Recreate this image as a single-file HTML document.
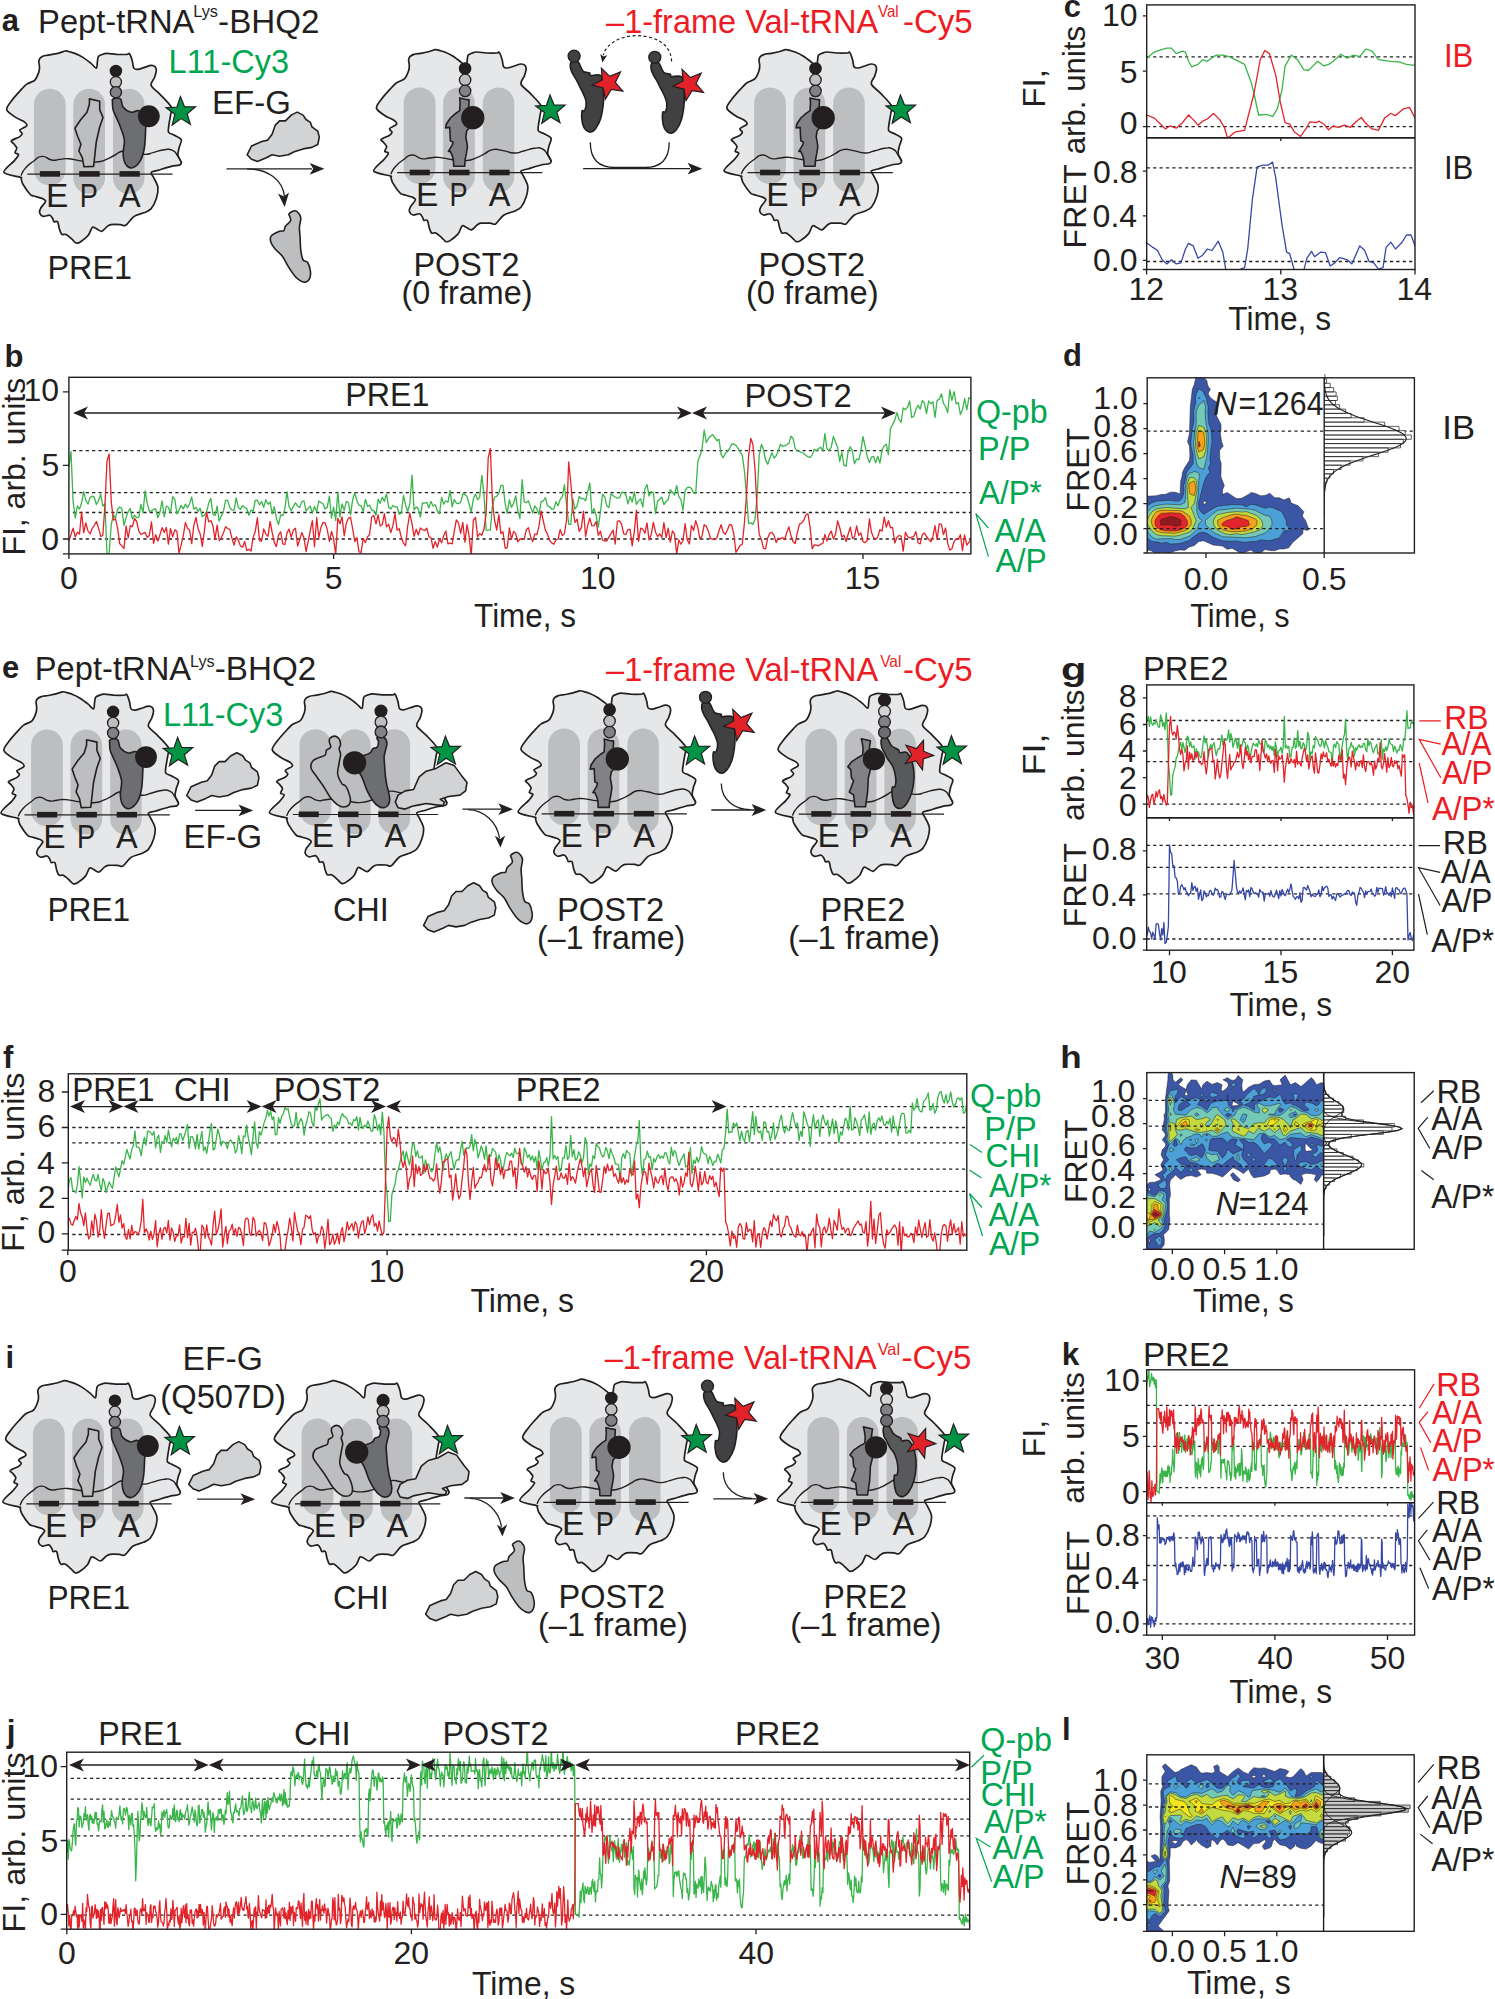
<!DOCTYPE html>
<html><head><meta charset="utf-8"><style>
html,body{margin:0;padding:0;background:#fff;}
svg{display:block;font-family:'Liberation Sans',sans-serif;font-size:32px;fill:#231f20;}
</style></head><body>
<svg width="1495" height="1999" viewBox="0 0 1495 1999">
<defs><clipPath id="cb"><rect x="68.9" y="377.3" width="902" height="176.6"/></clipPath>
<clipPath id="cc1"><rect x="1146.7" y="4.9" width="268.3" height="133"/></clipPath>
<clipPath id="cc2"><rect x="1146.7" y="137.9" width="268.3" height="131.6"/></clipPath>
<clipPath id="cd"><rect x="1147.2" y="377.8" width="177" height="175.2"/></clipPath>
<clipPath id="cdh"><rect x="1324.2" y="377.8" width="90.2" height="175.2"/></clipPath>
<clipPath id="ch"><rect x="1146.8" y="1072.6" width="176.8" height="176.7"/></clipPath>
<clipPath id="chh"><rect x="1323.6" y="1072.6" width="90.6" height="176.7"/></clipPath>
<clipPath id="cl"><rect x="1146.8" y="1754.8" width="176.8" height="176.5"/></clipPath>
<clipPath id="clh"><rect x="1323.6" y="1754.8" width="90.6" height="176.5"/></clipPath>
<clipPath id="cf"><rect x="68.3" y="1073.8" width="898.5" height="176.4"/></clipPath>
<clipPath id="cg1"><rect x="1146.7" y="684.9" width="267.2" height="133"/></clipPath>
<clipPath id="cg2"><rect x="1146.7" y="817.9" width="267.2" height="132.3"/></clipPath>
<clipPath id="cj"><rect x="66.7" y="1752.2" width="903" height="177"/></clipPath>
<clipPath id="ck1"><rect x="1146.7" y="1369.8" width="267.9" height="133"/></clipPath>
<clipPath id="ck2"><rect x="1146.7" y="1502.8" width="267.9" height="132.3"/></clipPath></defs>
<g transform="translate(0,0)"><path d="M6.7,109.6C6.1,107 10,103 12,100.2C14,97.4 17.9,93.2 20.1,90.8C22.3,88.4 24.6,85.7 26.8,84.1C29,82.5 33,81.9 34.8,80.1C36.6,78.3 38.1,74.1 38.8,72.1C39.5,70.1 39.5,68.4 39.5,66.8C39.5,65.2 38.7,62.7 38.8,61.4C38.9,60.1 39.3,58.9 40.1,58.1C40.9,57.3 42.5,56.3 44.1,55.8C45.7,55.3 48.6,55.1 50.8,54.7C53,54.3 56.7,53.7 58.9,53.1C61.1,52.5 64,51.2 65.6,51C67.2,50.8 68.2,51.4 69.6,51.8C71,52.2 72.9,52.6 74.9,53.4C76.9,54.2 80.5,55.9 82.9,57.4C85.3,58.9 89,61.8 91,63.4C93,65 95.3,68.4 96.3,68.1C97.3,67.8 97.1,63.1 97.4,61.4C97.7,59.7 97.7,57.7 98.3,56.7C98.9,55.7 100.4,55.2 101.7,54.7C103,54.2 104.8,53.4 107,53.4C109.2,53.4 113.4,54.2 116.4,54.4C119.4,54.5 125.2,54.5 127.1,54.4C129,54.2 128.6,53.2 129.1,53.4C129.6,53.5 129.9,54.2 130.4,55.4C130.9,56.6 131.9,59.5 132.4,61.4C132.9,63.3 133,66.9 133.8,68.1C134.6,69.3 136.2,69.5 137.8,69.4C139.4,69.3 142.5,68 144.5,67.4C146.5,66.8 149.6,65.5 151.2,65.4C152.8,65.3 154.4,66 155.2,66.8C156,67.6 156.4,69.2 156.3,70.8C156.2,72.4 155.3,75.3 154.5,77.5C153.7,79.7 150.3,82.9 151.2,85.5C152.1,88.1 157.5,91.6 160.5,94.8C163.5,98 169.7,103.9 171.2,106.9C172.7,109.9 171,112.1 170.6,114.9C170.2,117.7 169.1,123 168.8,125.6C168.5,128.2 167.8,130.9 168.6,132.3C169.4,133.7 172,133.9 173.9,135C175.8,136.1 180.5,137.9 181.3,139.7C182.1,141.5 179.8,144.7 179.3,147C178.8,149.3 177.6,152.7 177.9,155C178.2,157.3 181.1,160.9 181.3,162.4C181.5,163.9 180.8,164.5 179.3,165.1C177.8,165.7 174.4,165.6 171.2,166.4C168,167.2 160.9,169.5 157.9,170.4C154.9,171.3 151.8,171.3 151.2,172.4C150.6,173.5 152.8,175.6 153.8,177.8C154.8,180 157.5,184.2 157.9,187.2C158.3,190.2 157.5,194.7 156.5,197.9C155.5,201.1 153,206.4 151.2,208.6C149.4,210.8 147.1,211.4 144.5,212.6C141.9,213.8 136.6,214.7 133.8,216.6C131,218.5 127.8,224.1 125.8,225.3C123.8,226.5 122.6,224.7 120.4,224.6C118.2,224.5 113,224.3 111,224.6C109,224.9 108.4,225.6 107,226.6C105.6,227.6 103.3,231 101.7,231.3C100.1,231.6 97.7,229.2 96.3,228.6C94.9,228 93.5,226.3 92.3,227.3C91.1,228.3 90.1,233.1 88.3,235.3C86.5,237.5 82.1,240.8 80.3,242C78.5,243.2 77.2,243.4 76,243C74.8,242.6 73.5,240.5 72,239.2C70.5,237.9 67.5,235.1 66,234.4C64.5,233.7 62.8,235.2 61.8,234.4C60.8,233.6 60,230.9 59.4,229C58.8,227.1 58.4,222.9 57.6,221.8C56.8,220.7 54.7,222.2 54,221.8C53.3,221.4 53.4,219.8 52.8,218.8C52.2,217.8 51.2,215.6 49.8,215.2C48.4,214.8 44.7,216.8 43.2,216.4C41.7,216 40,214.1 39.6,212.8C39.2,211.5 39.9,209.7 40.8,208C41.7,206.3 45.4,202.8 45.6,201.4C45.8,200 43.8,199.2 42,198.4C40.2,197.6 35.4,196.6 33.6,196C31.8,195.4 31.6,196 30,194.2C28.4,192.4 24.2,186.4 22.8,184C21.4,181.6 21.4,179 21,178C20.6,177 23,178.3 20.4,177.4C17.8,176.5 4.8,174.8 3.9,172.3C3,169.8 12.2,163.3 14.4,160.6C16.6,157.9 18.5,155.8 18.6,154.6C18.7,153.4 15.3,153.8 15,152.8C14.7,151.8 17,149.3 16.8,148C16.6,146.7 14.6,144.9 13.8,143.8C13,142.7 10.5,141.9 11.4,140.8C12.3,139.7 18.2,137.7 19.8,136.6C21.4,135.5 22.2,134.6 22.2,133.6C22.2,132.6 19.1,131.2 19.8,130C20.5,128.8 26.2,126.9 26.8,125.6C27.4,124.3 25.7,122.8 24.1,121.6C22.5,120.4 18.6,119.4 16,117.6C13.4,115.8 7.3,112.2 6.7,109.6Z" fill="#e6e7e8"/>
<rect x="33.9" y="88.8" width="31.8" height="96.7" rx="15.9" fill="#bcbec0"/>
<rect x="73.3" y="88.8" width="31.7" height="105" rx="15.9" fill="#bcbec0"/>
<rect x="113" y="88.8" width="31.5" height="105" rx="15.8" fill="#bcbec0"/>
<path d="M6.7,109.6C6.1,107 10,103 12,100.2C14,97.4 17.9,93.2 20.1,90.8C22.3,88.4 24.6,85.7 26.8,84.1C29,82.5 33,81.9 34.8,80.1C36.6,78.3 38.1,74.1 38.8,72.1C39.5,70.1 39.5,68.4 39.5,66.8C39.5,65.2 38.7,62.7 38.8,61.4C38.9,60.1 39.3,58.9 40.1,58.1C40.9,57.3 42.5,56.3 44.1,55.8C45.7,55.3 48.6,55.1 50.8,54.7C53,54.3 56.7,53.7 58.9,53.1C61.1,52.5 64,51.2 65.6,51C67.2,50.8 68.2,51.4 69.6,51.8C71,52.2 72.9,52.6 74.9,53.4C76.9,54.2 80.5,55.9 82.9,57.4C85.3,58.9 89,61.8 91,63.4C93,65 95.3,68.4 96.3,68.1C97.3,67.8 97.1,63.1 97.4,61.4C97.7,59.7 97.7,57.7 98.3,56.7C98.9,55.7 100.4,55.2 101.7,54.7C103,54.2 104.8,53.4 107,53.4C109.2,53.4 113.4,54.2 116.4,54.4C119.4,54.5 125.2,54.5 127.1,54.4C129,54.2 128.6,53.2 129.1,53.4C129.6,53.5 129.9,54.2 130.4,55.4C130.9,56.6 131.9,59.5 132.4,61.4C132.9,63.3 133,66.9 133.8,68.1C134.6,69.3 136.2,69.5 137.8,69.4C139.4,69.3 142.5,68 144.5,67.4C146.5,66.8 149.6,65.5 151.2,65.4C152.8,65.3 154.4,66 155.2,66.8C156,67.6 156.4,69.2 156.3,70.8C156.2,72.4 155.3,75.3 154.5,77.5C153.7,79.7 150.3,82.9 151.2,85.5C152.1,88.1 157.5,91.6 160.5,94.8C163.5,98 169.7,103.9 171.2,106.9C172.7,109.9 171,112.1 170.6,114.9C170.2,117.7 169.1,123 168.8,125.6C168.5,128.2 167.8,130.9 168.6,132.3C169.4,133.7 172,133.9 173.9,135C175.8,136.1 180.5,137.9 181.3,139.7C182.1,141.5 179.8,144.7 179.3,147C178.8,149.3 177.6,152.7 177.9,155C178.2,157.3 181.1,160.9 181.3,162.4C181.5,163.9 180.8,164.5 179.3,165.1C177.8,165.7 174.4,165.6 171.2,166.4C168,167.2 160.9,169.5 157.9,170.4C154.9,171.3 151.8,171.3 151.2,172.4C150.6,173.5 152.8,175.6 153.8,177.8C154.8,180 157.5,184.2 157.9,187.2C158.3,190.2 157.5,194.7 156.5,197.9C155.5,201.1 153,206.4 151.2,208.6C149.4,210.8 147.1,211.4 144.5,212.6C141.9,213.8 136.6,214.7 133.8,216.6C131,218.5 127.8,224.1 125.8,225.3C123.8,226.5 122.6,224.7 120.4,224.6C118.2,224.5 113,224.3 111,224.6C109,224.9 108.4,225.6 107,226.6C105.6,227.6 103.3,231 101.7,231.3C100.1,231.6 97.7,229.2 96.3,228.6C94.9,228 93.5,226.3 92.3,227.3C91.1,228.3 90.1,233.1 88.3,235.3C86.5,237.5 82.1,240.8 80.3,242C78.5,243.2 77.2,243.4 76,243C74.8,242.6 73.5,240.5 72,239.2C70.5,237.9 67.5,235.1 66,234.4C64.5,233.7 62.8,235.2 61.8,234.4C60.8,233.6 60,230.9 59.4,229C58.8,227.1 58.4,222.9 57.6,221.8C56.8,220.7 54.7,222.2 54,221.8C53.3,221.4 53.4,219.8 52.8,218.8C52.2,217.8 51.2,215.6 49.8,215.2C48.4,214.8 44.7,216.8 43.2,216.4C41.7,216 40,214.1 39.6,212.8C39.2,211.5 39.9,209.7 40.8,208C41.7,206.3 45.4,202.8 45.6,201.4C45.8,200 43.8,199.2 42,198.4C40.2,197.6 35.4,196.6 33.6,196C31.8,195.4 31.6,196 30,194.2C28.4,192.4 24.2,186.4 22.8,184C21.4,181.6 21.4,179 21,178C20.6,177 23,178.3 20.4,177.4C17.8,176.5 4.8,174.8 3.9,172.3C3,169.8 12.2,163.3 14.4,160.6C16.6,157.9 18.5,155.8 18.6,154.6C18.7,153.4 15.3,153.8 15,152.8C14.7,151.8 17,149.3 16.8,148C16.6,146.7 14.6,144.9 13.8,143.8C13,142.7 10.5,141.9 11.4,140.8C12.3,139.7 18.2,137.7 19.8,136.6C21.4,135.5 22.2,134.6 22.2,133.6C22.2,132.6 19.1,131.2 19.8,130C20.5,128.8 26.2,126.9 26.8,125.6C27.4,124.3 25.7,122.8 24.1,121.6C22.5,120.4 18.6,119.4 16,117.6C13.4,115.8 7.3,112.2 6.7,109.6Z" fill="none" stroke="#231f20" stroke-width="1.7" stroke-linejoin="round"/>
<path d="M21,175.6C22.3,173.4 21.4,172.7 25.2,168.4C29,164.1 28.6,164.8 33.6,161.2C38.6,157.6 36.6,156.8 42,156.4C47.4,156 46.2,159.1 51.6,160C57,160.9 54.8,159.8 60,159.4C65.2,159 62.1,158.3 69,158.8C75.9,159.3 74.7,160.1 82.9,161.1C91.1,162.1 89.1,162.6 96.3,162C103.5,161.4 101.4,161.2 107,159.1C112.6,157 110.2,157.4 115,155C119.8,152.6 117.7,151.9 123.1,151C128.5,150.1 126.6,151 133,152C139.4,153 138.3,154.3 144.5,154.4C150.7,154.5 147.8,153.8 153.8,152.4C159.8,151 158.9,150.3 164.5,149.7C170.1,149.1 168.6,148.4 172.6,150.4C176.6,152.4 175.3,152.8 177.9,156.4C180.5,160 180.3,160.6 181.3,162.4" fill="none" stroke="#231f20" stroke-width="1.4"/>
<path d="M27.3,174.1H172.6" stroke="#231f20" stroke-width="1.2"/>
<rect x="39.9" y="171.1" width="20.1" height="5.6" fill="#231f20"/>
<rect x="79.2" y="171.1" width="20.5" height="5.6" fill="#231f20"/>
<rect x="119.5" y="171.1" width="20.3" height="5.6" fill="#231f20"/>
<text x="46.1" y="207.1" textLength="22.3" lengthAdjust="spacingAndGlyphs" font-size="32.5">E</text>
<text x="79.7" y="207.1" textLength="18.1" lengthAdjust="spacingAndGlyphs" font-size="32.5">P</text>
<text x="118.9" y="207.1" font-size="32.5">A</text><path d="M89.4,98.9 99.7,101.3 99.7,109.6 103,117.6 99.7,127 96.3,141.7 95,153.7 93.6,166.4 84,166.8 82.3,157.7 78.9,151 80.9,144.3 77.6,136.3 74.9,128.3 80.3,120.3 87,112.2 89.4,104.2Z" fill="#bcbec0" stroke="#231f20" stroke-width="1.6" stroke-linejoin="round"/>
<path d="M113,98.9C114.4,98.4 118.7,97.5 120.4,98.9C122.1,100.2 121.3,104.7 123.1,106.9C124.9,109.1 128.4,111.6 131.1,112.2C133.8,112.9 136.5,109.6 139.1,110.9C141.8,112.2 146,117.6 147.2,120.3C148.3,122.9 146.3,122.5 145.8,127C145.4,131.4 145.4,141.4 144.5,147C143.6,152.6 142.5,156.9 140.5,160.4C138.5,163.9 134.9,167.1 132.4,167.8C130,168.4 127.3,166.8 125.8,164.4C124.2,162.1 123.3,157.7 123.1,153.7C122.9,149.7 124.9,144.8 124.4,140.3C124,135.9 121.7,130.7 120.4,127C119.1,123.2 117.6,120.5 116.4,117.6C115.2,114.7 113.7,112.2 113,109.6C112.4,106.9 112.4,103.3 112.4,101.5C112.4,99.8 111.7,99.3 113,98.9Z" fill="#6d6e71" stroke="#231f20" stroke-width="1.6" stroke-linejoin="round"/>
<circle cx="115.9" cy="71" r="5.6" fill="#231f20" stroke="#231f20" stroke-width="1.3"/>
<circle cx="115.9" cy="82.1" r="5.6" fill="#bcbec0" stroke="#231f20" stroke-width="1.3"/>
<circle cx="115.9" cy="92.2" r="5.6" fill="#808285" stroke="#231f20" stroke-width="1.3"/>
<circle cx="148.8" cy="116.3" r="10.3" fill="#231f20" stroke="#231f20" stroke-width="1.3"/>
<path d="M180.4,96.6 184.5,106.7 195.5,106.8 187.2,113.9 190.4,124.3 181.1,118.6 172.2,125 174.8,114.3 166,107.8 176.9,107Z" fill="#009444" stroke="#231f20" stroke-width="1.2"/></g>
<g transform="translate(369.8,-1.4)"><path d="M6.7,109.6C6.1,107 10,103 12,100.2C14,97.4 17.9,93.2 20.1,90.8C22.3,88.4 24.6,85.7 26.8,84.1C29,82.5 33,81.9 34.8,80.1C36.6,78.3 38.1,74.1 38.8,72.1C39.5,70.1 39.5,68.4 39.5,66.8C39.5,65.2 38.7,62.7 38.8,61.4C38.9,60.1 39.3,58.9 40.1,58.1C40.9,57.3 42.5,56.3 44.1,55.8C45.7,55.3 48.6,55.1 50.8,54.7C53,54.3 56.7,53.7 58.9,53.1C61.1,52.5 64,51.2 65.6,51C67.2,50.8 68.2,51.4 69.6,51.8C71,52.2 72.9,52.6 74.9,53.4C76.9,54.2 80.5,55.9 82.9,57.4C85.3,58.9 89,61.8 91,63.4C93,65 95.3,68.4 96.3,68.1C97.3,67.8 97.1,63.1 97.4,61.4C97.7,59.7 97.7,57.7 98.3,56.7C98.9,55.7 100.4,55.2 101.7,54.7C103,54.2 104.8,53.4 107,53.4C109.2,53.4 113.4,54.2 116.4,54.4C119.4,54.5 125.2,54.5 127.1,54.4C129,54.2 128.6,53.2 129.1,53.4C129.6,53.5 129.9,54.2 130.4,55.4C130.9,56.6 131.9,59.5 132.4,61.4C132.9,63.3 133,66.9 133.8,68.1C134.6,69.3 136.2,69.5 137.8,69.4C139.4,69.3 142.5,68 144.5,67.4C146.5,66.8 149.6,65.5 151.2,65.4C152.8,65.3 154.4,66 155.2,66.8C156,67.6 156.4,69.2 156.3,70.8C156.2,72.4 155.3,75.3 154.5,77.5C153.7,79.7 150.3,82.9 151.2,85.5C152.1,88.1 157.5,91.6 160.5,94.8C163.5,98 169.7,103.9 171.2,106.9C172.7,109.9 171,112.1 170.6,114.9C170.2,117.7 169.1,123 168.8,125.6C168.5,128.2 167.8,130.9 168.6,132.3C169.4,133.7 172,133.9 173.9,135C175.8,136.1 180.5,137.9 181.3,139.7C182.1,141.5 179.8,144.7 179.3,147C178.8,149.3 177.6,152.7 177.9,155C178.2,157.3 181.1,160.9 181.3,162.4C181.5,163.9 180.8,164.5 179.3,165.1C177.8,165.7 174.4,165.6 171.2,166.4C168,167.2 160.9,169.5 157.9,170.4C154.9,171.3 151.8,171.3 151.2,172.4C150.6,173.5 152.8,175.6 153.8,177.8C154.8,180 157.5,184.2 157.9,187.2C158.3,190.2 157.5,194.7 156.5,197.9C155.5,201.1 153,206.4 151.2,208.6C149.4,210.8 147.1,211.4 144.5,212.6C141.9,213.8 136.6,214.7 133.8,216.6C131,218.5 127.8,224.1 125.8,225.3C123.8,226.5 122.6,224.7 120.4,224.6C118.2,224.5 113,224.3 111,224.6C109,224.9 108.4,225.6 107,226.6C105.6,227.6 103.3,231 101.7,231.3C100.1,231.6 97.7,229.2 96.3,228.6C94.9,228 93.5,226.3 92.3,227.3C91.1,228.3 90.1,233.1 88.3,235.3C86.5,237.5 82.1,240.8 80.3,242C78.5,243.2 77.2,243.4 76,243C74.8,242.6 73.5,240.5 72,239.2C70.5,237.9 67.5,235.1 66,234.4C64.5,233.7 62.8,235.2 61.8,234.4C60.8,233.6 60,230.9 59.4,229C58.8,227.1 58.4,222.9 57.6,221.8C56.8,220.7 54.7,222.2 54,221.8C53.3,221.4 53.4,219.8 52.8,218.8C52.2,217.8 51.2,215.6 49.8,215.2C48.4,214.8 44.7,216.8 43.2,216.4C41.7,216 40,214.1 39.6,212.8C39.2,211.5 39.9,209.7 40.8,208C41.7,206.3 45.4,202.8 45.6,201.4C45.8,200 43.8,199.2 42,198.4C40.2,197.6 35.4,196.6 33.6,196C31.8,195.4 31.6,196 30,194.2C28.4,192.4 24.2,186.4 22.8,184C21.4,181.6 21.4,179 21,178C20.6,177 23,178.3 20.4,177.4C17.8,176.5 4.8,174.8 3.9,172.3C3,169.8 12.2,163.3 14.4,160.6C16.6,157.9 18.5,155.8 18.6,154.6C18.7,153.4 15.3,153.8 15,152.8C14.7,151.8 17,149.3 16.8,148C16.6,146.7 14.6,144.9 13.8,143.8C13,142.7 10.5,141.9 11.4,140.8C12.3,139.7 18.2,137.7 19.8,136.6C21.4,135.5 22.2,134.6 22.2,133.6C22.2,132.6 19.1,131.2 19.8,130C20.5,128.8 26.2,126.9 26.8,125.6C27.4,124.3 25.7,122.8 24.1,121.6C22.5,120.4 18.6,119.4 16,117.6C13.4,115.8 7.3,112.2 6.7,109.6Z" fill="#e6e7e8"/>
<rect x="33.9" y="88.8" width="31.8" height="96.7" rx="15.9" fill="#bcbec0"/>
<rect x="73.3" y="88.8" width="31.7" height="105" rx="15.9" fill="#bcbec0"/>
<rect x="113" y="88.8" width="31.5" height="105" rx="15.8" fill="#bcbec0"/>
<path d="M6.7,109.6C6.1,107 10,103 12,100.2C14,97.4 17.9,93.2 20.1,90.8C22.3,88.4 24.6,85.7 26.8,84.1C29,82.5 33,81.9 34.8,80.1C36.6,78.3 38.1,74.1 38.8,72.1C39.5,70.1 39.5,68.4 39.5,66.8C39.5,65.2 38.7,62.7 38.8,61.4C38.9,60.1 39.3,58.9 40.1,58.1C40.9,57.3 42.5,56.3 44.1,55.8C45.7,55.3 48.6,55.1 50.8,54.7C53,54.3 56.7,53.7 58.9,53.1C61.1,52.5 64,51.2 65.6,51C67.2,50.8 68.2,51.4 69.6,51.8C71,52.2 72.9,52.6 74.9,53.4C76.9,54.2 80.5,55.9 82.9,57.4C85.3,58.9 89,61.8 91,63.4C93,65 95.3,68.4 96.3,68.1C97.3,67.8 97.1,63.1 97.4,61.4C97.7,59.7 97.7,57.7 98.3,56.7C98.9,55.7 100.4,55.2 101.7,54.7C103,54.2 104.8,53.4 107,53.4C109.2,53.4 113.4,54.2 116.4,54.4C119.4,54.5 125.2,54.5 127.1,54.4C129,54.2 128.6,53.2 129.1,53.4C129.6,53.5 129.9,54.2 130.4,55.4C130.9,56.6 131.9,59.5 132.4,61.4C132.9,63.3 133,66.9 133.8,68.1C134.6,69.3 136.2,69.5 137.8,69.4C139.4,69.3 142.5,68 144.5,67.4C146.5,66.8 149.6,65.5 151.2,65.4C152.8,65.3 154.4,66 155.2,66.8C156,67.6 156.4,69.2 156.3,70.8C156.2,72.4 155.3,75.3 154.5,77.5C153.7,79.7 150.3,82.9 151.2,85.5C152.1,88.1 157.5,91.6 160.5,94.8C163.5,98 169.7,103.9 171.2,106.9C172.7,109.9 171,112.1 170.6,114.9C170.2,117.7 169.1,123 168.8,125.6C168.5,128.2 167.8,130.9 168.6,132.3C169.4,133.7 172,133.9 173.9,135C175.8,136.1 180.5,137.9 181.3,139.7C182.1,141.5 179.8,144.7 179.3,147C178.8,149.3 177.6,152.7 177.9,155C178.2,157.3 181.1,160.9 181.3,162.4C181.5,163.9 180.8,164.5 179.3,165.1C177.8,165.7 174.4,165.6 171.2,166.4C168,167.2 160.9,169.5 157.9,170.4C154.9,171.3 151.8,171.3 151.2,172.4C150.6,173.5 152.8,175.6 153.8,177.8C154.8,180 157.5,184.2 157.9,187.2C158.3,190.2 157.5,194.7 156.5,197.9C155.5,201.1 153,206.4 151.2,208.6C149.4,210.8 147.1,211.4 144.5,212.6C141.9,213.8 136.6,214.7 133.8,216.6C131,218.5 127.8,224.1 125.8,225.3C123.8,226.5 122.6,224.7 120.4,224.6C118.2,224.5 113,224.3 111,224.6C109,224.9 108.4,225.6 107,226.6C105.6,227.6 103.3,231 101.7,231.3C100.1,231.6 97.7,229.2 96.3,228.6C94.9,228 93.5,226.3 92.3,227.3C91.1,228.3 90.1,233.1 88.3,235.3C86.5,237.5 82.1,240.8 80.3,242C78.5,243.2 77.2,243.4 76,243C74.8,242.6 73.5,240.5 72,239.2C70.5,237.9 67.5,235.1 66,234.4C64.5,233.7 62.8,235.2 61.8,234.4C60.8,233.6 60,230.9 59.4,229C58.8,227.1 58.4,222.9 57.6,221.8C56.8,220.7 54.7,222.2 54,221.8C53.3,221.4 53.4,219.8 52.8,218.8C52.2,217.8 51.2,215.6 49.8,215.2C48.4,214.8 44.7,216.8 43.2,216.4C41.7,216 40,214.1 39.6,212.8C39.2,211.5 39.9,209.7 40.8,208C41.7,206.3 45.4,202.8 45.6,201.4C45.8,200 43.8,199.2 42,198.4C40.2,197.6 35.4,196.6 33.6,196C31.8,195.4 31.6,196 30,194.2C28.4,192.4 24.2,186.4 22.8,184C21.4,181.6 21.4,179 21,178C20.6,177 23,178.3 20.4,177.4C17.8,176.5 4.8,174.8 3.9,172.3C3,169.8 12.2,163.3 14.4,160.6C16.6,157.9 18.5,155.8 18.6,154.6C18.7,153.4 15.3,153.8 15,152.8C14.7,151.8 17,149.3 16.8,148C16.6,146.7 14.6,144.9 13.8,143.8C13,142.7 10.5,141.9 11.4,140.8C12.3,139.7 18.2,137.7 19.8,136.6C21.4,135.5 22.2,134.6 22.2,133.6C22.2,132.6 19.1,131.2 19.8,130C20.5,128.8 26.2,126.9 26.8,125.6C27.4,124.3 25.7,122.8 24.1,121.6C22.5,120.4 18.6,119.4 16,117.6C13.4,115.8 7.3,112.2 6.7,109.6Z" fill="none" stroke="#231f20" stroke-width="1.7" stroke-linejoin="round"/>
<path d="M21,175.6C22.3,173.4 21.4,172.7 25.2,168.4C29,164.1 28.6,164.8 33.6,161.2C38.6,157.6 36.6,156.8 42,156.4C47.4,156 46.2,159.1 51.6,160C57,160.9 54.8,159.8 60,159.4C65.2,159 62.1,158.3 69,158.8C75.9,159.3 74.7,160.1 82.9,161.1C91.1,162.1 89.1,162.6 96.3,162C103.5,161.4 101.4,161.2 107,159.1C112.6,157 110.2,157.4 115,155C119.8,152.6 117.7,151.9 123.1,151C128.5,150.1 126.6,151 133,152C139.4,153 138.3,154.3 144.5,154.4C150.7,154.5 147.8,153.8 153.8,152.4C159.8,151 158.9,150.3 164.5,149.7C170.1,149.1 168.6,148.4 172.6,150.4C176.6,152.4 175.3,152.8 177.9,156.4C180.5,160 180.3,160.6 181.3,162.4" fill="none" stroke="#231f20" stroke-width="1.4"/>
<path d="M27.3,174.1H172.6" stroke="#231f20" stroke-width="1.2"/>
<rect x="39.9" y="171.1" width="20.1" height="5.6" fill="#231f20"/>
<rect x="79.2" y="171.1" width="20.5" height="5.6" fill="#231f20"/>
<rect x="119.5" y="171.1" width="20.3" height="5.6" fill="#231f20"/>
<text x="46.1" y="207.1" textLength="22.3" lengthAdjust="spacingAndGlyphs" font-size="32.5">E</text>
<text x="79.7" y="207.1" textLength="18.1" lengthAdjust="spacingAndGlyphs" font-size="32.5">P</text>
<text x="118.9" y="207.1" font-size="32.5">A</text><path d="M89.9,99.3 95.3,100.7 99.3,101.3 99,108 100.6,114.7 99.3,129.4 97,132.1 96,138.1 97.3,145.5 97.6,148.2 96.6,154.8 95.3,161.5 94.9,167.6 83.9,167.6 83.6,161.5 82.6,157.5 80.6,152.8 78.6,152.8 80.6,149.5 82.6,146.1 83.2,143.5 80.6,142.1 79.9,128.8 75.9,129.4 76.6,125.4 80.6,119.4 85.9,114.7 89.9,112 90.3,104Z" fill="#808285" stroke="#231f20" stroke-width="1.6" stroke-linejoin="round"/>
<circle cx="95.3" cy="69.9" r="5.7" fill="#231f20" stroke="#231f20" stroke-width="1.3"/>
<circle cx="95.3" cy="81.3" r="5.7" fill="#bcbec0" stroke="#231f20" stroke-width="1.3"/>
<circle cx="95.3" cy="92.3" r="5.7" fill="#808285" stroke="#231f20" stroke-width="1.3"/>
<circle cx="103" cy="119.1" r="11" fill="#231f20" stroke="#231f20" stroke-width="1.3"/>
<path d="M180.2,96.3 184.3,106.4 195.3,106.5 187,113.6 190.2,124 180.9,118.3 172,124.7 174.6,114 165.8,107.5 176.7,106.7Z" fill="#009444" stroke="#231f20" stroke-width="1.2"/></g>
<g transform="translate(720.2,-1.4)"><path d="M6.7,109.6C6.1,107 10,103 12,100.2C14,97.4 17.9,93.2 20.1,90.8C22.3,88.4 24.6,85.7 26.8,84.1C29,82.5 33,81.9 34.8,80.1C36.6,78.3 38.1,74.1 38.8,72.1C39.5,70.1 39.5,68.4 39.5,66.8C39.5,65.2 38.7,62.7 38.8,61.4C38.9,60.1 39.3,58.9 40.1,58.1C40.9,57.3 42.5,56.3 44.1,55.8C45.7,55.3 48.6,55.1 50.8,54.7C53,54.3 56.7,53.7 58.9,53.1C61.1,52.5 64,51.2 65.6,51C67.2,50.8 68.2,51.4 69.6,51.8C71,52.2 72.9,52.6 74.9,53.4C76.9,54.2 80.5,55.9 82.9,57.4C85.3,58.9 89,61.8 91,63.4C93,65 95.3,68.4 96.3,68.1C97.3,67.8 97.1,63.1 97.4,61.4C97.7,59.7 97.7,57.7 98.3,56.7C98.9,55.7 100.4,55.2 101.7,54.7C103,54.2 104.8,53.4 107,53.4C109.2,53.4 113.4,54.2 116.4,54.4C119.4,54.5 125.2,54.5 127.1,54.4C129,54.2 128.6,53.2 129.1,53.4C129.6,53.5 129.9,54.2 130.4,55.4C130.9,56.6 131.9,59.5 132.4,61.4C132.9,63.3 133,66.9 133.8,68.1C134.6,69.3 136.2,69.5 137.8,69.4C139.4,69.3 142.5,68 144.5,67.4C146.5,66.8 149.6,65.5 151.2,65.4C152.8,65.3 154.4,66 155.2,66.8C156,67.6 156.4,69.2 156.3,70.8C156.2,72.4 155.3,75.3 154.5,77.5C153.7,79.7 150.3,82.9 151.2,85.5C152.1,88.1 157.5,91.6 160.5,94.8C163.5,98 169.7,103.9 171.2,106.9C172.7,109.9 171,112.1 170.6,114.9C170.2,117.7 169.1,123 168.8,125.6C168.5,128.2 167.8,130.9 168.6,132.3C169.4,133.7 172,133.9 173.9,135C175.8,136.1 180.5,137.9 181.3,139.7C182.1,141.5 179.8,144.7 179.3,147C178.8,149.3 177.6,152.7 177.9,155C178.2,157.3 181.1,160.9 181.3,162.4C181.5,163.9 180.8,164.5 179.3,165.1C177.8,165.7 174.4,165.6 171.2,166.4C168,167.2 160.9,169.5 157.9,170.4C154.9,171.3 151.8,171.3 151.2,172.4C150.6,173.5 152.8,175.6 153.8,177.8C154.8,180 157.5,184.2 157.9,187.2C158.3,190.2 157.5,194.7 156.5,197.9C155.5,201.1 153,206.4 151.2,208.6C149.4,210.8 147.1,211.4 144.5,212.6C141.9,213.8 136.6,214.7 133.8,216.6C131,218.5 127.8,224.1 125.8,225.3C123.8,226.5 122.6,224.7 120.4,224.6C118.2,224.5 113,224.3 111,224.6C109,224.9 108.4,225.6 107,226.6C105.6,227.6 103.3,231 101.7,231.3C100.1,231.6 97.7,229.2 96.3,228.6C94.9,228 93.5,226.3 92.3,227.3C91.1,228.3 90.1,233.1 88.3,235.3C86.5,237.5 82.1,240.8 80.3,242C78.5,243.2 77.2,243.4 76,243C74.8,242.6 73.5,240.5 72,239.2C70.5,237.9 67.5,235.1 66,234.4C64.5,233.7 62.8,235.2 61.8,234.4C60.8,233.6 60,230.9 59.4,229C58.8,227.1 58.4,222.9 57.6,221.8C56.8,220.7 54.7,222.2 54,221.8C53.3,221.4 53.4,219.8 52.8,218.8C52.2,217.8 51.2,215.6 49.8,215.2C48.4,214.8 44.7,216.8 43.2,216.4C41.7,216 40,214.1 39.6,212.8C39.2,211.5 39.9,209.7 40.8,208C41.7,206.3 45.4,202.8 45.6,201.4C45.8,200 43.8,199.2 42,198.4C40.2,197.6 35.4,196.6 33.6,196C31.8,195.4 31.6,196 30,194.2C28.4,192.4 24.2,186.4 22.8,184C21.4,181.6 21.4,179 21,178C20.6,177 23,178.3 20.4,177.4C17.8,176.5 4.8,174.8 3.9,172.3C3,169.8 12.2,163.3 14.4,160.6C16.6,157.9 18.5,155.8 18.6,154.6C18.7,153.4 15.3,153.8 15,152.8C14.7,151.8 17,149.3 16.8,148C16.6,146.7 14.6,144.9 13.8,143.8C13,142.7 10.5,141.9 11.4,140.8C12.3,139.7 18.2,137.7 19.8,136.6C21.4,135.5 22.2,134.6 22.2,133.6C22.2,132.6 19.1,131.2 19.8,130C20.5,128.8 26.2,126.9 26.8,125.6C27.4,124.3 25.7,122.8 24.1,121.6C22.5,120.4 18.6,119.4 16,117.6C13.4,115.8 7.3,112.2 6.7,109.6Z" fill="#e6e7e8"/>
<rect x="33.9" y="88.8" width="31.8" height="96.7" rx="15.9" fill="#bcbec0"/>
<rect x="73.3" y="88.8" width="31.7" height="105" rx="15.9" fill="#bcbec0"/>
<rect x="113" y="88.8" width="31.5" height="105" rx="15.8" fill="#bcbec0"/>
<path d="M6.7,109.6C6.1,107 10,103 12,100.2C14,97.4 17.9,93.2 20.1,90.8C22.3,88.4 24.6,85.7 26.8,84.1C29,82.5 33,81.9 34.8,80.1C36.6,78.3 38.1,74.1 38.8,72.1C39.5,70.1 39.5,68.4 39.5,66.8C39.5,65.2 38.7,62.7 38.8,61.4C38.9,60.1 39.3,58.9 40.1,58.1C40.9,57.3 42.5,56.3 44.1,55.8C45.7,55.3 48.6,55.1 50.8,54.7C53,54.3 56.7,53.7 58.9,53.1C61.1,52.5 64,51.2 65.6,51C67.2,50.8 68.2,51.4 69.6,51.8C71,52.2 72.9,52.6 74.9,53.4C76.9,54.2 80.5,55.9 82.9,57.4C85.3,58.9 89,61.8 91,63.4C93,65 95.3,68.4 96.3,68.1C97.3,67.8 97.1,63.1 97.4,61.4C97.7,59.7 97.7,57.7 98.3,56.7C98.9,55.7 100.4,55.2 101.7,54.7C103,54.2 104.8,53.4 107,53.4C109.2,53.4 113.4,54.2 116.4,54.4C119.4,54.5 125.2,54.5 127.1,54.4C129,54.2 128.6,53.2 129.1,53.4C129.6,53.5 129.9,54.2 130.4,55.4C130.9,56.6 131.9,59.5 132.4,61.4C132.9,63.3 133,66.9 133.8,68.1C134.6,69.3 136.2,69.5 137.8,69.4C139.4,69.3 142.5,68 144.5,67.4C146.5,66.8 149.6,65.5 151.2,65.4C152.8,65.3 154.4,66 155.2,66.8C156,67.6 156.4,69.2 156.3,70.8C156.2,72.4 155.3,75.3 154.5,77.5C153.7,79.7 150.3,82.9 151.2,85.5C152.1,88.1 157.5,91.6 160.5,94.8C163.5,98 169.7,103.9 171.2,106.9C172.7,109.9 171,112.1 170.6,114.9C170.2,117.7 169.1,123 168.8,125.6C168.5,128.2 167.8,130.9 168.6,132.3C169.4,133.7 172,133.9 173.9,135C175.8,136.1 180.5,137.9 181.3,139.7C182.1,141.5 179.8,144.7 179.3,147C178.8,149.3 177.6,152.7 177.9,155C178.2,157.3 181.1,160.9 181.3,162.4C181.5,163.9 180.8,164.5 179.3,165.1C177.8,165.7 174.4,165.6 171.2,166.4C168,167.2 160.9,169.5 157.9,170.4C154.9,171.3 151.8,171.3 151.2,172.4C150.6,173.5 152.8,175.6 153.8,177.8C154.8,180 157.5,184.2 157.9,187.2C158.3,190.2 157.5,194.7 156.5,197.9C155.5,201.1 153,206.4 151.2,208.6C149.4,210.8 147.1,211.4 144.5,212.6C141.9,213.8 136.6,214.7 133.8,216.6C131,218.5 127.8,224.1 125.8,225.3C123.8,226.5 122.6,224.7 120.4,224.6C118.2,224.5 113,224.3 111,224.6C109,224.9 108.4,225.6 107,226.6C105.6,227.6 103.3,231 101.7,231.3C100.1,231.6 97.7,229.2 96.3,228.6C94.9,228 93.5,226.3 92.3,227.3C91.1,228.3 90.1,233.1 88.3,235.3C86.5,237.5 82.1,240.8 80.3,242C78.5,243.2 77.2,243.4 76,243C74.8,242.6 73.5,240.5 72,239.2C70.5,237.9 67.5,235.1 66,234.4C64.5,233.7 62.8,235.2 61.8,234.4C60.8,233.6 60,230.9 59.4,229C58.8,227.1 58.4,222.9 57.6,221.8C56.8,220.7 54.7,222.2 54,221.8C53.3,221.4 53.4,219.8 52.8,218.8C52.2,217.8 51.2,215.6 49.8,215.2C48.4,214.8 44.7,216.8 43.2,216.4C41.7,216 40,214.1 39.6,212.8C39.2,211.5 39.9,209.7 40.8,208C41.7,206.3 45.4,202.8 45.6,201.4C45.8,200 43.8,199.2 42,198.4C40.2,197.6 35.4,196.6 33.6,196C31.8,195.4 31.6,196 30,194.2C28.4,192.4 24.2,186.4 22.8,184C21.4,181.6 21.4,179 21,178C20.6,177 23,178.3 20.4,177.4C17.8,176.5 4.8,174.8 3.9,172.3C3,169.8 12.2,163.3 14.4,160.6C16.6,157.9 18.5,155.8 18.6,154.6C18.7,153.4 15.3,153.8 15,152.8C14.7,151.8 17,149.3 16.8,148C16.6,146.7 14.6,144.9 13.8,143.8C13,142.7 10.5,141.9 11.4,140.8C12.3,139.7 18.2,137.7 19.8,136.6C21.4,135.5 22.2,134.6 22.2,133.6C22.2,132.6 19.1,131.2 19.8,130C20.5,128.8 26.2,126.9 26.8,125.6C27.4,124.3 25.7,122.8 24.1,121.6C22.5,120.4 18.6,119.4 16,117.6C13.4,115.8 7.3,112.2 6.7,109.6Z" fill="none" stroke="#231f20" stroke-width="1.7" stroke-linejoin="round"/>
<path d="M21,175.6C22.3,173.4 21.4,172.7 25.2,168.4C29,164.1 28.6,164.8 33.6,161.2C38.6,157.6 36.6,156.8 42,156.4C47.4,156 46.2,159.1 51.6,160C57,160.9 54.8,159.8 60,159.4C65.2,159 62.1,158.3 69,158.8C75.9,159.3 74.7,160.1 82.9,161.1C91.1,162.1 89.1,162.6 96.3,162C103.5,161.4 101.4,161.2 107,159.1C112.6,157 110.2,157.4 115,155C119.8,152.6 117.7,151.9 123.1,151C128.5,150.1 126.6,151 133,152C139.4,153 138.3,154.3 144.5,154.4C150.7,154.5 147.8,153.8 153.8,152.4C159.8,151 158.9,150.3 164.5,149.7C170.1,149.1 168.6,148.4 172.6,150.4C176.6,152.4 175.3,152.8 177.9,156.4C180.5,160 180.3,160.6 181.3,162.4" fill="none" stroke="#231f20" stroke-width="1.4"/>
<path d="M27.3,174.1H172.6" stroke="#231f20" stroke-width="1.2"/>
<rect x="39.9" y="171.1" width="20.1" height="5.6" fill="#231f20"/>
<rect x="79.2" y="171.1" width="20.5" height="5.6" fill="#231f20"/>
<rect x="119.5" y="171.1" width="20.3" height="5.6" fill="#231f20"/>
<text x="46.1" y="207.1" textLength="22.3" lengthAdjust="spacingAndGlyphs" font-size="32.5">E</text>
<text x="79.7" y="207.1" textLength="18.1" lengthAdjust="spacingAndGlyphs" font-size="32.5">P</text>
<text x="118.9" y="207.1" font-size="32.5">A</text><path d="M89.9,99.3 95.3,100.7 99.3,101.3 99,108 100.6,114.7 99.3,129.4 97,132.1 96,138.1 97.3,145.5 97.6,148.2 96.6,154.8 95.3,161.5 94.9,167.6 83.9,167.6 83.6,161.5 82.6,157.5 80.6,152.8 78.6,152.8 80.6,149.5 82.6,146.1 83.2,143.5 80.6,142.1 79.9,128.8 75.9,129.4 76.6,125.4 80.6,119.4 85.9,114.7 89.9,112 90.3,104Z" fill="#808285" stroke="#231f20" stroke-width="1.6" stroke-linejoin="round"/>
<circle cx="95.3" cy="69.9" r="5.7" fill="#231f20" stroke="#231f20" stroke-width="1.3"/>
<circle cx="95.3" cy="81.3" r="5.7" fill="#bcbec0" stroke="#231f20" stroke-width="1.3"/>
<circle cx="95.3" cy="92.3" r="5.7" fill="#808285" stroke="#231f20" stroke-width="1.3"/>
<circle cx="103" cy="119.1" r="11" fill="#231f20" stroke="#231f20" stroke-width="1.3"/>
<path d="M180.2,96.3 184.3,106.4 195.3,106.5 187,113.6 190.2,124 180.9,118.3 172,124.7 174.6,114 165.8,107.5 176.7,106.7Z" fill="#009444" stroke="#231f20" stroke-width="1.2"/></g>
<path d="M247.1,154.8 251.5,146 261.8,141.5 267.7,140.1 272.1,134.2 275.1,125.4 279.5,120.9 285.4,120.9 291.3,115.1 297.2,112.1 303.1,115.1 306,119.5 310.4,122.4 311.9,126.8 317.8,131.2 319.3,137.1 317.8,144.5 311.9,147.4 303.1,148.9 294.2,151.8 288.3,154.8 279.5,156.3 272.1,154.8 266.3,157.7 257.4,161.4 251.5,159.2Z" fill="#d1d3d4" stroke="#231f20" stroke-width="1.6" stroke-linejoin="round"/>
<path d="M226.5,168.8L312,168.8" stroke="#231f20" stroke-width="1.3"/>
<path d="M324.4,168.8 309.7,174.7 313.2,168.8 309.7,162.9Z" fill="#231f20"/>
<path d="M247.1,168.8C268,169 283,180 284.5,197" fill="none" stroke="#231f20" stroke-width="1.3"/>
<path d="M284.7,207 278,193.5 283.8,196.5 289,192.6Z" fill="#231f20"/>
<path d="M289.1,213.7C290,212.7 293.3,210.6 295,210.7C296.7,210.8 298.4,213 299.4,214.3C300.4,215.7 300.8,216.6 300.8,218.8C300.8,221 299.5,224.5 299.4,227.6C299.3,230.7 299.9,233.4 300.1,237.2C300.3,241 300.3,246.6 300.8,250.4C301.3,254.2 302,258 303.1,260C304.2,262 306.3,260.4 307.5,262.2C308.7,264 310,268.3 310.4,271C310.8,273.7 310.4,276.5 309.7,278.4C309,280.2 307.4,281.6 306,282.1C304.6,282.6 303.3,282.2 301.6,281.4C299.9,280.5 297.9,279.5 295.7,277C293.5,274.5 290.5,270.1 288.3,266.6C286.1,263.2 284.6,259.2 282.4,256.3C280.2,253.4 277.1,251.4 275.1,249C273.2,246.6 271.3,243.8 270.7,241.6C270.1,239.4 269.9,237.4 271.4,235.7C272.9,234 277.4,232.2 279.5,231.3C281.6,230.5 282.9,231.4 283.9,230.6C284.9,229.8 284.3,227.8 285.4,226.2C286.5,224.6 289.8,222.6 290.5,221C291.2,219.4 290,217.8 289.8,216.6C289.6,215.4 288.2,214.7 289.1,213.7Z" fill="#bcbec0" stroke="#231f20" stroke-width="1.6" stroke-linejoin="round"/>
<path d="M571.1,62.1C572.3,61 576,60.5 577.7,61.5C579.4,62.5 580.3,66.5 581.3,68.2C582.3,69.9 582.3,71 583.7,71.8C585.1,72.6 588.6,72.4 589.7,73C590.8,73.6 588.5,75 590.3,75.4C592.1,75.8 598.5,74 600.6,75.4C602.7,76.8 602.5,80.2 603,83.8C603.5,87.4 603.6,93.2 603.6,97.1C603.6,100.9 603.5,103.1 603,106.7C602.5,110.3 601.8,115.1 600.6,118.7C599.4,122.3 597.4,126.1 595.8,128.4C594.1,130.6 592.5,131.7 590.9,132C589.3,132.3 587.5,131.6 586.1,130.2C584.7,128.8 583.2,126.6 582.5,123.5C581.8,120.4 581.5,113.7 581.9,111.5C582.3,109.3 584.2,111.9 584.9,110.3C585.6,108.7 586.3,104.5 586.1,101.9C585.9,99.3 584.7,97.1 583.7,94.6C582.7,92.2 581.3,89.8 580.1,87.4C578.9,85 577.7,82.4 576.5,80.2C575.3,78 573.9,76.2 572.9,74.2C571.9,72.2 570.8,70.2 570.5,68.2C570.2,66.2 569.9,63.2 571.1,62.1Z" fill="#414042" stroke="#231f20" stroke-width="1.6" stroke-linejoin="round"/>
<circle cx="574.1" cy="56.1" r="6" fill="#414042" stroke="#231f20" stroke-width="1.3"/>
<path d="M601.4,68.2 609.7,76.4 620.5,71.9 615.3,82.4 622.8,91.2 611.3,89.5 605.3,99.4 603.3,87.9 592,85.2 602.3,79.8Z" fill="#e12228" stroke="#231f20" stroke-width="1.2"/>
<path d="M651.8,63.3C653,62.2 656.7,61.7 658.4,62.7C660.1,63.7 661,67.7 662,69.4C663,71.1 663,72.2 664.4,73C665.8,73.8 669.3,73.6 670.4,74.2C671.5,74.8 669.2,76.2 671,76.6C672.8,77 679.2,75.2 681.3,76.6C683.4,78 683.2,81.4 683.7,85C684.2,88.6 684.3,94.4 684.3,98.3C684.3,102.1 684.2,104.3 683.7,107.9C683.2,111.5 682.5,116.3 681.3,119.9C680.1,123.5 678.1,127.3 676.5,129.6C674.8,131.8 673.2,132.9 671.6,133.2C670,133.5 668.2,132.8 666.8,131.4C665.4,130 663.9,127.8 663.2,124.7C662.5,121.6 662.2,114.9 662.6,112.7C663,110.5 664.9,113.1 665.6,111.5C666.3,109.9 667,105.7 666.8,103.1C666.6,100.5 665.4,98.3 664.4,95.8C663.4,93.4 662,91 660.8,88.6C659.6,86.2 658.4,83.6 657.2,81.4C656,79.2 654.6,77.4 653.6,75.4C652.6,73.4 651.5,71.4 651.2,69.4C650.9,67.4 650.6,64.4 651.8,63.3Z" fill="#414042" stroke="#231f20" stroke-width="1.6" stroke-linejoin="round"/>
<circle cx="654.8" cy="57.3" r="6" fill="#414042" stroke="#231f20" stroke-width="1.3"/>
<path d="M682.1,69.4 690.4,77.6 701.2,73.1 696,83.6 703.5,92.4 692,90.7 686,100.6 684,89.1 672.7,86.4 683,81Z" fill="#e12228" stroke="#231f20" stroke-width="1.2"/>
<path d="M671.6,61.5C671,42 652,35.5 636,35.7C620,36 606,44 603.3,55" fill="none" stroke="#231f20" stroke-width="1.2" stroke-dasharray="3 2.5"/>
<path d="M602.4,62.5 600.3,54 603.4,56.6 607.2,55.2Z" fill="#231f20"/>
<path d="M590.3,142.2C590.3,160 600,167.5 615,167.5L645,167.5C660,167.5 669.2,160 669.2,142.2" fill="none" stroke="#231f20" stroke-width="1.3"/>
<path d="M583.1,168.7L690,168.7" stroke="#231f20" stroke-width="1.3"/>
<path d="M702.3,168.7 687.6,174.6 691.1,168.7 687.6,162.8Z" fill="#231f20"/>
<text x="1.7" y="30.9" font-weight="bold" font-size="31">a</text>
<text x="38.1" y="32.7" textLength="156.3" lengthAdjust="spacingAndGlyphs" font-size="32.5">Pept-tRNA</text>
<text x="193.3" y="16.6" textLength="24.7" lengthAdjust="spacingAndGlyphs" font-size="16.5">Lys</text>
<text x="218.1" y="32.7" textLength="101.4" lengthAdjust="spacingAndGlyphs" font-size="32.5">-BHQ2</text>
<text x="168.6" y="73.1" fill="#00a651" font-size="32.5">L11-Cy3</text>
<text x="212.1" y="113.6" textLength="78.7" lengthAdjust="spacingAndGlyphs" font-size="32.5">EF-G</text>
<text x="47.5" y="279.3" textLength="84.4" lengthAdjust="spacingAndGlyphs" font-size="32.5">PRE1</text>
<text x="413.5" y="275.8" textLength="106" lengthAdjust="spacingAndGlyphs" font-size="32.5">POST2</text>
<text x="401.4" y="304.2" textLength="131.1" lengthAdjust="spacingAndGlyphs" font-size="32.5">(0 frame)</text>
<text x="758.5" y="275.8" font-size="32.5">POST2</text>
<text x="745.9" y="304.2" textLength="132.8" lengthAdjust="spacingAndGlyphs" font-size="32.5">(0 frame)</text>
<text x="606.1" y="32.6" fill="#ed1c24" font-size="32.5">–1-frame Val-tRNA</text>
<text x="877.9" y="16.6" textLength="20.8" lengthAdjust="spacingAndGlyphs" fill="#ed1c24" font-size="16.5">Val</text>
<text x="902.9" y="32.6" textLength="69.8" lengthAdjust="spacingAndGlyphs" fill="#ed1c24" font-size="32.5">-Cy5</text>
<path d="M72.9,450.7H970.9" stroke="#231f20" stroke-width="1.3" stroke-dasharray="3.2 3.2"/>
<path d="M72.9,492.6H970.9" stroke="#231f20" stroke-width="1.3" stroke-dasharray="3.2 3.2"/>
<path d="M72.9,512.5H970.9" stroke="#231f20" stroke-width="1.3" stroke-dasharray="3.2 3.2"/>
<path d="M72.9,539H970.9" stroke="#231f20" stroke-width="1.3" stroke-dasharray="3.2 3.2"/>
<path d="M68.9,466.9 71,451.5 73.1,501.5 75.3,517.9 77.4,506 79.5,509.1 81.6,502.8 83.7,491.7 85.8,500.3 88,504 90.1,497.5 92.2,496.1 94.3,497.1 96.4,504.5 98.5,500.7 100.7,494.3 102.8,506 104.9,503.8 107,553.7 109.1,553.7 111.3,524.3 113.4,514.6 115.5,518.4 117.6,509.2 119.7,506.9 121.8,508.5 124,525.3 126.1,517.6 128.2,511.6 130.3,508.5 132.4,518.8 134.5,515.3 136.7,517.6 138.8,517.3 140.9,504.4 143,512.9 145.1,490.8 147.3,503.6 149.4,511.4 151.5,510.9 153.6,509.3 155.7,509 157.8,517.7 160,511.8 162.1,500.8 164.2,517 166.3,506 168.4,507.2 170.5,512.9 172.7,496.6 174.8,499.4 176.9,513.9 179,510.1 181.1,505.3 183.3,508.9 185.4,504.1 187.5,507.6 189.6,503.7 191.7,497 193.8,509.2 196,507.3 198.1,511.2 200.2,508.5 202.3,516.6 204.4,515.2 206.5,512 208.7,503.3 210.8,498.6 212.9,513.9 215,515.6 217.1,506.2 219.2,521.1 221.4,515.7 223.5,511.2 225.6,500.3 227.7,500.4 229.8,507.4 232,510.1 234.1,510.2 236.2,497.9 238.3,507.1 240.4,509.4 242.5,505.6 244.7,507.6 246.8,508.7 248.9,515.4 251,510.1 253.1,511.2 255.2,500.5 257.4,500.2 259.5,504.8 261.6,501.5 263.7,507.3 265.8,499.7 268,504.3 270.1,501.8 272.2,513.9 274.3,506.7 276.4,518.2 278.5,524.6 280.7,514.9 282.8,515.6 284.9,508.4 287,491.6 289.1,506.8 291.2,510.7 293.4,506.3 295.5,502.8 297.6,506.1 299.7,507.4 301.8,501.6 304,500.8 306.1,511.2 308.2,508.2 310.3,506.3 312.4,513.2 314.5,506.5 316.7,511.8 318.8,501 320.9,502.6 323,503.8 325.1,508.9 327.2,507.4 329.4,496.1 331.5,518.1 333.6,507.2 335.7,520.5 337.8,491.8 340,516.9 342.1,503.9 344.2,510.4 346.3,501.4 348.4,502.7 350.5,514.6 352.7,499.5 354.8,492.9 356.9,500.9 359,505.2 361.1,505.8 363.2,511.6 365.4,499.3 367.5,506.3 369.6,505.3 371.7,510.1 373.8,510.5 376,515.2 378.1,499.3 380.2,503.4 382.3,497.1 384.4,501.4 386.5,493.9 388.7,507.4 390.8,508.9 392.9,505.5 395,506.9 397.1,506.8 399.2,514.2 401.4,512.8 403.5,495.3 405.6,505.2 407.7,511.2 409.8,503.7 412,475.1 414.1,509.9 416.2,506.9 418.3,508.8 420.4,517.2 422.5,502.9 424.7,503.1 426.8,502.4 428.9,507.9 431,501.4 433.1,506 435.2,504.8 437.4,511 439.5,513.9 441.6,497.3 443.7,504.1 445.8,501 448,502.1 450.1,490.4 452.2,506.8 454.3,499.5 456.4,503.3 458.5,503.6 460.7,502.4 462.8,494 464.9,494.5 467,496.6 469.1,503.9 471.2,512 473.4,498.8 475.5,494 477.6,499.9 479.7,497.3 481.8,475.3 483.9,493.3 486.1,530.2 488.2,530.2 490.3,530.2 492.4,506.2 494.5,497 496.7,496.3 498.8,493.4 500.9,485.4 503,485.3 505.1,503.4 507.2,513.4 509.4,499.6 511.5,507.4 513.6,503.2 515.7,495.8 517.8,510.3 519.9,518.5 522.1,479.7 524.2,501.8 526.3,502.6 528.4,500.9 530.5,506.5 532.7,512.9 534.8,505.8 536.9,508.8 539,514.5 541.1,501.6 543.2,501 545.4,497.5 547.5,505.9 549.6,506.5 551.7,509 553.8,509.1 555.9,501.7 558.1,505.8 560.2,499.3 562.3,497.1 564.4,484.7 566.5,503.9 568.7,524.3 570.8,524.3 572.9,499.1 575,509.2 577.1,505.9 579.2,496.4 581.4,498.7 583.5,498.4 585.6,500.8 587.7,491.6 589.8,483 591.9,513.2 594.1,508.6 596.2,515.8 598.3,527.1 600.4,512.2 602.5,494.2 604.7,496.7 606.8,505.9 608.9,507.5 611,493.8 613.1,495.6 615.2,497 617.4,498.2 619.5,497.9 621.6,492.5 623.7,492.3 625.8,494.5 627.9,503.9 630.1,496.5 632.2,502.1 634.3,491.8 636.4,504.4 638.5,501 640.7,498.9 642.8,507.2 644.9,489 647,484.5 649.1,496.1 651.2,491.6 653.4,492.7 655.5,513.7 657.6,501.3 659.7,499 661.8,497.2 663.9,504.5 666.1,501.5 668.2,499.8 670.3,489.7 672.4,492.1 674.5,495.2 676.7,485.7 678.8,496.7 680.9,499.3 683,510.1 685.1,490.5 687.2,487.7 689.4,487.1 691.5,488.5 693.6,492.9 695.7,493.6 697.8,461.5 699.9,456.1 702.1,448.3 704.2,430 706.3,442.5 708.4,438.6 710.5,436.3 712.7,434.6 714.8,437.6 716.9,440.6 719,439.4 721.1,454.3 723.2,457.8 725.4,453.2 727.5,451.4 729.6,448.5 731.7,444.2 733.8,444 735.9,445.4 738.1,448.3 740.2,451.8 742.3,455.3 744.4,470.6 746.5,495 748.6,523.4 750.8,522.9 752.9,524.4 755,519.4 757.1,496.9 759.2,455.7 761.4,444.3 763.5,449.5 765.6,460.1 767.7,464.2 769.8,458.3 771.9,452.8 774.1,458.1 776.2,455.8 778.3,450.7 780.4,444.2 782.5,446.3 784.6,445.9 786.8,444.8 788.9,443.4 791,436.2 793.1,438.7 795.2,448.4 797.4,450.9 799.5,451.7 801.6,452.5 803.7,453.2 805.8,455.3 807.9,456.7 810.1,457.5 812.2,454.9 814.3,449.2 816.4,450.7 818.5,448.5 820.6,447.2 822.8,451 824.9,433.6 827,449 829.1,450.5 831.2,447.1 833.4,436.5 835.5,441.8 837.6,447.4 839.7,461.5 841.8,452.3 843.9,465.2 846.1,466.2 848.2,451 850.3,446.8 852.4,451.4 854.5,463.8 856.6,459.1 858.8,459.6 860.9,450.9 863,436.7 865.1,446 867.2,456.2 869.4,462.6 871.5,457.2 873.6,456.3 875.7,462.8 877.8,456.4 879.9,463.1 882.1,449.9 884.2,445.7 886.3,444.2 888.4,454.6 890.5,428.6 892.6,424.5 894.8,420.1 896.9,412.6 899,419.3 901.1,422.5 903.2,408 905.4,409.6 907.5,407.2 909.6,400.9 911.7,417.4 913.8,416.5 915.9,409.4 918.1,405.3 920.2,409.1 922.3,400.5 924.4,403.1 926.5,413.6 928.6,400.9 930.8,403.7 932.9,401.9 935,417.5 937.1,400.4 939.2,399.4 941.4,393.8 943.5,403.7 945.6,406.4 947.7,412.9 949.8,389.8 951.9,400.3 954.1,391.7 956.2,403.9 958.3,402.5 960.4,414.5 962.5,409.7 964.6,398.5 966.8,409.9 968.9,397.7 971,398.4" fill="none" stroke="#39b54a" stroke-width="1.3" stroke-linejoin="round" clip-path="url(#cb)"/>
<path d="M68.9,541 71,534.6 73.1,528.1 75.3,537 77.4,532.2 79.5,534.1 81.6,512.1 83.7,532.8 85.8,522.8 88,531 90.1,534 92.2,528.3 94.3,525.3 96.4,521.5 98.5,527.6 100.7,536.4 102.8,535.5 104.9,506.6 107,461.1 109.1,453.9 111.3,502.1 113.4,520.2 115.5,518.9 117.6,528.1 119.7,543.6 121.8,545.9 124,548.6 126.1,526 128.2,538 130.3,525.6 132.4,526.8 134.5,518.5 136.7,521.5 138.8,530.9 140.9,534.5 143,533.4 145.1,532.4 147.3,537.5 149.4,535.2 151.5,521.8 153.6,543.4 155.7,534.7 157.8,541.1 160,534.6 162.1,527.6 164.2,532.4 166.3,527.4 168.4,544.2 170.5,528.4 172.7,536.9 174.8,529.9 176.9,531.3 179,553 181.1,545.4 183.3,535.6 185.4,522.4 187.5,528.2 189.6,530.2 191.7,543.7 193.8,525.7 196,517.5 198.1,528.7 200.2,534 202.3,546.4 204.4,530.8 206.5,512.1 208.7,521.8 210.8,520.5 212.9,525.6 215,539 217.1,525.1 219.2,540.7 221.4,537.5 223.5,532.8 225.6,526.7 227.7,528.5 229.8,529.3 232,538.4 234.1,545.2 236.2,536.8 238.3,540.2 240.4,545.9 242.5,547.2 244.7,541.6 246.8,550.5 248.9,549.2 251,551.1 253.1,537.6 255.2,531.8 257.4,517.7 259.5,540.6 261.6,541.1 263.7,529 265.8,534.1 268,536.4 270.1,521.4 272.2,532.7 274.3,542.4 276.4,546.6 278.5,535.1 280.7,531.9 282.8,543.8 284.9,544.5 287,532.9 289.1,529.1 291.2,537.4 293.4,530.1 295.5,528.3 297.6,546 299.7,539.9 301.8,532.5 304,537.9 306.1,551.6 308.2,541.4 310.3,530.3 312.4,520.6 314.5,546.8 316.7,517.5 318.8,537.7 320.9,527.6 323,522.4 325.1,522.8 327.2,529.4 329.4,541.5 331.5,531.3 333.6,538.6 335.7,554.8 337.8,518.3 340,523.7 342.1,516.8 344.2,535.8 346.3,523.1 348.4,518.3 350.5,517.2 352.7,529 354.8,541.7 356.9,537.6 359,551.9 361.1,552.3 363.2,538.5 365.4,542.5 367.5,537 369.6,534.4 371.7,517 373.8,515.4 376,523.8 378.1,515 380.2,526 382.3,524.5 384.4,513.7 386.5,526.9 388.7,524.1 390.8,532.6 392.9,525.7 395,513.7 397.1,530.1 399.2,528.7 401.4,537.9 403.5,543.2 405.6,545.8 407.7,526 409.8,513.2 412,523.9 414.1,536.4 416.2,529.2 418.3,535 420.4,528 422.5,529.8 424.7,530.5 426.8,528.2 428.9,536.6 431,537.8 433.1,548.3 435.2,541.6 437.4,547.2 439.5,539 441.6,542.8 443.7,535.7 445.8,530.9 448,543.9 450.1,543.2 452.2,543.9 454.3,531.1 456.4,519.8 458.5,523.1 460.7,533.3 462.8,522.4 464.9,542.1 467,524.7 469.1,536.2 471.2,556 473.4,520 475.5,517.5 477.6,536.9 479.7,533.5 481.8,535.2 483.9,529.3 486.1,514.1 488.2,458.1 490.3,448.4 492.4,500.8 494.5,519.8 496.7,530.1 498.8,514.6 500.9,533.6 503,531.8 505.1,548 507.2,547.8 509.4,527.8 511.5,539.3 513.6,531.4 515.7,533.6 517.8,541.8 519.9,538.9 522.1,539.3 524.2,539.3 526.3,529.7 528.4,527.6 530.5,536.4 532.7,541.6 534.8,534 536.9,534.7 539,526.2 541.1,511 543.2,520.5 545.4,530.1 547.5,534.1 549.6,540.5 551.7,542.9 553.8,544.3 555.9,540 558.1,539 560.2,529.7 562.3,535.6 564.4,533.5 566.5,520.5 568.7,462 570.8,482.2 572.9,509.2 575,522.5 577.1,519.1 579.2,531.3 581.4,527.6 583.5,511.1 585.6,536.5 587.7,525.5 589.8,518.2 591.9,525.9 594.1,525.6 596.2,521.5 598.3,535.3 600.4,531.1 602.5,539.9 604.7,541 606.8,540.9 608.9,537.1 611,533.7 613.1,530.2 615.2,544 617.4,521.2 619.5,520.9 621.6,524.2 623.7,533.8 625.8,534.5 627.9,529.7 630.1,529.4 632.2,545.8 634.3,531.6 636.4,510.1 638.5,541.3 640.7,528.2 642.8,529.2 644.9,533.3 647,522.8 649.1,539.9 651.2,534.4 653.4,522.4 655.5,532 657.6,536.6 659.7,533.8 661.8,537.4 663.9,522.6 666.1,537.7 668.2,528.1 670.3,542.1 672.4,531 674.5,533.8 676.7,554.3 678.8,540 680.9,544.2 683,540.5 685.1,523.6 687.2,539.7 689.4,544 691.5,525.5 693.6,530.4 695.7,520.6 697.8,527.3 699.9,538.9 702.1,535.9 704.2,524.7 706.3,526.3 708.4,531.4 710.5,538.5 712.7,539.4 714.8,539.6 716.9,538 719,530.8 721.1,524.7 723.2,532.2 725.4,534.3 727.5,529.8 729.6,524.4 731.7,525.2 733.8,534 735.9,552.3 738.1,548.9 740.2,545.4 742.3,544.2 744.4,523.1 746.5,494.9 748.6,456.2 750.8,438.3 752.9,444.5 755,469.2 757.1,509.5 759.2,534.2 761.4,539.7 763.5,548.4 765.6,548.8 767.7,537.9 769.8,533.1 771.9,532.3 774.1,535.6 776.2,542.5 778.3,538.3 780.4,538.9 782.5,537.5 784.6,539.5 786.8,532.5 788.9,526.9 791,535.8 793.1,541.8 795.2,543.6 797.4,532.3 799.5,524.1 801.6,523.1 803.7,520.4 805.8,515 807.9,513.7 810.1,527.4 812.2,548.8 814.3,544.9 816.4,545.2 818.5,545.8 820.6,544.2 822.8,543.6 824.9,534.4 827,541.1 829.1,535 831.2,531 833.4,538.8 835.5,534.3 837.6,521 839.7,527.5 841.8,537 843.9,535.3 846.1,541.5 848.2,534 850.3,527.1 852.4,538.3 854.5,536.8 856.6,526 858.8,535.4 860.9,532.8 863,541.6 865.1,542.6 867.2,540.5 869.4,519 871.5,532.6 873.6,537.6 875.7,539.3 877.8,536.8 879.9,529.7 882.1,531.1 884.2,517.1 886.3,527.2 888.4,520.7 890.5,527.8 892.6,527.3 894.8,543 896.9,537.6 899,535.5 901.1,536.2 903.2,551.2 905.4,532.2 907.5,536.4 909.6,538 911.7,537.1 913.8,536.6 915.9,531.5 918.1,543 920.2,543.8 922.3,534.6 924.4,532.9 926.5,536.5 928.6,539.1 930.8,541.9 932.9,536.7 935,525.6 937.1,539.5 939.2,523.8 941.4,524.3 943.5,534.5 945.6,528 947.7,543.4 949.8,550.1 951.9,548.7 954.1,541.5 956.2,538.6 958.3,539.3 960.4,534.7 962.5,550.6 964.6,535 966.8,545.2 968.9,542.3 971,539.6" fill="none" stroke="#e2232a" stroke-width="1.3" stroke-linejoin="round" clip-path="url(#cb)"/>
<rect x="68.9" y="377.3" width="902" height="176.6" fill="none" stroke="#231f20" stroke-width="1.4"/>
<path d="M68.9,391.8h-6 M68.9,465.4h-6 M68.9,539h-6 M68.9,553.9h-6" stroke="#231f20" stroke-width="1.3"/>
<path d="M68.9,553.9v5 M333.6,553.9v5 M598.3,553.9v5 M863,553.9v5" stroke="#231f20" stroke-width="1.3"/>
<path d="M81,413L684,413" stroke="#231f20" stroke-width="1.3"/>
<path d="M73,413 88,406.5 84,413 88,419.5Z" fill="#231f20"/>
<path d="M692,413 677,419.5 681,413 677,406.5Z" fill="#231f20"/>
<path d="M700,413L888,413" stroke="#231f20" stroke-width="1.3"/>
<path d="M692,413 707,406.5 703,413 707,419.5Z" fill="#231f20"/>
<path d="M896,413 881,419.5 885,413 881,406.5Z" fill="#231f20"/>
<text x="345.2" y="406.1" textLength="84.2" lengthAdjust="spacingAndGlyphs" font-size="32.5">PRE1</text>
<text x="744.5" y="406.7" textLength="107.3" lengthAdjust="spacingAndGlyphs" font-size="32.5">POST2</text>
<text x="4.5" y="367.3" font-weight="bold" font-size="31">b</text>
<text x="23.5" y="400.8">10</text>
<text x="41.4" y="476.2">5</text>
<text x="41.3" y="549.7">0</text>
<text x="60" y="589.4">0</text>
<text x="324.7" y="589.4">5</text>
<text x="579.9" y="589.4">10</text>
<text x="844.7" y="589.4">15</text>
<text x="474.1" y="627" textLength="101.9" lengthAdjust="spacingAndGlyphs" font-size="32.5">Time, s</text>
<text transform="translate(24.7,553) rotate(-90)" x="-2.6">FI, arb. units</text>
<text x="975.9" y="423.4" textLength="71.7" lengthAdjust="spacingAndGlyphs" fill="#00a651" font-size="32.5">Q-pb</text>
<text x="978" y="460.3" fill="#00a651" font-size="32.5">P/P</text>
<text x="979" y="503.7" textLength="62.8" lengthAdjust="spacingAndGlyphs" fill="#00a651" font-size="32.5">A/P*</text>
<text x="994.4" y="542.3" textLength="51.3" lengthAdjust="spacingAndGlyphs" fill="#00a651" font-size="32.5">A/A</text>
<text x="995.5" y="572" textLength="51.2" lengthAdjust="spacingAndGlyphs" fill="#00a651" font-size="32.5">A/P</text>
<path d="M988.4,528L975.8,513.6L988.4,556.6" stroke="#00a651" stroke-width="1.2" fill="none"/>
<path d="M1146.7,56.8H1415" stroke="#231f20" stroke-width="1.3" stroke-dasharray="3.2 3.2"/>
<path d="M1146.7,126.7H1415" stroke="#231f20" stroke-width="1.3" stroke-dasharray="3.2 3.2"/>
<path d="M1146.7,167.8H1415" stroke="#231f20" stroke-width="1.3" stroke-dasharray="3.2 3.2"/>
<path d="M1146.7,261.5H1415" stroke="#231f20" stroke-width="1.3" stroke-dasharray="3.2 3.2"/>
<path d="M1146.6,58.2 1154.4,52.1 1160.6,49.9 1166.9,48.1 1171.5,48.1 1176.2,53.6 1182.4,51.1 1185.5,52.1 1188.6,61.3 1191.7,66.8 1198,64.4 1202.6,59.7 1207.3,61.3 1213.5,56.7 1216.6,55.1 1222.8,55.1 1229.1,56.7 1235.3,59.7 1244.6,64.4 1250.8,81.2 1254,93.5 1258.6,115 1266.4,114.4 1272.6,116.6 1277.3,108.9 1281.9,90.5 1285.1,65.9 1291.3,55.1 1297.5,59.7 1303.7,69.6 1308.4,70.5 1313,65.9 1317.7,61.3 1323.9,65.9 1328.6,64.4 1333.3,61.3 1341,54.2 1347.3,58.2 1353.5,55.1 1359.7,56.7 1365.9,49 1372.1,51.1 1378.4,59.7 1390.8,61.3 1400.1,62.2 1406.4,64.4 1415.1,65.3" fill="none" stroke="#39b54a" stroke-width="1.3" stroke-linejoin="round" clip-path="url(#cc1)"/>
<path d="M1146.6,115 1154.4,118.1 1160.6,124.2 1165.3,128.9 1170,125.8 1176.2,128.2 1182.4,122.7 1188.6,115 1193.3,119.6 1198,125.2 1202.6,121.2 1207.3,119 1213.5,113.5 1219.7,119.6 1224.4,127.3 1227.5,138.1 1235.3,131.9 1244.6,130.4 1247.7,118.1 1254,93.5 1260.2,59.7 1264.8,50.5 1269.5,53.6 1275.7,75.1 1280.4,102.7 1285.1,122.7 1289.7,124.2 1294.4,131.9 1300.6,136.5 1306.8,127.3 1309.9,121.8 1316.2,122.7 1319.3,121.2 1323.9,124.2 1328.6,129.8 1333.3,125.8 1337.9,127.3 1344.2,125.2 1350.4,127.3 1356.6,121.2 1361.3,117.5 1365.9,123.6 1372.1,128.9 1378.4,130.4 1384.6,118.1 1390.8,113.5 1395.5,115.6 1403.3,108.9 1409.5,107.4 1415.1,118.1" fill="none" stroke="#e2232a" stroke-width="1.3" stroke-linejoin="round" clip-path="url(#cc1)"/>
<path d="M1146.6,242.8 1152.9,247.4 1157.5,250.5 1162.2,259.8 1166.9,263.9 1171.5,259.8 1176.2,263.9 1180.9,262.9 1185.5,249 1188.6,243.4 1193.3,245.9 1198,258.3 1202.6,255.2 1207.3,249 1212,250.5 1218.2,241.2 1222.8,252.1 1226,270.7 1236.8,270.7 1244.6,267.6 1247.7,249 1252.4,199.3 1257.1,166.8 1263.3,165.2 1267.9,165.2 1272.6,162.1 1275.7,177.6 1281.9,224.1 1286.6,252.1 1289.7,253.6 1294.4,270.7 1303.7,270.7 1306.8,258.3 1311.5,251.4 1314.6,256.7 1320.8,252.1 1325.5,252.7 1330.2,266 1334.8,262.9 1339.5,257.7 1342.6,258.3 1347.3,259.8 1351.9,263.9 1359.7,245.9 1364.4,249.9 1369,261.4 1373.7,262.9 1378.4,269.1 1383,267.6 1386.1,247.4 1390.8,242.1 1395.5,249 1401.7,242.8 1406.4,235 1411,235 1415.1,245.9" fill="none" stroke="#3747a6" stroke-width="1.3" stroke-linejoin="round" clip-path="url(#cc2)"/>
<rect x="1146.7" y="4.9" width="268.3" height="264.6" fill="none" stroke="#231f20" stroke-width="1.4"/>
<path d="M1146.7,137.9H1415" stroke="#231f20" stroke-width="1.6"/>
<path d="M1146.7,15.8h-3.8 M1146.7,71.2h-3.8 M1146.7,126.7h-3.8 M1146.7,171.1h-3.8 M1146.7,215.8h-3.8 M1146.7,260.4h-3.8 M1146.7,269.5h-3.8" stroke="#231f20" stroke-width="1.3"/>
<path d="M1146.6,269.5v5 M1280.8,269.5v5 M1415,269.5v5" stroke="#231f20" stroke-width="1.3"/>
<path d="M1280.8,137.9v3" stroke="#231f20" stroke-width="1.3"/>
<text x="1101.9" y="26.3">10</text>
<text x="1119.8" y="83">5</text>
<text x="1119.7" y="134.1">0</text>
<text x="1093.1" y="183.1">0.8</text>
<text x="1092.6" y="226.8">0.4</text>
<text x="1093" y="270.6">0.0</text>
<text x="1128.4" y="300">12</text>
<text x="1262.5" y="300">13</text>
<text x="1396.5" y="300">14</text>
<text x="1228.3" y="329.5" textLength="102.8" lengthAdjust="spacingAndGlyphs" font-size="32.5">Time, s</text>
<text transform="translate(1044.8,105) rotate(-90)" x="-2.7" textLength="38.7" lengthAdjust="spacingAndGlyphs">FI,</text>
<text transform="translate(1084.5,153) rotate(-90)" x="-1.3" textLength="128.4" lengthAdjust="spacingAndGlyphs">arb. units</text>
<text transform="translate(1086,246) rotate(-90)" x="-2.7" textLength="84.4" lengthAdjust="spacingAndGlyphs">FRET</text>
<text x="1063.8" y="16.5" font-weight="bold" font-size="31">c</text>
<text x="1443.9" y="66.9" textLength="29.4" lengthAdjust="spacingAndGlyphs" fill="#ed1c24" font-size="32.5">IB</text>
<text x="1443.9" y="178.8" textLength="29.4" lengthAdjust="spacingAndGlyphs" font-size="32.5">IB</text>
<g transform="translate(-2.8,640.8)"><path d="M6.7,109.6C6.1,107 10,103 12,100.2C14,97.4 17.9,93.2 20.1,90.8C22.3,88.4 24.6,85.7 26.8,84.1C29,82.5 33,81.9 34.8,80.1C36.6,78.3 38.1,74.1 38.8,72.1C39.5,70.1 39.5,68.4 39.5,66.8C39.5,65.2 38.7,62.7 38.8,61.4C38.9,60.1 39.3,58.9 40.1,58.1C40.9,57.3 42.5,56.3 44.1,55.8C45.7,55.3 48.6,55.1 50.8,54.7C53,54.3 56.7,53.7 58.9,53.1C61.1,52.5 64,51.2 65.6,51C67.2,50.8 68.2,51.4 69.6,51.8C71,52.2 72.9,52.6 74.9,53.4C76.9,54.2 80.5,55.9 82.9,57.4C85.3,58.9 89,61.8 91,63.4C93,65 95.3,68.4 96.3,68.1C97.3,67.8 97.1,63.1 97.4,61.4C97.7,59.7 97.7,57.7 98.3,56.7C98.9,55.7 100.4,55.2 101.7,54.7C103,54.2 104.8,53.4 107,53.4C109.2,53.4 113.4,54.2 116.4,54.4C119.4,54.5 125.2,54.5 127.1,54.4C129,54.2 128.6,53.2 129.1,53.4C129.6,53.5 129.9,54.2 130.4,55.4C130.9,56.6 131.9,59.5 132.4,61.4C132.9,63.3 133,66.9 133.8,68.1C134.6,69.3 136.2,69.5 137.8,69.4C139.4,69.3 142.5,68 144.5,67.4C146.5,66.8 149.6,65.5 151.2,65.4C152.8,65.3 154.4,66 155.2,66.8C156,67.6 156.4,69.2 156.3,70.8C156.2,72.4 155.3,75.3 154.5,77.5C153.7,79.7 150.3,82.9 151.2,85.5C152.1,88.1 157.5,91.6 160.5,94.8C163.5,98 169.7,103.9 171.2,106.9C172.7,109.9 171,112.1 170.6,114.9C170.2,117.7 169.1,123 168.8,125.6C168.5,128.2 167.8,130.9 168.6,132.3C169.4,133.7 172,133.9 173.9,135C175.8,136.1 180.5,137.9 181.3,139.7C182.1,141.5 179.8,144.7 179.3,147C178.8,149.3 177.6,152.7 177.9,155C178.2,157.3 181.1,160.9 181.3,162.4C181.5,163.9 180.8,164.5 179.3,165.1C177.8,165.7 174.4,165.6 171.2,166.4C168,167.2 160.9,169.5 157.9,170.4C154.9,171.3 151.8,171.3 151.2,172.4C150.6,173.5 152.8,175.6 153.8,177.8C154.8,180 157.5,184.2 157.9,187.2C158.3,190.2 157.5,194.7 156.5,197.9C155.5,201.1 153,206.4 151.2,208.6C149.4,210.8 147.1,211.4 144.5,212.6C141.9,213.8 136.6,214.7 133.8,216.6C131,218.5 127.8,224.1 125.8,225.3C123.8,226.5 122.6,224.7 120.4,224.6C118.2,224.5 113,224.3 111,224.6C109,224.9 108.4,225.6 107,226.6C105.6,227.6 103.3,231 101.7,231.3C100.1,231.6 97.7,229.2 96.3,228.6C94.9,228 93.5,226.3 92.3,227.3C91.1,228.3 90.1,233.1 88.3,235.3C86.5,237.5 82.1,240.8 80.3,242C78.5,243.2 77.2,243.4 76,243C74.8,242.6 73.5,240.5 72,239.2C70.5,237.9 67.5,235.1 66,234.4C64.5,233.7 62.8,235.2 61.8,234.4C60.8,233.6 60,230.9 59.4,229C58.8,227.1 58.4,222.9 57.6,221.8C56.8,220.7 54.7,222.2 54,221.8C53.3,221.4 53.4,219.8 52.8,218.8C52.2,217.8 51.2,215.6 49.8,215.2C48.4,214.8 44.7,216.8 43.2,216.4C41.7,216 40,214.1 39.6,212.8C39.2,211.5 39.9,209.7 40.8,208C41.7,206.3 45.4,202.8 45.6,201.4C45.8,200 43.8,199.2 42,198.4C40.2,197.6 35.4,196.6 33.6,196C31.8,195.4 31.6,196 30,194.2C28.4,192.4 24.2,186.4 22.8,184C21.4,181.6 21.4,179 21,178C20.6,177 23,178.3 20.4,177.4C17.8,176.5 4.8,174.8 3.9,172.3C3,169.8 12.2,163.3 14.4,160.6C16.6,157.9 18.5,155.8 18.6,154.6C18.7,153.4 15.3,153.8 15,152.8C14.7,151.8 17,149.3 16.8,148C16.6,146.7 14.6,144.9 13.8,143.8C13,142.7 10.5,141.9 11.4,140.8C12.3,139.7 18.2,137.7 19.8,136.6C21.4,135.5 22.2,134.6 22.2,133.6C22.2,132.6 19.1,131.2 19.8,130C20.5,128.8 26.2,126.9 26.8,125.6C27.4,124.3 25.7,122.8 24.1,121.6C22.5,120.4 18.6,119.4 16,117.6C13.4,115.8 7.3,112.2 6.7,109.6Z" fill="#e6e7e8"/>
<rect x="33.9" y="88.8" width="31.8" height="96.7" rx="15.9" fill="#bcbec0"/>
<rect x="73.3" y="88.8" width="31.7" height="105" rx="15.9" fill="#bcbec0"/>
<rect x="113" y="88.8" width="31.5" height="105" rx="15.8" fill="#bcbec0"/>
<path d="M6.7,109.6C6.1,107 10,103 12,100.2C14,97.4 17.9,93.2 20.1,90.8C22.3,88.4 24.6,85.7 26.8,84.1C29,82.5 33,81.9 34.8,80.1C36.6,78.3 38.1,74.1 38.8,72.1C39.5,70.1 39.5,68.4 39.5,66.8C39.5,65.2 38.7,62.7 38.8,61.4C38.9,60.1 39.3,58.9 40.1,58.1C40.9,57.3 42.5,56.3 44.1,55.8C45.7,55.3 48.6,55.1 50.8,54.7C53,54.3 56.7,53.7 58.9,53.1C61.1,52.5 64,51.2 65.6,51C67.2,50.8 68.2,51.4 69.6,51.8C71,52.2 72.9,52.6 74.9,53.4C76.9,54.2 80.5,55.9 82.9,57.4C85.3,58.9 89,61.8 91,63.4C93,65 95.3,68.4 96.3,68.1C97.3,67.8 97.1,63.1 97.4,61.4C97.7,59.7 97.7,57.7 98.3,56.7C98.9,55.7 100.4,55.2 101.7,54.7C103,54.2 104.8,53.4 107,53.4C109.2,53.4 113.4,54.2 116.4,54.4C119.4,54.5 125.2,54.5 127.1,54.4C129,54.2 128.6,53.2 129.1,53.4C129.6,53.5 129.9,54.2 130.4,55.4C130.9,56.6 131.9,59.5 132.4,61.4C132.9,63.3 133,66.9 133.8,68.1C134.6,69.3 136.2,69.5 137.8,69.4C139.4,69.3 142.5,68 144.5,67.4C146.5,66.8 149.6,65.5 151.2,65.4C152.8,65.3 154.4,66 155.2,66.8C156,67.6 156.4,69.2 156.3,70.8C156.2,72.4 155.3,75.3 154.5,77.5C153.7,79.7 150.3,82.9 151.2,85.5C152.1,88.1 157.5,91.6 160.5,94.8C163.5,98 169.7,103.9 171.2,106.9C172.7,109.9 171,112.1 170.6,114.9C170.2,117.7 169.1,123 168.8,125.6C168.5,128.2 167.8,130.9 168.6,132.3C169.4,133.7 172,133.9 173.9,135C175.8,136.1 180.5,137.9 181.3,139.7C182.1,141.5 179.8,144.7 179.3,147C178.8,149.3 177.6,152.7 177.9,155C178.2,157.3 181.1,160.9 181.3,162.4C181.5,163.9 180.8,164.5 179.3,165.1C177.8,165.7 174.4,165.6 171.2,166.4C168,167.2 160.9,169.5 157.9,170.4C154.9,171.3 151.8,171.3 151.2,172.4C150.6,173.5 152.8,175.6 153.8,177.8C154.8,180 157.5,184.2 157.9,187.2C158.3,190.2 157.5,194.7 156.5,197.9C155.5,201.1 153,206.4 151.2,208.6C149.4,210.8 147.1,211.4 144.5,212.6C141.9,213.8 136.6,214.7 133.8,216.6C131,218.5 127.8,224.1 125.8,225.3C123.8,226.5 122.6,224.7 120.4,224.6C118.2,224.5 113,224.3 111,224.6C109,224.9 108.4,225.6 107,226.6C105.6,227.6 103.3,231 101.7,231.3C100.1,231.6 97.7,229.2 96.3,228.6C94.9,228 93.5,226.3 92.3,227.3C91.1,228.3 90.1,233.1 88.3,235.3C86.5,237.5 82.1,240.8 80.3,242C78.5,243.2 77.2,243.4 76,243C74.8,242.6 73.5,240.5 72,239.2C70.5,237.9 67.5,235.1 66,234.4C64.5,233.7 62.8,235.2 61.8,234.4C60.8,233.6 60,230.9 59.4,229C58.8,227.1 58.4,222.9 57.6,221.8C56.8,220.7 54.7,222.2 54,221.8C53.3,221.4 53.4,219.8 52.8,218.8C52.2,217.8 51.2,215.6 49.8,215.2C48.4,214.8 44.7,216.8 43.2,216.4C41.7,216 40,214.1 39.6,212.8C39.2,211.5 39.9,209.7 40.8,208C41.7,206.3 45.4,202.8 45.6,201.4C45.8,200 43.8,199.2 42,198.4C40.2,197.6 35.4,196.6 33.6,196C31.8,195.4 31.6,196 30,194.2C28.4,192.4 24.2,186.4 22.8,184C21.4,181.6 21.4,179 21,178C20.6,177 23,178.3 20.4,177.4C17.8,176.5 4.8,174.8 3.9,172.3C3,169.8 12.2,163.3 14.4,160.6C16.6,157.9 18.5,155.8 18.6,154.6C18.7,153.4 15.3,153.8 15,152.8C14.7,151.8 17,149.3 16.8,148C16.6,146.7 14.6,144.9 13.8,143.8C13,142.7 10.5,141.9 11.4,140.8C12.3,139.7 18.2,137.7 19.8,136.6C21.4,135.5 22.2,134.6 22.2,133.6C22.2,132.6 19.1,131.2 19.8,130C20.5,128.8 26.2,126.9 26.8,125.6C27.4,124.3 25.7,122.8 24.1,121.6C22.5,120.4 18.6,119.4 16,117.6C13.4,115.8 7.3,112.2 6.7,109.6Z" fill="none" stroke="#231f20" stroke-width="1.7" stroke-linejoin="round"/>
<path d="M21,175.6C22.3,173.4 21.4,172.7 25.2,168.4C29,164.1 28.6,164.8 33.6,161.2C38.6,157.6 36.6,156.8 42,156.4C47.4,156 46.2,159.1 51.6,160C57,160.9 54.8,159.8 60,159.4C65.2,159 62.1,158.3 69,158.8C75.9,159.3 74.7,160.1 82.9,161.1C91.1,162.1 89.1,162.6 96.3,162C103.5,161.4 101.4,161.2 107,159.1C112.6,157 110.2,157.4 115,155C119.8,152.6 117.7,151.9 123.1,151C128.5,150.1 126.6,151 133,152C139.4,153 138.3,154.3 144.5,154.4C150.7,154.5 147.8,153.8 153.8,152.4C159.8,151 158.9,150.3 164.5,149.7C170.1,149.1 168.6,148.4 172.6,150.4C176.6,152.4 175.3,152.8 177.9,156.4C180.5,160 180.3,160.6 181.3,162.4" fill="none" stroke="#231f20" stroke-width="1.4"/>
<path d="M27.3,174.1H172.6" stroke="#231f20" stroke-width="1.2"/>
<rect x="39.9" y="171.1" width="20.1" height="5.6" fill="#231f20"/>
<rect x="79.2" y="171.1" width="20.5" height="5.6" fill="#231f20"/>
<rect x="119.5" y="171.1" width="20.3" height="5.6" fill="#231f20"/>
<text x="46.1" y="207.1" textLength="22.3" lengthAdjust="spacingAndGlyphs" font-size="32.5">E</text>
<text x="79.7" y="207.1" textLength="18.1" lengthAdjust="spacingAndGlyphs" font-size="32.5">P</text>
<text x="118.9" y="207.1" font-size="32.5">A</text><path d="M89.4,98.9 99.7,101.3 99.7,109.6 103,117.6 99.7,127 96.3,141.7 95,153.7 93.6,166.4 84,166.8 82.3,157.7 78.9,151 80.9,144.3 77.6,136.3 74.9,128.3 80.3,120.3 87,112.2 89.4,104.2Z" fill="#bcbec0" stroke="#231f20" stroke-width="1.6" stroke-linejoin="round"/>
<path d="M113,98.9C114.4,98.4 118.7,97.5 120.4,98.9C122.1,100.2 121.3,104.7 123.1,106.9C124.9,109.1 128.4,111.6 131.1,112.2C133.8,112.9 136.5,109.6 139.1,110.9C141.8,112.2 146,117.6 147.2,120.3C148.3,122.9 146.3,122.5 145.8,127C145.4,131.4 145.4,141.4 144.5,147C143.6,152.6 142.5,156.9 140.5,160.4C138.5,163.9 134.9,167.1 132.4,167.8C130,168.4 127.3,166.8 125.8,164.4C124.2,162.1 123.3,157.7 123.1,153.7C122.9,149.7 124.9,144.8 124.4,140.3C124,135.9 121.7,130.7 120.4,127C119.1,123.2 117.6,120.5 116.4,117.6C115.2,114.7 113.7,112.2 113,109.6C112.4,106.9 112.4,103.3 112.4,101.5C112.4,99.8 111.7,99.3 113,98.9Z" fill="#6d6e71" stroke="#231f20" stroke-width="1.6" stroke-linejoin="round"/>
<circle cx="115.9" cy="71" r="5.6" fill="#231f20" stroke="#231f20" stroke-width="1.3"/>
<circle cx="115.9" cy="82.1" r="5.6" fill="#bcbec0" stroke="#231f20" stroke-width="1.3"/>
<circle cx="115.9" cy="92.2" r="5.6" fill="#808285" stroke="#231f20" stroke-width="1.3"/>
<circle cx="148.8" cy="116.3" r="10.3" fill="#231f20" stroke="#231f20" stroke-width="1.3"/>
<path d="M180.4,96.6 184.5,106.7 195.5,106.8 187.2,113.9 190.4,124.3 181.1,118.6 172.2,125 174.8,114.3 166,107.8 176.9,107Z" fill="#009444" stroke="#231f20" stroke-width="1.2"/></g>
<g transform="translate(265.6,640.4)"><path d="M6.7,109.6C6.1,107 10,103 12,100.2C14,97.4 17.9,93.2 20.1,90.8C22.3,88.4 24.6,85.7 26.8,84.1C29,82.5 33,81.9 34.8,80.1C36.6,78.3 38.1,74.1 38.8,72.1C39.5,70.1 39.5,68.4 39.5,66.8C39.5,65.2 38.7,62.7 38.8,61.4C38.9,60.1 39.3,58.9 40.1,58.1C40.9,57.3 42.5,56.3 44.1,55.8C45.7,55.3 48.6,55.1 50.8,54.7C53,54.3 56.7,53.7 58.9,53.1C61.1,52.5 64,51.2 65.6,51C67.2,50.8 68.2,51.4 69.6,51.8C71,52.2 72.9,52.6 74.9,53.4C76.9,54.2 80.5,55.9 82.9,57.4C85.3,58.9 89,61.8 91,63.4C93,65 95.3,68.4 96.3,68.1C97.3,67.8 97.1,63.1 97.4,61.4C97.7,59.7 97.7,57.7 98.3,56.7C98.9,55.7 100.4,55.2 101.7,54.7C103,54.2 104.8,53.4 107,53.4C109.2,53.4 113.4,54.2 116.4,54.4C119.4,54.5 125.2,54.5 127.1,54.4C129,54.2 128.6,53.2 129.1,53.4C129.6,53.5 129.9,54.2 130.4,55.4C130.9,56.6 131.9,59.5 132.4,61.4C132.9,63.3 133,66.9 133.8,68.1C134.6,69.3 136.2,69.5 137.8,69.4C139.4,69.3 142.5,68 144.5,67.4C146.5,66.8 149.6,65.5 151.2,65.4C152.8,65.3 154.4,66 155.2,66.8C156,67.6 156.4,69.2 156.3,70.8C156.2,72.4 155.3,75.3 154.5,77.5C153.7,79.7 150.3,82.9 151.2,85.5C152.1,88.1 157.5,91.6 160.5,94.8C163.5,98 169.7,103.9 171.2,106.9C172.7,109.9 171,112.1 170.6,114.9C170.2,117.7 169.1,123 168.8,125.6C168.5,128.2 167.8,130.9 168.6,132.3C169.4,133.7 172,133.9 173.9,135C175.8,136.1 180.5,137.9 181.3,139.7C182.1,141.5 179.8,144.7 179.3,147C178.8,149.3 177.6,152.7 177.9,155C178.2,157.3 181.1,160.9 181.3,162.4C181.5,163.9 180.8,164.5 179.3,165.1C177.8,165.7 174.4,165.6 171.2,166.4C168,167.2 160.9,169.5 157.9,170.4C154.9,171.3 151.8,171.3 151.2,172.4C150.6,173.5 152.8,175.6 153.8,177.8C154.8,180 157.5,184.2 157.9,187.2C158.3,190.2 157.5,194.7 156.5,197.9C155.5,201.1 153,206.4 151.2,208.6C149.4,210.8 147.1,211.4 144.5,212.6C141.9,213.8 136.6,214.7 133.8,216.6C131,218.5 127.8,224.1 125.8,225.3C123.8,226.5 122.6,224.7 120.4,224.6C118.2,224.5 113,224.3 111,224.6C109,224.9 108.4,225.6 107,226.6C105.6,227.6 103.3,231 101.7,231.3C100.1,231.6 97.7,229.2 96.3,228.6C94.9,228 93.5,226.3 92.3,227.3C91.1,228.3 90.1,233.1 88.3,235.3C86.5,237.5 82.1,240.8 80.3,242C78.5,243.2 77.2,243.4 76,243C74.8,242.6 73.5,240.5 72,239.2C70.5,237.9 67.5,235.1 66,234.4C64.5,233.7 62.8,235.2 61.8,234.4C60.8,233.6 60,230.9 59.4,229C58.8,227.1 58.4,222.9 57.6,221.8C56.8,220.7 54.7,222.2 54,221.8C53.3,221.4 53.4,219.8 52.8,218.8C52.2,217.8 51.2,215.6 49.8,215.2C48.4,214.8 44.7,216.8 43.2,216.4C41.7,216 40,214.1 39.6,212.8C39.2,211.5 39.9,209.7 40.8,208C41.7,206.3 45.4,202.8 45.6,201.4C45.8,200 43.8,199.2 42,198.4C40.2,197.6 35.4,196.6 33.6,196C31.8,195.4 31.6,196 30,194.2C28.4,192.4 24.2,186.4 22.8,184C21.4,181.6 21.4,179 21,178C20.6,177 23,178.3 20.4,177.4C17.8,176.5 4.8,174.8 3.9,172.3C3,169.8 12.2,163.3 14.4,160.6C16.6,157.9 18.5,155.8 18.6,154.6C18.7,153.4 15.3,153.8 15,152.8C14.7,151.8 17,149.3 16.8,148C16.6,146.7 14.6,144.9 13.8,143.8C13,142.7 10.5,141.9 11.4,140.8C12.3,139.7 18.2,137.7 19.8,136.6C21.4,135.5 22.2,134.6 22.2,133.6C22.2,132.6 19.1,131.2 19.8,130C20.5,128.8 26.2,126.9 26.8,125.6C27.4,124.3 25.7,122.8 24.1,121.6C22.5,120.4 18.6,119.4 16,117.6C13.4,115.8 7.3,112.2 6.7,109.6Z" fill="#e6e7e8"/>
<rect x="33.9" y="88.8" width="31.8" height="96.7" rx="15.9" fill="#bcbec0"/>
<rect x="73.3" y="88.8" width="31.7" height="105" rx="15.9" fill="#bcbec0"/>
<rect x="113" y="88.8" width="31.5" height="105" rx="15.8" fill="#bcbec0"/>
<path d="M6.7,109.6C6.1,107 10,103 12,100.2C14,97.4 17.9,93.2 20.1,90.8C22.3,88.4 24.6,85.7 26.8,84.1C29,82.5 33,81.9 34.8,80.1C36.6,78.3 38.1,74.1 38.8,72.1C39.5,70.1 39.5,68.4 39.5,66.8C39.5,65.2 38.7,62.7 38.8,61.4C38.9,60.1 39.3,58.9 40.1,58.1C40.9,57.3 42.5,56.3 44.1,55.8C45.7,55.3 48.6,55.1 50.8,54.7C53,54.3 56.7,53.7 58.9,53.1C61.1,52.5 64,51.2 65.6,51C67.2,50.8 68.2,51.4 69.6,51.8C71,52.2 72.9,52.6 74.9,53.4C76.9,54.2 80.5,55.9 82.9,57.4C85.3,58.9 89,61.8 91,63.4C93,65 95.3,68.4 96.3,68.1C97.3,67.8 97.1,63.1 97.4,61.4C97.7,59.7 97.7,57.7 98.3,56.7C98.9,55.7 100.4,55.2 101.7,54.7C103,54.2 104.8,53.4 107,53.4C109.2,53.4 113.4,54.2 116.4,54.4C119.4,54.5 125.2,54.5 127.1,54.4C129,54.2 128.6,53.2 129.1,53.4C129.6,53.5 129.9,54.2 130.4,55.4C130.9,56.6 131.9,59.5 132.4,61.4C132.9,63.3 133,66.9 133.8,68.1C134.6,69.3 136.2,69.5 137.8,69.4C139.4,69.3 142.5,68 144.5,67.4C146.5,66.8 149.6,65.5 151.2,65.4C152.8,65.3 154.4,66 155.2,66.8C156,67.6 156.4,69.2 156.3,70.8C156.2,72.4 155.3,75.3 154.5,77.5C153.7,79.7 150.3,82.9 151.2,85.5C152.1,88.1 157.5,91.6 160.5,94.8C163.5,98 169.7,103.9 171.2,106.9C172.7,109.9 171,112.1 170.6,114.9C170.2,117.7 169.1,123 168.8,125.6C168.5,128.2 167.8,130.9 168.6,132.3C169.4,133.7 172,133.9 173.9,135C175.8,136.1 180.5,137.9 181.3,139.7C182.1,141.5 179.8,144.7 179.3,147C178.8,149.3 177.6,152.7 177.9,155C178.2,157.3 181.1,160.9 181.3,162.4C181.5,163.9 180.8,164.5 179.3,165.1C177.8,165.7 174.4,165.6 171.2,166.4C168,167.2 160.9,169.5 157.9,170.4C154.9,171.3 151.8,171.3 151.2,172.4C150.6,173.5 152.8,175.6 153.8,177.8C154.8,180 157.5,184.2 157.9,187.2C158.3,190.2 157.5,194.7 156.5,197.9C155.5,201.1 153,206.4 151.2,208.6C149.4,210.8 147.1,211.4 144.5,212.6C141.9,213.8 136.6,214.7 133.8,216.6C131,218.5 127.8,224.1 125.8,225.3C123.8,226.5 122.6,224.7 120.4,224.6C118.2,224.5 113,224.3 111,224.6C109,224.9 108.4,225.6 107,226.6C105.6,227.6 103.3,231 101.7,231.3C100.1,231.6 97.7,229.2 96.3,228.6C94.9,228 93.5,226.3 92.3,227.3C91.1,228.3 90.1,233.1 88.3,235.3C86.5,237.5 82.1,240.8 80.3,242C78.5,243.2 77.2,243.4 76,243C74.8,242.6 73.5,240.5 72,239.2C70.5,237.9 67.5,235.1 66,234.4C64.5,233.7 62.8,235.2 61.8,234.4C60.8,233.6 60,230.9 59.4,229C58.8,227.1 58.4,222.9 57.6,221.8C56.8,220.7 54.7,222.2 54,221.8C53.3,221.4 53.4,219.8 52.8,218.8C52.2,217.8 51.2,215.6 49.8,215.2C48.4,214.8 44.7,216.8 43.2,216.4C41.7,216 40,214.1 39.6,212.8C39.2,211.5 39.9,209.7 40.8,208C41.7,206.3 45.4,202.8 45.6,201.4C45.8,200 43.8,199.2 42,198.4C40.2,197.6 35.4,196.6 33.6,196C31.8,195.4 31.6,196 30,194.2C28.4,192.4 24.2,186.4 22.8,184C21.4,181.6 21.4,179 21,178C20.6,177 23,178.3 20.4,177.4C17.8,176.5 4.8,174.8 3.9,172.3C3,169.8 12.2,163.3 14.4,160.6C16.6,157.9 18.5,155.8 18.6,154.6C18.7,153.4 15.3,153.8 15,152.8C14.7,151.8 17,149.3 16.8,148C16.6,146.7 14.6,144.9 13.8,143.8C13,142.7 10.5,141.9 11.4,140.8C12.3,139.7 18.2,137.7 19.8,136.6C21.4,135.5 22.2,134.6 22.2,133.6C22.2,132.6 19.1,131.2 19.8,130C20.5,128.8 26.2,126.9 26.8,125.6C27.4,124.3 25.7,122.8 24.1,121.6C22.5,120.4 18.6,119.4 16,117.6C13.4,115.8 7.3,112.2 6.7,109.6Z" fill="none" stroke="#231f20" stroke-width="1.7" stroke-linejoin="round"/>
<path d="M21,175.6C22.3,173.4 21.4,172.7 25.2,168.4C29,164.1 28.6,164.8 33.6,161.2C38.6,157.6 36.6,156.8 42,156.4C47.4,156 46.2,159.1 51.6,160C57,160.9 54.8,159.8 60,159.4C65.2,159 62.1,158.3 69,158.8C75.9,159.3 74.7,160.1 82.9,161.1C91.1,162.1 89.1,162.6 96.3,162C103.5,161.4 101.4,161.2 107,159.1C112.6,157 110.2,157.4 115,155C119.8,152.6 117.7,151.9 123.1,151C128.5,150.1 126.6,151 133,152C139.4,153 138.3,154.3 144.5,154.4C150.7,154.5 147.8,153.8 153.8,152.4C159.8,151 158.9,150.3 164.5,149.7C170.1,149.1 168.6,148.4 172.6,150.4C176.6,152.4 175.3,152.8 177.9,156.4C180.5,160 180.3,160.6 181.3,162.4" fill="none" stroke="#231f20" stroke-width="1.4"/>
<path d="M27.3,174.1H172.6" stroke="#231f20" stroke-width="1.2"/>
<rect x="33.1" y="171.1" width="20.1" height="5.6" fill="#231f20"/>
<rect x="72.4" y="171.1" width="20.5" height="5.6" fill="#231f20"/>
<rect x="112.7" y="171.1" width="20.3" height="5.6" fill="#231f20"/>
<text x="46.1" y="207.1" textLength="22.3" lengthAdjust="spacingAndGlyphs" font-size="32.5">E</text>
<text x="79.7" y="207.1" textLength="18.1" lengthAdjust="spacingAndGlyphs" font-size="32.5">P</text>
<text x="118.9" y="207.1" font-size="32.5">A</text><path d="M64.4,97.8C65.4,96.9 67.8,95.6 69.3,95.7C70.9,95.8 72.6,97.1 73.5,98.5C74.5,99.9 75,102.5 75,104.1C75,105.8 73.5,106.7 73.5,108.3C73.5,110 75,111.6 75,114C75,116.3 74,119.1 73.5,122.4C73.1,125.7 71.7,130.1 72.1,133.6C72.6,137.1 75.2,141.6 76.4,143.5C77.5,145.3 78.2,143.9 79.2,144.9C80.1,145.8 81,146.7 82,149.1C82.9,151.4 84.6,156.3 84.8,158.9C85,161.5 84.6,163.2 83.4,164.5C82.2,165.8 79.6,166.6 77.8,166.6C75.9,166.6 74.3,166 72.1,164.5C70,163 67.5,160.5 65.1,157.5C62.8,154.5 60.4,149.8 58.1,146.3C55.8,142.7 53.2,139.5 51.1,136.4C49,133.4 46.2,130.6 45.5,128C44.8,125.4 45.7,122.7 46.9,121C48,119.2 50.4,118.5 52.5,117.5C54.6,116.4 58.1,115.9 59.5,114.7C60.9,113.4 60,111 60.9,109.7C61.8,108.5 64.7,108.3 65.1,106.9C65.6,105.5 63.8,102.8 63.7,101.3C63.6,99.8 63.5,98.7 64.4,97.8Z" fill="#bcbec0" stroke="#231f20" stroke-width="1.6" stroke-linejoin="round"/>
<path d="M111.5,97.1C112.4,96.4 116.9,96.2 118.5,97.1C120.1,98 121.1,100.6 121.3,102.7C121.5,104.8 120.4,107.4 119.9,109.7C119.4,112.1 118.6,113.7 118.5,116.8C118.4,119.8 119,124.7 119.2,128C119.4,131.3 119.6,133.6 119.9,136.4C120.3,139.2 120.8,142.5 121.3,144.9C121.8,147.2 122.2,148.1 122.7,150.5C123.2,152.8 124.1,156.6 124.1,158.9C124.1,161.2 123.6,163.1 122.7,164.5C121.8,165.9 120.1,167.1 118.5,167.3C116.9,167.6 114.8,167.1 112.9,165.9C111,164.8 109.1,162.9 107.3,160.3C105.4,157.7 103.3,154 101.6,150.5C100,147 98.6,142 97.4,139.2C96.3,136.4 95.8,135.5 94.6,133.6C93.4,131.7 90.9,130.8 90.4,128C89.9,125.2 90.6,118.9 91.8,116.8C93,114.7 95.3,116.1 97.4,115.4C99.5,114.7 102.8,113.7 104.5,112.5C106.1,111.4 106.1,109.3 107.3,108.3C108.4,107.4 110.5,108.1 111.5,106.9C112.4,105.8 112.9,102.9 112.9,101.3C112.9,99.7 110.5,97.8 111.5,97.1Z" fill="#6d6e71" stroke="#231f20" stroke-width="1.6" stroke-linejoin="round"/>
<circle cx="115.4" cy="70.7" r="5.9" fill="#231f20" stroke="#231f20" stroke-width="1.3"/>
<circle cx="115.4" cy="81.6" r="5.9" fill="#bcbec0" stroke="#231f20" stroke-width="1.3"/>
<circle cx="115.4" cy="91.5" r="5.9" fill="#808285" stroke="#231f20" stroke-width="1.3"/>
<circle cx="89" cy="122.4" r="11" fill="#231f20" stroke="#231f20" stroke-width="1.3"/>
<path d="M129.7,161.7 132.5,154.7 139.6,150.5 148,149.1 153.6,136.4 160.6,130.8 170.5,128 180.3,122.4 188.7,125.2 195.8,135 201.4,142 200,150.5 194.4,154.7 183.1,156.1 174.7,158.9 178.9,161.7 177.5,165.2 170.5,164.5 160.6,163.1 153.6,164.5 146.6,165.9 139.6,168.7 132.5,167.3Z" fill="#d1d3d4" stroke="#231f20" stroke-width="1.6" stroke-linejoin="round"/>
<path d="M179.8,95.8 183.9,105.9 194.9,106 186.6,113.1 189.8,123.5 180.5,117.8 171.6,124.2 174.2,113.5 165.4,107 176.3,106.2Z" fill="#009444" stroke="#231f20" stroke-width="1.2"/></g>
<g transform="translate(514.3,639.8)"><path d="M6.7,109.6C6.1,107 10,103 12,100.2C14,97.4 17.9,93.2 20.1,90.8C22.3,88.4 24.6,85.7 26.8,84.1C29,82.5 33,81.9 34.8,80.1C36.6,78.3 38.1,74.1 38.8,72.1C39.5,70.1 39.5,68.4 39.5,66.8C39.5,65.2 38.7,62.7 38.8,61.4C38.9,60.1 39.3,58.9 40.1,58.1C40.9,57.3 42.5,56.3 44.1,55.8C45.7,55.3 48.6,55.1 50.8,54.7C53,54.3 56.7,53.7 58.9,53.1C61.1,52.5 64,51.2 65.6,51C67.2,50.8 68.2,51.4 69.6,51.8C71,52.2 72.9,52.6 74.9,53.4C76.9,54.2 80.5,55.9 82.9,57.4C85.3,58.9 89,61.8 91,63.4C93,65 95.3,68.4 96.3,68.1C97.3,67.8 97.1,63.1 97.4,61.4C97.7,59.7 97.7,57.7 98.3,56.7C98.9,55.7 100.4,55.2 101.7,54.7C103,54.2 104.8,53.4 107,53.4C109.2,53.4 113.4,54.2 116.4,54.4C119.4,54.5 125.2,54.5 127.1,54.4C129,54.2 128.6,53.2 129.1,53.4C129.6,53.5 129.9,54.2 130.4,55.4C130.9,56.6 131.9,59.5 132.4,61.4C132.9,63.3 133,66.9 133.8,68.1C134.6,69.3 136.2,69.5 137.8,69.4C139.4,69.3 142.5,68 144.5,67.4C146.5,66.8 149.6,65.5 151.2,65.4C152.8,65.3 154.4,66 155.2,66.8C156,67.6 156.4,69.2 156.3,70.8C156.2,72.4 155.3,75.3 154.5,77.5C153.7,79.7 150.3,82.9 151.2,85.5C152.1,88.1 157.5,91.6 160.5,94.8C163.5,98 169.7,103.9 171.2,106.9C172.7,109.9 171,112.1 170.6,114.9C170.2,117.7 169.1,123 168.8,125.6C168.5,128.2 167.8,130.9 168.6,132.3C169.4,133.7 172,133.9 173.9,135C175.8,136.1 180.5,137.9 181.3,139.7C182.1,141.5 179.8,144.7 179.3,147C178.8,149.3 177.6,152.7 177.9,155C178.2,157.3 181.1,160.9 181.3,162.4C181.5,163.9 180.8,164.5 179.3,165.1C177.8,165.7 174.4,165.6 171.2,166.4C168,167.2 160.9,169.5 157.9,170.4C154.9,171.3 151.8,171.3 151.2,172.4C150.6,173.5 152.8,175.6 153.8,177.8C154.8,180 157.5,184.2 157.9,187.2C158.3,190.2 157.5,194.7 156.5,197.9C155.5,201.1 153,206.4 151.2,208.6C149.4,210.8 147.1,211.4 144.5,212.6C141.9,213.8 136.6,214.7 133.8,216.6C131,218.5 127.8,224.1 125.8,225.3C123.8,226.5 122.6,224.7 120.4,224.6C118.2,224.5 113,224.3 111,224.6C109,224.9 108.4,225.6 107,226.6C105.6,227.6 103.3,231 101.7,231.3C100.1,231.6 97.7,229.2 96.3,228.6C94.9,228 93.5,226.3 92.3,227.3C91.1,228.3 90.1,233.1 88.3,235.3C86.5,237.5 82.1,240.8 80.3,242C78.5,243.2 77.2,243.4 76,243C74.8,242.6 73.5,240.5 72,239.2C70.5,237.9 67.5,235.1 66,234.4C64.5,233.7 62.8,235.2 61.8,234.4C60.8,233.6 60,230.9 59.4,229C58.8,227.1 58.4,222.9 57.6,221.8C56.8,220.7 54.7,222.2 54,221.8C53.3,221.4 53.4,219.8 52.8,218.8C52.2,217.8 51.2,215.6 49.8,215.2C48.4,214.8 44.7,216.8 43.2,216.4C41.7,216 40,214.1 39.6,212.8C39.2,211.5 39.9,209.7 40.8,208C41.7,206.3 45.4,202.8 45.6,201.4C45.8,200 43.8,199.2 42,198.4C40.2,197.6 35.4,196.6 33.6,196C31.8,195.4 31.6,196 30,194.2C28.4,192.4 24.2,186.4 22.8,184C21.4,181.6 21.4,179 21,178C20.6,177 23,178.3 20.4,177.4C17.8,176.5 4.8,174.8 3.9,172.3C3,169.8 12.2,163.3 14.4,160.6C16.6,157.9 18.5,155.8 18.6,154.6C18.7,153.4 15.3,153.8 15,152.8C14.7,151.8 17,149.3 16.8,148C16.6,146.7 14.6,144.9 13.8,143.8C13,142.7 10.5,141.9 11.4,140.8C12.3,139.7 18.2,137.7 19.8,136.6C21.4,135.5 22.2,134.6 22.2,133.6C22.2,132.6 19.1,131.2 19.8,130C20.5,128.8 26.2,126.9 26.8,125.6C27.4,124.3 25.7,122.8 24.1,121.6C22.5,120.4 18.6,119.4 16,117.6C13.4,115.8 7.3,112.2 6.7,109.6Z" fill="#e6e7e8"/>
<rect x="33.9" y="88.8" width="31.8" height="96.7" rx="15.9" fill="#bcbec0"/>
<rect x="73.3" y="88.8" width="31.7" height="105" rx="15.9" fill="#bcbec0"/>
<rect x="113" y="88.8" width="31.5" height="105" rx="15.8" fill="#bcbec0"/>
<path d="M6.7,109.6C6.1,107 10,103 12,100.2C14,97.4 17.9,93.2 20.1,90.8C22.3,88.4 24.6,85.7 26.8,84.1C29,82.5 33,81.9 34.8,80.1C36.6,78.3 38.1,74.1 38.8,72.1C39.5,70.1 39.5,68.4 39.5,66.8C39.5,65.2 38.7,62.7 38.8,61.4C38.9,60.1 39.3,58.9 40.1,58.1C40.9,57.3 42.5,56.3 44.1,55.8C45.7,55.3 48.6,55.1 50.8,54.7C53,54.3 56.7,53.7 58.9,53.1C61.1,52.5 64,51.2 65.6,51C67.2,50.8 68.2,51.4 69.6,51.8C71,52.2 72.9,52.6 74.9,53.4C76.9,54.2 80.5,55.9 82.9,57.4C85.3,58.9 89,61.8 91,63.4C93,65 95.3,68.4 96.3,68.1C97.3,67.8 97.1,63.1 97.4,61.4C97.7,59.7 97.7,57.7 98.3,56.7C98.9,55.7 100.4,55.2 101.7,54.7C103,54.2 104.8,53.4 107,53.4C109.2,53.4 113.4,54.2 116.4,54.4C119.4,54.5 125.2,54.5 127.1,54.4C129,54.2 128.6,53.2 129.1,53.4C129.6,53.5 129.9,54.2 130.4,55.4C130.9,56.6 131.9,59.5 132.4,61.4C132.9,63.3 133,66.9 133.8,68.1C134.6,69.3 136.2,69.5 137.8,69.4C139.4,69.3 142.5,68 144.5,67.4C146.5,66.8 149.6,65.5 151.2,65.4C152.8,65.3 154.4,66 155.2,66.8C156,67.6 156.4,69.2 156.3,70.8C156.2,72.4 155.3,75.3 154.5,77.5C153.7,79.7 150.3,82.9 151.2,85.5C152.1,88.1 157.5,91.6 160.5,94.8C163.5,98 169.7,103.9 171.2,106.9C172.7,109.9 171,112.1 170.6,114.9C170.2,117.7 169.1,123 168.8,125.6C168.5,128.2 167.8,130.9 168.6,132.3C169.4,133.7 172,133.9 173.9,135C175.8,136.1 180.5,137.9 181.3,139.7C182.1,141.5 179.8,144.7 179.3,147C178.8,149.3 177.6,152.7 177.9,155C178.2,157.3 181.1,160.9 181.3,162.4C181.5,163.9 180.8,164.5 179.3,165.1C177.8,165.7 174.4,165.6 171.2,166.4C168,167.2 160.9,169.5 157.9,170.4C154.9,171.3 151.8,171.3 151.2,172.4C150.6,173.5 152.8,175.6 153.8,177.8C154.8,180 157.5,184.2 157.9,187.2C158.3,190.2 157.5,194.7 156.5,197.9C155.5,201.1 153,206.4 151.2,208.6C149.4,210.8 147.1,211.4 144.5,212.6C141.9,213.8 136.6,214.7 133.8,216.6C131,218.5 127.8,224.1 125.8,225.3C123.8,226.5 122.6,224.7 120.4,224.6C118.2,224.5 113,224.3 111,224.6C109,224.9 108.4,225.6 107,226.6C105.6,227.6 103.3,231 101.7,231.3C100.1,231.6 97.7,229.2 96.3,228.6C94.9,228 93.5,226.3 92.3,227.3C91.1,228.3 90.1,233.1 88.3,235.3C86.5,237.5 82.1,240.8 80.3,242C78.5,243.2 77.2,243.4 76,243C74.8,242.6 73.5,240.5 72,239.2C70.5,237.9 67.5,235.1 66,234.4C64.5,233.7 62.8,235.2 61.8,234.4C60.8,233.6 60,230.9 59.4,229C58.8,227.1 58.4,222.9 57.6,221.8C56.8,220.7 54.7,222.2 54,221.8C53.3,221.4 53.4,219.8 52.8,218.8C52.2,217.8 51.2,215.6 49.8,215.2C48.4,214.8 44.7,216.8 43.2,216.4C41.7,216 40,214.1 39.6,212.8C39.2,211.5 39.9,209.7 40.8,208C41.7,206.3 45.4,202.8 45.6,201.4C45.8,200 43.8,199.2 42,198.4C40.2,197.6 35.4,196.6 33.6,196C31.8,195.4 31.6,196 30,194.2C28.4,192.4 24.2,186.4 22.8,184C21.4,181.6 21.4,179 21,178C20.6,177 23,178.3 20.4,177.4C17.8,176.5 4.8,174.8 3.9,172.3C3,169.8 12.2,163.3 14.4,160.6C16.6,157.9 18.5,155.8 18.6,154.6C18.7,153.4 15.3,153.8 15,152.8C14.7,151.8 17,149.3 16.8,148C16.6,146.7 14.6,144.9 13.8,143.8C13,142.7 10.5,141.9 11.4,140.8C12.3,139.7 18.2,137.7 19.8,136.6C21.4,135.5 22.2,134.6 22.2,133.6C22.2,132.6 19.1,131.2 19.8,130C20.5,128.8 26.2,126.9 26.8,125.6C27.4,124.3 25.7,122.8 24.1,121.6C22.5,120.4 18.6,119.4 16,117.6C13.4,115.8 7.3,112.2 6.7,109.6Z" fill="none" stroke="#231f20" stroke-width="1.7" stroke-linejoin="round"/>
<path d="M21,175.6C22.3,173.4 21.4,172.7 25.2,168.4C29,164.1 28.6,164.8 33.6,161.2C38.6,157.6 36.6,156.8 42,156.4C47.4,156 46.2,159.1 51.6,160C57,160.9 54.8,159.8 60,159.4C65.2,159 62.1,158.3 69,158.8C75.9,159.3 74.7,160.1 82.9,161.1C91.1,162.1 89.1,162.6 96.3,162C103.5,161.4 101.4,161.2 107,159.1C112.6,157 110.2,157.4 115,155C119.8,152.6 117.7,151.9 123.1,151C128.5,150.1 126.6,151 133,152C139.4,153 138.3,154.3 144.5,154.4C150.7,154.5 147.8,153.8 153.8,152.4C159.8,151 158.9,150.3 164.5,149.7C170.1,149.1 168.6,148.4 172.6,150.4C176.6,152.4 175.3,152.8 177.9,156.4C180.5,160 180.3,160.6 181.3,162.4" fill="none" stroke="#231f20" stroke-width="1.4"/>
<path d="M27.3,174.1H172.6" stroke="#231f20" stroke-width="1.2"/>
<rect x="39.9" y="171.1" width="20.1" height="5.6" fill="#231f20"/>
<rect x="79.2" y="171.1" width="20.5" height="5.6" fill="#231f20"/>
<rect x="119.5" y="171.1" width="20.3" height="5.6" fill="#231f20"/>
<text x="46.1" y="207.1" textLength="22.3" lengthAdjust="spacingAndGlyphs" font-size="32.5">E</text>
<text x="79.7" y="207.1" textLength="18.1" lengthAdjust="spacingAndGlyphs" font-size="32.5">P</text>
<text x="118.9" y="207.1" font-size="32.5">A</text><path d="M89.9,99.3 95.3,100.7 99.3,101.3 99,108 100.6,114.7 99.3,129.4 97,132.1 96,138.1 97.3,145.5 97.6,148.2 96.6,154.8 95.3,161.5 94.9,167.6 83.9,167.6 83.6,161.5 82.6,157.5 80.6,152.8 78.6,152.8 80.6,149.5 82.6,146.1 83.2,143.5 80.6,142.1 79.9,128.8 75.9,129.4 76.6,125.4 80.6,119.4 85.9,114.7 89.9,112 90.3,104Z" fill="#808285" stroke="#231f20" stroke-width="1.6" stroke-linejoin="round"/>
<circle cx="95.3" cy="69.9" r="5.7" fill="#231f20" stroke="#231f20" stroke-width="1.3"/>
<circle cx="95.3" cy="81.3" r="5.7" fill="#bcbec0" stroke="#231f20" stroke-width="1.3"/>
<circle cx="95.3" cy="92.3" r="5.7" fill="#808285" stroke="#231f20" stroke-width="1.3"/>
<circle cx="103" cy="119.1" r="11" fill="#231f20" stroke="#231f20" stroke-width="1.3"/>
<path d="M180.2,96.3 184.3,106.4 195.3,106.5 187,113.6 190.2,124 180.9,118.3 172,124.7 174.6,114 165.8,107.5 176.7,106.7Z" fill="#009444" stroke="#231f20" stroke-width="1.2"/></g>
<g transform="translate(771.4,640)"><path d="M6.7,109.6C6.1,107 10,103 12,100.2C14,97.4 17.9,93.2 20.1,90.8C22.3,88.4 24.6,85.7 26.8,84.1C29,82.5 33,81.9 34.8,80.1C36.6,78.3 38.1,74.1 38.8,72.1C39.5,70.1 39.5,68.4 39.5,66.8C39.5,65.2 38.7,62.7 38.8,61.4C38.9,60.1 39.3,58.9 40.1,58.1C40.9,57.3 42.5,56.3 44.1,55.8C45.7,55.3 48.6,55.1 50.8,54.7C53,54.3 56.7,53.7 58.9,53.1C61.1,52.5 64,51.2 65.6,51C67.2,50.8 68.2,51.4 69.6,51.8C71,52.2 72.9,52.6 74.9,53.4C76.9,54.2 80.5,55.9 82.9,57.4C85.3,58.9 89,61.8 91,63.4C93,65 95.3,68.4 96.3,68.1C97.3,67.8 97.1,63.1 97.4,61.4C97.7,59.7 97.7,57.7 98.3,56.7C98.9,55.7 100.4,55.2 101.7,54.7C103,54.2 104.8,53.4 107,53.4C109.2,53.4 113.4,54.2 116.4,54.4C119.4,54.5 125.2,54.5 127.1,54.4C129,54.2 128.6,53.2 129.1,53.4C129.6,53.5 129.9,54.2 130.4,55.4C130.9,56.6 131.9,59.5 132.4,61.4C132.9,63.3 133,66.9 133.8,68.1C134.6,69.3 136.2,69.5 137.8,69.4C139.4,69.3 142.5,68 144.5,67.4C146.5,66.8 149.6,65.5 151.2,65.4C152.8,65.3 154.4,66 155.2,66.8C156,67.6 156.4,69.2 156.3,70.8C156.2,72.4 155.3,75.3 154.5,77.5C153.7,79.7 150.3,82.9 151.2,85.5C152.1,88.1 157.5,91.6 160.5,94.8C163.5,98 169.7,103.9 171.2,106.9C172.7,109.9 171,112.1 170.6,114.9C170.2,117.7 169.1,123 168.8,125.6C168.5,128.2 167.8,130.9 168.6,132.3C169.4,133.7 172,133.9 173.9,135C175.8,136.1 180.5,137.9 181.3,139.7C182.1,141.5 179.8,144.7 179.3,147C178.8,149.3 177.6,152.7 177.9,155C178.2,157.3 181.1,160.9 181.3,162.4C181.5,163.9 180.8,164.5 179.3,165.1C177.8,165.7 174.4,165.6 171.2,166.4C168,167.2 160.9,169.5 157.9,170.4C154.9,171.3 151.8,171.3 151.2,172.4C150.6,173.5 152.8,175.6 153.8,177.8C154.8,180 157.5,184.2 157.9,187.2C158.3,190.2 157.5,194.7 156.5,197.9C155.5,201.1 153,206.4 151.2,208.6C149.4,210.8 147.1,211.4 144.5,212.6C141.9,213.8 136.6,214.7 133.8,216.6C131,218.5 127.8,224.1 125.8,225.3C123.8,226.5 122.6,224.7 120.4,224.6C118.2,224.5 113,224.3 111,224.6C109,224.9 108.4,225.6 107,226.6C105.6,227.6 103.3,231 101.7,231.3C100.1,231.6 97.7,229.2 96.3,228.6C94.9,228 93.5,226.3 92.3,227.3C91.1,228.3 90.1,233.1 88.3,235.3C86.5,237.5 82.1,240.8 80.3,242C78.5,243.2 77.2,243.4 76,243C74.8,242.6 73.5,240.5 72,239.2C70.5,237.9 67.5,235.1 66,234.4C64.5,233.7 62.8,235.2 61.8,234.4C60.8,233.6 60,230.9 59.4,229C58.8,227.1 58.4,222.9 57.6,221.8C56.8,220.7 54.7,222.2 54,221.8C53.3,221.4 53.4,219.8 52.8,218.8C52.2,217.8 51.2,215.6 49.8,215.2C48.4,214.8 44.7,216.8 43.2,216.4C41.7,216 40,214.1 39.6,212.8C39.2,211.5 39.9,209.7 40.8,208C41.7,206.3 45.4,202.8 45.6,201.4C45.8,200 43.8,199.2 42,198.4C40.2,197.6 35.4,196.6 33.6,196C31.8,195.4 31.6,196 30,194.2C28.4,192.4 24.2,186.4 22.8,184C21.4,181.6 21.4,179 21,178C20.6,177 23,178.3 20.4,177.4C17.8,176.5 4.8,174.8 3.9,172.3C3,169.8 12.2,163.3 14.4,160.6C16.6,157.9 18.5,155.8 18.6,154.6C18.7,153.4 15.3,153.8 15,152.8C14.7,151.8 17,149.3 16.8,148C16.6,146.7 14.6,144.9 13.8,143.8C13,142.7 10.5,141.9 11.4,140.8C12.3,139.7 18.2,137.7 19.8,136.6C21.4,135.5 22.2,134.6 22.2,133.6C22.2,132.6 19.1,131.2 19.8,130C20.5,128.8 26.2,126.9 26.8,125.6C27.4,124.3 25.7,122.8 24.1,121.6C22.5,120.4 18.6,119.4 16,117.6C13.4,115.8 7.3,112.2 6.7,109.6Z" fill="#e6e7e8"/>
<rect x="33.9" y="88.8" width="31.8" height="96.7" rx="15.9" fill="#bcbec0"/>
<rect x="73.3" y="88.8" width="31.7" height="105" rx="15.9" fill="#bcbec0"/>
<rect x="113" y="88.8" width="31.5" height="105" rx="15.8" fill="#bcbec0"/>
<path d="M6.7,109.6C6.1,107 10,103 12,100.2C14,97.4 17.9,93.2 20.1,90.8C22.3,88.4 24.6,85.7 26.8,84.1C29,82.5 33,81.9 34.8,80.1C36.6,78.3 38.1,74.1 38.8,72.1C39.5,70.1 39.5,68.4 39.5,66.8C39.5,65.2 38.7,62.7 38.8,61.4C38.9,60.1 39.3,58.9 40.1,58.1C40.9,57.3 42.5,56.3 44.1,55.8C45.7,55.3 48.6,55.1 50.8,54.7C53,54.3 56.7,53.7 58.9,53.1C61.1,52.5 64,51.2 65.6,51C67.2,50.8 68.2,51.4 69.6,51.8C71,52.2 72.9,52.6 74.9,53.4C76.9,54.2 80.5,55.9 82.9,57.4C85.3,58.9 89,61.8 91,63.4C93,65 95.3,68.4 96.3,68.1C97.3,67.8 97.1,63.1 97.4,61.4C97.7,59.7 97.7,57.7 98.3,56.7C98.9,55.7 100.4,55.2 101.7,54.7C103,54.2 104.8,53.4 107,53.4C109.2,53.4 113.4,54.2 116.4,54.4C119.4,54.5 125.2,54.5 127.1,54.4C129,54.2 128.6,53.2 129.1,53.4C129.6,53.5 129.9,54.2 130.4,55.4C130.9,56.6 131.9,59.5 132.4,61.4C132.9,63.3 133,66.9 133.8,68.1C134.6,69.3 136.2,69.5 137.8,69.4C139.4,69.3 142.5,68 144.5,67.4C146.5,66.8 149.6,65.5 151.2,65.4C152.8,65.3 154.4,66 155.2,66.8C156,67.6 156.4,69.2 156.3,70.8C156.2,72.4 155.3,75.3 154.5,77.5C153.7,79.7 150.3,82.9 151.2,85.5C152.1,88.1 157.5,91.6 160.5,94.8C163.5,98 169.7,103.9 171.2,106.9C172.7,109.9 171,112.1 170.6,114.9C170.2,117.7 169.1,123 168.8,125.6C168.5,128.2 167.8,130.9 168.6,132.3C169.4,133.7 172,133.9 173.9,135C175.8,136.1 180.5,137.9 181.3,139.7C182.1,141.5 179.8,144.7 179.3,147C178.8,149.3 177.6,152.7 177.9,155C178.2,157.3 181.1,160.9 181.3,162.4C181.5,163.9 180.8,164.5 179.3,165.1C177.8,165.7 174.4,165.6 171.2,166.4C168,167.2 160.9,169.5 157.9,170.4C154.9,171.3 151.8,171.3 151.2,172.4C150.6,173.5 152.8,175.6 153.8,177.8C154.8,180 157.5,184.2 157.9,187.2C158.3,190.2 157.5,194.7 156.5,197.9C155.5,201.1 153,206.4 151.2,208.6C149.4,210.8 147.1,211.4 144.5,212.6C141.9,213.8 136.6,214.7 133.8,216.6C131,218.5 127.8,224.1 125.8,225.3C123.8,226.5 122.6,224.7 120.4,224.6C118.2,224.5 113,224.3 111,224.6C109,224.9 108.4,225.6 107,226.6C105.6,227.6 103.3,231 101.7,231.3C100.1,231.6 97.7,229.2 96.3,228.6C94.9,228 93.5,226.3 92.3,227.3C91.1,228.3 90.1,233.1 88.3,235.3C86.5,237.5 82.1,240.8 80.3,242C78.5,243.2 77.2,243.4 76,243C74.8,242.6 73.5,240.5 72,239.2C70.5,237.9 67.5,235.1 66,234.4C64.5,233.7 62.8,235.2 61.8,234.4C60.8,233.6 60,230.9 59.4,229C58.8,227.1 58.4,222.9 57.6,221.8C56.8,220.7 54.7,222.2 54,221.8C53.3,221.4 53.4,219.8 52.8,218.8C52.2,217.8 51.2,215.6 49.8,215.2C48.4,214.8 44.7,216.8 43.2,216.4C41.7,216 40,214.1 39.6,212.8C39.2,211.5 39.9,209.7 40.8,208C41.7,206.3 45.4,202.8 45.6,201.4C45.8,200 43.8,199.2 42,198.4C40.2,197.6 35.4,196.6 33.6,196C31.8,195.4 31.6,196 30,194.2C28.4,192.4 24.2,186.4 22.8,184C21.4,181.6 21.4,179 21,178C20.6,177 23,178.3 20.4,177.4C17.8,176.5 4.8,174.8 3.9,172.3C3,169.8 12.2,163.3 14.4,160.6C16.6,157.9 18.5,155.8 18.6,154.6C18.7,153.4 15.3,153.8 15,152.8C14.7,151.8 17,149.3 16.8,148C16.6,146.7 14.6,144.9 13.8,143.8C13,142.7 10.5,141.9 11.4,140.8C12.3,139.7 18.2,137.7 19.8,136.6C21.4,135.5 22.2,134.6 22.2,133.6C22.2,132.6 19.1,131.2 19.8,130C20.5,128.8 26.2,126.9 26.8,125.6C27.4,124.3 25.7,122.8 24.1,121.6C22.5,120.4 18.6,119.4 16,117.6C13.4,115.8 7.3,112.2 6.7,109.6Z" fill="none" stroke="#231f20" stroke-width="1.7" stroke-linejoin="round"/>
<path d="M21,175.6C22.3,173.4 21.4,172.7 25.2,168.4C29,164.1 28.6,164.8 33.6,161.2C38.6,157.6 36.6,156.8 42,156.4C47.4,156 46.2,159.1 51.6,160C57,160.9 54.8,159.8 60,159.4C65.2,159 62.1,158.3 69,158.8C75.9,159.3 74.7,160.1 82.9,161.1C91.1,162.1 89.1,162.6 96.3,162C103.5,161.4 101.4,161.2 107,159.1C112.6,157 110.2,157.4 115,155C119.8,152.6 117.7,151.9 123.1,151C128.5,150.1 126.6,151 133,152C139.4,153 138.3,154.3 144.5,154.4C150.7,154.5 147.8,153.8 153.8,152.4C159.8,151 158.9,150.3 164.5,149.7C170.1,149.1 168.6,148.4 172.6,150.4C176.6,152.4 175.3,152.8 177.9,156.4C180.5,160 180.3,160.6 181.3,162.4" fill="none" stroke="#231f20" stroke-width="1.4"/>
<path d="M27.3,174.1H172.6" stroke="#231f20" stroke-width="1.2"/>
<rect x="39.9" y="171.1" width="20.1" height="5.6" fill="#231f20"/>
<rect x="79.2" y="171.1" width="20.5" height="5.6" fill="#231f20"/>
<rect x="119.5" y="171.1" width="20.3" height="5.6" fill="#231f20"/>
<text x="46.1" y="207.1" textLength="22.3" lengthAdjust="spacingAndGlyphs" font-size="32.5">E</text>
<text x="79.7" y="207.1" textLength="18.1" lengthAdjust="spacingAndGlyphs" font-size="32.5">P</text>
<text x="118.9" y="207.1" font-size="32.5">A</text><path d="M89.9,98.7 99,100.8 97.9,108.5 101.8,111.3 99,129.6 96.9,138 96.2,152.1 94.1,166.8 83.6,166.8 82.2,154.9 77.9,152.1 80.1,146.5 82.2,140.8 80.1,138 79.4,129.6 76.5,126.8 80.1,121.9 86.4,117.7 91.3,114.9 91.7,108.5 90.9,102.9Z" fill="#808285" stroke="#231f20" stroke-width="1.6" stroke-linejoin="round"/>
<path d="M110.3,98.7C111.2,97.3 114.2,97.5 115.9,98.7C117.5,99.9 118.2,103.8 120.1,105.7C122,107.6 125.7,108.8 127.1,109.9C128.5,111.1 127.1,112.3 128.5,112.7C129.9,113.2 133.4,110.9 135.5,112.7C137.6,114.6 140,119.8 141.2,124C142.3,128.2 142.7,133.3 142.6,138C142.4,142.7 141.6,147.9 140.5,152.1C139.3,156.3 137.3,160.6 135.5,163.3C133.8,166 131.8,167.6 129.9,168.2C128,168.8 125.7,168.1 124.3,166.8C122.9,165.5 122.1,163.7 121.5,160.5C120.9,157.3 120.4,150.2 120.8,147.9C121.1,145.5 123,148.1 123.6,146.5C124.2,144.8 124.7,141.3 124.3,138C124,134.8 122.9,130.1 121.5,126.8C120.1,123.5 117.3,120.7 115.9,118.4C114.5,116 114,114.6 113.1,112.7C112.1,110.9 110.7,109.5 110.3,107.1C109.8,104.8 109.3,100.1 110.3,98.7Z" fill="#58595b" stroke="#231f20" stroke-width="1.6" stroke-linejoin="round"/>
<circle cx="113.1" cy="60.1" r="5.9" fill="#231f20" stroke="#231f20" stroke-width="1.3"/>
<circle cx="113.1" cy="71.3" r="5.9" fill="#d1d3d4" stroke="#231f20" stroke-width="1.3"/>
<circle cx="113.1" cy="81.8" r="5.9" fill="#808285" stroke="#231f20" stroke-width="1.3"/>
<circle cx="113.1" cy="92.4" r="5.9" fill="#6d6e71" stroke="#231f20" stroke-width="1.3"/>
<circle cx="102.5" cy="119.1" r="10.5" fill="#231f20" stroke="#231f20" stroke-width="1.3"/>
<path d="M152.1,100.3 152.2,111.2 162.3,115.4 151.9,118.9 151.1,129.8 144.6,121 133.9,123.5 140.3,114.6 134.6,105.3 145,108.6Z" fill="#e12228" stroke="#231f20" stroke-width="1.2"/>
<path d="M180,95.8 184.1,105.9 195.1,106 186.7,113.1 190,123.6 180.7,117.8 171.8,124.2 174.4,113.6 165.6,107.1 176.5,106.2Z" fill="#009444" stroke="#231f20" stroke-width="1.2"/></g>
<g transform="translate(0,0)"><path d="M186.7,795.5 191.1,786.7 201.4,782.2 207.3,780.8 211.7,774.9 214.7,766.1 219.1,761.6 225,761.6 230.9,755.8 236.8,752.8 242.7,755.8 245.6,760.2 250,763.1 251.5,767.5 257.4,771.9 258.9,777.8 257.4,785.2 251.5,788.1 242.7,789.6 233.8,792.5 227.9,795.5 219.1,797 211.7,795.5 205.9,798.4 197,802.1 191.1,799.9Z" fill="#d1d3d4" stroke="#231f20" stroke-width="1.6" stroke-linejoin="round"/>
<path d="M195.1,810.4L242,810.4" stroke="#231f20" stroke-width="1.3"/>
<path d="M253.2,810.4 238.5,816.3 242,810.4 238.5,804.5Z" fill="#231f20"/>
<path d="M462.4,809.2L502,809.2" stroke="#231f20" stroke-width="1.3"/>
<path d="M513,809.2 498.3,815.1 501.8,809.2 498.3,803.3Z" fill="#231f20"/>
<path d="M468,809.6C484,810 497,822 499.5,838" fill="none" stroke="#231f20" stroke-width="1.3"/>
<path d="M500.4,847.6 494.8,835.8 500.1,839.1 505.2,835.4Z" fill="#231f20"/>
<path d="M423.6,925.4 428,916.6 438.3,912.1 444.2,910.7 448.6,904.8 451.6,896 456,891.5 461.9,891.5 467.8,885.7 473.7,882.7 479.6,885.7 482.5,890.1 486.9,893 488.4,897.4 494.3,901.8 495.8,907.7 494.3,915.1 488.4,918 479.6,919.5 470.7,922.4 464.8,925.4 456,926.9 448.6,925.4 442.8,928.3 433.9,932 428,929.8Z" fill="#d1d3d4" stroke="#231f20" stroke-width="1.6" stroke-linejoin="round"/>
<path d="M510.8,855.2C511.7,854.2 515,852.1 516.7,852.2C518.4,852.3 520.1,854.5 521.1,855.8C522.1,857.2 522.5,858.1 522.5,860.3C522.5,862.5 521.2,866 521.1,869.1C521,872.2 521.6,874.9 521.8,878.7C522,882.5 522,888.1 522.5,891.9C523,895.7 523.7,899.5 524.8,901.5C525.9,903.5 528,901.9 529.2,903.7C530.4,905.5 531.7,909.8 532.1,912.5C532.5,915.2 532.1,918.1 531.4,919.9C530.7,921.8 529.1,923.1 527.7,923.6C526.4,924.1 525,923.8 523.3,922.9C521.6,922.1 519.6,921 517.4,918.5C515.2,916 512.2,911.6 510,908.1C507.8,904.7 506.3,900.7 504.1,897.8C501.9,894.9 498.8,893 496.8,890.5C494.9,888 493,885.3 492.4,883.1C491.8,880.9 491.6,878.9 493.1,877.2C494.6,875.5 499.1,873.7 501.2,872.8C503.3,872 504.6,873 505.6,872.1C506.6,871.2 506,869.3 507.1,867.7C508.2,866.1 511.5,864.1 512.2,862.5C512.9,860.9 511.7,859.3 511.5,858.1C511.3,856.9 509.9,856.2 510.8,855.2Z" fill="#bcbec0" stroke="#231f20" stroke-width="1.6" stroke-linejoin="round"/>
<path d="M702.5,703.3C703.7,702.2 707.4,701.7 709.1,702.7C710.8,703.7 711.7,707.7 712.7,709.4C713.7,711.1 713.7,712.2 715.1,713C716.5,713.8 720,713.6 721.1,714.2C722.2,714.8 719.9,716.2 721.7,716.6C723.5,717 729.9,715.2 732,716.6C734.1,718 733.9,721.4 734.4,725C734.9,728.6 735,734.4 735,738.3C735,742.1 734.9,744.3 734.4,747.9C733.9,751.5 733.2,756.3 732,759.9C730.8,763.5 728.8,767.3 727.2,769.6C725.5,771.8 723.9,772.9 722.3,773.2C720.7,773.5 718.9,772.8 717.5,771.4C716.1,770 714.6,767.8 713.9,764.7C713.2,761.6 712.9,754.9 713.3,752.7C713.7,750.5 715.6,753.1 716.3,751.5C717,749.9 717.7,745.7 717.5,743.1C717.3,740.5 716.1,738.3 715.1,735.8C714.1,733.4 712.7,731 711.5,728.6C710.3,726.2 709.1,723.6 707.9,721.4C706.7,719.2 705.3,717.4 704.3,715.4C703.3,713.4 702.2,711.4 701.9,709.4C701.6,707.4 701.3,704.4 702.5,703.3Z" fill="#414042" stroke="#231f20" stroke-width="1.6" stroke-linejoin="round"/>
<circle cx="705.5" cy="697.3" r="6" fill="#414042" stroke="#231f20" stroke-width="1.3"/>
<path d="M732.8,709.4 741.1,717.6 751.9,713.1 746.7,723.6 754.2,732.4 742.7,730.7 736.7,740.6 734.7,729.1 723.4,726.4 733.7,721Z" fill="#e12228" stroke="#231f20" stroke-width="1.2"/>
<path d="M721.3,783.5C721.3,800 735,809.6 750,809.6" fill="none" stroke="#231f20" stroke-width="1.3"/>
<path d="M711.3,810L755,810" stroke="#231f20" stroke-width="1.3"/>
<path d="M766.3,810 751.6,815.9 755.1,810 751.6,804.1Z" fill="#231f20"/></g>
<text x="2.1" y="678.1" font-weight="bold" font-size="31">e</text>
<text x="34.8" y="679.9" textLength="156.3" lengthAdjust="spacingAndGlyphs" font-size="32.5">Pept-tRNA</text>
<text x="190" y="666.8" textLength="24.7" lengthAdjust="spacingAndGlyphs" font-size="16.5">Lys</text>
<text x="214.8" y="679.9" textLength="101.4" lengthAdjust="spacingAndGlyphs" font-size="32.5">-BHQ2</text>
<text x="162.9" y="726.2" fill="#00a651" font-size="32.5">L11-Cy3</text>
<text x="183.5" y="847.8" textLength="78.7" lengthAdjust="spacingAndGlyphs" font-size="32.5">EF-G</text>
<text x="47.4" y="921" textLength="82.8" lengthAdjust="spacingAndGlyphs" font-size="32.5">PRE1</text>
<text x="332.9" y="921" font-size="32.5">CHI</text>
<text x="557" y="920.6" textLength="107.3" lengthAdjust="spacingAndGlyphs" font-size="32.5">POST2</text>
<text x="537.1" y="949.2" textLength="148.2" lengthAdjust="spacingAndGlyphs" font-size="32.5">(–1 frame)</text>
<text x="820.4" y="920.6" font-size="32.5">PRE2</text>
<text x="788.2" y="949.2" textLength="151.8" lengthAdjust="spacingAndGlyphs" font-size="32.5">(–1 frame)</text>
<text x="606.1" y="680.7" fill="#ed1c24" font-size="32.5">–1-frame Val-tRNA</text>
<text x="880.2" y="667" textLength="21.2" lengthAdjust="spacingAndGlyphs" fill="#ed1c24" font-size="16.5">Val</text>
<text x="902.9" y="680.7" textLength="69.8" lengthAdjust="spacingAndGlyphs" fill="#ed1c24" font-size="32.5">-Cy5</text>
<g transform="translate(-1,1329.7)"><path d="M6.7,109.6C6.1,107 10,103 12,100.2C14,97.4 17.9,93.2 20.1,90.8C22.3,88.4 24.6,85.7 26.8,84.1C29,82.5 33,81.9 34.8,80.1C36.6,78.3 38.1,74.1 38.8,72.1C39.5,70.1 39.5,68.4 39.5,66.8C39.5,65.2 38.7,62.7 38.8,61.4C38.9,60.1 39.3,58.9 40.1,58.1C40.9,57.3 42.5,56.3 44.1,55.8C45.7,55.3 48.6,55.1 50.8,54.7C53,54.3 56.7,53.7 58.9,53.1C61.1,52.5 64,51.2 65.6,51C67.2,50.8 68.2,51.4 69.6,51.8C71,52.2 72.9,52.6 74.9,53.4C76.9,54.2 80.5,55.9 82.9,57.4C85.3,58.9 89,61.8 91,63.4C93,65 95.3,68.4 96.3,68.1C97.3,67.8 97.1,63.1 97.4,61.4C97.7,59.7 97.7,57.7 98.3,56.7C98.9,55.7 100.4,55.2 101.7,54.7C103,54.2 104.8,53.4 107,53.4C109.2,53.4 113.4,54.2 116.4,54.4C119.4,54.5 125.2,54.5 127.1,54.4C129,54.2 128.6,53.2 129.1,53.4C129.6,53.5 129.9,54.2 130.4,55.4C130.9,56.6 131.9,59.5 132.4,61.4C132.9,63.3 133,66.9 133.8,68.1C134.6,69.3 136.2,69.5 137.8,69.4C139.4,69.3 142.5,68 144.5,67.4C146.5,66.8 149.6,65.5 151.2,65.4C152.8,65.3 154.4,66 155.2,66.8C156,67.6 156.4,69.2 156.3,70.8C156.2,72.4 155.3,75.3 154.5,77.5C153.7,79.7 150.3,82.9 151.2,85.5C152.1,88.1 157.5,91.6 160.5,94.8C163.5,98 169.7,103.9 171.2,106.9C172.7,109.9 171,112.1 170.6,114.9C170.2,117.7 169.1,123 168.8,125.6C168.5,128.2 167.8,130.9 168.6,132.3C169.4,133.7 172,133.9 173.9,135C175.8,136.1 180.5,137.9 181.3,139.7C182.1,141.5 179.8,144.7 179.3,147C178.8,149.3 177.6,152.7 177.9,155C178.2,157.3 181.1,160.9 181.3,162.4C181.5,163.9 180.8,164.5 179.3,165.1C177.8,165.7 174.4,165.6 171.2,166.4C168,167.2 160.9,169.5 157.9,170.4C154.9,171.3 151.8,171.3 151.2,172.4C150.6,173.5 152.8,175.6 153.8,177.8C154.8,180 157.5,184.2 157.9,187.2C158.3,190.2 157.5,194.7 156.5,197.9C155.5,201.1 153,206.4 151.2,208.6C149.4,210.8 147.1,211.4 144.5,212.6C141.9,213.8 136.6,214.7 133.8,216.6C131,218.5 127.8,224.1 125.8,225.3C123.8,226.5 122.6,224.7 120.4,224.6C118.2,224.5 113,224.3 111,224.6C109,224.9 108.4,225.6 107,226.6C105.6,227.6 103.3,231 101.7,231.3C100.1,231.6 97.7,229.2 96.3,228.6C94.9,228 93.5,226.3 92.3,227.3C91.1,228.3 90.1,233.1 88.3,235.3C86.5,237.5 82.1,240.8 80.3,242C78.5,243.2 77.2,243.4 76,243C74.8,242.6 73.5,240.5 72,239.2C70.5,237.9 67.5,235.1 66,234.4C64.5,233.7 62.8,235.2 61.8,234.4C60.8,233.6 60,230.9 59.4,229C58.8,227.1 58.4,222.9 57.6,221.8C56.8,220.7 54.7,222.2 54,221.8C53.3,221.4 53.4,219.8 52.8,218.8C52.2,217.8 51.2,215.6 49.8,215.2C48.4,214.8 44.7,216.8 43.2,216.4C41.7,216 40,214.1 39.6,212.8C39.2,211.5 39.9,209.7 40.8,208C41.7,206.3 45.4,202.8 45.6,201.4C45.8,200 43.8,199.2 42,198.4C40.2,197.6 35.4,196.6 33.6,196C31.8,195.4 31.6,196 30,194.2C28.4,192.4 24.2,186.4 22.8,184C21.4,181.6 21.4,179 21,178C20.6,177 23,178.3 20.4,177.4C17.8,176.5 4.8,174.8 3.9,172.3C3,169.8 12.2,163.3 14.4,160.6C16.6,157.9 18.5,155.8 18.6,154.6C18.7,153.4 15.3,153.8 15,152.8C14.7,151.8 17,149.3 16.8,148C16.6,146.7 14.6,144.9 13.8,143.8C13,142.7 10.5,141.9 11.4,140.8C12.3,139.7 18.2,137.7 19.8,136.6C21.4,135.5 22.2,134.6 22.2,133.6C22.2,132.6 19.1,131.2 19.8,130C20.5,128.8 26.2,126.9 26.8,125.6C27.4,124.3 25.7,122.8 24.1,121.6C22.5,120.4 18.6,119.4 16,117.6C13.4,115.8 7.3,112.2 6.7,109.6Z" fill="#e6e7e8"/>
<rect x="33.9" y="88.8" width="31.8" height="96.7" rx="15.9" fill="#bcbec0"/>
<rect x="73.3" y="88.8" width="31.7" height="105" rx="15.9" fill="#bcbec0"/>
<rect x="113" y="88.8" width="31.5" height="105" rx="15.8" fill="#bcbec0"/>
<path d="M6.7,109.6C6.1,107 10,103 12,100.2C14,97.4 17.9,93.2 20.1,90.8C22.3,88.4 24.6,85.7 26.8,84.1C29,82.5 33,81.9 34.8,80.1C36.6,78.3 38.1,74.1 38.8,72.1C39.5,70.1 39.5,68.4 39.5,66.8C39.5,65.2 38.7,62.7 38.8,61.4C38.9,60.1 39.3,58.9 40.1,58.1C40.9,57.3 42.5,56.3 44.1,55.8C45.7,55.3 48.6,55.1 50.8,54.7C53,54.3 56.7,53.7 58.9,53.1C61.1,52.5 64,51.2 65.6,51C67.2,50.8 68.2,51.4 69.6,51.8C71,52.2 72.9,52.6 74.9,53.4C76.9,54.2 80.5,55.9 82.9,57.4C85.3,58.9 89,61.8 91,63.4C93,65 95.3,68.4 96.3,68.1C97.3,67.8 97.1,63.1 97.4,61.4C97.7,59.7 97.7,57.7 98.3,56.7C98.9,55.7 100.4,55.2 101.7,54.7C103,54.2 104.8,53.4 107,53.4C109.2,53.4 113.4,54.2 116.4,54.4C119.4,54.5 125.2,54.5 127.1,54.4C129,54.2 128.6,53.2 129.1,53.4C129.6,53.5 129.9,54.2 130.4,55.4C130.9,56.6 131.9,59.5 132.4,61.4C132.9,63.3 133,66.9 133.8,68.1C134.6,69.3 136.2,69.5 137.8,69.4C139.4,69.3 142.5,68 144.5,67.4C146.5,66.8 149.6,65.5 151.2,65.4C152.8,65.3 154.4,66 155.2,66.8C156,67.6 156.4,69.2 156.3,70.8C156.2,72.4 155.3,75.3 154.5,77.5C153.7,79.7 150.3,82.9 151.2,85.5C152.1,88.1 157.5,91.6 160.5,94.8C163.5,98 169.7,103.9 171.2,106.9C172.7,109.9 171,112.1 170.6,114.9C170.2,117.7 169.1,123 168.8,125.6C168.5,128.2 167.8,130.9 168.6,132.3C169.4,133.7 172,133.9 173.9,135C175.8,136.1 180.5,137.9 181.3,139.7C182.1,141.5 179.8,144.7 179.3,147C178.8,149.3 177.6,152.7 177.9,155C178.2,157.3 181.1,160.9 181.3,162.4C181.5,163.9 180.8,164.5 179.3,165.1C177.8,165.7 174.4,165.6 171.2,166.4C168,167.2 160.9,169.5 157.9,170.4C154.9,171.3 151.8,171.3 151.2,172.4C150.6,173.5 152.8,175.6 153.8,177.8C154.8,180 157.5,184.2 157.9,187.2C158.3,190.2 157.5,194.7 156.5,197.9C155.5,201.1 153,206.4 151.2,208.6C149.4,210.8 147.1,211.4 144.5,212.6C141.9,213.8 136.6,214.7 133.8,216.6C131,218.5 127.8,224.1 125.8,225.3C123.8,226.5 122.6,224.7 120.4,224.6C118.2,224.5 113,224.3 111,224.6C109,224.9 108.4,225.6 107,226.6C105.6,227.6 103.3,231 101.7,231.3C100.1,231.6 97.7,229.2 96.3,228.6C94.9,228 93.5,226.3 92.3,227.3C91.1,228.3 90.1,233.1 88.3,235.3C86.5,237.5 82.1,240.8 80.3,242C78.5,243.2 77.2,243.4 76,243C74.8,242.6 73.5,240.5 72,239.2C70.5,237.9 67.5,235.1 66,234.4C64.5,233.7 62.8,235.2 61.8,234.4C60.8,233.6 60,230.9 59.4,229C58.8,227.1 58.4,222.9 57.6,221.8C56.8,220.7 54.7,222.2 54,221.8C53.3,221.4 53.4,219.8 52.8,218.8C52.2,217.8 51.2,215.6 49.8,215.2C48.4,214.8 44.7,216.8 43.2,216.4C41.7,216 40,214.1 39.6,212.8C39.2,211.5 39.9,209.7 40.8,208C41.7,206.3 45.4,202.8 45.6,201.4C45.8,200 43.8,199.2 42,198.4C40.2,197.6 35.4,196.6 33.6,196C31.8,195.4 31.6,196 30,194.2C28.4,192.4 24.2,186.4 22.8,184C21.4,181.6 21.4,179 21,178C20.6,177 23,178.3 20.4,177.4C17.8,176.5 4.8,174.8 3.9,172.3C3,169.8 12.2,163.3 14.4,160.6C16.6,157.9 18.5,155.8 18.6,154.6C18.7,153.4 15.3,153.8 15,152.8C14.7,151.8 17,149.3 16.8,148C16.6,146.7 14.6,144.9 13.8,143.8C13,142.7 10.5,141.9 11.4,140.8C12.3,139.7 18.2,137.7 19.8,136.6C21.4,135.5 22.2,134.6 22.2,133.6C22.2,132.6 19.1,131.2 19.8,130C20.5,128.8 26.2,126.9 26.8,125.6C27.4,124.3 25.7,122.8 24.1,121.6C22.5,120.4 18.6,119.4 16,117.6C13.4,115.8 7.3,112.2 6.7,109.6Z" fill="none" stroke="#231f20" stroke-width="1.7" stroke-linejoin="round"/>
<path d="M21,175.6C22.3,173.4 21.4,172.7 25.2,168.4C29,164.1 28.6,164.8 33.6,161.2C38.6,157.6 36.6,156.8 42,156.4C47.4,156 46.2,159.1 51.6,160C57,160.9 54.8,159.8 60,159.4C65.2,159 62.1,158.3 69,158.8C75.9,159.3 74.7,160.1 82.9,161.1C91.1,162.1 89.1,162.6 96.3,162C103.5,161.4 101.4,161.2 107,159.1C112.6,157 110.2,157.4 115,155C119.8,152.6 117.7,151.9 123.1,151C128.5,150.1 126.6,151 133,152C139.4,153 138.3,154.3 144.5,154.4C150.7,154.5 147.8,153.8 153.8,152.4C159.8,151 158.9,150.3 164.5,149.7C170.1,149.1 168.6,148.4 172.6,150.4C176.6,152.4 175.3,152.8 177.9,156.4C180.5,160 180.3,160.6 181.3,162.4" fill="none" stroke="#231f20" stroke-width="1.4"/>
<path d="M27.3,174.1H172.6" stroke="#231f20" stroke-width="1.2"/>
<rect x="39.9" y="171.1" width="20.1" height="5.6" fill="#231f20"/>
<rect x="79.2" y="171.1" width="20.5" height="5.6" fill="#231f20"/>
<rect x="119.5" y="171.1" width="20.3" height="5.6" fill="#231f20"/>
<text x="46.1" y="207.1" textLength="22.3" lengthAdjust="spacingAndGlyphs" font-size="32.5">E</text>
<text x="79.7" y="207.1" textLength="18.1" lengthAdjust="spacingAndGlyphs" font-size="32.5">P</text>
<text x="118.9" y="207.1" font-size="32.5">A</text><path d="M89.4,98.9 99.7,101.3 99.7,109.6 103,117.6 99.7,127 96.3,141.7 95,153.7 93.6,166.4 84,166.8 82.3,157.7 78.9,151 80.9,144.3 77.6,136.3 74.9,128.3 80.3,120.3 87,112.2 89.4,104.2Z" fill="#bcbec0" stroke="#231f20" stroke-width="1.6" stroke-linejoin="round"/>
<path d="M113,98.9C114.4,98.4 118.7,97.5 120.4,98.9C122.1,100.2 121.3,104.7 123.1,106.9C124.9,109.1 128.4,111.6 131.1,112.2C133.8,112.9 136.5,109.6 139.1,110.9C141.8,112.2 146,117.6 147.2,120.3C148.3,122.9 146.3,122.5 145.8,127C145.4,131.4 145.4,141.4 144.5,147C143.6,152.6 142.5,156.9 140.5,160.4C138.5,163.9 134.9,167.1 132.4,167.8C130,168.4 127.3,166.8 125.8,164.4C124.2,162.1 123.3,157.7 123.1,153.7C122.9,149.7 124.9,144.8 124.4,140.3C124,135.9 121.7,130.7 120.4,127C119.1,123.2 117.6,120.5 116.4,117.6C115.2,114.7 113.7,112.2 113,109.6C112.4,106.9 112.4,103.3 112.4,101.5C112.4,99.8 111.7,99.3 113,98.9Z" fill="#6d6e71" stroke="#231f20" stroke-width="1.6" stroke-linejoin="round"/>
<circle cx="115.9" cy="71" r="5.6" fill="#231f20" stroke="#231f20" stroke-width="1.3"/>
<circle cx="115.9" cy="82.1" r="5.6" fill="#bcbec0" stroke="#231f20" stroke-width="1.3"/>
<circle cx="115.9" cy="92.2" r="5.6" fill="#808285" stroke="#231f20" stroke-width="1.3"/>
<circle cx="148.8" cy="116.3" r="10.3" fill="#231f20" stroke="#231f20" stroke-width="1.3"/>
<path d="M180.4,96.6 184.5,106.7 195.5,106.8 187.2,113.9 190.4,124.3 181.1,118.6 172.2,125 174.8,114.3 166,107.8 176.9,107Z" fill="#009444" stroke="#231f20" stroke-width="1.2"/></g>
<g transform="translate(267.7,1329.7)"><path d="M6.7,109.6C6.1,107 10,103 12,100.2C14,97.4 17.9,93.2 20.1,90.8C22.3,88.4 24.6,85.7 26.8,84.1C29,82.5 33,81.9 34.8,80.1C36.6,78.3 38.1,74.1 38.8,72.1C39.5,70.1 39.5,68.4 39.5,66.8C39.5,65.2 38.7,62.7 38.8,61.4C38.9,60.1 39.3,58.9 40.1,58.1C40.9,57.3 42.5,56.3 44.1,55.8C45.7,55.3 48.6,55.1 50.8,54.7C53,54.3 56.7,53.7 58.9,53.1C61.1,52.5 64,51.2 65.6,51C67.2,50.8 68.2,51.4 69.6,51.8C71,52.2 72.9,52.6 74.9,53.4C76.9,54.2 80.5,55.9 82.9,57.4C85.3,58.9 89,61.8 91,63.4C93,65 95.3,68.4 96.3,68.1C97.3,67.8 97.1,63.1 97.4,61.4C97.7,59.7 97.7,57.7 98.3,56.7C98.9,55.7 100.4,55.2 101.7,54.7C103,54.2 104.8,53.4 107,53.4C109.2,53.4 113.4,54.2 116.4,54.4C119.4,54.5 125.2,54.5 127.1,54.4C129,54.2 128.6,53.2 129.1,53.4C129.6,53.5 129.9,54.2 130.4,55.4C130.9,56.6 131.9,59.5 132.4,61.4C132.9,63.3 133,66.9 133.8,68.1C134.6,69.3 136.2,69.5 137.8,69.4C139.4,69.3 142.5,68 144.5,67.4C146.5,66.8 149.6,65.5 151.2,65.4C152.8,65.3 154.4,66 155.2,66.8C156,67.6 156.4,69.2 156.3,70.8C156.2,72.4 155.3,75.3 154.5,77.5C153.7,79.7 150.3,82.9 151.2,85.5C152.1,88.1 157.5,91.6 160.5,94.8C163.5,98 169.7,103.9 171.2,106.9C172.7,109.9 171,112.1 170.6,114.9C170.2,117.7 169.1,123 168.8,125.6C168.5,128.2 167.8,130.9 168.6,132.3C169.4,133.7 172,133.9 173.9,135C175.8,136.1 180.5,137.9 181.3,139.7C182.1,141.5 179.8,144.7 179.3,147C178.8,149.3 177.6,152.7 177.9,155C178.2,157.3 181.1,160.9 181.3,162.4C181.5,163.9 180.8,164.5 179.3,165.1C177.8,165.7 174.4,165.6 171.2,166.4C168,167.2 160.9,169.5 157.9,170.4C154.9,171.3 151.8,171.3 151.2,172.4C150.6,173.5 152.8,175.6 153.8,177.8C154.8,180 157.5,184.2 157.9,187.2C158.3,190.2 157.5,194.7 156.5,197.9C155.5,201.1 153,206.4 151.2,208.6C149.4,210.8 147.1,211.4 144.5,212.6C141.9,213.8 136.6,214.7 133.8,216.6C131,218.5 127.8,224.1 125.8,225.3C123.8,226.5 122.6,224.7 120.4,224.6C118.2,224.5 113,224.3 111,224.6C109,224.9 108.4,225.6 107,226.6C105.6,227.6 103.3,231 101.7,231.3C100.1,231.6 97.7,229.2 96.3,228.6C94.9,228 93.5,226.3 92.3,227.3C91.1,228.3 90.1,233.1 88.3,235.3C86.5,237.5 82.1,240.8 80.3,242C78.5,243.2 77.2,243.4 76,243C74.8,242.6 73.5,240.5 72,239.2C70.5,237.9 67.5,235.1 66,234.4C64.5,233.7 62.8,235.2 61.8,234.4C60.8,233.6 60,230.9 59.4,229C58.8,227.1 58.4,222.9 57.6,221.8C56.8,220.7 54.7,222.2 54,221.8C53.3,221.4 53.4,219.8 52.8,218.8C52.2,217.8 51.2,215.6 49.8,215.2C48.4,214.8 44.7,216.8 43.2,216.4C41.7,216 40,214.1 39.6,212.8C39.2,211.5 39.9,209.7 40.8,208C41.7,206.3 45.4,202.8 45.6,201.4C45.8,200 43.8,199.2 42,198.4C40.2,197.6 35.4,196.6 33.6,196C31.8,195.4 31.6,196 30,194.2C28.4,192.4 24.2,186.4 22.8,184C21.4,181.6 21.4,179 21,178C20.6,177 23,178.3 20.4,177.4C17.8,176.5 4.8,174.8 3.9,172.3C3,169.8 12.2,163.3 14.4,160.6C16.6,157.9 18.5,155.8 18.6,154.6C18.7,153.4 15.3,153.8 15,152.8C14.7,151.8 17,149.3 16.8,148C16.6,146.7 14.6,144.9 13.8,143.8C13,142.7 10.5,141.9 11.4,140.8C12.3,139.7 18.2,137.7 19.8,136.6C21.4,135.5 22.2,134.6 22.2,133.6C22.2,132.6 19.1,131.2 19.8,130C20.5,128.8 26.2,126.9 26.8,125.6C27.4,124.3 25.7,122.8 24.1,121.6C22.5,120.4 18.6,119.4 16,117.6C13.4,115.8 7.3,112.2 6.7,109.6Z" fill="#e6e7e8"/>
<rect x="33.9" y="88.8" width="31.8" height="96.7" rx="15.9" fill="#bcbec0"/>
<rect x="73.3" y="88.8" width="31.7" height="105" rx="15.9" fill="#bcbec0"/>
<rect x="113" y="88.8" width="31.5" height="105" rx="15.8" fill="#bcbec0"/>
<path d="M6.7,109.6C6.1,107 10,103 12,100.2C14,97.4 17.9,93.2 20.1,90.8C22.3,88.4 24.6,85.7 26.8,84.1C29,82.5 33,81.9 34.8,80.1C36.6,78.3 38.1,74.1 38.8,72.1C39.5,70.1 39.5,68.4 39.5,66.8C39.5,65.2 38.7,62.7 38.8,61.4C38.9,60.1 39.3,58.9 40.1,58.1C40.9,57.3 42.5,56.3 44.1,55.8C45.7,55.3 48.6,55.1 50.8,54.7C53,54.3 56.7,53.7 58.9,53.1C61.1,52.5 64,51.2 65.6,51C67.2,50.8 68.2,51.4 69.6,51.8C71,52.2 72.9,52.6 74.9,53.4C76.9,54.2 80.5,55.9 82.9,57.4C85.3,58.9 89,61.8 91,63.4C93,65 95.3,68.4 96.3,68.1C97.3,67.8 97.1,63.1 97.4,61.4C97.7,59.7 97.7,57.7 98.3,56.7C98.9,55.7 100.4,55.2 101.7,54.7C103,54.2 104.8,53.4 107,53.4C109.2,53.4 113.4,54.2 116.4,54.4C119.4,54.5 125.2,54.5 127.1,54.4C129,54.2 128.6,53.2 129.1,53.4C129.6,53.5 129.9,54.2 130.4,55.4C130.9,56.6 131.9,59.5 132.4,61.4C132.9,63.3 133,66.9 133.8,68.1C134.6,69.3 136.2,69.5 137.8,69.4C139.4,69.3 142.5,68 144.5,67.4C146.5,66.8 149.6,65.5 151.2,65.4C152.8,65.3 154.4,66 155.2,66.8C156,67.6 156.4,69.2 156.3,70.8C156.2,72.4 155.3,75.3 154.5,77.5C153.7,79.7 150.3,82.9 151.2,85.5C152.1,88.1 157.5,91.6 160.5,94.8C163.5,98 169.7,103.9 171.2,106.9C172.7,109.9 171,112.1 170.6,114.9C170.2,117.7 169.1,123 168.8,125.6C168.5,128.2 167.8,130.9 168.6,132.3C169.4,133.7 172,133.9 173.9,135C175.8,136.1 180.5,137.9 181.3,139.7C182.1,141.5 179.8,144.7 179.3,147C178.8,149.3 177.6,152.7 177.9,155C178.2,157.3 181.1,160.9 181.3,162.4C181.5,163.9 180.8,164.5 179.3,165.1C177.8,165.7 174.4,165.6 171.2,166.4C168,167.2 160.9,169.5 157.9,170.4C154.9,171.3 151.8,171.3 151.2,172.4C150.6,173.5 152.8,175.6 153.8,177.8C154.8,180 157.5,184.2 157.9,187.2C158.3,190.2 157.5,194.7 156.5,197.9C155.5,201.1 153,206.4 151.2,208.6C149.4,210.8 147.1,211.4 144.5,212.6C141.9,213.8 136.6,214.7 133.8,216.6C131,218.5 127.8,224.1 125.8,225.3C123.8,226.5 122.6,224.7 120.4,224.6C118.2,224.5 113,224.3 111,224.6C109,224.9 108.4,225.6 107,226.6C105.6,227.6 103.3,231 101.7,231.3C100.1,231.6 97.7,229.2 96.3,228.6C94.9,228 93.5,226.3 92.3,227.3C91.1,228.3 90.1,233.1 88.3,235.3C86.5,237.5 82.1,240.8 80.3,242C78.5,243.2 77.2,243.4 76,243C74.8,242.6 73.5,240.5 72,239.2C70.5,237.9 67.5,235.1 66,234.4C64.5,233.7 62.8,235.2 61.8,234.4C60.8,233.6 60,230.9 59.4,229C58.8,227.1 58.4,222.9 57.6,221.8C56.8,220.7 54.7,222.2 54,221.8C53.3,221.4 53.4,219.8 52.8,218.8C52.2,217.8 51.2,215.6 49.8,215.2C48.4,214.8 44.7,216.8 43.2,216.4C41.7,216 40,214.1 39.6,212.8C39.2,211.5 39.9,209.7 40.8,208C41.7,206.3 45.4,202.8 45.6,201.4C45.8,200 43.8,199.2 42,198.4C40.2,197.6 35.4,196.6 33.6,196C31.8,195.4 31.6,196 30,194.2C28.4,192.4 24.2,186.4 22.8,184C21.4,181.6 21.4,179 21,178C20.6,177 23,178.3 20.4,177.4C17.8,176.5 4.8,174.8 3.9,172.3C3,169.8 12.2,163.3 14.4,160.6C16.6,157.9 18.5,155.8 18.6,154.6C18.7,153.4 15.3,153.8 15,152.8C14.7,151.8 17,149.3 16.8,148C16.6,146.7 14.6,144.9 13.8,143.8C13,142.7 10.5,141.9 11.4,140.8C12.3,139.7 18.2,137.7 19.8,136.6C21.4,135.5 22.2,134.6 22.2,133.6C22.2,132.6 19.1,131.2 19.8,130C20.5,128.8 26.2,126.9 26.8,125.6C27.4,124.3 25.7,122.8 24.1,121.6C22.5,120.4 18.6,119.4 16,117.6C13.4,115.8 7.3,112.2 6.7,109.6Z" fill="none" stroke="#231f20" stroke-width="1.7" stroke-linejoin="round"/>
<path d="M21,175.6C22.3,173.4 21.4,172.7 25.2,168.4C29,164.1 28.6,164.8 33.6,161.2C38.6,157.6 36.6,156.8 42,156.4C47.4,156 46.2,159.1 51.6,160C57,160.9 54.8,159.8 60,159.4C65.2,159 62.1,158.3 69,158.8C75.9,159.3 74.7,160.1 82.9,161.1C91.1,162.1 89.1,162.6 96.3,162C103.5,161.4 101.4,161.2 107,159.1C112.6,157 110.2,157.4 115,155C119.8,152.6 117.7,151.9 123.1,151C128.5,150.1 126.6,151 133,152C139.4,153 138.3,154.3 144.5,154.4C150.7,154.5 147.8,153.8 153.8,152.4C159.8,151 158.9,150.3 164.5,149.7C170.1,149.1 168.6,148.4 172.6,150.4C176.6,152.4 175.3,152.8 177.9,156.4C180.5,160 180.3,160.6 181.3,162.4" fill="none" stroke="#231f20" stroke-width="1.4"/>
<path d="M27.3,174.1H172.6" stroke="#231f20" stroke-width="1.2"/>
<rect x="32.8" y="171.1" width="20.1" height="5.6" fill="#231f20"/>
<rect x="72.1" y="171.1" width="20.5" height="5.6" fill="#231f20"/>
<rect x="112.4" y="171.1" width="20.3" height="5.6" fill="#231f20"/>
<text x="46.1" y="207.1" textLength="22.3" lengthAdjust="spacingAndGlyphs" font-size="32.5">E</text>
<text x="79.7" y="207.1" textLength="18.1" lengthAdjust="spacingAndGlyphs" font-size="32.5">P</text>
<text x="118.9" y="207.1" font-size="32.5">A</text><path d="M64.4,97.8C65.4,96.9 67.8,95.6 69.3,95.7C70.9,95.8 72.6,97.1 73.5,98.5C74.5,99.9 75,102.5 75,104.1C75,105.8 73.5,106.7 73.5,108.3C73.5,110 75,111.6 75,114C75,116.3 74,119.1 73.5,122.4C73.1,125.7 71.7,130.1 72.1,133.6C72.6,137.1 75.2,141.6 76.4,143.5C77.5,145.3 78.2,143.9 79.2,144.9C80.1,145.8 81,146.7 82,149.1C82.9,151.4 84.6,156.3 84.8,158.9C85,161.5 84.6,163.2 83.4,164.5C82.2,165.8 79.6,166.6 77.8,166.6C75.9,166.6 74.3,166 72.1,164.5C70,163 67.5,160.5 65.1,157.5C62.8,154.5 60.4,149.8 58.1,146.3C55.8,142.7 53.2,139.5 51.1,136.4C49,133.4 46.2,130.6 45.5,128C44.8,125.4 45.7,122.7 46.9,121C48,119.2 50.4,118.5 52.5,117.5C54.6,116.4 58.1,115.9 59.5,114.7C60.9,113.4 60,111 60.9,109.7C61.8,108.5 64.7,108.3 65.1,106.9C65.6,105.5 63.8,102.8 63.7,101.3C63.6,99.8 63.5,98.7 64.4,97.8Z" fill="#bcbec0" stroke="#231f20" stroke-width="1.6" stroke-linejoin="round"/>
<path d="M111.5,97.1C112.4,96.4 116.9,96.2 118.5,97.1C120.1,98 121.1,100.6 121.3,102.7C121.5,104.8 120.4,107.4 119.9,109.7C119.4,112.1 118.6,113.7 118.5,116.8C118.4,119.8 119,124.7 119.2,128C119.4,131.3 119.6,133.6 119.9,136.4C120.3,139.2 120.8,142.5 121.3,144.9C121.8,147.2 122.2,148.1 122.7,150.5C123.2,152.8 124.1,156.6 124.1,158.9C124.1,161.2 123.6,163.1 122.7,164.5C121.8,165.9 120.1,167.1 118.5,167.3C116.9,167.6 114.8,167.1 112.9,165.9C111,164.8 109.1,162.9 107.3,160.3C105.4,157.7 103.3,154 101.6,150.5C100,147 98.6,142 97.4,139.2C96.3,136.4 95.8,135.5 94.6,133.6C93.4,131.7 90.9,130.8 90.4,128C89.9,125.2 90.6,118.9 91.8,116.8C93,114.7 95.3,116.1 97.4,115.4C99.5,114.7 102.8,113.7 104.5,112.5C106.1,111.4 106.1,109.3 107.3,108.3C108.4,107.4 110.5,108.1 111.5,106.9C112.4,105.8 112.9,102.9 112.9,101.3C112.9,99.7 110.5,97.8 111.5,97.1Z" fill="#6d6e71" stroke="#231f20" stroke-width="1.6" stroke-linejoin="round"/>
<circle cx="115.4" cy="70.7" r="5.9" fill="#231f20" stroke="#231f20" stroke-width="1.3"/>
<circle cx="115.4" cy="81.6" r="5.9" fill="#bcbec0" stroke="#231f20" stroke-width="1.3"/>
<circle cx="115.4" cy="91.5" r="5.9" fill="#808285" stroke="#231f20" stroke-width="1.3"/>
<circle cx="89" cy="122.4" r="11" fill="#231f20" stroke="#231f20" stroke-width="1.3"/>
<path d="M129.7,161.7 132.5,154.7 139.6,150.5 148,149.1 153.6,136.4 160.6,130.8 170.5,128 180.3,122.4 188.7,125.2 195.8,135 201.4,142 200,150.5 194.4,154.7 183.1,156.1 174.7,158.9 178.9,161.7 177.5,165.2 170.5,164.5 160.6,163.1 153.6,164.5 146.6,165.9 139.6,168.7 132.5,167.3Z" fill="#d1d3d4" stroke="#231f20" stroke-width="1.6" stroke-linejoin="round"/>
<path d="M179.8,95.8 183.9,105.9 194.9,106 186.6,113.1 189.8,123.5 180.5,117.8 171.6,124.2 174.2,113.5 165.4,107 176.3,106.2Z" fill="#009444" stroke="#231f20" stroke-width="1.2"/></g>
<g transform="translate(516,1328.2)"><path d="M6.7,109.6C6.1,107 10,103 12,100.2C14,97.4 17.9,93.2 20.1,90.8C22.3,88.4 24.6,85.7 26.8,84.1C29,82.5 33,81.9 34.8,80.1C36.6,78.3 38.1,74.1 38.8,72.1C39.5,70.1 39.5,68.4 39.5,66.8C39.5,65.2 38.7,62.7 38.8,61.4C38.9,60.1 39.3,58.9 40.1,58.1C40.9,57.3 42.5,56.3 44.1,55.8C45.7,55.3 48.6,55.1 50.8,54.7C53,54.3 56.7,53.7 58.9,53.1C61.1,52.5 64,51.2 65.6,51C67.2,50.8 68.2,51.4 69.6,51.8C71,52.2 72.9,52.6 74.9,53.4C76.9,54.2 80.5,55.9 82.9,57.4C85.3,58.9 89,61.8 91,63.4C93,65 95.3,68.4 96.3,68.1C97.3,67.8 97.1,63.1 97.4,61.4C97.7,59.7 97.7,57.7 98.3,56.7C98.9,55.7 100.4,55.2 101.7,54.7C103,54.2 104.8,53.4 107,53.4C109.2,53.4 113.4,54.2 116.4,54.4C119.4,54.5 125.2,54.5 127.1,54.4C129,54.2 128.6,53.2 129.1,53.4C129.6,53.5 129.9,54.2 130.4,55.4C130.9,56.6 131.9,59.5 132.4,61.4C132.9,63.3 133,66.9 133.8,68.1C134.6,69.3 136.2,69.5 137.8,69.4C139.4,69.3 142.5,68 144.5,67.4C146.5,66.8 149.6,65.5 151.2,65.4C152.8,65.3 154.4,66 155.2,66.8C156,67.6 156.4,69.2 156.3,70.8C156.2,72.4 155.3,75.3 154.5,77.5C153.7,79.7 150.3,82.9 151.2,85.5C152.1,88.1 157.5,91.6 160.5,94.8C163.5,98 169.7,103.9 171.2,106.9C172.7,109.9 171,112.1 170.6,114.9C170.2,117.7 169.1,123 168.8,125.6C168.5,128.2 167.8,130.9 168.6,132.3C169.4,133.7 172,133.9 173.9,135C175.8,136.1 180.5,137.9 181.3,139.7C182.1,141.5 179.8,144.7 179.3,147C178.8,149.3 177.6,152.7 177.9,155C178.2,157.3 181.1,160.9 181.3,162.4C181.5,163.9 180.8,164.5 179.3,165.1C177.8,165.7 174.4,165.6 171.2,166.4C168,167.2 160.9,169.5 157.9,170.4C154.9,171.3 151.8,171.3 151.2,172.4C150.6,173.5 152.8,175.6 153.8,177.8C154.8,180 157.5,184.2 157.9,187.2C158.3,190.2 157.5,194.7 156.5,197.9C155.5,201.1 153,206.4 151.2,208.6C149.4,210.8 147.1,211.4 144.5,212.6C141.9,213.8 136.6,214.7 133.8,216.6C131,218.5 127.8,224.1 125.8,225.3C123.8,226.5 122.6,224.7 120.4,224.6C118.2,224.5 113,224.3 111,224.6C109,224.9 108.4,225.6 107,226.6C105.6,227.6 103.3,231 101.7,231.3C100.1,231.6 97.7,229.2 96.3,228.6C94.9,228 93.5,226.3 92.3,227.3C91.1,228.3 90.1,233.1 88.3,235.3C86.5,237.5 82.1,240.8 80.3,242C78.5,243.2 77.2,243.4 76,243C74.8,242.6 73.5,240.5 72,239.2C70.5,237.9 67.5,235.1 66,234.4C64.5,233.7 62.8,235.2 61.8,234.4C60.8,233.6 60,230.9 59.4,229C58.8,227.1 58.4,222.9 57.6,221.8C56.8,220.7 54.7,222.2 54,221.8C53.3,221.4 53.4,219.8 52.8,218.8C52.2,217.8 51.2,215.6 49.8,215.2C48.4,214.8 44.7,216.8 43.2,216.4C41.7,216 40,214.1 39.6,212.8C39.2,211.5 39.9,209.7 40.8,208C41.7,206.3 45.4,202.8 45.6,201.4C45.8,200 43.8,199.2 42,198.4C40.2,197.6 35.4,196.6 33.6,196C31.8,195.4 31.6,196 30,194.2C28.4,192.4 24.2,186.4 22.8,184C21.4,181.6 21.4,179 21,178C20.6,177 23,178.3 20.4,177.4C17.8,176.5 4.8,174.8 3.9,172.3C3,169.8 12.2,163.3 14.4,160.6C16.6,157.9 18.5,155.8 18.6,154.6C18.7,153.4 15.3,153.8 15,152.8C14.7,151.8 17,149.3 16.8,148C16.6,146.7 14.6,144.9 13.8,143.8C13,142.7 10.5,141.9 11.4,140.8C12.3,139.7 18.2,137.7 19.8,136.6C21.4,135.5 22.2,134.6 22.2,133.6C22.2,132.6 19.1,131.2 19.8,130C20.5,128.8 26.2,126.9 26.8,125.6C27.4,124.3 25.7,122.8 24.1,121.6C22.5,120.4 18.6,119.4 16,117.6C13.4,115.8 7.3,112.2 6.7,109.6Z" fill="#e6e7e8"/>
<rect x="33.9" y="88.8" width="31.8" height="96.7" rx="15.9" fill="#bcbec0"/>
<rect x="73.3" y="88.8" width="31.7" height="105" rx="15.9" fill="#bcbec0"/>
<rect x="113" y="88.8" width="31.5" height="105" rx="15.8" fill="#bcbec0"/>
<path d="M6.7,109.6C6.1,107 10,103 12,100.2C14,97.4 17.9,93.2 20.1,90.8C22.3,88.4 24.6,85.7 26.8,84.1C29,82.5 33,81.9 34.8,80.1C36.6,78.3 38.1,74.1 38.8,72.1C39.5,70.1 39.5,68.4 39.5,66.8C39.5,65.2 38.7,62.7 38.8,61.4C38.9,60.1 39.3,58.9 40.1,58.1C40.9,57.3 42.5,56.3 44.1,55.8C45.7,55.3 48.6,55.1 50.8,54.7C53,54.3 56.7,53.7 58.9,53.1C61.1,52.5 64,51.2 65.6,51C67.2,50.8 68.2,51.4 69.6,51.8C71,52.2 72.9,52.6 74.9,53.4C76.9,54.2 80.5,55.9 82.9,57.4C85.3,58.9 89,61.8 91,63.4C93,65 95.3,68.4 96.3,68.1C97.3,67.8 97.1,63.1 97.4,61.4C97.7,59.7 97.7,57.7 98.3,56.7C98.9,55.7 100.4,55.2 101.7,54.7C103,54.2 104.8,53.4 107,53.4C109.2,53.4 113.4,54.2 116.4,54.4C119.4,54.5 125.2,54.5 127.1,54.4C129,54.2 128.6,53.2 129.1,53.4C129.6,53.5 129.9,54.2 130.4,55.4C130.9,56.6 131.9,59.5 132.4,61.4C132.9,63.3 133,66.9 133.8,68.1C134.6,69.3 136.2,69.5 137.8,69.4C139.4,69.3 142.5,68 144.5,67.4C146.5,66.8 149.6,65.5 151.2,65.4C152.8,65.3 154.4,66 155.2,66.8C156,67.6 156.4,69.2 156.3,70.8C156.2,72.4 155.3,75.3 154.5,77.5C153.7,79.7 150.3,82.9 151.2,85.5C152.1,88.1 157.5,91.6 160.5,94.8C163.5,98 169.7,103.9 171.2,106.9C172.7,109.9 171,112.1 170.6,114.9C170.2,117.7 169.1,123 168.8,125.6C168.5,128.2 167.8,130.9 168.6,132.3C169.4,133.7 172,133.9 173.9,135C175.8,136.1 180.5,137.9 181.3,139.7C182.1,141.5 179.8,144.7 179.3,147C178.8,149.3 177.6,152.7 177.9,155C178.2,157.3 181.1,160.9 181.3,162.4C181.5,163.9 180.8,164.5 179.3,165.1C177.8,165.7 174.4,165.6 171.2,166.4C168,167.2 160.9,169.5 157.9,170.4C154.9,171.3 151.8,171.3 151.2,172.4C150.6,173.5 152.8,175.6 153.8,177.8C154.8,180 157.5,184.2 157.9,187.2C158.3,190.2 157.5,194.7 156.5,197.9C155.5,201.1 153,206.4 151.2,208.6C149.4,210.8 147.1,211.4 144.5,212.6C141.9,213.8 136.6,214.7 133.8,216.6C131,218.5 127.8,224.1 125.8,225.3C123.8,226.5 122.6,224.7 120.4,224.6C118.2,224.5 113,224.3 111,224.6C109,224.9 108.4,225.6 107,226.6C105.6,227.6 103.3,231 101.7,231.3C100.1,231.6 97.7,229.2 96.3,228.6C94.9,228 93.5,226.3 92.3,227.3C91.1,228.3 90.1,233.1 88.3,235.3C86.5,237.5 82.1,240.8 80.3,242C78.5,243.2 77.2,243.4 76,243C74.8,242.6 73.5,240.5 72,239.2C70.5,237.9 67.5,235.1 66,234.4C64.5,233.7 62.8,235.2 61.8,234.4C60.8,233.6 60,230.9 59.4,229C58.8,227.1 58.4,222.9 57.6,221.8C56.8,220.7 54.7,222.2 54,221.8C53.3,221.4 53.4,219.8 52.8,218.8C52.2,217.8 51.2,215.6 49.8,215.2C48.4,214.8 44.7,216.8 43.2,216.4C41.7,216 40,214.1 39.6,212.8C39.2,211.5 39.9,209.7 40.8,208C41.7,206.3 45.4,202.8 45.6,201.4C45.8,200 43.8,199.2 42,198.4C40.2,197.6 35.4,196.6 33.6,196C31.8,195.4 31.6,196 30,194.2C28.4,192.4 24.2,186.4 22.8,184C21.4,181.6 21.4,179 21,178C20.6,177 23,178.3 20.4,177.4C17.8,176.5 4.8,174.8 3.9,172.3C3,169.8 12.2,163.3 14.4,160.6C16.6,157.9 18.5,155.8 18.6,154.6C18.7,153.4 15.3,153.8 15,152.8C14.7,151.8 17,149.3 16.8,148C16.6,146.7 14.6,144.9 13.8,143.8C13,142.7 10.5,141.9 11.4,140.8C12.3,139.7 18.2,137.7 19.8,136.6C21.4,135.5 22.2,134.6 22.2,133.6C22.2,132.6 19.1,131.2 19.8,130C20.5,128.8 26.2,126.9 26.8,125.6C27.4,124.3 25.7,122.8 24.1,121.6C22.5,120.4 18.6,119.4 16,117.6C13.4,115.8 7.3,112.2 6.7,109.6Z" fill="none" stroke="#231f20" stroke-width="1.7" stroke-linejoin="round"/>
<path d="M21,175.6C22.3,173.4 21.4,172.7 25.2,168.4C29,164.1 28.6,164.8 33.6,161.2C38.6,157.6 36.6,156.8 42,156.4C47.4,156 46.2,159.1 51.6,160C57,160.9 54.8,159.8 60,159.4C65.2,159 62.1,158.3 69,158.8C75.9,159.3 74.7,160.1 82.9,161.1C91.1,162.1 89.1,162.6 96.3,162C103.5,161.4 101.4,161.2 107,159.1C112.6,157 110.2,157.4 115,155C119.8,152.6 117.7,151.9 123.1,151C128.5,150.1 126.6,151 133,152C139.4,153 138.3,154.3 144.5,154.4C150.7,154.5 147.8,153.8 153.8,152.4C159.8,151 158.9,150.3 164.5,149.7C170.1,149.1 168.6,148.4 172.6,150.4C176.6,152.4 175.3,152.8 177.9,156.4C180.5,160 180.3,160.6 181.3,162.4" fill="none" stroke="#231f20" stroke-width="1.4"/>
<path d="M27.3,174.1H172.6" stroke="#231f20" stroke-width="1.2"/>
<rect x="39.9" y="171.1" width="20.1" height="5.6" fill="#231f20"/>
<rect x="79.2" y="171.1" width="20.5" height="5.6" fill="#231f20"/>
<rect x="119.5" y="171.1" width="20.3" height="5.6" fill="#231f20"/>
<text x="46.1" y="207.1" textLength="22.3" lengthAdjust="spacingAndGlyphs" font-size="32.5">E</text>
<text x="79.7" y="207.1" textLength="18.1" lengthAdjust="spacingAndGlyphs" font-size="32.5">P</text>
<text x="118.9" y="207.1" font-size="32.5">A</text><path d="M89.9,99.3 95.3,100.7 99.3,101.3 99,108 100.6,114.7 99.3,129.4 97,132.1 96,138.1 97.3,145.5 97.6,148.2 96.6,154.8 95.3,161.5 94.9,167.6 83.9,167.6 83.6,161.5 82.6,157.5 80.6,152.8 78.6,152.8 80.6,149.5 82.6,146.1 83.2,143.5 80.6,142.1 79.9,128.8 75.9,129.4 76.6,125.4 80.6,119.4 85.9,114.7 89.9,112 90.3,104Z" fill="#808285" stroke="#231f20" stroke-width="1.6" stroke-linejoin="round"/>
<circle cx="95.3" cy="69.9" r="5.7" fill="#231f20" stroke="#231f20" stroke-width="1.3"/>
<circle cx="95.3" cy="81.3" r="5.7" fill="#bcbec0" stroke="#231f20" stroke-width="1.3"/>
<circle cx="95.3" cy="92.3" r="5.7" fill="#808285" stroke="#231f20" stroke-width="1.3"/>
<circle cx="103" cy="119.1" r="11" fill="#231f20" stroke="#231f20" stroke-width="1.3"/>
<path d="M180.2,96.3 184.3,106.4 195.3,106.5 187,113.6 190.2,124 180.9,118.3 172,124.7 174.6,114 165.8,107.5 176.7,106.7Z" fill="#009444" stroke="#231f20" stroke-width="1.2"/></g>
<g transform="translate(773.5,1328.2)"><path d="M6.7,109.6C6.1,107 10,103 12,100.2C14,97.4 17.9,93.2 20.1,90.8C22.3,88.4 24.6,85.7 26.8,84.1C29,82.5 33,81.9 34.8,80.1C36.6,78.3 38.1,74.1 38.8,72.1C39.5,70.1 39.5,68.4 39.5,66.8C39.5,65.2 38.7,62.7 38.8,61.4C38.9,60.1 39.3,58.9 40.1,58.1C40.9,57.3 42.5,56.3 44.1,55.8C45.7,55.3 48.6,55.1 50.8,54.7C53,54.3 56.7,53.7 58.9,53.1C61.1,52.5 64,51.2 65.6,51C67.2,50.8 68.2,51.4 69.6,51.8C71,52.2 72.9,52.6 74.9,53.4C76.9,54.2 80.5,55.9 82.9,57.4C85.3,58.9 89,61.8 91,63.4C93,65 95.3,68.4 96.3,68.1C97.3,67.8 97.1,63.1 97.4,61.4C97.7,59.7 97.7,57.7 98.3,56.7C98.9,55.7 100.4,55.2 101.7,54.7C103,54.2 104.8,53.4 107,53.4C109.2,53.4 113.4,54.2 116.4,54.4C119.4,54.5 125.2,54.5 127.1,54.4C129,54.2 128.6,53.2 129.1,53.4C129.6,53.5 129.9,54.2 130.4,55.4C130.9,56.6 131.9,59.5 132.4,61.4C132.9,63.3 133,66.9 133.8,68.1C134.6,69.3 136.2,69.5 137.8,69.4C139.4,69.3 142.5,68 144.5,67.4C146.5,66.8 149.6,65.5 151.2,65.4C152.8,65.3 154.4,66 155.2,66.8C156,67.6 156.4,69.2 156.3,70.8C156.2,72.4 155.3,75.3 154.5,77.5C153.7,79.7 150.3,82.9 151.2,85.5C152.1,88.1 157.5,91.6 160.5,94.8C163.5,98 169.7,103.9 171.2,106.9C172.7,109.9 171,112.1 170.6,114.9C170.2,117.7 169.1,123 168.8,125.6C168.5,128.2 167.8,130.9 168.6,132.3C169.4,133.7 172,133.9 173.9,135C175.8,136.1 180.5,137.9 181.3,139.7C182.1,141.5 179.8,144.7 179.3,147C178.8,149.3 177.6,152.7 177.9,155C178.2,157.3 181.1,160.9 181.3,162.4C181.5,163.9 180.8,164.5 179.3,165.1C177.8,165.7 174.4,165.6 171.2,166.4C168,167.2 160.9,169.5 157.9,170.4C154.9,171.3 151.8,171.3 151.2,172.4C150.6,173.5 152.8,175.6 153.8,177.8C154.8,180 157.5,184.2 157.9,187.2C158.3,190.2 157.5,194.7 156.5,197.9C155.5,201.1 153,206.4 151.2,208.6C149.4,210.8 147.1,211.4 144.5,212.6C141.9,213.8 136.6,214.7 133.8,216.6C131,218.5 127.8,224.1 125.8,225.3C123.8,226.5 122.6,224.7 120.4,224.6C118.2,224.5 113,224.3 111,224.6C109,224.9 108.4,225.6 107,226.6C105.6,227.6 103.3,231 101.7,231.3C100.1,231.6 97.7,229.2 96.3,228.6C94.9,228 93.5,226.3 92.3,227.3C91.1,228.3 90.1,233.1 88.3,235.3C86.5,237.5 82.1,240.8 80.3,242C78.5,243.2 77.2,243.4 76,243C74.8,242.6 73.5,240.5 72,239.2C70.5,237.9 67.5,235.1 66,234.4C64.5,233.7 62.8,235.2 61.8,234.4C60.8,233.6 60,230.9 59.4,229C58.8,227.1 58.4,222.9 57.6,221.8C56.8,220.7 54.7,222.2 54,221.8C53.3,221.4 53.4,219.8 52.8,218.8C52.2,217.8 51.2,215.6 49.8,215.2C48.4,214.8 44.7,216.8 43.2,216.4C41.7,216 40,214.1 39.6,212.8C39.2,211.5 39.9,209.7 40.8,208C41.7,206.3 45.4,202.8 45.6,201.4C45.8,200 43.8,199.2 42,198.4C40.2,197.6 35.4,196.6 33.6,196C31.8,195.4 31.6,196 30,194.2C28.4,192.4 24.2,186.4 22.8,184C21.4,181.6 21.4,179 21,178C20.6,177 23,178.3 20.4,177.4C17.8,176.5 4.8,174.8 3.9,172.3C3,169.8 12.2,163.3 14.4,160.6C16.6,157.9 18.5,155.8 18.6,154.6C18.7,153.4 15.3,153.8 15,152.8C14.7,151.8 17,149.3 16.8,148C16.6,146.7 14.6,144.9 13.8,143.8C13,142.7 10.5,141.9 11.4,140.8C12.3,139.7 18.2,137.7 19.8,136.6C21.4,135.5 22.2,134.6 22.2,133.6C22.2,132.6 19.1,131.2 19.8,130C20.5,128.8 26.2,126.9 26.8,125.6C27.4,124.3 25.7,122.8 24.1,121.6C22.5,120.4 18.6,119.4 16,117.6C13.4,115.8 7.3,112.2 6.7,109.6Z" fill="#e6e7e8"/>
<rect x="33.9" y="88.8" width="31.8" height="96.7" rx="15.9" fill="#bcbec0"/>
<rect x="73.3" y="88.8" width="31.7" height="105" rx="15.9" fill="#bcbec0"/>
<rect x="113" y="88.8" width="31.5" height="105" rx="15.8" fill="#bcbec0"/>
<path d="M6.7,109.6C6.1,107 10,103 12,100.2C14,97.4 17.9,93.2 20.1,90.8C22.3,88.4 24.6,85.7 26.8,84.1C29,82.5 33,81.9 34.8,80.1C36.6,78.3 38.1,74.1 38.8,72.1C39.5,70.1 39.5,68.4 39.5,66.8C39.5,65.2 38.7,62.7 38.8,61.4C38.9,60.1 39.3,58.9 40.1,58.1C40.9,57.3 42.5,56.3 44.1,55.8C45.7,55.3 48.6,55.1 50.8,54.7C53,54.3 56.7,53.7 58.9,53.1C61.1,52.5 64,51.2 65.6,51C67.2,50.8 68.2,51.4 69.6,51.8C71,52.2 72.9,52.6 74.9,53.4C76.9,54.2 80.5,55.9 82.9,57.4C85.3,58.9 89,61.8 91,63.4C93,65 95.3,68.4 96.3,68.1C97.3,67.8 97.1,63.1 97.4,61.4C97.7,59.7 97.7,57.7 98.3,56.7C98.9,55.7 100.4,55.2 101.7,54.7C103,54.2 104.8,53.4 107,53.4C109.2,53.4 113.4,54.2 116.4,54.4C119.4,54.5 125.2,54.5 127.1,54.4C129,54.2 128.6,53.2 129.1,53.4C129.6,53.5 129.9,54.2 130.4,55.4C130.9,56.6 131.9,59.5 132.4,61.4C132.9,63.3 133,66.9 133.8,68.1C134.6,69.3 136.2,69.5 137.8,69.4C139.4,69.3 142.5,68 144.5,67.4C146.5,66.8 149.6,65.5 151.2,65.4C152.8,65.3 154.4,66 155.2,66.8C156,67.6 156.4,69.2 156.3,70.8C156.2,72.4 155.3,75.3 154.5,77.5C153.7,79.7 150.3,82.9 151.2,85.5C152.1,88.1 157.5,91.6 160.5,94.8C163.5,98 169.7,103.9 171.2,106.9C172.7,109.9 171,112.1 170.6,114.9C170.2,117.7 169.1,123 168.8,125.6C168.5,128.2 167.8,130.9 168.6,132.3C169.4,133.7 172,133.9 173.9,135C175.8,136.1 180.5,137.9 181.3,139.7C182.1,141.5 179.8,144.7 179.3,147C178.8,149.3 177.6,152.7 177.9,155C178.2,157.3 181.1,160.9 181.3,162.4C181.5,163.9 180.8,164.5 179.3,165.1C177.8,165.7 174.4,165.6 171.2,166.4C168,167.2 160.9,169.5 157.9,170.4C154.9,171.3 151.8,171.3 151.2,172.4C150.6,173.5 152.8,175.6 153.8,177.8C154.8,180 157.5,184.2 157.9,187.2C158.3,190.2 157.5,194.7 156.5,197.9C155.5,201.1 153,206.4 151.2,208.6C149.4,210.8 147.1,211.4 144.5,212.6C141.9,213.8 136.6,214.7 133.8,216.6C131,218.5 127.8,224.1 125.8,225.3C123.8,226.5 122.6,224.7 120.4,224.6C118.2,224.5 113,224.3 111,224.6C109,224.9 108.4,225.6 107,226.6C105.6,227.6 103.3,231 101.7,231.3C100.1,231.6 97.7,229.2 96.3,228.6C94.9,228 93.5,226.3 92.3,227.3C91.1,228.3 90.1,233.1 88.3,235.3C86.5,237.5 82.1,240.8 80.3,242C78.5,243.2 77.2,243.4 76,243C74.8,242.6 73.5,240.5 72,239.2C70.5,237.9 67.5,235.1 66,234.4C64.5,233.7 62.8,235.2 61.8,234.4C60.8,233.6 60,230.9 59.4,229C58.8,227.1 58.4,222.9 57.6,221.8C56.8,220.7 54.7,222.2 54,221.8C53.3,221.4 53.4,219.8 52.8,218.8C52.2,217.8 51.2,215.6 49.8,215.2C48.4,214.8 44.7,216.8 43.2,216.4C41.7,216 40,214.1 39.6,212.8C39.2,211.5 39.9,209.7 40.8,208C41.7,206.3 45.4,202.8 45.6,201.4C45.8,200 43.8,199.2 42,198.4C40.2,197.6 35.4,196.6 33.6,196C31.8,195.4 31.6,196 30,194.2C28.4,192.4 24.2,186.4 22.8,184C21.4,181.6 21.4,179 21,178C20.6,177 23,178.3 20.4,177.4C17.8,176.5 4.8,174.8 3.9,172.3C3,169.8 12.2,163.3 14.4,160.6C16.6,157.9 18.5,155.8 18.6,154.6C18.7,153.4 15.3,153.8 15,152.8C14.7,151.8 17,149.3 16.8,148C16.6,146.7 14.6,144.9 13.8,143.8C13,142.7 10.5,141.9 11.4,140.8C12.3,139.7 18.2,137.7 19.8,136.6C21.4,135.5 22.2,134.6 22.2,133.6C22.2,132.6 19.1,131.2 19.8,130C20.5,128.8 26.2,126.9 26.8,125.6C27.4,124.3 25.7,122.8 24.1,121.6C22.5,120.4 18.6,119.4 16,117.6C13.4,115.8 7.3,112.2 6.7,109.6Z" fill="none" stroke="#231f20" stroke-width="1.7" stroke-linejoin="round"/>
<path d="M21,175.6C22.3,173.4 21.4,172.7 25.2,168.4C29,164.1 28.6,164.8 33.6,161.2C38.6,157.6 36.6,156.8 42,156.4C47.4,156 46.2,159.1 51.6,160C57,160.9 54.8,159.8 60,159.4C65.2,159 62.1,158.3 69,158.8C75.9,159.3 74.7,160.1 82.9,161.1C91.1,162.1 89.1,162.6 96.3,162C103.5,161.4 101.4,161.2 107,159.1C112.6,157 110.2,157.4 115,155C119.8,152.6 117.7,151.9 123.1,151C128.5,150.1 126.6,151 133,152C139.4,153 138.3,154.3 144.5,154.4C150.7,154.5 147.8,153.8 153.8,152.4C159.8,151 158.9,150.3 164.5,149.7C170.1,149.1 168.6,148.4 172.6,150.4C176.6,152.4 175.3,152.8 177.9,156.4C180.5,160 180.3,160.6 181.3,162.4" fill="none" stroke="#231f20" stroke-width="1.4"/>
<path d="M27.3,174.1H172.6" stroke="#231f20" stroke-width="1.2"/>
<rect x="39.9" y="171.1" width="20.1" height="5.6" fill="#231f20"/>
<rect x="79.2" y="171.1" width="20.5" height="5.6" fill="#231f20"/>
<rect x="119.5" y="171.1" width="20.3" height="5.6" fill="#231f20"/>
<text x="46.1" y="207.1" textLength="22.3" lengthAdjust="spacingAndGlyphs" font-size="32.5">E</text>
<text x="79.7" y="207.1" textLength="18.1" lengthAdjust="spacingAndGlyphs" font-size="32.5">P</text>
<text x="118.9" y="207.1" font-size="32.5">A</text><path d="M89.9,98.7 99,100.8 97.9,108.5 101.8,111.3 99,129.6 96.9,138 96.2,152.1 94.1,166.8 83.6,166.8 82.2,154.9 77.9,152.1 80.1,146.5 82.2,140.8 80.1,138 79.4,129.6 76.5,126.8 80.1,121.9 86.4,117.7 91.3,114.9 91.7,108.5 90.9,102.9Z" fill="#808285" stroke="#231f20" stroke-width="1.6" stroke-linejoin="round"/>
<path d="M110.3,98.7C111.2,97.3 114.2,97.5 115.9,98.7C117.5,99.9 118.2,103.8 120.1,105.7C122,107.6 125.7,108.8 127.1,109.9C128.5,111.1 127.1,112.3 128.5,112.7C129.9,113.2 133.4,110.9 135.5,112.7C137.6,114.6 140,119.8 141.2,124C142.3,128.2 142.7,133.3 142.6,138C142.4,142.7 141.6,147.9 140.5,152.1C139.3,156.3 137.3,160.6 135.5,163.3C133.8,166 131.8,167.6 129.9,168.2C128,168.8 125.7,168.1 124.3,166.8C122.9,165.5 122.1,163.7 121.5,160.5C120.9,157.3 120.4,150.2 120.8,147.9C121.1,145.5 123,148.1 123.6,146.5C124.2,144.8 124.7,141.3 124.3,138C124,134.8 122.9,130.1 121.5,126.8C120.1,123.5 117.3,120.7 115.9,118.4C114.5,116 114,114.6 113.1,112.7C112.1,110.9 110.7,109.5 110.3,107.1C109.8,104.8 109.3,100.1 110.3,98.7Z" fill="#58595b" stroke="#231f20" stroke-width="1.6" stroke-linejoin="round"/>
<circle cx="113.1" cy="60.1" r="5.9" fill="#231f20" stroke="#231f20" stroke-width="1.3"/>
<circle cx="113.1" cy="71.3" r="5.9" fill="#d1d3d4" stroke="#231f20" stroke-width="1.3"/>
<circle cx="113.1" cy="81.8" r="5.9" fill="#808285" stroke="#231f20" stroke-width="1.3"/>
<circle cx="113.1" cy="92.4" r="5.9" fill="#6d6e71" stroke="#231f20" stroke-width="1.3"/>
<circle cx="102.5" cy="119.1" r="10.5" fill="#231f20" stroke="#231f20" stroke-width="1.3"/>
<path d="M152.1,100.3 152.2,111.2 162.3,115.4 151.9,118.9 151.1,129.8 144.6,121 133.9,123.5 140.3,114.6 134.6,105.3 145,108.6Z" fill="#e12228" stroke="#231f20" stroke-width="1.2"/>
<path d="M180,95.8 184.1,105.9 195.1,106 186.7,113.1 190,123.6 180.7,117.8 171.8,124.2 174.4,113.6 165.6,107.1 176.5,106.2Z" fill="#009444" stroke="#231f20" stroke-width="1.2"/></g>
<g transform="translate(2,0)"><path d="M186.7,1484.3 191.1,1475.5 201.4,1471 207.3,1469.6 211.7,1463.7 214.7,1454.9 219.1,1450.4 225,1450.4 230.9,1444.6 236.8,1441.6 242.7,1444.6 245.6,1449 250,1451.9 251.5,1456.3 257.4,1460.7 258.9,1466.6 257.4,1474 251.5,1476.9 242.7,1478.4 233.8,1481.3 227.9,1484.3 219.1,1485.8 211.7,1484.3 205.9,1487.2 197,1490.9 191.1,1488.7Z" fill="#d1d3d4" stroke="#231f20" stroke-width="1.6" stroke-linejoin="round"/>
<path d="M195.1,1499.2L242,1499.2" stroke="#231f20" stroke-width="1.3"/>
<path d="M253.2,1499.2 238.5,1505.1 242,1499.2 238.5,1493.3Z" fill="#231f20"/>
<path d="M462.4,1498L502,1498" stroke="#231f20" stroke-width="1.3"/>
<path d="M513,1498 498.3,1503.9 501.8,1498 498.3,1492.1Z" fill="#231f20"/>
<path d="M468,1498.4C484,1498.8 497,1510.8 499.5,1526.8" fill="none" stroke="#231f20" stroke-width="1.3"/>
<path d="M500.4,1536.4 494.8,1524.6 500.1,1527.9 505.2,1524.2Z" fill="#231f20"/>
<path d="M423.6,1614.2 428,1605.4 438.3,1600.9 444.2,1599.5 448.6,1593.6 451.6,1584.8 456,1580.3 461.9,1580.3 467.8,1574.5 473.7,1571.5 479.6,1574.5 482.5,1578.9 486.9,1581.8 488.4,1586.2 494.3,1590.6 495.8,1596.5 494.3,1603.9 488.4,1606.8 479.6,1608.3 470.7,1611.2 464.8,1614.2 456,1615.7 448.6,1614.2 442.8,1617.1 433.9,1620.8 428,1618.6Z" fill="#d1d3d4" stroke="#231f20" stroke-width="1.6" stroke-linejoin="round"/>
<path d="M510.8,1544C511.7,1543 515,1540.9 516.7,1541C518.4,1541.1 520.1,1543.2 521.1,1544.6C522.1,1545.9 522.5,1546.9 522.5,1549.1C522.5,1551.3 521.2,1554.8 521.1,1557.9C521,1561 521.6,1563.7 521.8,1567.5C522,1571.3 522,1576.9 522.5,1580.7C523,1584.5 523.7,1588.3 524.8,1590.3C525.9,1592.3 528,1590.7 529.2,1592.5C530.4,1594.3 531.7,1598.6 532.1,1601.3C532.5,1604 532.1,1606.8 531.4,1608.7C530.7,1610.6 529.1,1611.9 527.7,1612.4C526.4,1612.9 525,1612.6 523.3,1611.7C521.6,1610.8 519.6,1609.8 517.4,1607.3C515.2,1604.8 512.2,1600.4 510,1596.9C507.8,1593.5 506.3,1589.5 504.1,1586.6C501.9,1583.7 498.8,1581.8 496.8,1579.3C494.9,1576.8 493,1574.1 492.4,1571.9C491.8,1569.7 491.6,1567.7 493.1,1566C494.6,1564.3 499.1,1562.4 501.2,1561.6C503.3,1560.8 504.6,1561.8 505.6,1560.9C506.6,1560.1 506,1558.1 507.1,1556.5C508.2,1554.9 511.5,1552.9 512.2,1551.3C512.9,1549.7 511.7,1548.1 511.5,1546.9C511.3,1545.7 509.9,1545 510.8,1544Z" fill="#bcbec0" stroke="#231f20" stroke-width="1.6" stroke-linejoin="round"/>
<path d="M702.5,1392.1C703.7,1391 707.4,1390.5 709.1,1391.5C710.8,1392.5 711.7,1396.5 712.7,1398.2C713.7,1399.9 713.7,1401 715.1,1401.8C716.5,1402.6 720,1402.4 721.1,1403C722.2,1403.6 719.9,1405 721.7,1405.4C723.5,1405.8 729.9,1404 732,1405.4C734.1,1406.8 733.9,1410.2 734.4,1413.8C734.9,1417.4 735,1423.2 735,1427.1C735,1430.9 734.9,1433.1 734.4,1436.7C733.9,1440.3 733.2,1445.1 732,1448.7C730.8,1452.3 728.8,1456.1 727.2,1458.4C725.5,1460.6 723.9,1461.7 722.3,1462C720.7,1462.3 718.9,1461.6 717.5,1460.2C716.1,1458.8 714.6,1456.6 713.9,1453.5C713.2,1450.4 712.9,1443.7 713.3,1441.5C713.7,1439.3 715.6,1441.9 716.3,1440.3C717,1438.7 717.7,1434.5 717.5,1431.9C717.3,1429.3 716.1,1427.1 715.1,1424.6C714.1,1422.2 712.7,1419.8 711.5,1417.4C710.3,1415 709.1,1412.4 707.9,1410.2C706.7,1408 705.3,1406.2 704.3,1404.2C703.3,1402.2 702.2,1400.2 701.9,1398.2C701.6,1396.2 701.3,1393.2 702.5,1392.1Z" fill="#414042" stroke="#231f20" stroke-width="1.6" stroke-linejoin="round"/>
<circle cx="705.5" cy="1386.1" r="6" fill="#414042" stroke="#231f20" stroke-width="1.3"/>
<path d="M732.8,1398.2 741.1,1406.4 751.9,1401.9 746.7,1412.4 754.2,1421.2 742.7,1419.5 736.7,1429.4 734.7,1417.9 723.4,1415.2 733.7,1409.8Z" fill="#e12228" stroke="#231f20" stroke-width="1.2"/>
<path d="M721.3,1472.3C721.3,1488.8 735,1498.4 750,1498.4" fill="none" stroke="#231f20" stroke-width="1.3"/>
<path d="M711.3,1498.8L755,1498.8" stroke="#231f20" stroke-width="1.3"/>
<path d="M766.3,1498.8 751.6,1504.7 755.1,1498.8 751.6,1492.9Z" fill="#231f20"/></g>
<text x="5.5" y="1367.5" font-weight="bold" font-size="31">i</text>
<text x="182.6" y="1370.4" textLength="80.4" lengthAdjust="spacingAndGlyphs" font-size="32.5">EF-G</text>
<text x="160.3" y="1407.7" textLength="125.5" lengthAdjust="spacingAndGlyphs" font-size="32.5">(Q507D)</text>
<text x="47.4" y="1609.1" textLength="82.8" lengthAdjust="spacingAndGlyphs" font-size="32.5">PRE1</text>
<text x="332.9" y="1609.1" font-size="32.5">CHI</text>
<text x="558.5" y="1608.3" font-size="32.5">POST2</text>
<text x="538" y="1636.2" font-size="32.5">(–1 frame)</text>
<text x="823.5" y="1608.3" textLength="83.6" lengthAdjust="spacingAndGlyphs" font-size="32.5">PRE2</text>
<text x="790.2" y="1636.2" textLength="151.3" lengthAdjust="spacingAndGlyphs" font-size="32.5">(–1 frame)</text>
<text x="604.7" y="1368.8" fill="#ed1c24" font-size="32.5">–1-frame Val-tRNA</text>
<text x="877.7" y="1355.4" textLength="22.4" lengthAdjust="spacingAndGlyphs" fill="#ed1c24" font-size="16.5">Val</text>
<text x="901.5" y="1368.8" textLength="69.9" lengthAdjust="spacingAndGlyphs" fill="#ed1c24" font-size="32.5">-Cy5</text>
<path d="M72.3,1127.5H966.8" stroke="#231f20" stroke-width="1.3" stroke-dasharray="3.2 3.2"/>
<path d="M72.3,1142.9H966.8" stroke="#231f20" stroke-width="1.3" stroke-dasharray="3.2 3.2"/>
<path d="M72.3,1169.1H966.8" stroke="#231f20" stroke-width="1.3" stroke-dasharray="3.2 3.2"/>
<path d="M72.3,1191.3H966.8" stroke="#231f20" stroke-width="1.3" stroke-dasharray="3.2 3.2"/>
<path d="M72.3,1234.5H966.8" stroke="#231f20" stroke-width="1.3" stroke-dasharray="3.2 3.2"/>
<path d="M730.6,1106.6H966.8" stroke="#231f20" stroke-width="1.3" stroke-dasharray="3.2 3.2"/>
<path d="M67.8,1191 69.4,1180.2 71,1177.6 72.6,1189.5 74.2,1191.1 75.8,1192.8 77.4,1184.6 79,1166.6 80.6,1180.5 82.2,1198 83.8,1176.8 85.4,1182.7 87,1178.1 88.6,1182.5 90.2,1185.2 91.7,1179.2 93.3,1174.2 94.9,1180.1 96.5,1181 98.1,1174.5 99.7,1183.9 101.3,1191.2 102.9,1178.4 104.5,1182.3 106.1,1192.5 107.7,1186.7 109.3,1181.9 110.9,1185.5 112.5,1188.5 114.1,1177.3 115.7,1166.9 117.3,1172 118.9,1176.9 120.5,1169.4 122.1,1160.6 123.7,1164.3 125.3,1157.2 126.9,1149.4 128.5,1154.7 130.1,1159 131.7,1149.6 133.3,1145.7 134.9,1130.9 136.4,1147 138,1147.1 139.6,1148.5 141.2,1155.8 142.8,1143.9 144.4,1137.3 146,1145 147.6,1131.1 149.2,1131.3 150.8,1132.9 152.4,1135.1 154,1131.6 155.6,1147.9 157.2,1138.1 158.8,1135.3 160.4,1152.5 162,1141.6 163.6,1142.9 165.2,1135.5 166.8,1142.5 168.4,1130 170,1138.5 171.6,1146.9 173.2,1138.2 174.8,1141 176.4,1137.3 178,1144 179.6,1133.7 181.2,1134.4 182.7,1140.6 184.3,1136.3 185.9,1130.3 187.5,1124.4 189.1,1148.3 190.7,1136.8 192.3,1136.6 193.9,1140.8 195.5,1149 197.1,1134.3 198.7,1149.1 200.3,1139.7 201.9,1131.3 203.5,1150.8 205.1,1146.9 206.7,1153.4 208.3,1143.6 209.9,1131 211.5,1123.4 213.1,1150 214.7,1148.9 216.3,1138.9 217.9,1129.2 219.5,1135.2 221.1,1145.9 222.7,1141.2 224.3,1142.2 225.9,1144 227.4,1148.6 229,1141.4 230.6,1139.9 232.2,1142.6 233.8,1144.4 235.4,1153 237,1149.6 238.6,1135.7 240.2,1142.2 241.8,1153.7 243.4,1136 245,1136.9 246.6,1125.2 248.2,1137.3 249.8,1144.9 251.4,1154.7 253,1136.6 254.6,1121.8 256.2,1143.1 257.8,1148.2 259.4,1131.5 261,1135.2 262.6,1128.8 264.2,1122.4 265.8,1118.3 267.4,1110.3 269,1116.1 270.6,1111 272.2,1119.7 273.7,1116.7 275.3,1134.5 276.9,1134.7 278.5,1117.7 280.1,1123.2 281.7,1115.9 283.3,1114.1 284.9,1107.6 286.5,1109.6 288.1,1108.7 289.7,1117 291.3,1124 292.9,1126.4 294.5,1125.3 296.1,1112.4 297.7,1126.9 299.3,1122.5 300.9,1118.6 302.5,1122 304.1,1135.1 305.7,1125 307.3,1119.7 308.9,1111.6 310.5,1113.1 312.1,1122.8 313.7,1126.4 315.3,1106.7 316.9,1110.4 318.5,1103.3 320,1099 321.6,1120.1 323.2,1117.4 324.8,1116 326.4,1114.9 328,1114.7 329.6,1117.3 331.2,1118.3 332.8,1131.4 334.4,1125.2 336,1127.7 337.6,1121.9 339.2,1124.7 340.8,1117.3 342.4,1113.6 344,1116.4 345.6,1117.2 347.2,1119.2 348.8,1123.9 350.4,1123.2 352,1125.6 353.6,1119.6 355.2,1120.7 356.8,1116.7 358.4,1130.1 360,1117.3 361.6,1126 363.2,1128.5 364.7,1125.1 366.3,1127 367.9,1121 369.5,1125.9 371.1,1131.1 372.7,1131 374.3,1114.6 375.9,1119.4 377.5,1130.1 379.1,1124.4 380.7,1134.6 382.3,1112.2 383.9,1130.8 385.5,1179.6 387.1,1193.9 388.7,1221.7 390.3,1221.2 391.9,1194.5 393.5,1189 395.1,1184 396.7,1172.3 398.3,1169.8 399.9,1162.8 401.5,1155.7 403.1,1151 404.7,1161.6 406.3,1151.6 407.9,1158.5 409.5,1165 411,1155.9 412.6,1143.1 414.2,1144.8 415.8,1156.6 417.4,1150.9 419,1157.9 420.6,1157.6 422.2,1155.8 423.8,1173.6 425.4,1159.9 427,1165.1 428.6,1164.1 430.2,1169.8 431.8,1171.8 433.4,1168 435,1153.5 436.6,1142.7 438.2,1152.4 439.8,1146.8 441.4,1155.4 443,1170.6 444.6,1159.5 446.2,1153.9 447.8,1158.9 449.4,1154.8 451,1151.6 452.6,1161.5 454.2,1169.2 455.7,1161.9 457.3,1159.7 458.9,1160.1 460.5,1150.1 462.1,1141.4 463.7,1155.2 465.3,1150.8 466.9,1147.7 468.5,1148.5 470.1,1146.2 471.7,1134.6 473.3,1150.9 474.9,1139.5 476.5,1145.4 478.1,1158 479.7,1152.5 481.3,1145.8 482.9,1150.7 484.5,1159.2 486.1,1145.8 487.7,1163 489.3,1154.8 490.9,1156.3 492.5,1148.3 494.1,1150.3 495.7,1152.2 497.3,1164.4 498.9,1154.6 500.5,1159.5 502,1172.2 503.6,1166.8 505.2,1157.9 506.8,1152.4 508.4,1154.4 510,1155.9 511.6,1153.1 513.2,1157.5 514.8,1148.2 516.4,1153.3 518,1153.7 519.6,1152 521.2,1163.6 522.8,1164.5 524.4,1147.8 526,1151.8 527.6,1157.7 529.2,1154.8 530.8,1160.2 532.4,1156 534,1162 535.6,1156.6 537.2,1169.1 538.8,1150.7 540.4,1159.3 542,1170 543.6,1162.9 545.2,1161.9 546.8,1157.6 548.3,1166.2 549.9,1157.1 551.5,1116.7 553.1,1158.9 554.7,1155.4 556.3,1159.2 557.9,1156.6 559.5,1171.1 561.1,1170.4 562.7,1157.9 564.3,1158 565.9,1145.3 567.5,1159.3 569.1,1156.8 570.7,1135.3 572.3,1156.8 573.9,1149.6 575.5,1160 577.1,1158.8 578.7,1151.7 580.3,1155 581.9,1162.7 583.5,1157.7 585.1,1137.7 586.7,1142.1 588.3,1174.3 589.9,1163.9 591.5,1166.4 593,1155.7 594.6,1158.6 596.2,1143.5 597.8,1146.5 599.4,1147.8 601,1153.5 602.6,1157 604.2,1155.2 605.8,1147.3 607.4,1150.8 609,1158.6 610.6,1148.6 612.2,1153.8 613.8,1157.4 615.4,1164 617,1164.2 618.6,1164.9 620.2,1181.5 621.8,1157.5 623.4,1153.7 625,1158.5 626.6,1150.4 628.2,1152.6 629.8,1153.8 631.4,1175.8 633,1165.4 634.6,1156.4 636.2,1145.6 637.8,1140.6 639.3,1120.3 640.9,1162.4 642.5,1176.4 644.1,1159.5 645.7,1158.6 647.3,1151.2 648.9,1157.3 650.5,1156.5 652.1,1169.4 653.7,1158.4 655.3,1161.9 656.9,1157 658.5,1154.6 660.1,1158.4 661.7,1156.2 663.3,1158 664.9,1152.7 666.5,1153.1 668.1,1161.2 669.7,1164 671.3,1147.1 672.9,1156.1 674.5,1150.5 676.1,1153.3 677.7,1161.5 679.3,1165.4 680.9,1159.9 682.5,1157.3 684,1153.8 685.6,1167 687.2,1165.9 688.8,1161.8 690.4,1147.7 692,1173.6 693.6,1160.1 695.2,1163.5 696.8,1157.1 698.4,1162.2 700,1157.3 701.6,1146.7 703.2,1152.7 704.8,1153.9 706.4,1154.8 708,1163.6 709.6,1156.4 711.2,1160 712.8,1165.6 714.4,1161.5 716,1161.7 717.6,1154.3 719.2,1158.1 720.8,1163 722.4,1149.4 724,1148.8 725.6,1132.4 727.2,1109.1 728.8,1132.9 730.3,1131.9 731.9,1132.1 733.5,1122.8 735.1,1126.4 736.7,1122.9 738.3,1132.5 739.9,1140.8 741.5,1131.2 743.1,1138.7 744.7,1141.4 746.3,1131.7 747.9,1130.2 749.5,1141.8 751.1,1126.9 752.7,1111.6 754.3,1134.7 755.9,1116.5 757.5,1130.1 759.1,1132.7 760.7,1131 762.3,1140.1 763.9,1121.9 765.5,1122.6 767.1,1132.2 768.7,1131.5 770.3,1140.6 771.9,1134.5 773.5,1122.8 775,1139.4 776.6,1134.7 778.2,1128.8 779.8,1120.1 781.4,1115.2 783,1127.4 784.6,1133.2 786.2,1125.9 787.8,1129.8 789.4,1130.6 791,1120.2 792.6,1112.4 794.2,1120.9 795.8,1126.9 797.4,1122.8 799,1140.3 800.6,1131.3 802.2,1136.5 803.8,1111.7 805.4,1117 807,1122.9 808.6,1127.2 810.2,1146.1 811.8,1127.2 813.4,1114.6 815,1128.7 816.6,1122.1 818.2,1119.8 819.8,1136.4 821.3,1122.4 822.9,1115 824.5,1121.3 826.1,1125.4 827.7,1120.1 829.3,1136.2 830.9,1128.6 832.5,1118.9 834.1,1133.5 835.7,1120.8 837.3,1127.7 838.9,1142.4 840.5,1131.8 842.1,1135.1 843.7,1126.3 845.3,1118.2 846.9,1120.6 848.5,1129.9 850.1,1106.4 851.7,1129.8 853.3,1129.4 854.9,1117.7 856.5,1121.6 858.1,1127.4 859.7,1135.6 861.3,1119.7 862.9,1118.1 864.5,1114.7 866,1123.6 867.6,1132.6 869.2,1111.9 870.8,1134.4 872.4,1125.2 874,1122.9 875.6,1130 877.2,1120.9 878.8,1117.8 880.4,1121.4 882,1115.9 883.6,1124.3 885.2,1125.5 886.8,1121.3 888.4,1123.9 890,1118.4 891.6,1132.2 893.2,1116 894.8,1127.9 896.4,1126.7 898,1135.6 899.6,1123.1 901.2,1114.3 902.8,1113.1 904.4,1114.5 906,1133.1 907.6,1132.8 909.2,1130.2 910.8,1133 912.3,1103 913.9,1110.1 915.5,1107.2 917.1,1098.7 918.7,1108.7 920.3,1111.4 921.9,1112 923.5,1101.7 925.1,1099.8 926.7,1097.4 928.3,1092.9 929.9,1110.1 931.5,1109.2 933.1,1103.5 934.7,1113.2 936.3,1109.9 937.9,1097.1 939.5,1092.6 941.1,1091.5 942.7,1099 944.3,1103.2 945.9,1094.6 947.5,1103.1 949.1,1100.2 950.7,1091.9 952.3,1102.2 953.9,1107.2 955.5,1104.1 957.1,1098.5 958.6,1097.8 960.2,1100 961.8,1097.6 963.4,1113.3 965,1112.4 966.6,1104.4 968.2,1110.2" fill="none" stroke="#39b54a" stroke-width="1.3" stroke-linejoin="round" clip-path="url(#cf)"/>
<path d="M67.8,1218.7 69.4,1218.5 71,1223.9 72.6,1225.2 74.2,1220.7 75.8,1216.4 77.4,1219.7 79,1203.4 80.6,1213.1 82.2,1216.7 83.8,1225.6 85.4,1212.8 87,1228.3 88.6,1238.8 90.2,1236.2 91.7,1220.8 93.3,1232.9 94.9,1214.1 96.5,1220.9 98.1,1237.1 99.7,1230.2 101.3,1209.7 102.9,1228.4 104.5,1238.4 106.1,1224.7 107.7,1213.5 109.3,1213.1 110.9,1225.7 112.5,1224.9 114.1,1223.7 115.7,1215.7 117.3,1204.4 118.9,1222.3 120.5,1214.8 122.1,1228.1 123.7,1223.7 125.3,1236.7 126.9,1239.3 128.5,1229.4 130.1,1238.9 131.7,1225.4 133.3,1234.6 134.9,1231.5 136.4,1232.1 138,1234.6 139.6,1231 141.2,1221.1 142.8,1199.3 144.4,1232.7 146,1228.9 147.6,1232.1 149.2,1240 150.8,1231.2 152.4,1239.4 154,1234.4 155.6,1220.6 157.2,1246.8 158.8,1233.6 160.4,1227.8 162,1239.1 163.6,1228.7 165.2,1227.2 166.8,1233.2 168.4,1220.5 170,1240.2 171.6,1227.9 173.2,1232.4 174.8,1241.4 176.4,1235.9 178,1235.9 179.6,1225 181.2,1243.2 182.7,1236.6 184.3,1237.1 185.9,1218.3 187.5,1237.7 189.1,1223.3 190.7,1245.2 192.3,1232.2 193.9,1232.8 195.5,1228.2 197.1,1236.9 198.7,1251.1 200.3,1251.6 201.9,1225.2 203.5,1227.5 205.1,1238.2 206.7,1225 208.3,1236.4 209.9,1239.7 211.5,1245.1 213.1,1224.6 214.7,1211.1 216.3,1234.3 217.9,1229.6 219.5,1221.8 221.1,1208.9 222.7,1247 224.3,1234.8 225.9,1226.4 227.4,1243.7 229,1231.3 230.6,1229.6 232.2,1224.2 233.8,1234.7 235.4,1228.6 237,1236.3 238.6,1227.3 240.2,1228.8 241.8,1234.2 243.4,1245.5 245,1220.4 246.6,1217.9 248.2,1219.2 249.8,1234 251.4,1235.5 253,1217.2 254.6,1220.3 256.2,1236.1 257.8,1232.5 259.4,1230.5 261,1233.1 262.6,1240.7 264.2,1222.6 265.8,1223.3 267.4,1230.9 269,1245.9 270.6,1241.2 272.2,1234.4 273.7,1224.3 275.3,1232.7 276.9,1221.5 278.5,1227.1 280.1,1237 281.7,1259 283.3,1250.6 284.9,1251 286.5,1238.6 288.1,1230.4 289.7,1218.1 291.3,1227.5 292.9,1240.9 294.5,1212.3 296.1,1222.7 297.7,1231.1 299.3,1233.7 300.9,1244.5 302.5,1229.3 304.1,1227.2 305.7,1215.2 307.3,1216.2 308.9,1218.6 310.5,1215.7 312.1,1229.2 313.7,1234.7 315.3,1232.7 316.9,1243.2 318.5,1236.1 320,1235.7 321.6,1226.3 323.2,1229.8 324.8,1248.4 326.4,1236 328,1219.4 329.6,1244.6 331.2,1242.2 332.8,1234.2 334.4,1244.3 336,1240.1 337.6,1233.2 339.2,1243.9 340.8,1232.1 342.4,1227.5 344,1241.7 345.6,1233.9 347.2,1221.8 348.8,1229.8 350.4,1226.5 352,1223.6 353.6,1230.9 355.2,1221.7 356.8,1224.5 358.4,1238.2 360,1228.2 361.6,1222 363.2,1220.7 364.7,1233.7 366.3,1227.4 367.9,1217 369.5,1224.5 371.1,1217.8 372.7,1214.7 374.3,1226.2 375.9,1223.2 377.5,1231.1 379.1,1220.9 380.7,1228.6 382.3,1235.1 383.9,1232.2 385.5,1182.2 387.1,1129.7 388.7,1116.9 390.3,1136.8 391.9,1141.7 393.5,1137.5 395.1,1138.9 396.7,1146.7 398.3,1129.1 399.9,1141.6 401.5,1160.2 403.1,1167.4 404.7,1160.7 406.3,1167.7 407.9,1189.4 409.5,1178.8 411,1176.1 412.6,1155.9 414.2,1186.7 415.8,1164.5 417.4,1173.7 419,1166.3 420.6,1175.5 422.2,1173.9 423.8,1164.5 425.4,1171.5 427,1164.5 428.6,1173 430.2,1178.6 431.8,1178.5 433.4,1181.1 435,1178.4 436.6,1163.8 438.2,1182.9 439.8,1193.2 441.4,1181.1 443,1161.6 444.6,1161.7 446.2,1159.1 447.8,1159.1 449.4,1177.4 451,1175.1 452.6,1200.2 454.2,1188.7 455.7,1173.9 457.3,1189.6 458.9,1199 460.5,1194.8 462.1,1179.4 463.7,1165.9 465.3,1148.7 466.9,1154.3 468.5,1183.3 470.1,1199.5 471.7,1181.4 473.3,1167.5 474.9,1188.3 476.5,1184.3 478.1,1182.4 479.7,1177.3 481.3,1177.8 482.9,1171.4 484.5,1164.5 486.1,1171.6 487.7,1167.4 489.3,1154.6 490.9,1178.8 492.5,1186.2 494.1,1174 495.7,1157.9 497.3,1168.7 498.9,1163.3 500.5,1174.7 502,1166.8 503.6,1178.7 505.2,1170.2 506.8,1170.2 508.4,1170.2 510,1161.1 511.6,1161.2 513.2,1176.7 514.8,1167.6 516.4,1188.9 518,1170.3 519.6,1148.3 521.2,1162.3 522.8,1166.7 524.4,1172.2 526,1166.6 527.6,1176.9 529.2,1169.5 530.8,1176.1 532.4,1179.4 534,1175.4 535.6,1175.8 537.2,1191.5 538.8,1160.8 540.4,1169.6 542,1189.3 543.6,1169.4 545.2,1173.8 546.8,1172.9 548.3,1168 549.9,1181.4 551.5,1204.5 553.1,1185 554.7,1176 556.3,1166.2 557.9,1179.7 559.5,1179.1 561.1,1172.8 562.7,1177.6 564.3,1178.4 565.9,1174 567.5,1184.3 569.1,1163.4 570.7,1180.5 572.3,1176.7 573.9,1179 575.5,1183.2 577.1,1172.9 578.7,1165.4 580.3,1159 581.9,1165.3 583.5,1176.7 585.1,1168 586.7,1186.8 588.3,1178.6 589.9,1171.8 591.5,1169.4 593,1184.6 594.6,1192.4 596.2,1165.4 597.8,1177.6 599.4,1191.8 601,1192.3 602.6,1180.8 604.2,1166.6 605.8,1173.3 607.4,1164.2 609,1170.5 610.6,1170.2 612.2,1165.3 613.8,1176.5 615.4,1173.7 617,1179.2 618.6,1183.2 620.2,1172.4 621.8,1182.9 623.4,1177.7 625,1184.3 626.6,1179.8 628.2,1182.5 629.8,1168.3 631.4,1173.5 633,1175.1 634.6,1161 636.2,1199.1 637.8,1194 639.3,1207.6 640.9,1186.3 642.5,1175.9 644.1,1170.8 645.7,1172.9 647.3,1184.1 648.9,1163.1 650.5,1170.3 652.1,1177.7 653.7,1188 655.3,1176.8 656.9,1181.9 658.5,1183.1 660.1,1177.4 661.7,1175.6 663.3,1184.7 664.9,1168.2 666.5,1184.2 668.1,1190.1 669.7,1178.7 671.3,1177 672.9,1177 674.5,1181.5 676.1,1178.7 677.7,1183.4 679.3,1195 680.9,1176.3 682.5,1187 684,1182.9 685.6,1172.8 687.2,1176.3 688.8,1152.1 690.4,1183.4 692,1186.8 693.6,1180 695.2,1166.2 696.8,1177 698.4,1191.3 700,1171.6 701.6,1184.9 703.2,1182.2 704.8,1171.4 706.4,1182.6 708,1183.9 709.6,1175.6 711.2,1179.6 712.8,1176.2 714.4,1186.7 716,1182.2 717.6,1189.9 719.2,1196.5 720.8,1167.7 722.4,1171.2 724,1168 725.6,1221.8 727.2,1226 728.8,1234.5 730.3,1245.9 731.9,1231.1 733.5,1238.4 735.1,1235.8 736.7,1247.2 738.3,1227.3 739.9,1223.5 741.5,1225.8 743.1,1238.6 744.7,1239 746.3,1222.7 747.9,1231.8 749.5,1229.4 751.1,1229.9 752.7,1241.8 754.3,1220.7 755.9,1247 757.5,1234.4 759.1,1233.5 760.7,1247.5 762.3,1233.5 763.9,1227.6 765.5,1230.2 767.1,1239.1 768.7,1229.9 770.3,1221 771.9,1226.6 773.5,1214.3 775,1218.7 776.6,1220.8 778.2,1215.7 779.8,1233.2 781.4,1237.2 783,1228.7 784.6,1226.2 786.2,1216.2 787.8,1216.6 789.4,1225.7 791,1228 792.6,1233.3 794.2,1235.7 795.8,1237.2 797.4,1225.1 799,1234.2 800.6,1235.9 802.2,1231.6 803.8,1236.5 805.4,1235.3 807,1253.1 808.6,1234.7 810.2,1235.5 811.8,1231 813.4,1228.1 815,1247.8 816.6,1214.1 818.2,1224.8 819.8,1227.7 821.3,1246.8 822.9,1230 824.5,1226.9 826.1,1233 827.7,1229.1 829.3,1218.2 830.9,1229.9 832.5,1238.7 834.1,1220.4 835.7,1224.8 837.3,1230.2 838.9,1208.8 840.5,1222.2 842.1,1229.3 843.7,1227.4 845.3,1233 846.9,1229 848.5,1228.4 850.1,1235.7 851.7,1234.2 853.3,1228.5 854.9,1226.1 856.5,1223.5 858.1,1220.9 859.7,1225.1 861.3,1223.9 862.9,1231.9 864.5,1233.2 866,1221.5 867.6,1246.1 869.2,1231.6 870.8,1201.4 872.4,1239 874,1219.1 875.6,1243.5 877.2,1231.1 878.8,1215.8 880.4,1212.5 882,1233.8 883.6,1243.9 885.2,1248.2 886.8,1229.6 888.4,1234.3 890,1232.1 891.6,1229.1 893.2,1226.8 894.8,1225 896.4,1228.3 898,1245.3 899.6,1222 901.2,1254.1 902.8,1226.7 904.4,1235.6 906,1234.5 907.6,1237.2 909.2,1236.6 910.8,1233.2 912.3,1234.6 913.9,1242.6 915.5,1226.9 917.1,1235.5 918.7,1220.2 920.3,1229.6 921.9,1237.5 923.5,1229.3 925.1,1222.6 926.7,1237.4 928.3,1235.9 929.9,1219.6 931.5,1237.2 933.1,1241.1 934.7,1232.9 936.3,1243.2 937.9,1258 939.5,1255 941.1,1235.1 942.7,1226.5 944.3,1224.5 945.9,1225.8 947.5,1241.3 949.1,1228.2 950.7,1219.8 952.3,1234.5 953.9,1223.7 955.5,1232.6 957.1,1230.1 958.6,1227.7 960.2,1244.2 961.8,1221.7 963.4,1236.5 965,1234 966.6,1236.8 968.2,1228.8" fill="none" stroke="#e2232a" stroke-width="1.3" stroke-linejoin="round" clip-path="url(#cf)"/>
<rect x="68.3" y="1073.8" width="898.5" height="176.4" fill="none" stroke="#231f20" stroke-width="1.4"/>
<path d="M68.3,1092h-6.5 M68.3,1127.5h-6.5 M68.3,1162.9h-6.5 M68.3,1198.4h-6.5 M68.3,1233.8h-6.5 M68.3,1250.2h-6.5" stroke="#231f20" stroke-width="1.3"/>
<path d="M67.8,1250.2v5 M387.1,1250.2v5 M706.4,1250.2v5" stroke="#231f20" stroke-width="1.3"/>
<path d="M78,1106.6L115.5,1106.6" stroke="#231f20" stroke-width="1.3"/>
<path d="M70,1106.6 85,1100.1 81,1106.6 85,1113.1Z" fill="#231f20"/>
<path d="M123.5,1106.6 108.5,1113.1 112.5,1106.6 108.5,1100.1Z" fill="#231f20"/>
<path d="M131.5,1106.6L253.6,1106.6" stroke="#231f20" stroke-width="1.3"/>
<path d="M123.5,1106.6 138.5,1100.1 134.5,1106.6 138.5,1113.1Z" fill="#231f20"/>
<path d="M261.6,1106.6 246.6,1113.1 250.6,1106.6 246.6,1100.1Z" fill="#231f20"/>
<path d="M269.6,1106.6L378,1106.6" stroke="#231f20" stroke-width="1.3"/>
<path d="M261.6,1106.6 276.6,1100.1 272.6,1106.6 276.6,1113.1Z" fill="#231f20"/>
<path d="M386,1106.6 371,1113.1 375,1106.6 371,1100.1Z" fill="#231f20"/>
<path d="M394,1106.6L718.6,1106.6" stroke="#231f20" stroke-width="1.3"/>
<path d="M386,1106.6 401,1100.1 397,1106.6 401,1113.1Z" fill="#231f20"/>
<path d="M726.6,1106.6 711.6,1113.1 715.6,1106.6 711.6,1100.1Z" fill="#231f20"/>
<text x="72.2" y="1100.5" textLength="82.3" lengthAdjust="spacingAndGlyphs" font-size="32.5">PRE1</text>
<text x="174" y="1100.5" textLength="56.8" lengthAdjust="spacingAndGlyphs" font-size="32.5">CHI</text>
<text x="273.8" y="1100.5" font-size="32.5">POST2</text>
<text x="515.8" y="1100.5" font-size="32.5">PRE2</text>
<text x="3" y="1067.5" font-weight="bold" font-size="31">f</text>
<text x="37.6" y="1102">8</text>
<text x="37.6" y="1137.2">6</text>
<text x="37.1" y="1173.9">4</text>
<text x="37.8" y="1207.7">2</text>
<text x="37.5" y="1242.6">0</text>
<text x="58.9" y="1281.6">0</text>
<text x="368.7" y="1281.6">10</text>
<text x="688.4" y="1281.6">20</text>
<text x="470.4" y="1312.3" textLength="103.7" lengthAdjust="spacingAndGlyphs" font-size="32.5">Time, s</text>
<text transform="translate(24,1249.4) rotate(-90)" x="-2.6" textLength="179.4" lengthAdjust="spacingAndGlyphs">FI, arb. units</text>
<text x="970" y="1107" textLength="71.4" lengthAdjust="spacingAndGlyphs" fill="#00a651" font-size="32.5">Q-pb</text>
<text x="984.3" y="1140" fill="#00a651" font-size="32.5">P/P</text>
<text x="985.4" y="1166.5" textLength="55.1" lengthAdjust="spacingAndGlyphs" fill="#00a651" font-size="32.5">CHI</text>
<text x="988.9" y="1196.5" textLength="62.6" lengthAdjust="spacingAndGlyphs" fill="#00a651" font-size="32.5">A/P*</text>
<text x="988.4" y="1225.5" textLength="50.6" lengthAdjust="spacingAndGlyphs" fill="#00a651" font-size="32.5">A/A</text>
<text x="988.9" y="1254.5" textLength="51.2" lengthAdjust="spacingAndGlyphs" fill="#00a651" font-size="32.5">A/P</text>
<path d="M970,1144.5L982,1152.5M969.5,1170L981.5,1178M982,1207.5L969.5,1193.5L982.5,1236" stroke="#00a651" stroke-width="1.2" fill="none"/>
<path d="M1146.7,720.5H1413.9" stroke="#231f20" stroke-width="1.3" stroke-dasharray="3.2 3.2"/>
<path d="M1146.7,739.1H1413.9" stroke="#231f20" stroke-width="1.3" stroke-dasharray="3.2 3.2"/>
<path d="M1146.7,761.7H1413.9" stroke="#231f20" stroke-width="1.3" stroke-dasharray="3.2 3.2"/>
<path d="M1146.7,804.2H1413.9" stroke="#231f20" stroke-width="1.3" stroke-dasharray="3.2 3.2"/>
<path d="M1146.7,845.3H1413.9" stroke="#231f20" stroke-width="1.3" stroke-dasharray="3.2 3.2"/>
<path d="M1146.7,867.3H1413.9" stroke="#231f20" stroke-width="1.3" stroke-dasharray="3.2 3.2"/>
<path d="M1146.7,893.8H1413.9" stroke="#231f20" stroke-width="1.3" stroke-dasharray="3.2 3.2"/>
<path d="M1146.7,939H1413.9" stroke="#231f20" stroke-width="1.3" stroke-dasharray="3.2 3.2"/>
<path d="M946.6,772.1 947.7,764 948.8,762 949.9,771 951.1,772.2 952.2,773.5 953.3,767.3 954.4,753.8 955.5,764.2 956.6,777.3 957.7,761.4 958.9,765.8 960,762.4 961.1,765.7 962.2,767.7 963.3,763.2 964.4,759.5 965.5,763.9 966.7,764.6 967.8,759.7 968.9,766.8 970,772.3 971.1,762.7 972.2,765.5 973.3,773.2 974.5,768.9 975.6,765.3 976.7,768 977.8,770.2 978.9,761.8 980,754 981.1,757.8 982.3,761.6 983.4,755.9 984.5,749.3 985.6,752.1 986.7,746.7 987.8,740.9 989,744.9 990.1,748.1 991.2,741.1 992.3,738.1 993.4,727 994.5,739.1 995.6,739.2 996.8,740.3 997.9,745.7 999,736.8 1000.1,731.8 1001.2,737.6 1002.3,727.2 1003.4,727.3 1004.6,728.5 1005.7,730.2 1006.8,727.5 1007.9,739.8 1009,732.4 1010.1,730.3 1011.2,743.2 1012.4,735 1013.5,736 1014.6,730.4 1015.7,735.8 1016.8,726.3 1017.9,732.7 1019,739 1020.2,732.5 1021.3,734.6 1022.4,731.8 1023.5,736.8 1024.6,729.2 1025.7,729.6 1026.8,734.3 1028,731.1 1029.1,726.5 1030.2,722.2 1031.3,740.1 1032.4,731.5 1033.5,731.3 1034.6,734.4 1035.8,740.6 1036.9,729.6 1038,740.7 1039.1,733.6 1040.2,727.3 1041.3,742 1042.4,739 1043.6,743.9 1044.7,736.5 1045.8,727.1 1046.9,721.4 1048,741.4 1049.1,740.5 1050.2,733 1051.4,725.8 1052.5,730.2 1053.6,738.3 1054.7,734.7 1055.8,735.5 1056.9,736.8 1058,740.3 1059.2,734.9 1060.3,733.8 1061.4,735.8 1062.5,737.1 1063.6,743.6 1064.7,741 1065.9,730.6 1067,735.5 1068.1,744.1 1069.2,730.9 1070.3,731.5 1071.4,722.7 1072.5,731.8 1073.7,737.5 1074.8,744.9 1075.9,731.3 1077,720.2 1078.1,736.2 1079.2,740 1080.3,727.5 1081.5,730.3 1082.6,725.4 1083.7,720.6 1084.8,717.6 1085.9,711.6 1087,715.9 1088.1,712.1 1089.3,718.6 1090.4,716.3 1091.5,729.8 1092.6,729.9 1093.7,717.1 1094.8,721.2 1095.9,715.8 1097.1,714.4 1098.2,709.6 1099.3,711.1 1100.4,710.4 1101.5,716.6 1102.6,721.9 1103.7,723.7 1104.9,722.8 1106,713.2 1107.1,724 1108.2,720.7 1109.3,717.8 1110.4,720.4 1111.5,730.2 1112.7,722.6 1113.8,718.6 1114.9,712.6 1116,713.7 1117.1,721 1118.2,723.7 1119.3,708.9 1120.5,711.6 1121.6,706.4 1122.7,703.1 1123.8,719 1124.9,716.9 1126,715.9 1127.1,715 1128.3,714.9 1129.4,716.8 1130.5,717.6 1131.6,727.4 1132.7,722.7 1133.8,724.7 1135,720.3 1136.1,722.4 1137.2,716.8 1138.3,714.1 1139.4,716.2 1140.5,716.8 1141.6,718.3 1142.8,721.8 1143.9,721.3 1145,723 1146.1,718.6 1147.2,719.4 1148.3,716.4 1149.4,726.4 1150.6,716.8 1151.7,723.4 1152.8,725.2 1153.9,722.7 1155,724.1 1156.1,719.6 1157.2,723.3 1158.4,727.2 1159.5,727.1 1160.6,714.8 1161.7,718.4 1162.8,726.4 1163.9,722.1 1165,729.8 1166.2,713 1167.3,726.9 1168.4,763.5 1169.5,774.3 1170.6,795.1 1171.7,794.7 1172.8,774.7 1174,770.6 1175.1,766.9 1176.2,758.1 1177.3,756.2 1178.4,750.9 1179.5,745.6 1180.6,742.1 1181.8,750 1182.9,742.5 1184,747.7 1185.1,752.6 1186.2,745.8 1187.3,736.1 1188.4,737.4 1189.6,746.3 1190.7,742 1191.8,747.3 1192.9,747 1194,745.7 1195.1,759.1 1196.2,748.8 1197.4,752.7 1198.5,751.9 1199.6,756.2 1200.7,757.7 1201.8,754.9 1202.9,744 1204,735.9 1205.2,743.1 1206.3,738.9 1207.4,745.4 1208.5,756.8 1209.6,748.4 1210.7,744.3 1211.9,748 1213,745 1214.1,742.5 1215.2,750 1216.3,755.7 1217.4,750.3 1218.5,748.6 1219.7,748.9 1220.8,741.4 1221.9,734.9 1223,745.2 1224.1,742 1225.2,739.6 1226.3,740.2 1227.5,738.5 1228.6,729.8 1229.7,742.1 1230.8,733.5 1231.9,737.9 1233,747.4 1234.1,743.2 1235.3,738.2 1236.4,741.8 1237.5,748.3 1238.6,738.2 1239.7,751.1 1240.8,745 1241.9,746.1 1243.1,740.1 1244.2,741.5 1245.3,743 1246.4,752.1 1247.5,744.8 1248.6,748.5 1249.7,758 1250.9,753.9 1252,747.3 1253.1,743.2 1254.2,744.6 1255.3,745.8 1256.4,743.7 1257.5,747 1258.7,740 1259.8,743.8 1260.9,744.2 1262,742.8 1263.1,751.6 1264.2,752.2 1265.3,739.7 1266.5,742.7 1267.6,747.2 1268.7,744.9 1269.8,749 1270.9,745.9 1272,750.3 1273.1,746.3 1274.3,755.7 1275.4,741.9 1276.5,748.3 1277.6,756.3 1278.7,751 1279.8,750.3 1281,747.1 1282.1,753.5 1283.2,746.6 1284.3,716.4 1285.4,748 1286.5,745.4 1287.6,748.3 1288.8,746.3 1289.9,757.1 1291,756.6 1292.1,747.3 1293.2,747.4 1294.3,737.8 1295.4,748.3 1296.6,746.5 1297.7,730.3 1298.8,746.5 1299.9,741.1 1301,748.8 1302.1,747.9 1303.2,742.6 1304.4,745.1 1305.5,750.9 1306.6,747.1 1307.7,732.1 1308.8,735.5 1309.9,759.6 1311,751.8 1312.2,753.6 1313.3,745.6 1314.4,747.8 1315.5,736.4 1316.6,738.8 1317.7,739.7 1318.8,744 1320,746.6 1321.1,745.2 1322.2,739.4 1323.3,742 1324.4,747.8 1325.5,740.3 1326.6,744.2 1327.8,746.9 1328.9,751.8 1330,752 1331.1,752.5 1332.2,764.9 1333.3,747 1334.4,744.1 1335.6,747.8 1336.7,741.7 1337.8,743.3 1338.9,744.2 1340,760.7 1341.1,752.9 1342.2,746.2 1343.4,738 1344.5,734.3 1345.6,719.1 1346.7,750.7 1347.8,761.1 1348.9,748.5 1350,747.8 1351.2,742.3 1352.3,746.8 1353.4,746.2 1354.5,755.9 1355.6,747.7 1356.7,750.3 1357.9,746.6 1359,744.8 1360.1,747.6 1361.2,746 1362.3,747.4 1363.4,743.4 1364.5,743.7 1365.7,749.8 1366.8,751.8 1367.9,739.2 1369,745.9 1370.1,741.7 1371.2,743.8 1372.3,750 1373.5,752.9 1374.6,748.8 1375.7,746.8 1376.8,744.2 1377.9,754.1 1379,753.3 1380.1,750.2 1381.3,739.6 1382.4,759 1383.5,748.9 1384.6,751.4 1385.7,746.7 1386.8,750.5 1387.9,746.8 1389.1,738.8 1390.2,743.4 1391.3,744.3 1392.4,744.9 1393.5,751.5 1394.6,746.1 1395.7,748.8 1396.9,753.1 1398,749.9 1399.1,750.1 1400.2,744.6 1401.3,747.4 1402.4,751.1 1403.5,740.9 1404.7,740.5 1405.8,728.1 1406.9,710.7 1408,728.5 1409.1,727.8 1410.2,728 1411.3,721 1412.5,723.6 1413.6,721 1414.7,728.2 1415.8,734.4 1416.9,727.3 1418,732.9 1419.1,734.9 1420.3,727.6 1421.4,726.5 1422.5,735.2 1423.6,724 1424.7,712.6 1425.8,729.9 1426.9,716.2 1428.1,726.4 1429.2,728.4 1430.3,727.1 1431.4,733.9 1432.5,720.3 1433.6,720.8 1434.8,728 1435.9,727.4 1437,734.3 1438.1,729.7 1439.2,721 1440.3,733.4 1441.4,729.9 1442.6,725.4 1443.7,718.9 1444.8,715.2 1445.9,724.4 1447,728.8 1448.1,723.3 1449.2,726.2 1450.4,726.8 1451.5,719 1452.6,713.2 1453.7,719.5 1454.8,724 1455.9,721 1457,734.1 1458.2,727.3 1459.3,731.2 1460.4,712.7 1461.5,716.6 1462.6,721 1463.7,724.3 1464.8,738.5 1466,724.3 1467.1,714.8 1468.2,725.3 1469.3,720.4 1470.4,718.7 1471.5,731.1 1472.6,720.7 1473.8,715.1 1474.9,719.8 1476,722.9 1477.1,718.9 1478.2,731 1479.3,725.3 1480.4,718.1 1481.6,729 1482.7,719.5 1483.8,724.6 1484.9,735.7 1486,727.7 1487.1,730.2 1488.2,723.6 1489.4,717.5 1490.5,719.3 1491.6,726.2 1492.7,708.7 1493.8,726.2 1494.9,725.9 1496,717.1 1497.2,720 1498.3,724.4 1499.4,730.5 1500.5,718.6 1501.6,717.4 1502.7,714.9 1503.8,721.5 1505,728.3 1506.1,712.8 1507.2,729.7 1508.3,722.8 1509.4,721 1510.5,726.4 1511.7,719.5 1512.8,717.2 1513.9,719.9 1515,715.8 1516.1,722.1 1517.2,723 1518.3,719.9 1519.5,721.8 1520.6,717.6 1521.7,728 1522.8,715.8 1523.9,724.8 1525,723.9 1526.1,730.5 1527.3,721.2 1528.4,714.5 1529.5,713.7 1530.6,714.7 1531.7,728.7 1532.8,728.4 1533.9,726.5 1535.1,728.6 1536.2,706.1 1537.3,711.5 1538.4,709.3 1539.5,702.9 1540.6,710.4 1541.7,712.4 1542.9,712.8 1544,705.1 1545.1,703.7 1546.2,701.9 1547.3,698.5 1548.4,711.4 1549.5,710.7 1550.7,706.5 1551.8,713.7 1552.9,711.3 1554,701.7 1555.1,698.3 1556.2,697.4 1557.3,703.1 1558.5,706.2 1559.6,699.8 1560.7,706.2 1561.8,704 1562.9,697.7 1564,705.5 1565.1,709.2 1566.3,706.9 1567.4,702.8 1568.5,702.2 1569.6,703.9 1570.7,702.1 1571.8,713.8 1572.9,713.2 1574.1,707.1 1575.2,711.5" fill="none" stroke="#39b54a" stroke-width="1.3" stroke-linejoin="round" clip-path="url(#cg1)"/>
<path d="M946.6,792.9 947.7,792.7 948.8,796.8 949.9,797.8 951.1,794.4 952.2,791.2 953.3,793.6 954.4,781.4 955.5,788.7 956.6,791.3 957.7,798 958.9,788.5 960,800.1 961.1,807.9 962.2,806 963.3,794.5 964.4,803.5 965.5,789.4 966.7,794.5 967.8,806.7 968.9,801.5 970,786.1 971.1,800.1 972.2,807.7 973.3,797.4 974.5,789 975.6,788.7 976.7,798.1 977.8,797.6 978.9,796.6 980,790.6 981.1,782.2 982.3,795.6 983.4,790 984.5,799.9 985.6,796.6 986.7,806.4 987.8,808.3 989,800.9 990.1,808 991.2,797.9 992.3,804.8 993.4,802.5 994.5,802.9 995.6,804.8 996.8,802.1 997.9,794.7 999,778.3 1000.1,803.4 1001.2,800.5 1002.3,803 1003.4,808.8 1004.6,802.2 1005.7,808.4 1006.8,804.6 1007.9,794.3 1009,814 1010.1,804 1011.2,799.7 1012.4,808.2 1013.5,800.4 1014.6,799.2 1015.7,803.8 1016.8,794.3 1017.9,809 1019,799.8 1020.2,803.1 1021.3,809.9 1022.4,805.8 1023.5,805.7 1024.6,797.6 1025.7,811.3 1026.8,806.3 1028,806.7 1029.1,792.6 1030.2,807.2 1031.3,796.3 1032.4,812.7 1033.5,803 1034.6,803.4 1035.8,800 1036.9,806.5 1038,817.2 1039.1,817.5 1040.2,797.7 1041.3,799.5 1042.4,807.5 1043.6,797.6 1044.7,806.1 1045.8,808.6 1046.9,812.7 1048,797.3 1049.1,787.2 1050.2,804.5 1051.4,801 1052.5,795.2 1053.6,785.5 1054.7,814.1 1055.8,804.9 1056.9,798.7 1058,811.6 1059.2,802.4 1060.3,801.1 1061.4,797 1062.5,804.9 1063.6,800.3 1064.7,806 1065.9,799.3 1067,800.4 1068.1,804.5 1069.2,813 1070.3,794.1 1071.4,792.3 1072.5,793.3 1073.7,804.4 1074.8,805.5 1075.9,791.7 1077,794.1 1078.1,805.9 1079.2,803.2 1080.3,801.7 1081.5,803.6 1082.6,809.4 1083.7,795.8 1084.8,796.4 1085.9,802 1087,813.3 1088.1,809.8 1089.3,804.7 1090.4,797 1091.5,803.4 1092.6,795 1093.7,799.2 1094.8,806.6 1095.9,823.1 1097.1,816.8 1098.2,817.1 1099.3,807.8 1100.4,801.7 1101.5,792.4 1102.6,799.5 1103.7,809.5 1104.9,788.1 1106,795.9 1107.1,802.2 1108.2,804.1 1109.3,812.3 1110.4,800.8 1111.5,799.2 1112.7,790.3 1113.8,791 1114.9,792.8 1116,790.6 1117.1,800.7 1118.2,804.9 1119.3,803.4 1120.5,811.2 1121.6,805.9 1122.7,805.6 1123.8,798.5 1124.9,801.2 1126,815.2 1127.1,805.8 1128.3,793.4 1129.4,812.3 1130.5,810.5 1131.6,804.5 1132.7,812.1 1133.8,808.9 1135,803.7 1136.1,811.8 1137.2,802.9 1138.3,799.5 1139.4,810.1 1140.5,804.3 1141.6,795.2 1142.8,801.2 1143.9,798.7 1145,796.5 1146.1,802 1147.2,795.1 1148.3,797.2 1149.4,807.5 1150.6,800 1151.7,795.3 1152.8,794.3 1153.9,804.1 1155,799.4 1156.1,791.6 1157.2,797.2 1158.4,792.2 1159.5,789.9 1160.6,798.5 1161.7,796.3 1162.8,802.2 1163.9,794.5 1165,800.3 1166.2,805.2 1167.3,803 1168.4,765.5 1169.5,726.1 1170.6,716.5 1171.7,731.4 1172.8,735.1 1174,732 1175.1,733 1176.2,738.9 1177.3,725.7 1178.4,735.1 1179.5,749 1180.6,754.4 1181.8,749.3 1182.9,754.6 1184,770.9 1185.1,763 1186.2,760.9 1187.3,745.8 1188.4,768.9 1189.6,752.2 1190.7,759.1 1191.8,753.6 1192.9,760.5 1194,759.3 1195.1,752.2 1196.2,757.4 1197.4,752.2 1198.5,758.6 1199.6,762.8 1200.7,762.7 1201.8,764.7 1202.9,762.6 1204,751.7 1205.2,766 1206.3,773.8 1207.4,764.6 1208.5,750 1209.6,750.1 1210.7,748.2 1211.9,748.1 1213,761.9 1214.1,760.2 1215.2,779 1216.3,770.4 1217.4,759.3 1218.5,771.1 1219.7,778.1 1220.8,774.9 1221.9,763.4 1223,753.3 1224.1,740.4 1225.2,744.6 1226.3,766.4 1227.5,778.5 1228.6,764.9 1229.7,754.5 1230.8,770 1231.9,767.1 1233,765.7 1234.1,761.8 1235.3,762.2 1236.4,757.4 1237.5,752.2 1238.6,757.5 1239.7,754.4 1240.8,744.8 1241.9,762.9 1243.1,768.5 1244.2,759.4 1245.3,747.2 1246.4,755.4 1247.5,751.3 1248.6,759.9 1249.7,753.9 1250.9,762.9 1252,756.5 1253.1,756.5 1254.2,756.5 1255.3,749.7 1256.4,749.8 1257.5,761.4 1258.7,754.5 1259.8,770.5 1260.9,756.5 1262,740.1 1263.1,750.6 1264.2,753.9 1265.3,758 1266.5,753.8 1267.6,761.5 1268.7,756 1269.8,760.9 1270.9,763.4 1272,760.4 1273.1,760.7 1274.3,772.5 1275.4,749.5 1276.5,756.1 1277.6,770.8 1278.7,755.9 1279.8,759.2 1281,758.5 1282.1,754.8 1283.2,764.9 1284.3,782.2 1285.4,767.6 1286.5,760.8 1287.6,753.5 1288.8,763.6 1289.9,763.2 1291,758.5 1292.1,762 1293.2,762.7 1294.3,759.3 1295.4,767.1 1296.6,751.4 1297.7,764.2 1298.8,761.4 1299.9,763.1 1301,766.2 1302.1,758.5 1303.2,752.9 1304.4,748.1 1305.5,752.8 1306.6,761.4 1307.7,754.8 1308.8,769 1309.9,762.8 1311,757.7 1312.2,755.9 1313.3,767.3 1314.4,773.2 1315.5,752.9 1316.6,762 1317.7,772.7 1318.8,773.1 1320,764.5 1321.1,753.8 1322.2,758.8 1323.3,752 1324.4,756.7 1325.5,756.5 1326.6,752.8 1327.8,761.3 1328.9,759.1 1330,763.3 1331.1,766.3 1332.2,758.2 1333.3,766.1 1334.4,762.2 1335.6,767.1 1336.7,763.7 1337.8,765.7 1338.9,755.1 1340,759 1341.1,760.2 1342.2,749.6 1343.4,778.1 1344.5,774.3 1345.6,784.6 1346.7,768.6 1347.8,760.7 1348.9,757 1350,758.5 1351.2,766.9 1352.3,751.2 1353.4,756.6 1354.5,762.1 1355.6,769.8 1356.7,761.4 1357.9,765.3 1359,766.2 1360.1,761.9 1361.2,760.5 1362.3,767.4 1363.4,755 1364.5,767 1365.7,771.5 1366.8,762.9 1367.9,761.6 1369,761.6 1370.1,765 1371.2,762.8 1372.3,766.4 1373.5,775.1 1374.6,761.1 1375.7,769.1 1376.8,766 1377.9,758.4 1379,761.1 1380.1,743 1381.3,766.4 1382.4,768.9 1383.5,763.9 1384.6,753.5 1385.7,761.6 1386.8,772.3 1387.9,757.6 1389.1,767.6 1390.2,765.5 1391.3,757.4 1392.4,765.8 1393.5,766.8 1394.6,760.6 1395.7,763.5 1396.9,761 1398,768.9 1399.1,765.5 1400.2,771.2 1401.3,776.2 1402.4,754.7 1403.5,757.3 1404.7,754.8 1405.8,795.2 1406.9,798.3 1408,804.7 1409.1,813.3 1410.2,802.2 1411.3,807.7 1412.5,805.7 1413.6,814.3 1414.7,799.3 1415.8,796.5 1416.9,798.2 1418,807.8 1419.1,808.1 1420.3,795.9 1421.4,802.7 1422.5,800.9 1423.6,801.3 1424.7,810.2 1425.8,794.4 1426.9,814.1 1428.1,804.7 1429.2,804 1430.3,814.5 1431.4,804 1432.5,799.6 1433.6,801.5 1434.8,808.2 1435.9,801.3 1437,794.6 1438.1,798.8 1439.2,789.6 1440.3,792.9 1441.4,794.5 1442.6,790.6 1443.7,803.8 1444.8,806.7 1445.9,800.4 1447,798.5 1448.1,791 1449.2,791.3 1450.4,798.1 1451.5,799.9 1452.6,803.8 1453.7,805.6 1454.8,806.8 1455.9,797.7 1457,804.5 1458.2,805.7 1459.3,802.5 1460.4,806.2 1461.5,805.4 1462.6,818.7 1463.7,804.9 1464.8,805.4 1466,802.1 1467.1,799.9 1468.2,814.7 1469.3,789.4 1470.4,797.4 1471.5,799.6 1472.6,813.9 1473.8,801.4 1474.9,799 1476,803.6 1477.1,800.7 1478.2,792.5 1479.3,801.3 1480.4,807.8 1481.6,794.2 1482.7,797.5 1483.8,801.5 1484.9,785.4 1486,795.5 1487.1,800.9 1488.2,799.4 1489.4,803.6 1490.5,800.6 1491.6,800.1 1492.7,805.6 1493.8,804.5 1494.9,800.2 1496,798.4 1497.2,796.5 1498.3,794.5 1499.4,797.7 1500.5,796.8 1501.6,802.8 1502.7,803.7 1503.8,795 1505,813.4 1506.1,802.6 1507.2,779.9 1508.3,808.1 1509.4,793.2 1510.5,811.5 1511.7,802.2 1512.8,790.7 1513.9,788.2 1515,804.2 1516.1,811.8 1517.2,815 1518.3,801 1519.5,804.6 1520.6,802.9 1521.7,800.6 1522.8,798.9 1523.9,797.6 1525,800 1526.1,812.9 1527.3,795.4 1528.4,819.4 1529.5,798.9 1530.6,805.6 1531.7,804.7 1532.8,806.8 1533.9,806.3 1535.1,803.8 1536.2,804.8 1537.3,810.8 1538.4,799.1 1539.5,805.5 1540.6,794 1541.7,801 1542.9,807 1544,800.8 1545.1,795.8 1546.2,806.9 1547.3,805.8 1548.4,793.5 1549.5,806.8 1550.7,809.7 1551.8,803.5 1552.9,811.3 1554,822.3 1555.1,820.1 1556.2,805.2 1557.3,798.7 1558.5,797.2 1559.6,798.2 1560.7,809.8 1561.8,800 1562.9,793.7 1564,804.7 1565.1,796.6 1566.3,803.3 1567.4,801.4 1568.5,799.6 1569.6,812 1570.7,795.1 1571.8,806.2 1572.9,804.3 1574.1,806.5 1575.2,800.5" fill="none" stroke="#e2232a" stroke-width="1.3" stroke-linejoin="round" clip-path="url(#cg1)"/>
<path d="M946.6,929 947.7,932.7 948.8,933.1 949.9,933.6 951.1,934.3 952.2,935.5 953.3,939.5 954.4,941.3 955.5,934.7 956.6,928.2 957.7,921.3 958.9,942.8 960,939.7 961.1,934.5 962.2,942.3 963.3,961.1 964.4,942.9 965.5,949.3 966.7,948.3 967.8,939.4 968.9,946.4 970,937.6 971.1,937.1 972.2,932.7 973.3,925 974.5,932.8 975.6,934.3 976.7,935.1 977.8,937.2 978.9,937.2 980,935.1 981.1,941.9 982.3,936.4 983.4,928.7 984.5,937.2 985.6,923 986.7,937.3 987.8,938.6 989,937.8 990.1,944.2 991.2,941.7 992.3,939.8 993.4,945.7 994.5,943.3 995.6,937 996.8,924.7 997.9,939.5 999,938.8 1000.1,934.9 1001.2,933.5 1002.3,913.8 1003.4,921.1 1004.6,922.3 1005.7,931.7 1006.8,948.1 1007.9,938.8 1009,935.6 1010.1,932.7 1011.2,924.7 1012.4,922.9 1013.5,913.1 1014.6,915.1 1015.7,919.5 1016.8,928.7 1017.9,923.5 1019,926.3 1020.2,939.4 1021.3,923.6 1022.4,931.6 1023.5,943.5 1024.6,928.5 1025.7,916.4 1026.8,929.9 1028,939.7 1029.1,912.4 1030.2,928 1031.3,948.2 1032.4,949.1 1033.5,923.6 1034.6,926.3 1035.8,928.8 1036.9,927 1038,923.6 1039.1,935.2 1040.2,949.5 1041.3,935.6 1042.4,947.1 1043.6,941.5 1044.7,925.8 1045.8,928.1 1046.9,930.8 1048,927.2 1049.1,928.8 1050.2,930.1 1051.4,946.9 1052.5,938.6 1053.6,925.8 1054.7,923.7 1055.8,936 1056.9,941.3 1058,953.9 1059.2,950.8 1060.3,930.8 1061.4,934.5 1062.5,939.6 1063.6,933.9 1064.7,934.6 1065.9,941.9 1067,933.3 1068.1,938.8 1069.2,936.5 1070.3,921.4 1071.4,932.2 1072.5,939.5 1073.7,931 1074.8,945.6 1075.9,943 1077,937.1 1078.1,936.7 1079.2,935.9 1080.3,934.6 1081.5,938.4 1082.6,943.1 1083.7,951.7 1084.8,960.4 1085.9,945.4 1087,950.7 1088.1,937.7 1089.3,933.9 1090.4,928.3 1091.5,929.9 1092.6,935.3 1093.7,931.6 1094.8,936.1 1095.9,942.7 1097.1,924.1 1098.2,934.5 1099.3,923 1100.4,923.1 1101.5,935.9 1102.6,933.1 1103.7,922.3 1104.9,935.8 1106,936.3 1107.1,943.7 1108.2,943.8 1109.3,928.4 1110.4,928.4 1111.5,941.4 1112.7,936 1113.8,928.1 1114.9,930.9 1116,932.1 1117.1,943.3 1118.2,928.3 1119.3,933.4 1120.5,933 1121.6,923 1122.7,924.4 1123.8,939 1124.9,941.7 1126,924.9 1127.1,926.8 1128.3,928.9 1129.4,936.2 1130.5,940.3 1131.6,937.7 1132.7,927.1 1133.8,933.7 1135,932.7 1136.1,932.9 1137.2,941.2 1138.3,932.5 1139.4,921.8 1140.5,924.4 1141.6,928 1142.8,934.1 1143.9,930.3 1145,932.5 1146.1,936.6 1147.2,934.8 1148.3,927.2 1149.4,931.5 1150.6,932.7 1151.7,939 1152.8,932.2 1153.9,934.9 1155,939.3 1156.1,924 1157.2,923.6 1158.4,924.5 1159.5,933.4 1160.6,939.9 1161.7,928.6 1162.8,935 1163.9,922.5 1165,943.5 1166.2,942.5 1167.3,935.6 1168.4,925.9 1169.5,845 1170.6,852.6 1171.7,853.6 1172.8,866.1 1174,865.7 1175.1,877.2 1176.2,877.9 1177.3,881 1178.4,894.2 1179.5,893.8 1180.6,886.5 1181.8,884.5 1182.9,887.1 1184,889.8 1185.1,887.6 1186.2,891.7 1187.3,892.7 1188.4,895.9 1189.6,893.6 1190.7,893.3 1191.8,882.7 1192.9,890.4 1194,887.3 1195.1,886.2 1196.2,891.4 1197.4,888 1198.5,899.3 1199.6,894.3 1200.7,890 1201.8,900.7 1202.9,899.4 1204,890.8 1205.2,893.1 1206.3,896.9 1207.4,895.3 1208.5,895.5 1209.6,890.9 1210.7,890.5 1211.9,893.1 1213,895.3 1214.1,893.7 1215.2,888.1 1216.3,890 1217.4,889.5 1218.5,892.3 1219.7,897.3 1220.8,896.7 1221.9,891.5 1223,892 1224.1,895.8 1225.2,899.6 1226.3,894.4 1227.5,894.4 1228.6,894.5 1229.7,894.5 1230.8,892.2 1231.9,890.2 1233,876.2 1234.1,860.5 1235.3,873.8 1236.4,886.6 1237.5,892.5 1238.6,892.8 1239.7,890.9 1240.8,893.3 1241.9,890.9 1243.1,887.9 1244.2,894.2 1245.3,899.7 1246.4,890.4 1247.5,891.9 1248.6,889.9 1249.7,896.7 1250.9,887.5 1252,888.4 1253.1,891.9 1254.2,893.7 1255.3,892.6 1256.4,893.3 1257.5,893.9 1258.7,897.2 1259.8,889.4 1260.9,891.8 1262,892.2 1263.1,892.2 1264.2,901.2 1265.3,893.3 1266.5,894.1 1267.6,894.2 1268.7,892.9 1269.8,896.3 1270.9,890.7 1272,894.7 1273.1,896.6 1274.3,897 1275.4,893.4 1276.5,890.2 1277.6,894.1 1278.7,898.7 1279.8,890.6 1281,896 1282.1,889.3 1283.2,891.9 1284.3,895 1285.4,895.7 1286.5,891.9 1287.6,889.2 1288.8,892.4 1289.9,889.1 1291,883.9 1292.1,890.8 1293.2,896.4 1294.3,897.7 1295.4,899.3 1296.6,897 1297.7,896.7 1298.8,898.8 1299.9,892.6 1301,902.3 1302.1,900.4 1303.2,887.6 1304.4,887.3 1305.5,889.2 1306.6,890 1307.7,885.4 1308.8,888.5 1309.9,891.2 1311,896.8 1312.2,894.2 1313.3,895.8 1314.4,896.2 1315.5,896.4 1316.6,894 1317.7,894.3 1318.8,890 1320,896.8 1321.1,894.5 1322.2,886.4 1323.3,890.7 1324.4,887.7 1325.5,887 1326.6,886.1 1327.8,888 1328.9,896.4 1330,894.8 1331.1,894.7 1332.2,899 1333.3,896.3 1334.4,898.4 1335.6,900.5 1336.7,894.3 1337.8,893.3 1338.9,895.4 1340,897 1341.1,896 1342.2,895.1 1343.4,894.9 1344.5,893.6 1345.6,894.6 1346.7,891.8 1347.8,890.5 1348.9,890.7 1350,894.5 1351.2,895.5 1352.3,891.9 1353.4,893.2 1354.5,893 1355.6,902 1356.7,905.4 1357.9,895.3 1359,892.3 1360.1,887.4 1361.2,888.5 1362.3,890.6 1363.4,892 1364.5,897.7 1365.7,891 1366.8,894.4 1367.9,891.4 1369,891.6 1370.1,891.4 1371.2,889 1372.3,893.4 1373.5,894.3 1374.6,896.3 1375.7,895.2 1376.8,887.3 1377.9,892.4 1379,888.2 1380.1,888.3 1381.3,888.7 1382.4,888.5 1383.5,895.2 1384.6,892.1 1385.7,886.7 1386.8,893.4 1387.9,893.1 1389.1,895.4 1390.2,892.3 1391.3,896.6 1392.4,887.9 1393.5,892.7 1394.6,898.4 1395.7,887.8 1396.9,887.7 1398,889.3 1399.1,889.7 1400.2,893.1 1401.3,893.6 1402.4,890.3 1403.5,888.6 1404.7,888 1405.8,890.5 1406.9,893.8 1408,940 1409.1,935.2 1410.2,932.6 1411.3,938.3 1412.5,940.6 1413.6,934.9 1414.7,935.1 1415.8,935.3 1416.9,942.7 1418,941.5 1419.1,941.6 1420.3,939 1421.4,945.2 1422.5,936.2 1423.6,937 1424.7,936.8 1425.8,942.7 1426.9,940.2 1428.1,934.4 1429.2,943.4 1430.3,939.2 1431.4,936.5 1432.5,940.8 1433.6,936.5 1434.8,939.5 1435.9,934.6 1437,935.7 1438.1,937.2 1439.2,931.1 1440.3,933.6 1441.4,932.6 1442.6,941.4 1443.7,942.1 1444.8,936.9 1445.9,935 1447,938 1448.1,935.8 1449.2,941.9 1450.4,939.1 1451.5,943.3 1452.6,939 1453.7,940.8 1454.8,941.9 1455.9,939.7 1457,932.5 1458.2,940.8 1459.3,941.7 1460.4,935.9 1461.5,939.6 1462.6,932.7 1463.7,936.3 1464.8,937.9 1466,937.3 1467.1,932.1 1468.2,934.5 1469.3,935.8 1470.4,937.1 1471.5,944.2 1472.6,943.8 1473.8,935 1474.9,934.8 1476,935.9 1477.1,935.7 1478.2,940 1479.3,938.1 1480.4,942 1481.6,938.5 1482.7,941.5 1483.8,940.5 1484.9,937.8 1486,939.8 1487.1,936.9 1488.2,936.7 1489.4,937 1490.5,933.5 1491.6,942.8 1492.7,946 1493.8,938.8 1494.9,935.5 1496,930.5 1497.2,933.7 1498.3,934.3 1499.4,940.9 1500.5,936.8 1501.6,935.9 1502.7,941.9 1503.8,943.2 1505,940.7 1506.1,938.4 1507.2,949.7 1508.3,941.9 1509.4,939 1510.5,939.7 1511.7,938.2 1512.8,937.1 1513.9,942.1 1515,938.4 1516.1,939.7 1517.2,942.7 1518.3,939.3 1519.5,933.6 1520.6,942.8 1521.7,946.2 1522.8,947.2 1523.9,934.2 1525,938.5 1526.1,939.1 1527.3,941.9 1528.4,943.3 1529.5,947.8 1530.6,941 1531.7,938.6 1532.8,946.2 1533.9,945 1535.1,943.5 1536.2,940.5 1537.3,938.5 1538.4,934.7 1539.5,932.7 1540.6,933.2 1541.7,932.3 1542.9,941.3 1544,941.7 1545.1,935.6 1546.2,936.9 1547.3,938.3 1548.4,946.1 1549.5,948 1550.7,939 1551.8,937.7 1552.9,939.7 1554,940.7 1555.1,945.9 1556.2,939.7 1557.3,935.4 1558.5,931.9 1559.6,936.7 1560.7,939.1 1561.8,943.1 1562.9,935.7 1564,931.7 1565.1,939.1 1566.3,938 1567.4,938.4 1568.5,940.9 1569.6,948.8 1570.7,943.3 1571.8,938 1572.9,944 1574.1,943.6 1575.2,952.5" fill="none" stroke="#3747a6" stroke-width="1.3" stroke-linejoin="round" clip-path="url(#cg2)"/>
<rect x="1146.7" y="684.9" width="267.2" height="265.3" fill="none" stroke="#231f20" stroke-width="1.4"/>
<path d="M1146.7,817.9H1413.9" stroke="#231f20" stroke-width="1.6"/>
<path d="M1146.7,697.9h-3.8 M1146.7,724.5h-3.8 M1146.7,751h-3.8 M1146.7,777.6h-3.8 M1146.7,804.2h-3.8 M1146.7,850.8h-3.8 M1146.7,894.9h-3.8 M1146.7,939h-3.8 M1146.7,950.2h-3.8" stroke="#231f20" stroke-width="1.3"/>
<path d="M1169.5,950.2v5 M1281,950.2v5 M1392.4,950.2v5" stroke="#231f20" stroke-width="1.3"/>
<path d="M1169.5,817.9v3 M1281,817.9v3 M1392.4,817.9v3" stroke="#231f20" stroke-width="1.3"/>
<text x="1118.8" y="707">8</text>
<text x="1118.8" y="735">6</text>
<text x="1118.3" y="761.9">4</text>
<text x="1119" y="788.5">2</text>
<text x="1118.7" y="816.2">0</text>
<text x="1092.1" y="859.6">0.8</text>
<text x="1091.6" y="906.1">0.4</text>
<text x="1092" y="949.2">0.0</text>
<text x="1151.1" y="982.5">10</text>
<text x="1262.6" y="982.5">15</text>
<text x="1374.4" y="982.5">20</text>
<text x="1229.4" y="1015.8" textLength="102.8" lengthAdjust="spacingAndGlyphs" font-size="32.5">Time, s</text>
<text x="1143" y="679.7" textLength="85.4" lengthAdjust="spacingAndGlyphs" font-size="32.5">PRE2</text>
<text x="1061" y="679.5" font-weight="bold" textLength="25.4" lengthAdjust="spacingAndGlyphs" font-size="31">g</text>
<text transform="translate(1045,772.5) rotate(-90)" x="-2.9" textLength="41.9" lengthAdjust="spacingAndGlyphs">FI,</text>
<text transform="translate(1084.4,819.8) rotate(-90)" x="-1.3">arb. units</text>
<text transform="translate(1086,924.8) rotate(-90)" x="-2.7" textLength="84.6" lengthAdjust="spacingAndGlyphs">FRET</text>
<text x="1444.3" y="728.5" textLength="44.2" lengthAdjust="spacingAndGlyphs" fill="#ed1c24" font-size="32.5">RB</text>
<text x="1441.4" y="754.9" textLength="50.1" lengthAdjust="spacingAndGlyphs" fill="#ed1c24" font-size="32.5">A/A</text>
<text x="1442.1" y="783.9" textLength="50.3" lengthAdjust="spacingAndGlyphs" fill="#ed1c24" font-size="32.5">A/P</text>
<text x="1431.9" y="820.4" textLength="62.8" lengthAdjust="spacingAndGlyphs" fill="#ed1c24" font-size="32.5">A/P*</text>
<text x="1442.8" y="854.2" font-size="32.5">RB</text>
<text x="1440.7" y="883.2" textLength="50.1" lengthAdjust="spacingAndGlyphs" font-size="32.5">A/A</text>
<text x="1441.4" y="912.3" textLength="51" lengthAdjust="spacingAndGlyphs" font-size="32.5">A/P</text>
<text x="1431.3" y="951.5" textLength="62.7" lengthAdjust="spacingAndGlyphs" font-size="32.5">A/P*</text>
<path d="M1419.2,720.8H1440.8M1440.8,744.1L1419.2,739.3L1440.8,777.8M1419.2,763L1428,802.8" stroke="#ed1c24" stroke-width="1.2" fill="none"/>
<path d="M1418.5,845.7H1440.1M1440.1,872.4L1418.5,867.7L1440.1,905.5M1418.5,894L1427.3,934.6" stroke="#231f20" stroke-width="1.2" fill="none"/>
<path d="M70.7,1778.4H969.7" stroke="#231f20" stroke-width="1.3" stroke-dasharray="3.2 3.2"/>
<path d="M70.7,1799.1H969.7" stroke="#231f20" stroke-width="1.3" stroke-dasharray="3.2 3.2"/>
<path d="M70.7,1819.1H969.7" stroke="#231f20" stroke-width="1.3" stroke-dasharray="3.2 3.2"/>
<path d="M70.7,1835.8H969.7" stroke="#231f20" stroke-width="1.3" stroke-dasharray="3.2 3.2"/>
<path d="M70.7,1915.1H969.7" stroke="#231f20" stroke-width="1.3" stroke-dasharray="3.2 3.2"/>
<path d="M66.8,1852.6 67.5,1840.7 68.2,1859.2 68.9,1839.4 69.6,1843.1 70.2,1848.8 70.9,1849.8 71.6,1851 72.3,1843.7 73,1831.6 73.7,1825.8 74.4,1823.8 75.1,1840 75.8,1845.2 76.4,1823.5 77.1,1818.8 77.8,1807.5 78.5,1809.8 79.2,1826.9 79.9,1816.2 80.6,1816.4 81.3,1819.1 82,1827.5 82.7,1824.3 83.3,1823.7 84,1813.9 84.7,1816.5 85.4,1806.6 86.1,1820.2 86.8,1816.4 87.5,1814.6 88.2,1824 88.9,1830.1 89.5,1816.2 90.2,1814.3 90.9,1818.6 91.6,1816.2 92.3,1823.1 93,1819.1 93.7,1823.7 94.4,1819.7 95.1,1812.1 95.7,1818.9 96.4,1812.7 97.1,1824.3 97.8,1823.3 98.5,1831 99.2,1824.6 99.9,1820.7 100.6,1821.1 101.3,1821.8 101.9,1810.1 102.6,1804.8 103.3,1822.3 104,1811.5 104.7,1828.7 105.4,1828.2 106.1,1823.8 106.8,1819.9 107.5,1827 108.2,1827.4 108.8,1821.5 109.5,1824.9 110.2,1825.9 110.9,1816.5 111.6,1810.7 112.3,1815.8 113,1817.2 113.7,1818.1 114.4,1821.6 115,1823.4 115.7,1828.1 116.4,1817.3 117.1,1818.5 117.8,1819.3 118.5,1817.1 119.2,1813.8 119.9,1805.8 120.6,1815.2 121.2,1819.9 121.9,1817.2 122.6,1824 123.3,1810.9 124,1808.2 124.7,1808.8 125.4,1815.1 126.1,1811.2 126.8,1807.3 127.4,1809.8 128.1,1816.6 128.8,1829.8 129.5,1815.4 130.2,1819.4 130.9,1824.6 131.6,1813.7 132.3,1813.5 133,1826.7 133.7,1824.7 134.3,1835.5 135,1849 135.7,1880.8 136.4,1862.5 137.1,1835.7 137.8,1811.2 138.5,1822 139.2,1840.9 139.9,1836.9 140.5,1823.1 141.2,1813.4 141.9,1802.7 142.6,1808.3 143.3,1819.5 144,1811.4 144.7,1814.8 145.4,1817.5 146.1,1817 146.7,1807.4 147.4,1819.7 148.1,1825.6 148.8,1820.7 149.5,1818.8 150.2,1823.6 150.9,1825.9 151.6,1817.5 152.3,1807 152.9,1807.4 153.6,1807.7 154.3,1803.7 155,1826.1 155.7,1831.5 156.4,1827.7 157.1,1829.8 157.8,1829 158.5,1820.8 159.2,1827.6 159.8,1824.1 160.5,1834.5 161.2,1830.7 161.9,1811.9 162.6,1818.4 163.3,1814.6 164,1810.1 164.7,1817.3 165.4,1812.1 166,1812.8 166.7,1809.4 167.4,1818 168.1,1827.4 168.8,1828 169.5,1824.8 170.2,1815.3 170.9,1817 171.6,1819.2 172.2,1818.4 172.9,1808.5 173.6,1817 174.3,1804.8 175,1820.3 175.7,1821.8 176.4,1811.6 177.1,1810 177.8,1819.6 178.5,1817.8 179.1,1821.6 179.8,1811.4 180.5,1809.7 181.2,1818.3 181.9,1813.4 182.6,1817.2 183.3,1816.4 184,1815.1 184.7,1819.2 185.3,1813.5 186,1810.9 186.7,1810.1 187.4,1804.7 188.1,1812.8 188.8,1825.1 189.5,1822.5 190.2,1816.3 190.9,1815.2 191.5,1810.6 192.2,1807 192.9,1812.4 193.6,1814.5 194.3,1821.9 195,1809.8 195.7,1814.5 196.4,1822.5 197.1,1826 197.7,1822.1 198.4,1805.9 199.1,1805.2 199.8,1823.2 200.5,1818.8 201.2,1814.1 201.9,1809.5 202.6,1809.7 203.3,1817.1 204,1812.2 204.6,1817.4 205.3,1832.1 206,1826.5 206.7,1824.1 207.4,1810.9 208.1,1801.8 208.8,1815 209.5,1811.1 210.2,1810.2 210.8,1821.1 211.5,1830 212.2,1818.9 212.9,1812.7 213.6,1815.7 214.3,1832.5 215,1819.3 215.7,1818 216.4,1819.8 217,1816.2 217.7,1820.7 218.4,1809.9 219.1,1809.6 219.8,1813.7 220.5,1809 221.2,1809.4 221.9,1820.6 222.6,1814.8 223.2,1814.8 223.9,1824.3 224.6,1819.9 225.3,1810.1 226,1813.9 226.7,1800.3 227.4,1792.6 228.1,1804.4 228.8,1802.7 229.5,1791.2 230.1,1803.9 230.8,1813.2 231.5,1813.3 232.2,1820.3 232.9,1822.9 233.6,1812.3 234.3,1812.7 235,1807.8 235.7,1804 236.3,1811.8 237,1810.6 237.7,1810.7 238.4,1813.6 239.1,1816 239.8,1808.3 240.5,1808.6 241.2,1805.1 241.9,1798.7 242.5,1796 243.2,1810.7 243.9,1814.6 244.6,1811.7 245.3,1807.6 246,1799.9 246.7,1810.9 247.4,1811.3 248.1,1806.3 248.7,1797 249.4,1792.1 250.1,1807.8 250.8,1808.2 251.5,1812.7 252.2,1802.1 252.9,1800.8 253.6,1806.3 254.3,1810.3 255,1805.1 255.6,1797.8 256.3,1807.9 257,1808.6 257.7,1805.6 258.4,1805 259.1,1802.4 259.8,1811.2 260.5,1811.7 261.2,1823 261.8,1811.5 262.5,1799.2 263.2,1817.6 263.9,1814.3 264.6,1801.5 265.3,1804.1 266,1818.1 266.7,1800.9 267.4,1813.2 268,1797.3 268.7,1805.5 269.4,1809.6 270.1,1805.7 270.8,1804.5 271.5,1799.3 272.2,1797.9 272.9,1802.1 273.6,1792.8 274.2,1793.6 274.9,1797.1 275.6,1799.5 276.3,1802.2 277,1803 277.7,1797.8 278.4,1797.1 279.1,1800 279.8,1793.8 280.5,1800.8 281.1,1798.4 281.8,1794.2 282.5,1805.7 283.2,1804.4 283.9,1789.5 284.6,1803 285.3,1792.6 286,1804.9 286.7,1798.8 287.3,1807.2 288,1807.2 288.7,1805.3 289.4,1805.8 290.1,1794.3 290.8,1773.2 291.5,1771.6 292.2,1775.9 292.9,1766.9 293.5,1767.8 294.2,1773.4 294.9,1785.8 295.6,1777.8 296.3,1774.9 297,1777.8 297.7,1774.4 298.4,1772.5 299.1,1779.7 299.7,1776.1 300.4,1776.3 301.1,1776.6 301.8,1781.6 302.5,1784.4 303.2,1781.2 303.9,1770.1 304.6,1759 305.3,1774.6 306,1785.9 306.6,1785.1 307.3,1788.4 308,1786.6 308.7,1779.8 309.4,1786.8 310.1,1778.3 310.8,1773.4 311.5,1766.1 312.2,1760.9 312.8,1764.9 313.5,1757 314.2,1774.4 314.9,1775.6 315.6,1776.8 316.3,1775.3 317,1770.3 317.7,1778.3 318.4,1766.3 319,1764.7 319.7,1771 320.4,1772.5 321.1,1783.8 321.8,1799.6 322.5,1788 323.2,1780.4 323.9,1777.9 324.6,1786.8 325.2,1785.5 325.9,1768.5 326.6,1769.4 327.3,1770.5 328,1777.8 328.7,1772.9 329.4,1766.9 330.1,1768.3 330.8,1777.5 331.5,1776.1 332.1,1784.1 332.8,1783 333.5,1775.9 334.2,1781.4 334.9,1781.3 335.6,1768.9 336.3,1775.7 337,1771.5 337.7,1777.7 338.3,1786.4 339,1781.4 339.7,1782 340.4,1794.5 341.1,1793.5 341.8,1787.2 342.5,1770.7 343.2,1779.2 343.9,1778.6 344.5,1773.4 345.2,1773.8 345.9,1778.6 346.6,1765.4 347.3,1762.8 348,1789.6 348.7,1775.2 349.4,1772.5 350.1,1768.2 350.8,1773 351.4,1769.5 352.1,1759.9 352.8,1757.6 353.5,1756.1 354.2,1760.9 354.9,1763.8 355.6,1764.7 356.3,1780.3 357,1761.5 357.6,1769 358.3,1771.3 359,1773.7 359.7,1823.7 360.4,1842 361.1,1831.8 361.8,1838.7 362.5,1839.2 363.2,1845.7 363.8,1847.1 364.5,1830.5 365.2,1831.7 365.9,1829.2 366.6,1828.5 367.3,1835.5 368,1834.7 368.7,1794.2 369.4,1788.9 370,1801 370.7,1792.4 371.4,1779.4 372.1,1772.1 372.8,1769.7 373.5,1773.6 374.2,1786.4 374.9,1777.4 375.6,1776.8 376.3,1778.5 376.9,1790.2 377.6,1783.1 378.3,1772.8 379,1773.7 379.7,1781.3 380.4,1778.7 381.1,1781.8 381.8,1781.8 382.5,1776.9 383.1,1778.8 383.8,1823 384.5,1821.6 385.2,1829.9 385.9,1834.4 386.6,1825.1 387.3,1829.3 388,1822.4 388.7,1837.3 389.3,1820.6 390,1823.5 390.7,1811.5 391.4,1837.2 392.1,1841.5 392.8,1820.3 393.5,1821 394.2,1820 394.9,1820.9 395.5,1820.9 396.2,1818 396.9,1828.2 397.6,1825.9 398.3,1814 399,1817.5 399.7,1824.7 400.4,1822.2 401.1,1814 401.8,1819.9 402.4,1822 403.1,1783.8 403.8,1779.3 404.5,1772.8 405.2,1781.9 405.9,1782 406.6,1776.7 407.3,1796.3 408,1788.9 408.6,1783.4 409.3,1785.2 410,1791.4 410.7,1783.2 411.4,1774.9 412.1,1781.3 412.8,1786.7 413.5,1786.8 414.2,1820.9 414.8,1818 415.5,1825.7 416.2,1837.2 416.9,1843.1 417.6,1838.5 418.3,1836.5 419,1831.5 419.7,1839.8 420.4,1778 421,1771.4 421.7,1785.2 422.4,1761.2 423.1,1764.3 423.8,1765.9 424.5,1780.1 425.2,1783.7 425.9,1770 426.6,1765.4 427.3,1788.2 427.9,1770.7 428.6,1766.8 429.3,1766 430,1778.6 430.7,1773.4 431.4,1777.7 432.1,1770.8 432.8,1758.5 433.5,1762.4 434.1,1761.2 434.8,1770.6 435.5,1779.6 436.2,1775.4 436.9,1766.2 437.6,1759.2 438.3,1767.8 439,1768.9 439.7,1774.1 440.3,1786 441,1777.3 441.7,1771.9 442.4,1775.4 443.1,1775 443.8,1786.9 444.5,1777.8 445.2,1764.3 445.9,1769.3 446.5,1766.7 447.2,1766.8 447.9,1775.8 448.6,1772.1 449.3,1778.3 450,1753 450.7,1763 451.4,1776.6 452.1,1785.4 452.8,1766.3 453.4,1765.2 454.1,1766.4 454.8,1779.9 455.5,1779.4 456.2,1784 456.9,1768.6 457.6,1774.5 458.3,1758.7 459,1762.8 459.6,1770.6 460.3,1761.4 461,1783.3 461.7,1782.6 462.4,1779.1 463.1,1766.8 463.8,1761.7 464.5,1765.1 465.2,1782.3 465.8,1779.8 466.5,1783.1 467.2,1766.9 467.9,1773 468.6,1767.8 469.3,1756.2 470,1765.9 470.7,1764.1 471.4,1771.4 472,1771.1 472.7,1770.9 473.4,1771.1 474.1,1770.7 474.8,1774 475.5,1758.5 476.2,1771 476.9,1769.3 477.6,1772.7 478.3,1788.6 478.9,1770.9 479.6,1769.4 480.3,1780.7 481,1780.4 481.7,1786.8 482.4,1775.3 483.1,1761.1 483.8,1758 484.5,1775.5 485.1,1785.6 485.8,1772.9 486.5,1759.2 487.2,1765.9 487.9,1761.1 488.6,1777.4 489.3,1774.4 490,1769 490.7,1773.2 491.3,1773.5 492,1766.8 492.7,1773.9 493.4,1779.5 494.1,1768.7 494.8,1768.2 495.5,1777.2 496.2,1770.1 496.9,1774.7 497.6,1767.5 498.2,1769.5 498.9,1772.4 499.6,1777.1 500.3,1771.7 501,1771.4 501.7,1756.8 502.4,1765.4 503.1,1778.5 503.8,1758.3 504.4,1780.8 505.1,1762.3 505.8,1773.6 506.5,1761.4 507.2,1768.2 507.9,1765.5 508.6,1768.2 509.3,1770.3 510,1766.4 510.6,1773.6 511.3,1768 512,1777.4 512.7,1778.6 513.4,1777.4 514.1,1773.8 514.8,1762.6 515.5,1773.4 516.2,1777.9 516.8,1781.6 517.5,1777.7 518.2,1769 518.9,1775.2 519.6,1774.3 520.3,1776.1 521,1771.8 521.7,1785.8 522.4,1771.9 523.1,1763.8 523.7,1773.7 524.4,1772 525.1,1777.5 525.8,1765.5 526.5,1763.4 527.2,1745.6 527.9,1761.7 528.6,1773 529.3,1774.6 529.9,1781 530.6,1772.6 531.3,1768.5 532,1762.2 532.7,1763.6 533.4,1770.2 534.1,1760.1 534.8,1761.4 535.5,1760 536.1,1774.3 536.8,1777.5 537.5,1777.3 538.2,1775.4 538.9,1787.9 539.6,1767.7 540.3,1770.1 541,1763.1 541.7,1760.9 542.3,1754.6 543,1758.9 543.7,1762 544.4,1771.6 545.1,1768.9 545.8,1755.7 546.5,1776.6 547.2,1777 547.9,1769.9 548.6,1757 549.2,1772 549.9,1773.1 550.6,1769.1 551.3,1745.4 552,1765.5 552.7,1768.2 553.4,1762.6 554.1,1771.1 554.8,1766.3 555.4,1764.2 556.1,1769.1 556.8,1765.7 557.5,1754.1 558.2,1761.3 558.9,1768.3 559.6,1773.4 560.3,1768.2 561,1760.1 561.6,1763.4 562.3,1763.5 563,1746.1 563.7,1764.5 564.4,1774.2 565.1,1768 565.8,1769.2 566.5,1763.7 567.2,1756.6 567.8,1760.3 568.5,1765.9 569.2,1762.8 569.9,1761.8 570.6,1765.6 571.3,1770.8 572,1763.5 572.7,1767.1 573.4,1775.6 574.1,1765.3 574.7,1770.2 575.4,1914.4 576.1,1914.4 576.8,1914.4 577.5,1914.4 578.2,1914.4 578.9,1917.1 579.6,1905.4 580.3,1890.9 580.9,1902.8 581.6,1892 582.3,1888 583,1882.8 583.7,1899.4 584.4,1902.6 585.1,1886.3 585.8,1892.1 586.5,1893.6 587.1,1888.5 587.8,1886.8 588.5,1894.3 589.2,1894.4 589.9,1887.7 590.6,1887.4 591.3,1894.2 592,1881.7 592.7,1879.4 593.3,1886.8 594,1891.1 594.7,1881.4 595.4,1901.9 596.1,1891 596.8,1891.4 597.5,1891.8 598.2,1880 598.9,1879.1 599.6,1857.9 600.2,1873.3 600.9,1874.8 601.6,1888 602.3,1875 603,1852.1 603.7,1848.8 604.4,1839.5 605.1,1836.6 605.8,1840.6 606.4,1836.3 607.1,1847.4 607.8,1855.5 608.5,1863.1 609.2,1850.7 609.9,1835.3 610.6,1846.1 611.3,1848 612,1851.1 612.6,1846.4 613.3,1861.7 614,1847.9 614.7,1840.8 615.4,1851 616.1,1857.5 616.8,1859.2 617.5,1849.2 618.2,1838.6 618.8,1852.4 619.5,1862.1 620.2,1853.7 620.9,1849.2 621.6,1844.1 622.3,1852.4 623,1845.2 623.7,1839.6 624.4,1857.7 625.1,1855 625.7,1847.2 626.4,1842.9 627.1,1851 627.8,1864.6 628.5,1861.4 629.2,1865 629.9,1859.7 630.6,1846.1 631.3,1853 631.9,1850.5 632.6,1859.1 633.3,1846.6 634,1888.7 634.7,1894.4 635.4,1875.1 636.1,1878.8 636.8,1877.6 637.5,1897.1 638.1,1879.5 638.8,1870.2 639.5,1880.4 640.2,1885.6 640.9,1889.8 641.6,1879.2 642.3,1894.6 643,1886.7 643.7,1871.1 644.3,1878.7 645,1868.1 645.7,1878.3 646.4,1884.9 647.1,1878.4 647.8,1847.7 648.5,1848.4 649.2,1852.4 649.9,1859.9 650.6,1856.3 651.2,1847.3 651.9,1840.9 652.6,1846.9 653.3,1846.5 654,1855.5 654.7,1889 655.4,1888 656.1,1887.5 656.8,1885.8 657.4,1883 658.1,1875.4 658.8,1875.7 659.5,1842.2 660.2,1855.9 660.9,1858.3 661.6,1853 662.3,1850.4 663,1844.7 663.6,1860.9 664.3,1853 665,1850.2 665.7,1852.5 666.4,1856.8 667.1,1851 667.8,1851.5 668.5,1847.1 669.2,1863.7 669.9,1862.1 670.5,1843.5 671.2,1845.6 671.9,1853.9 672.6,1853.8 673.3,1896.5 674,1879.2 674.7,1872.3 675.4,1873.5 676.1,1871.6 676.7,1876.3 677.4,1871.9 678.1,1875.2 678.8,1870.7 679.5,1879.6 680.2,1883.6 680.9,1888.7 681.6,1890 682.3,1898.7 682.9,1880.7 683.6,1873 684.3,1874.8 685,1873.6 685.7,1878.8 686.4,1878.9 687.1,1892.6 687.8,1888.6 688.5,1899.9 689.1,1896 689.8,1891.6 690.5,1854.5 691.2,1859.4 691.9,1844 692.6,1840.1 693.3,1849.7 694,1894.2 694.7,1892.3 695.4,1881.1 696,1897.6 696.7,1884.2 697.4,1885.7 698.1,1888.3 698.8,1878.9 699.5,1882.5 700.2,1886.7 700.9,1876.6 701.6,1893.5 702.2,1876.6 702.9,1888 703.6,1892.4 704.3,1876.3 705,1857.1 705.7,1864.8 706.4,1883.2 707.1,1900.4 707.8,1889.5 708.4,1886.8 709.1,1890.1 709.8,1888.1 710.5,1891.3 711.2,1881.4 711.9,1884.2 712.6,1886.3 713.3,1901.8 714,1889.9 714.6,1897.8 715.3,1884.8 716,1885.3 716.7,1900.2 717.4,1893.7 718.1,1897.4 718.8,1886 719.5,1882.2 720.2,1876.2 720.9,1887.3 721.5,1847 722.2,1858.8 722.9,1851 723.6,1852 724.3,1849 725,1885.1 725.7,1877.7 726.4,1884.8 727.1,1886.5 727.7,1875.5 728.4,1846.5 729.1,1852.4 729.8,1857.6 730.5,1852.9 731.2,1851.3 731.9,1845.7 732.6,1849.5 733.3,1844.7 733.9,1849.8 734.6,1838.1 735.3,1881 736,1878.6 736.7,1879.8 737.4,1892.9 738.1,1880.8 738.8,1886.6 739.5,1879.1 740.1,1897.6 740.8,1904 741.5,1907.6 742.2,1907.6 742.9,1897.2 743.6,1890.5 744.3,1859.3 745,1856.3 745.7,1857.7 746.4,1847.7 747,1843.9 747.7,1845.5 748.4,1843.5 749.1,1834.9 749.8,1839.3 750.5,1857 751.2,1854.5 751.9,1854.1 752.6,1845.8 753.2,1844.9 753.9,1841.7 754.6,1858.2 755.3,1843.1 756,1848.5 756.7,1842.5 757.4,1843.6 758.1,1854.1 758.8,1857.9 759.4,1848.9 760.1,1841.4 760.8,1853.5 761.5,1860 762.2,1869.4 762.9,1864.9 763.6,1861.8 764.3,1857.2 765,1848.8 765.6,1853.5 766.3,1860 767,1857.2 767.7,1853.9 768.4,1850.9 769.1,1849.9 769.8,1851.7 770.5,1847.1 771.2,1851.5 771.9,1858.8 772.5,1855.3 773.2,1839 773.9,1852.1 774.6,1833.3 775.3,1847.6 776,1844.3 776.7,1860.1 777.4,1855.3 778.1,1842.1 778.7,1856 779.4,1858.2 780.1,1886.9 780.8,1884 781.5,1896.3 782.2,1899.5 782.9,1889.5 783.6,1885.4 784.3,1880.6 784.9,1885.2 785.6,1881.3 786.3,1875.4 787,1890.9 787.7,1880.7 788.4,1878.5 789.1,1873.8 789.8,1884.1 790.5,1850.2 791.1,1850 791.8,1854 792.5,1844.7 793.2,1846.7 793.9,1856.4 794.6,1851.1 795.3,1858.7 796,1865.4 796.7,1864.2 797.4,1856 798,1852 798.7,1852.1 799.4,1847.3 800.1,1835.4 800.8,1852.9 801.5,1848.5 802.2,1847.9 802.9,1858.3 803.6,1857.5 804.2,1852 804.9,1851 805.6,1857 806.3,1847.7 807,1847.8 807.7,1844.9 808.4,1836.9 809.1,1854.5 809.8,1845.1 810.4,1845 811.1,1890.3 811.8,1888.3 812.5,1890.1 813.2,1896.3 813.9,1884.4 814.6,1855.7 815.3,1867.5 816,1851.5 816.6,1854.6 817.3,1849.7 818,1848.9 818.7,1852.3 819.4,1854.2 820.1,1906 820.8,1897.2 821.5,1898.9 822.2,1887.7 822.9,1892.5 823.5,1858.1 824.2,1853 824.9,1860.1 825.6,1859.7 826.3,1857.9 827,1850.8 827.7,1861.4 828.4,1849.5 829.1,1851.4 829.7,1854.7 830.4,1849.9 831.1,1843.2 831.8,1839.4 832.5,1853.9 833.2,1842.3 833.9,1847.2 834.6,1839.9 835.3,1854.2 835.9,1853.4 836.6,1852.7 837.3,1860.8 838,1858.2 838.7,1847.3 839.4,1841.4 840.1,1842.3 840.8,1845.5 841.5,1851.9 842.1,1836.4 842.8,1854.9 843.5,1861.2 844.2,1860.7 844.9,1853.6 845.6,1855.3 846.3,1847.1 847,1860.8 847.7,1884.4 848.4,1872.9 849,1874.7 849.7,1883.9 850.4,1889.8 851.1,1879.9 851.8,1896.2 852.5,1896.1 853.2,1902.5 853.9,1894 854.6,1876.2 855.2,1885.5 855.9,1878.3 856.6,1891.1 857.3,1892.3 858,1893 858.7,1881.5 859.4,1890.9 860.1,1893.1 860.8,1889.1 861.4,1876.4 862.1,1882 862.8,1836.4 863.5,1842.3 864.2,1849.4 864.9,1842.1 865.6,1851.7 866.3,1857.9 867,1853 867.7,1863 868.3,1864.4 869,1862.2 869.7,1855.3 870.4,1845.2 871.1,1840.4 871.8,1848.2 872.5,1848.2 873.2,1852.2 873.9,1861.7 874.5,1852.4 875.2,1856.9 875.9,1847.9 876.6,1853.7 877.3,1859.4 878,1852 878.7,1855.4 879.4,1862.3 880.1,1848.1 880.7,1847.6 881.4,1847.4 882.1,1849 882.8,1854.3 883.5,1872.6 884.2,1863.8 884.9,1859.3 885.6,1851.3 886.3,1860.6 886.9,1851.5 887.6,1851 888.3,1875.9 889,1887.5 889.7,1851.3 890.4,1849.4 891.1,1846.1 891.8,1839.7 892.5,1843 893.2,1858 893.8,1841.8 894.5,1861.7 895.2,1850.6 895.9,1841.3 896.6,1852 897.3,1851.7 898,1851.8 898.7,1859.3 899.4,1851.6 900,1858.1 900.7,1851.4 901.4,1846.7 902.1,1841.3 902.8,1837.2 903.5,1842.3 904.2,1843.9 904.9,1849.6 905.6,1850.8 906.2,1844.4 906.9,1842.6 907.6,1844.1 908.3,1848.2 909,1842.3 909.7,1855.6 910.4,1856.5 911.1,1851.5 911.8,1842.9 912.4,1856.6 913.1,1860.9 913.8,1863.6 914.5,1850.6 915.2,1844.9 915.9,1837.3 916.6,1828.9 917.3,1850.7 918,1852.1 918.7,1855.3 919.3,1896 920,1889.9 920.7,1856.2 921.4,1851.9 922.1,1853.8 922.8,1862.5 923.5,1851.2 924.2,1846.9 924.9,1852.4 925.5,1867.1 926.2,1874.2 926.9,1870.2 927.6,1855.9 928.3,1848.1 929,1849.2 929.7,1849.7 930.4,1868.8 931.1,1855.5 931.7,1857.7 932.4,1855.7 933.1,1859.8 933.8,1869 934.5,1852.7 935.2,1848.9 935.9,1857.9 936.6,1865 937.3,1861.2 937.9,1848.8 938.6,1846.2 939.3,1848.7 940,1843.5 940.7,1881 941.4,1891.2 942.1,1883.7 942.8,1885.8 943.5,1892.3 944.2,1880.6 944.8,1881.1 945.5,1894.8 946.2,1884.3 946.9,1884.2 947.6,1888.2 948.3,1890.5 949,1860.1 949.7,1865.3 950.4,1854.7 951,1849.1 951.7,1852.7 952.4,1849.9 953.1,1853.3 953.8,1854.5 954.5,1848.8 955.2,1846.6 955.9,1839 956.6,1849.6 957.2,1847.9 957.9,1851 958.6,1849.4 959.3,1919.3 960,1918 960.7,1920 961.4,1922.4 962.1,1924.1 962.8,1919.1 963.4,1915.5 964.1,1925.8 964.8,1920.1 965.5,1914.3 966.2,1921.8 966.9,1918.2 967.6,1921.6 968.3,1921.1 969,1919.5 969.7,1926.9" fill="none" stroke="#39b54a" stroke-width="1.3" stroke-linejoin="round" clip-path="url(#cj)"/>
<path d="M66.8,1912.3 67.5,1904.6 68.2,1912.7 68.9,1926.2 69.6,1915.3 70.2,1922.8 70.9,1935.2 71.6,1917 72.3,1915.7 73,1913.5 73.7,1910.7 74.4,1915 75.1,1906.2 75.8,1911.7 76.4,1916.4 77.1,1915.1 77.8,1931.4 78.5,1915.7 79.2,1927 79.9,1915.4 80.6,1916.1 81.3,1914.7 82,1921.4 82.7,1903.4 83.3,1927.9 84,1919.9 84.7,1923.7 85.4,1930.4 86.1,1908 86.8,1911.4 87.5,1894.3 88.2,1902.5 88.9,1907.2 89.5,1908 90.2,1923.2 90.9,1927.9 91.6,1907.3 92.3,1906 93,1918.1 93.7,1914.9 94.4,1913.5 95.1,1904.6 95.7,1908.9 96.4,1918.5 97.1,1909.3 97.8,1917.3 98.5,1910.8 99.2,1918.1 99.9,1940.9 100.6,1909.4 101.3,1920.5 101.9,1908.3 102.6,1907.5 103.3,1916.6 104,1924.4 104.7,1902 105.4,1908.8 106.1,1902.3 106.8,1908 107.5,1904.8 108.2,1909.6 108.8,1923.2 109.5,1923.2 110.2,1913.8 110.9,1923.7 111.6,1919.8 112.3,1916.7 113,1906.1 113.7,1898.7 114.4,1926.1 115,1914.4 115.7,1899.7 116.4,1920.8 117.1,1924.9 117.8,1907.9 118.5,1910.9 119.2,1917.6 119.9,1913.6 120.6,1908.1 121.2,1911.6 121.9,1910.2 122.6,1911.1 123.3,1909.9 124,1911 124.7,1909.5 125.4,1913.7 126.1,1904.7 126.8,1913.3 127.4,1917.5 128.1,1926.3 128.8,1923.3 129.5,1915.2 130.2,1915.4 130.9,1909.2 131.6,1921.5 132.3,1921 133,1931.6 133.7,1921.1 134.3,1908.1 135,1908.1 135.7,1915.1 136.4,1910.2 137.1,1910.4 137.8,1919.8 138.5,1923.6 139.2,1924.1 139.9,1913.2 140.5,1908.9 141.2,1909.1 141.9,1914.4 142.6,1898.7 143.3,1910.8 144,1908.9 144.7,1910.8 145.4,1904.5 146.1,1924.4 146.7,1912.7 147.4,1914.9 148.1,1914.8 148.8,1922.4 149.5,1922.2 150.2,1906.5 150.9,1904.6 151.6,1922.4 152.3,1914.3 152.9,1917.8 153.6,1906.3 154.3,1907.9 155,1905.8 155.7,1911.8 156.4,1912.8 157.1,1918.6 157.8,1927.2 158.5,1922.3 159.2,1906.5 159.8,1900.8 160.5,1916.9 161.2,1921.6 161.9,1922.2 162.6,1922.7 163.3,1926 164,1923.1 164.7,1911.5 165.4,1907.4 166,1898.5 166.7,1910.8 167.4,1930.4 168.1,1923.6 168.8,1925.6 169.5,1920.4 170.2,1922.1 170.9,1908.9 171.6,1919.4 172.2,1915.9 172.9,1900.4 173.6,1910.3 174.3,1926.5 175,1910.8 175.7,1909.6 176.4,1908.6 177.1,1907.2 177.8,1919.8 178.5,1924 179.1,1916.1 179.8,1928.5 180.5,1925.4 181.2,1908.5 181.9,1922.8 182.6,1914.2 183.3,1905.9 184,1912.4 184.7,1917.4 185.3,1904.9 186,1922.6 186.7,1903.6 187.4,1918.4 188.1,1915.4 188.8,1923.6 189.5,1925.8 190.2,1910 190.9,1912.6 191.5,1909.8 192.2,1923.5 192.9,1920 193.6,1926.1 194.3,1918.2 195,1911.9 195.7,1909.7 196.4,1908.9 197.1,1918.1 197.7,1911 198.4,1916.9 199.1,1904.4 199.8,1912.8 200.5,1904.4 201.2,1914.3 201.9,1909.2 202.6,1911.1 203.3,1925.2 204,1912.4 204.6,1921.2 205.3,1930.8 206,1918.3 206.7,1906.6 207.4,1906.2 208.1,1918.8 208.8,1929.5 209.5,1940.5 210.2,1927.5 210.8,1922.6 211.5,1918.3 212.2,1905.7 212.9,1913.5 213.6,1922.9 214.3,1926 215,1925.7 215.7,1923.3 216.4,1914.6 217,1917.1 217.7,1915.9 218.4,1914.1 219.1,1912.8 219.8,1908.8 220.5,1903.4 221.2,1919.2 221.9,1918.3 222.6,1916.6 223.2,1916.4 223.9,1908.5 224.6,1906.9 225.3,1917.3 226,1901.9 226.7,1906.5 227.4,1906.5 228.1,1916.9 228.8,1908.8 229.5,1915.3 230.1,1922.3 230.8,1915.8 231.5,1923 232.2,1925.7 232.9,1914.2 233.6,1907.9 234.3,1918 235,1907.8 235.7,1903 236.3,1901.7 237,1907.8 237.7,1914.8 238.4,1902.1 239.1,1913.7 239.8,1910.3 240.5,1904.1 241.2,1897.4 241.9,1906.7 242.5,1909.8 243.2,1908.5 243.9,1910.6 244.6,1904 245.3,1902.4 246,1896.6 246.7,1909.1 247.4,1906.5 248.1,1917.3 248.7,1918.1 249.4,1903.6 250.1,1912.9 250.8,1928.7 251.5,1922.6 252.2,1920.6 252.9,1930.5 253.6,1917.2 254.3,1908.1 255,1916.3 255.6,1906.7 256.3,1928.3 257,1912.2 257.7,1913.4 258.4,1895.6 259.1,1908.2 259.8,1912.3 260.5,1913.6 261.2,1916.5 261.8,1917.7 262.5,1909.4 263.2,1910.3 263.9,1910.4 264.6,1910.6 265.3,1918.3 266,1900 266.7,1917.7 267.4,1907.5 268,1913.2 268.7,1905.3 269.4,1913 270.1,1904.8 270.8,1907.1 271.5,1902.3 272.2,1894.4 272.9,1906.2 273.6,1910.1 274.2,1931.6 274.9,1918.8 275.6,1908 276.3,1913.9 277,1913.1 277.7,1914.7 278.4,1929.2 279.1,1911.4 279.8,1918.6 280.5,1925.8 281.1,1909.4 281.8,1909.1 282.5,1907.7 283.2,1910.7 283.9,1917.9 284.6,1907.7 285.3,1918.6 286,1913 286.7,1921.2 287.3,1924.5 288,1910.3 288.7,1918.6 289.4,1902.3 290.1,1920.4 290.8,1907 291.5,1913.8 292.2,1907.4 292.9,1906 293.5,1925.5 294.2,1912.2 294.9,1915.5 295.6,1921.4 296.3,1907.5 297,1908.7 297.7,1908.6 298.4,1900.8 299.1,1901.6 299.7,1909 300.4,1918.4 301.1,1903.2 301.8,1915.4 302.5,1926.6 303.2,1902.1 303.9,1893.4 304.6,1920.2 305.3,1912.4 306,1924.2 306.6,1911.5 307.3,1916.3 308,1925.2 308.7,1909.3 309.4,1918.9 310.1,1911.8 310.8,1918.1 311.5,1901.2 312.2,1901.1 312.8,1913.1 313.5,1930.2 314.2,1915.4 314.9,1921.3 315.6,1906.3 316.3,1898.7 317,1908.8 317.7,1904.7 318.4,1921.1 319,1911 319.7,1899.6 320.4,1920.1 321.1,1909.6 321.8,1910.3 322.5,1905.6 323.2,1910.6 323.9,1913.2 324.6,1904 325.2,1910.4 325.9,1908.9 326.6,1923 327.3,1913.3 328,1908.1 328.7,1913.1 329.4,1913.9 330.1,1929.5 330.8,1926.7 331.5,1919.7 332.1,1918 332.8,1897.8 333.5,1902.8 334.2,1919.9 334.9,1897.6 335.6,1920 336.3,1924.8 337,1924 337.7,1917.3 338.3,1894.3 339,1910 339.7,1908.3 340.4,1923.7 341.1,1920.3 341.8,1895.3 342.5,1897.8 343.2,1901.6 343.9,1897.9 344.5,1904.4 345.2,1906.6 345.9,1920.1 346.6,1927.6 347.3,1923.1 348,1919.1 348.7,1921.7 349.4,1910.3 350.1,1898 350.8,1909 351.4,1924.8 352.1,1926.9 352.8,1909.2 353.5,1905.9 354.2,1909.4 354.9,1907.2 355.6,1902.5 356.3,1909.9 357,1910 357.6,1915.3 358.3,1930 359,1917.7 359.7,1915.1 360.4,1910.9 361.1,1917.3 361.8,1911.5 362.5,1909.9 363.2,1916 363.8,1922.6 364.5,1922 365.2,1913.5 365.9,1906.7 366.6,1897 367.3,1909.5 368,1908.5 368.7,1902.4 369.4,1918.5 370,1910.1 370.7,1916.4 371.4,1917.6 372.1,1908.8 372.8,1914.2 373.5,1911.2 374.2,1922 374.9,1916.8 375.6,1921.8 376.3,1918.7 376.9,1892.1 377.6,1907.1 378.3,1913.5 379,1917 379.7,1921 380.4,1901.2 381.1,1915.7 381.8,1894.7 382.5,1909.8 383.1,1902.4 383.8,1909.4 384.5,1917.7 385.2,1916.5 385.9,1903.7 386.6,1912.1 387.3,1929.2 388,1902.9 388.7,1916.3 389.3,1917.2 390,1902.7 390.7,1924.3 391.4,1921.1 392.1,1910.7 392.8,1907.6 393.5,1907.2 394.2,1919.7 394.9,1907.8 395.5,1915.7 396.2,1912.8 396.9,1921.2 397.6,1901.6 398.3,1913.2 399,1914.2 399.7,1918.4 400.4,1911.8 401.1,1924.3 401.8,1917.7 402.4,1916.8 403.1,1901.1 403.8,1912.6 404.5,1914.9 405.2,1912.8 405.9,1904.7 406.6,1894 407.3,1903.9 408,1906.3 408.6,1897.7 409.3,1908.1 410,1908.2 410.7,1916.8 411.4,1915.6 412.1,1920.5 412.8,1897.1 413.5,1901.8 414.2,1904 414.8,1919 415.5,1914.1 416.2,1919.4 416.9,1921 417.6,1927.1 418.3,1923 419,1894 419.7,1912.7 420.4,1907.4 421,1903.5 421.7,1906.4 422.4,1904.8 423.1,1919.2 423.8,1902 424.5,1892.2 425.2,1906.6 425.9,1917.2 426.6,1921.5 427.3,1927 427.9,1912.3 428.6,1905.9 429.3,1896.8 430,1919.4 430.7,1908 431.4,1906 432.1,1913.4 432.8,1920.8 433.5,1913.2 434.1,1894.7 434.8,1918.6 435.5,1920.1 436.2,1919.9 436.9,1916.7 437.6,1905.2 438.3,1915.1 439,1933.3 439.7,1930.2 440.3,1929.4 441,1916.2 441.7,1913.1 442.4,1923.2 443.1,1910.5 443.8,1928.2 444.5,1919.7 445.2,1904.5 445.9,1924.3 446.5,1911.9 447.2,1904.5 447.9,1914.9 448.6,1912.8 449.3,1926.1 450,1914.7 450.7,1924.3 451.4,1921.8 452.1,1912.7 452.8,1916.8 453.4,1924.1 454.1,1917.4 454.8,1917.3 455.5,1921.9 456.2,1933.2 456.9,1921.6 457.6,1908.9 458.3,1917.8 459,1920 459.6,1920 460.3,1912.5 461,1926.5 461.7,1911.5 462.4,1896.1 463.1,1904.8 463.8,1910.9 464.5,1909.5 465.2,1908.7 465.8,1915.4 466.5,1915.6 467.2,1916.4 467.9,1910.4 468.6,1897.2 469.3,1907.9 470,1895.2 470.7,1915.8 471.4,1908.3 472,1918.4 472.7,1914.3 473.4,1914.9 474.1,1930.3 474.8,1921 475.5,1912.8 476.2,1911.2 476.9,1925.6 477.6,1929.7 478.3,1913.6 478.9,1922.5 479.6,1899.3 480.3,1907 481,1909.2 481.7,1914.1 482.4,1920.7 483.1,1913.8 483.8,1915.8 484.5,1901.9 485.1,1909 485.8,1910.4 486.5,1903.9 487.2,1902.7 487.9,1927.7 488.6,1901.5 489.3,1923.1 490,1925.3 490.7,1919.9 491.3,1922.5 492,1901.2 492.7,1909.9 493.4,1922.3 494.1,1919.7 494.8,1922.4 495.5,1922.3 496.2,1913.2 496.9,1909.2 497.6,1913.9 498.2,1925.1 498.9,1922.7 499.6,1908.8 500.3,1907.9 501,1914.8 501.7,1907.8 502.4,1927.9 503.1,1924 503.8,1916.7 504.4,1912.2 505.1,1904.5 505.8,1910.4 506.5,1910.3 507.2,1911.5 507.9,1922.2 508.6,1918 509.3,1903.1 510,1904.6 510.6,1913.7 511.3,1913.7 512,1899.3 512.7,1896.1 513.4,1892.7 514.1,1896.6 514.8,1909.8 515.5,1914.2 516.2,1927.5 516.8,1907.1 517.5,1901.4 518.2,1891.2 518.9,1913.4 519.6,1899 520.3,1904.5 521,1909.7 521.7,1910.1 522.4,1922.1 523.1,1916.6 523.7,1922.7 524.4,1920.3 525.1,1913.6 525.8,1917.4 526.5,1908.5 527.2,1917.8 527.9,1919.3 528.6,1919.9 529.3,1913.5 529.9,1911.2 530.6,1904.2 531.3,1913.1 532,1918.7 532.7,1912.4 533.4,1897.7 534.1,1901 534.8,1925.2 535.5,1915.7 536.1,1917.2 536.8,1915.8 537.5,1906.8 538.2,1910.6 538.9,1913 539.6,1926.4 540.3,1917.8 541,1920.6 541.7,1913.1 542.3,1903.9 543,1917.5 543.7,1916.2 544.4,1908.7 545.1,1925.4 545.8,1922.6 546.5,1928 547.2,1922.7 547.9,1916.7 548.6,1917 549.2,1902.2 549.9,1903.1 550.6,1908.4 551.3,1902.1 552,1893.5 552.7,1910.2 553.4,1913.6 554.1,1910.2 554.8,1903.1 555.4,1926.9 556.1,1917.6 556.8,1891.6 557.5,1906.1 558.2,1894.5 558.9,1886.3 559.6,1898.2 560.3,1888.7 561,1905 561.6,1925.1 562.3,1920.3 563,1902.3 563.7,1886.7 564.4,1899.6 565.1,1922.3 565.8,1915.3 566.5,1930.2 567.2,1917 567.8,1899.9 568.5,1916.5 569.2,1921.1 569.9,1919 570.6,1917.4 571.3,1908.9 572,1908.3 572.7,1904.7 573.4,1918.7 574.1,1904 574.7,1904.3 575.4,1803.6 576.1,1803.6 576.8,1803.6 577.5,1803.6 578.2,1803.6 578.9,1810.5 579.6,1816.1 580.3,1808.5 580.9,1817.4 581.6,1820 582.3,1808.3 583,1824.8 583.7,1828.4 584.4,1836.5 585.1,1830.4 585.8,1813.8 586.5,1822.2 587.1,1807.2 587.8,1820.3 588.5,1817.9 589.2,1828.2 589.9,1816 590.6,1801.1 591.3,1816.6 592,1832.4 592.7,1824.3 593.3,1814.9 594,1825.4 594.7,1804.8 595.4,1826.3 596.1,1816.7 596.8,1806.5 597.5,1813.2 598.2,1806.7 598.9,1811.6 599.6,1820.8 600.2,1824.1 600.9,1805.3 601.6,1830.7 602.3,1821 603,1855.2 603.7,1854 604.4,1842.5 605.1,1853.9 605.8,1863.3 606.4,1842.3 607.1,1835.5 607.8,1844.1 608.5,1854.8 609.2,1858.9 609.9,1848.8 610.6,1844.8 611.3,1843.1 612,1841.2 612.6,1846.4 613.3,1842.6 614,1847.1 614.7,1845 615.4,1849.5 616.1,1846.4 616.8,1856 617.5,1852.8 618.2,1859.8 618.8,1847.2 619.5,1853.4 620.2,1856.1 620.9,1856.6 621.6,1858.5 622.3,1860.1 623,1847.3 623.7,1844.1 624.4,1839.7 625.1,1851.4 625.7,1847.5 626.4,1865.4 627.1,1846.3 627.8,1856.9 628.5,1840.5 629.2,1840.4 629.9,1828.4 630.6,1838.4 631.3,1851.3 631.9,1830.9 632.6,1832.2 633.3,1833.9 634,1800.8 634.7,1814.9 635.4,1838.8 636.1,1827.7 636.8,1827.6 637.5,1817 638.1,1822.7 638.8,1816.1 639.5,1826.4 640.2,1812.4 640.9,1812.5 641.6,1824.1 642.3,1809.6 643,1803.8 643.7,1810.1 644.3,1822.2 645,1817.7 645.7,1818.5 646.4,1823.5 647.1,1821.8 647.8,1850.1 648.5,1860.9 649.2,1852.6 649.9,1858.9 650.6,1851.9 651.2,1851.3 651.9,1842.1 652.6,1850.8 653.3,1848 654,1860.9 654.7,1814.2 655.4,1799.9 656.1,1815.3 656.8,1814.4 657.4,1812.6 658.1,1819.5 658.8,1812.3 659.5,1850.6 660.2,1850 660.9,1849.5 661.6,1854 662.3,1862.1 663,1843.9 663.6,1846.1 664.3,1854.3 665,1860.1 665.7,1853.2 666.4,1858.4 667.1,1847 667.8,1847.8 668.5,1844.8 669.2,1838.5 669.9,1843.9 670.5,1841.9 671.2,1836.5 671.9,1840.6 672.6,1865.7 673.3,1815.4 674,1816.8 674.7,1814.4 675.4,1805.2 676.1,1817.6 676.7,1815.4 677.4,1837 678.1,1812.5 678.8,1818.6 679.5,1822 680.2,1823.1 680.9,1816.2 681.6,1835 682.3,1808.8 682.9,1816 683.6,1820 684.3,1808.3 685,1809.3 685.7,1812.7 686.4,1825.9 687.1,1812.6 687.8,1815.9 688.5,1826.2 689.1,1823.7 689.8,1819 690.5,1854.5 691.2,1843 691.9,1851.7 692.6,1841.9 693.3,1844.1 694,1815.1 694.7,1827.5 695.4,1821.8 696,1815.7 696.7,1816.2 697.4,1822.4 698.1,1818.1 698.8,1822.7 699.5,1821.6 700.2,1810.6 700.9,1803.3 701.6,1800.2 702.2,1809.4 702.9,1822 703.6,1823.2 704.3,1811.8 705,1816.8 705.7,1806.2 706.4,1819.1 707.1,1812.4 707.8,1829.1 708.4,1825.8 709.1,1817.6 709.8,1816.1 710.5,1817.8 711.2,1829.2 711.9,1822.2 712.6,1823.6 713.3,1827 714,1820.6 714.6,1827.6 715.3,1828.2 716,1804.3 716.7,1812.6 717.4,1807.6 718.1,1821.1 718.8,1824.7 719.5,1833.1 720.2,1835.7 720.9,1836.1 721.5,1849.4 722.2,1857 722.9,1858.7 723.6,1857 724.3,1845.3 725,1823.2 725.7,1816.4 726.4,1828.4 727.1,1818.1 727.7,1820.3 728.4,1843.8 729.1,1857.2 729.8,1852.8 730.5,1850.3 731.2,1855.4 731.9,1846.1 732.6,1847.8 733.3,1844.2 733.9,1852.7 734.6,1848.5 735.3,1832.8 736,1818.8 736.7,1831.8 737.4,1830.1 738.1,1823.1 738.8,1817.2 739.5,1819 740.1,1837.7 740.8,1836.9 741.5,1833.1 742.2,1825.9 742.9,1834.4 743.6,1832.6 744.3,1849.9 745,1849.1 745.7,1845.3 746.4,1845.4 747,1861 747.7,1862.1 748.4,1853.2 749.1,1848.2 749.8,1854.5 750.5,1843.6 751.2,1854.3 751.9,1856.1 752.6,1852.2 753.2,1848.8 753.9,1855.2 754.6,1852.6 755.3,1859.4 756,1859.4 756.7,1840.2 757.4,1857.1 758.1,1839.6 758.8,1852.2 759.4,1840.4 760.1,1851.4 760.8,1859.7 761.5,1854 762.2,1851.6 762.9,1848.7 763.6,1858.4 764.3,1865.4 765,1856.9 765.6,1856.4 766.3,1858.9 767,1853.7 767.7,1839.9 768.4,1836.7 769.1,1843.5 769.8,1836.7 770.5,1829.3 771.2,1831.2 771.9,1858.8 772.5,1858.8 773.2,1849.8 773.9,1841.5 774.6,1857.8 775.3,1833.2 776,1850.3 776.7,1858 777.4,1869.9 778.1,1847.8 778.7,1840.3 779.4,1838.8 780.1,1816.1 780.8,1816.6 781.5,1818.9 782.2,1805 782.9,1810.1 783.6,1808.7 784.3,1831.6 784.9,1838.3 785.6,1816.4 786.3,1814.4 787,1814.6 787.7,1819.9 788.4,1818.2 789.1,1824.1 789.8,1816.5 790.5,1862.1 791.1,1852.2 791.8,1855.5 792.5,1858.5 793.2,1854 793.9,1852.4 794.6,1851.3 795.3,1835.6 796,1855.7 796.7,1859.4 797.4,1852.2 798,1850.3 798.7,1846.3 799.4,1840.5 800.1,1843.7 800.8,1855.2 801.5,1831.1 802.2,1842.2 802.9,1846.8 803.6,1847.9 804.2,1856.2 804.9,1857.9 805.6,1851.8 806.3,1847.8 807,1844.3 807.7,1856.8 808.4,1845.5 809.1,1857.6 809.8,1842.6 810.4,1825.3 811.1,1825.1 811.8,1818.2 812.5,1811.4 813.2,1822.5 813.9,1809.1 814.6,1858.8 815.3,1857.7 816,1846.9 816.6,1835.2 817.3,1849.5 818,1862 818.7,1848.6 819.4,1834.7 820.1,1812.3 820.8,1825.1 821.5,1834.8 822.2,1801.2 822.9,1813.3 823.5,1861.7 824.2,1868.9 824.9,1844.2 825.6,1836.2 826.3,1846.2 827,1852.4 827.7,1843.5 828.4,1840.1 829.1,1844.4 829.7,1859 830.4,1849.5 831.1,1827.8 831.8,1852.3 832.5,1857 833.2,1858.7 833.9,1859.3 834.6,1838.6 835.3,1839.6 835.9,1855.5 836.6,1861.5 837.3,1853.8 838,1857.1 838.7,1848.6 839.4,1847.3 840.1,1862.5 840.8,1836.5 841.5,1852.6 842.1,1837.6 842.8,1844.4 843.5,1850.6 844.2,1868.7 844.9,1861.1 845.6,1843 846.3,1840.1 847,1854.5 847.7,1846.2 848.4,1826.6 849,1834.5 849.7,1827.4 850.4,1832.9 851.1,1813.6 851.8,1824.3 852.5,1821.2 853.2,1823 853.9,1827.8 854.6,1816.8 855.2,1816.8 855.9,1817.1 856.6,1823.6 857.3,1817.7 858,1830.1 858.7,1821.6 859.4,1823.7 860.1,1848.9 860.8,1842 861.4,1831.4 862.1,1805.6 862.8,1833.5 863.5,1850.1 864.2,1839.5 864.9,1855.1 865.6,1840.9 866.3,1850.2 867,1857.7 867.7,1866.2 868.3,1856.2 869,1842.9 869.7,1848.1 870.4,1819.4 871.1,1846.2 871.8,1837.9 872.5,1837.7 873.2,1844.8 873.9,1850.1 874.5,1855.8 875.2,1845 875.9,1841 876.6,1848.9 877.3,1855.8 878,1863 878.7,1854.5 879.4,1866.5 880.1,1861.6 880.7,1836 881.4,1853.9 882.1,1855.3 882.8,1843.7 883.5,1843.9 884.2,1850.5 884.9,1846.2 885.6,1850 886.3,1849.5 886.9,1857.4 887.6,1847.4 888.3,1819.3 889,1820.3 889.7,1846.1 890.4,1847.9 891.1,1852.8 891.8,1850.1 892.5,1855 893.2,1872.2 893.8,1864 894.5,1857.7 895.2,1852.1 895.9,1847.7 896.6,1837.9 897.3,1833.5 898,1831.5 898.7,1846.7 899.4,1840 900,1866.2 900.7,1865.1 901.4,1840.3 902.1,1848.6 902.8,1850.8 903.5,1846.9 904.2,1844.7 904.9,1850.9 905.6,1850.6 906.2,1862.6 906.9,1850.8 907.6,1842.6 908.3,1839.9 909,1845.3 909.7,1853.4 910.4,1854 911.1,1858.1 911.8,1864.8 912.4,1850.4 913.1,1855.9 913.8,1832.7 914.5,1842.3 915.2,1835.7 915.9,1858.9 916.6,1853.9 917.3,1843.6 918,1841 918.7,1843.8 919.3,1815.2 920,1826.5 920.7,1858.7 921.4,1856.7 922.1,1864.3 922.8,1845.5 923.5,1858 924.2,1861.1 924.9,1855 925.5,1837.2 926.2,1843.7 926.9,1843.5 927.6,1846.9 928.3,1835.3 929,1840.1 929.7,1859.3 930.4,1863 931.1,1852.2 931.7,1848.1 932.4,1853.8 933.1,1848.1 933.8,1838 934.5,1850.4 935.2,1837.9 935.9,1834.1 936.6,1870.7 937.3,1861.4 937.9,1846.7 938.6,1849.6 939.3,1849.3 940,1841.8 940.7,1812.3 941.4,1825 942.1,1844.5 942.8,1823.8 943.5,1813.4 944.2,1815 944.8,1816.5 945.5,1813.7 946.2,1815.1 946.9,1825.4 947.6,1820.6 948.3,1816.3 949,1853.5 949.7,1850 950.4,1840.3 951,1829.9 951.7,1837.5 952.4,1828.3 953.1,1843.7 953.8,1849.3 954.5,1838 955.2,1847.7 955.9,1852.5 956.6,1860.2 957.2,1853.1 957.9,1853.2 958.6,1861.9 959.3,1892.5 960,1902.1 960.7,1891.2 961.4,1875.4 962.1,1886.7 962.8,1867.8 963.4,1880.7 964.1,1900.1 964.8,1877.7 965.5,1884.3 966.2,1880.1 966.9,1880.7 967.6,1890.4 968.3,1892.3 969,1889.2 969.7,1889.5" fill="none" stroke="#e2232a" stroke-width="1.3" stroke-linejoin="round" clip-path="url(#cj)"/>
<rect x="66.7" y="1752.2" width="903" height="177" fill="none" stroke="#231f20" stroke-width="1.4"/>
<path d="M66.7,1766.6h-6 M66.7,1840.5h-6 M66.7,1914.4h-6 M66.7,1929.2h-6" stroke="#231f20" stroke-width="1.3"/>
<path d="M66.8,1929.2v5 M411.4,1929.2v5 M756,1929.2v5" stroke="#231f20" stroke-width="1.3"/>
<path d="M77,1765L200.7,1765" stroke="#231f20" stroke-width="1.3"/>
<path d="M69,1765 84,1758.5 80,1765 84,1771.5Z" fill="#231f20"/>
<path d="M208.7,1765 193.7,1771.5 197.7,1765 193.7,1758.5Z" fill="#231f20"/>
<path d="M216.7,1765L412.9,1765" stroke="#231f20" stroke-width="1.3"/>
<path d="M208.7,1765 223.7,1758.5 219.7,1765 223.7,1771.5Z" fill="#231f20"/>
<path d="M420.9,1765 405.9,1771.5 409.9,1765 405.9,1758.5Z" fill="#231f20"/>
<path d="M428.9,1765L567,1765" stroke="#231f20" stroke-width="1.3"/>
<path d="M420.9,1765 435.9,1758.5 431.9,1765 435.9,1771.5Z" fill="#231f20"/>
<path d="M575,1765 560,1771.5 564,1765 560,1758.5Z" fill="#231f20"/>
<path d="M583,1765L962,1765" stroke="#231f20" stroke-width="1.3"/>
<path d="M575,1765 590,1758.5 586,1765 590,1771.5Z" fill="#231f20"/>
<path d="M970,1765 955,1771.5 959,1765 955,1758.5Z" fill="#231f20"/>
<text x="98.3" y="1745" textLength="84.2" lengthAdjust="spacingAndGlyphs" font-size="32.5">PRE1</text>
<text x="294" y="1745" textLength="56.8" lengthAdjust="spacingAndGlyphs" font-size="32.5">CHI</text>
<text x="442.5" y="1745" textLength="106.1" lengthAdjust="spacingAndGlyphs" font-size="32.5">POST2</text>
<text x="735" y="1745" font-size="32.5">PRE2</text>
<text x="6.8" y="1741.5" font-weight="bold" font-size="31.4">j</text>
<text x="22.5" y="1776.6">10</text>
<text x="40.4" y="1852">5</text>
<text x="40.3" y="1924.5">0</text>
<text x="57.9" y="1964">0</text>
<text x="393.4" y="1964">20</text>
<text x="738.5" y="1964">40</text>
<text x="472" y="1994.5" textLength="103.3" lengthAdjust="spacingAndGlyphs" font-size="32.5">Time, s</text>
<text transform="translate(24.7,1930) rotate(-90)" x="-2.7" textLength="180.5" lengthAdjust="spacingAndGlyphs">FI, arb. units</text>
<text x="980.3" y="1751.4" textLength="71.7" lengthAdjust="spacingAndGlyphs" fill="#00a651" font-size="32.5">Q-pb</text>
<text x="980.2" y="1783.6" fill="#00a651" font-size="32.5">P/P</text>
<text x="980.8" y="1806.4" textLength="55.2" lengthAdjust="spacingAndGlyphs" fill="#00a651" font-size="32.5">CHI</text>
<text x="983.9" y="1833.4" textLength="62.8" lengthAdjust="spacingAndGlyphs" fill="#00a651" font-size="32.5">A/P*</text>
<text x="992.2" y="1859.2" textLength="51.3" lengthAdjust="spacingAndGlyphs" fill="#00a651" font-size="32.5">A/A</text>
<text x="992.7" y="1888.4" textLength="51.9" lengthAdjust="spacingAndGlyphs" fill="#00a651" font-size="32.5">A/P</text>
<path d="M971.4,1767.3L984,1755.2M990.6,1847.1L976.3,1838.3L991.7,1881.8" stroke="#00a651" stroke-width="1.2" fill="none"/>
<path d="M1146.7,1405.3H1414.6" stroke="#231f20" stroke-width="1.3" stroke-dasharray="3.2 3.2"/>
<path d="M1146.7,1423H1414.6" stroke="#231f20" stroke-width="1.3" stroke-dasharray="3.2 3.2"/>
<path d="M1146.7,1446.3H1414.6" stroke="#231f20" stroke-width="1.3" stroke-dasharray="3.2 3.2"/>
<path d="M1146.7,1487.7H1414.6" stroke="#231f20" stroke-width="1.3" stroke-dasharray="3.2 3.2"/>
<path d="M1146.7,1515.9H1414.6" stroke="#231f20" stroke-width="1.3" stroke-dasharray="3.2 3.2"/>
<path d="M1146.7,1537.9H1414.6" stroke="#231f20" stroke-width="1.3" stroke-dasharray="3.2 3.2"/>
<path d="M1146.7,1565.5H1414.6" stroke="#231f20" stroke-width="1.3" stroke-dasharray="3.2 3.2"/>
<path d="M1146.7,1623.9H1414.6" stroke="#231f20" stroke-width="1.3" stroke-dasharray="3.2 3.2"/>
<path d="M824.5,1445.4 825,1436.5 825.4,1450.3 825.9,1435.5 826.3,1438.2 826.8,1442.5 827.2,1443.3 827.7,1444.1 828.1,1438.7 828.6,1429.6 829,1425.3 829.5,1423.8 829.9,1436 830.4,1439.8 830.8,1423.6 831.3,1420.1 831.7,1411.6 832.2,1413.3 832.6,1426.2 833.1,1418.1 833.5,1418.2 834,1420.3 834.4,1426.6 834.9,1424.2 835.3,1423.7 835.8,1416.4 836.2,1418.3 836.7,1410.9 837.1,1421.1 837.6,1418.2 838,1416.9 838.5,1424 838.9,1428.6 839.4,1418.1 839.8,1416.7 840.3,1419.9 840.7,1418.1 841.2,1423.3 841.6,1420.3 842.1,1423.8 842.5,1420.7 843,1415 843.4,1420.1 843.9,1415.5 844.3,1424.2 844.8,1423.5 845.2,1429.2 845.7,1424.4 846.1,1421.5 846.6,1421.8 847,1422.3 847.5,1413.6 847.9,1409.6 848.4,1422.7 848.8,1414.6 849.3,1427.5 849.7,1427.1 850.2,1423.8 850.6,1420.9 851.1,1426.2 851.5,1426.5 852,1422.1 852.4,1424.6 852.9,1425.4 853.3,1418.3 853.8,1414 854.2,1417.8 854.7,1418.9 855.1,1419.5 855.6,1422.2 856,1423.5 856.5,1427 856.9,1419 857.4,1419.8 857.8,1420.5 858.3,1418.8 858.7,1416.3 859.2,1410.3 859.6,1417.3 860.1,1420.9 860.5,1418.9 861,1423.9 861.4,1414.1 861.9,1412.1 862.3,1412.6 862.8,1417.3 863.2,1414.4 863.7,1411.5 864.1,1413.3 864.6,1418.4 865,1428.3 865.5,1417.5 865.9,1420.5 866.4,1424.4 866.8,1416.2 867.3,1416.1 867.7,1426 868.2,1424.4 868.6,1432.6 869.1,1442.7 869.5,1466.5 870,1452.7 870.4,1432.7 870.9,1414.4 871.3,1422.5 871.8,1436.6 872.2,1433.6 872.7,1423.3 873.1,1416 873.6,1408 874,1412.2 874.5,1420.6 874.9,1414.5 875.4,1417 875.8,1419.1 876.3,1418.7 876.7,1411.5 877.2,1420.8 877.6,1425.1 878.1,1421.5 878.5,1420.1 879,1423.6 879.4,1425.4 879.9,1419.1 880.3,1411.2 880.8,1411.5 881.3,1411.8 881.7,1408.7 882.2,1425.6 882.6,1429.6 883.1,1426.7 883.5,1428.3 884,1427.7 884.4,1421.6 884.9,1426.7 885.3,1424 885.8,1431.8 886.2,1429 886.7,1414.9 887.1,1419.8 887.6,1416.9 888,1413.6 888.5,1418.9 888.9,1415.1 889.4,1415.6 889.8,1413 890.3,1419.5 890.7,1426.5 891.2,1427 891.6,1424.5 892.1,1417.5 892.5,1418.7 893,1420.3 893.4,1419.7 893.9,1412.3 894.3,1418.7 894.8,1409.6 895.2,1421.2 895.7,1422.3 896.1,1414.7 896.6,1413.5 897,1420.6 897.5,1419.3 897.9,1422.1 898.4,1414.5 898.8,1413.2 899.3,1419.7 899.7,1416 900.2,1418.8 900.6,1418.3 901.1,1417.3 901.5,1420.4 902,1416.1 902.4,1414.2 902.9,1413.6 903.3,1409.5 903.8,1415.6 904.2,1424.7 904.7,1422.8 905.1,1418.2 905.6,1417.4 906,1413.9 906.5,1411.2 906.9,1415.3 907.4,1416.9 907.8,1422.4 908.3,1413.3 908.7,1416.9 909.2,1422.9 909.6,1425.4 910.1,1422.5 910.5,1410.4 911,1409.9 911.4,1423.4 911.9,1420 912.3,1416.5 912.8,1413.1 913.2,1413.3 913.7,1418.8 914.1,1415.1 914.6,1419 915,1430 915.5,1425.8 915.9,1424 916.4,1414.1 916.8,1407.4 917.3,1417.2 917.7,1414.3 918.2,1413.6 918.6,1421.8 919.1,1428.5 919.5,1420.2 920,1415.5 920.4,1417.7 920.9,1430.4 921.3,1420.4 921.8,1419.5 922.2,1420.8 922.7,1418.1 923.1,1421.5 923.6,1413.4 924,1413.2 924.5,1416.3 924.9,1412.7 925.4,1413.1 925.8,1421.4 926.3,1417.1 926.7,1417 927.2,1424.2 927.6,1420.9 928.1,1413.5 928.5,1416.4 929,1406.2 929.4,1400.5 929.9,1409.3 930.3,1408 930.8,1399.4 931.2,1408.9 931.7,1415.8 932.1,1415.9 932.6,1421.2 933,1423.2 933.5,1415.2 933.9,1415.5 934.4,1411.9 934.8,1409 935.3,1414.8 935.7,1413.9 936.2,1414 936.6,1416.2 937.1,1417.9 937.6,1412.2 938,1412.4 938.5,1409.8 938.9,1405 939.4,1403 939.8,1414 940.3,1416.9 940.7,1414.7 941.2,1411.7 941.6,1405.9 942.1,1414.1 942.5,1414.5 943,1410.7 943.4,1403.7 943.9,1400.1 944.3,1411.9 944.8,1412.1 945.2,1415.5 945.7,1407.6 946.1,1406.6 946.6,1410.7 947,1413.7 947.5,1409.8 947.9,1404.4 948.4,1411.9 948.8,1412.4 949.3,1410.2 949.7,1409.7 950.2,1407.8 950.6,1414.4 951.1,1414.7 951.5,1423.2 952,1414.6 952.4,1405.4 952.9,1419.2 953.3,1416.7 953.8,1407.1 954.2,1409 954.7,1419.6 955.1,1406.6 955.6,1415.9 956,1404 956.5,1410.1 956.9,1413.2 957.4,1410.3 957.8,1409.3 958.3,1405.5 958.7,1404.4 959.2,1407.6 959.6,1400.6 960.1,1401.2 960.5,1403.8 961,1405.6 961.4,1407.6 961.9,1408.3 962.3,1404.3 962.8,1403.8 963.2,1406 963.7,1401.4 964.1,1406.6 964.6,1404.8 965,1401.6 965.5,1410.2 965.9,1409.3 966.4,1398.1 966.8,1408.2 967.3,1400.5 967.7,1409.6 968.2,1405.1 968.6,1411.4 969.1,1411.4 969.5,1410 970,1410.3 970.4,1401.7 970.9,1385.9 971.3,1384.7 971.8,1388 972.2,1381.2 972.7,1381.9 973.1,1386.1 973.6,1395.4 974,1389.4 974.5,1387.2 974.9,1389.4 975.4,1386.8 975.8,1385.4 976.3,1390.8 976.7,1388.1 977.2,1388.3 977.6,1388.5 978.1,1392.2 978.5,1394.3 979,1391.9 979.4,1383.6 979.9,1375.3 980.3,1387 980.8,1395.5 981.2,1394.9 981.7,1397.3 982.1,1396 982.6,1390.9 983,1396.1 983.5,1389.7 983.9,1386.1 984.4,1380.6 984.8,1376.7 985.3,1379.7 985.7,1373.8 986.2,1386.9 986.6,1387.7 987.1,1388.6 987.5,1387.5 988,1383.8 988.4,1389.7 988.9,1380.8 989.3,1379.6 989.8,1384.3 990.2,1385.4 990.7,1393.9 991.1,1405.7 991.6,1397 992,1391.3 992.5,1389.5 992.9,1396.1 993.4,1395.1 993.9,1382.5 994.3,1383.1 994.8,1383.9 995.2,1389.4 995.7,1385.7 996.1,1381.2 996.6,1382.3 997,1389.2 997.5,1388.1 997.9,1394.1 998.4,1393.3 998.8,1387.9 999.3,1392 999.7,1392 1000.2,1382.7 1000.6,1387.8 1001.1,1384.7 1001.5,1389.3 1002,1395.8 1002.4,1392.1 1002.9,1392.5 1003.3,1401.9 1003.8,1401.1 1004.2,1396.4 1004.7,1384.1 1005.1,1390.4 1005.6,1390 1006,1386.1 1006.5,1386.4 1006.9,1390 1007.4,1380.1 1007.8,1378.1 1008.3,1398.2 1008.7,1387.4 1009.2,1385.4 1009.6,1382.2 1010.1,1385.8 1010.5,1383.1 1011,1376 1011.4,1374.3 1011.9,1373.1 1012.3,1376.7 1012.8,1378.9 1013.2,1379.6 1013.7,1391.3 1014.1,1377.2 1014.6,1382.8 1015,1384.5 1015.5,1386.3 1015.9,1423.8 1016.4,1437.4 1016.8,1429.8 1017.3,1434.9 1017.7,1435.3 1018.2,1440.2 1018.6,1441.3 1019.1,1428.8 1019.5,1429.7 1020,1427.8 1020.4,1427.3 1020.9,1432.5 1021.3,1432 1021.8,1401.7 1022.2,1397.7 1022.7,1406.7 1023.1,1400.3 1023.6,1390.6 1024,1385.1 1024.5,1383.3 1024.9,1386.3 1025.4,1395.8 1025.8,1389.1 1026.3,1388.6 1026.7,1389.9 1027.2,1398.7 1027.6,1393.4 1028.1,1385.6 1028.5,1386.3 1029,1392 1029.4,1390.1 1029.9,1392.4 1030.3,1392.4 1030.8,1388.7 1031.2,1390.1 1031.7,1423.2 1032.1,1422.2 1032.6,1428.3 1033,1431.7 1033.5,1424.8 1033.9,1427.9 1034.4,1422.7 1034.8,1433.9 1035.3,1421.4 1035.7,1423.6 1036.2,1414.6 1036.6,1433.8 1037.1,1437.1 1037.5,1421.2 1038,1421.7 1038.4,1421 1038.9,1421.6 1039.3,1421.6 1039.8,1419.4 1040.2,1427.1 1040.7,1425.4 1041.1,1416.5 1041.6,1419.1 1042,1424.5 1042.5,1422.6 1042.9,1416.5 1043.4,1420.9 1043.8,1422.4 1044.3,1393.8 1044.7,1390.5 1045.2,1385.6 1045.6,1392.5 1046.1,1392.5 1046.5,1388.6 1047,1403.2 1047.4,1397.7 1047.9,1393.6 1048.3,1394.9 1048.8,1399.6 1049.2,1393.4 1049.7,1387.2 1050.2,1392 1050.6,1396.1 1051.1,1396.1 1051.5,1421.6 1052,1419.5 1052.4,1425.2 1052.9,1433.9 1053.3,1438.3 1053.8,1434.8 1054.2,1433.3 1054.7,1429.5 1055.1,1435.8 1055.6,1389.5 1056,1384.6 1056.5,1395 1056.9,1377 1057.4,1379.3 1057.8,1380.5 1058.3,1391.1 1058.7,1393.8 1059.2,1383.5 1059.6,1380.1 1060.1,1397.2 1060.5,1384.1 1061,1381.2 1061.4,1380.6 1061.9,1390 1062.3,1386.1 1062.8,1389.3 1063.2,1384.1 1063.7,1374.9 1064.1,1377.9 1064.6,1377 1065,1384 1065.5,1390.7 1065.9,1387.6 1066.4,1380.7 1066.8,1375.5 1067.3,1381.9 1067.7,1382.7 1068.2,1386.6 1068.6,1395.5 1069.1,1389 1069.5,1385 1070,1387.6 1070.4,1387.2 1070.9,1396.2 1071.3,1389.4 1071.8,1379.3 1072.2,1383.1 1072.7,1381.1 1073.1,1381.2 1073.6,1387.8 1074,1385.1 1074.5,1389.8 1074.9,1370.8 1075.4,1378.3 1075.8,1388.5 1076.3,1395 1076.7,1380.8 1077.2,1380 1077.6,1380.9 1078.1,1391 1078.5,1390.6 1079,1394 1079.4,1382.5 1079.9,1386.9 1080.3,1375.1 1080.8,1378.1 1081.2,1384 1081.7,1377.1 1082.1,1393.5 1082.6,1393 1083,1390.4 1083.5,1381.1 1083.9,1377.4 1084.4,1379.9 1084.8,1392.7 1085.3,1390.9 1085.7,1393.4 1086.2,1381.2 1086.6,1385.8 1087.1,1381.9 1087.5,1373.2 1088,1380.5 1088.4,1379.1 1088.9,1384.6 1089.3,1384.3 1089.8,1384.3 1090.2,1384.4 1090.7,1384.1 1091.1,1386.6 1091.6,1374.9 1092,1384.3 1092.5,1383 1092.9,1385.5 1093.4,1397.5 1093.8,1384.2 1094.3,1383.1 1094.7,1391.5 1095.2,1391.3 1095.6,1396.1 1096.1,1387.5 1096.5,1376.9 1097,1374.6 1097.4,1387.6 1097.9,1395.2 1098.3,1385.7 1098.8,1375.5 1099.2,1380.5 1099.7,1376.9 1100.1,1389.1 1100.6,1386.8 1101,1382.8 1101.5,1386 1101.9,1386.2 1102.4,1381.2 1102.8,1386.5 1103.3,1390.6 1103.7,1382.6 1104.2,1382.2 1104.6,1388.9 1105.1,1383.6 1105.5,1387 1106,1381.7 1106.5,1383.2 1106.9,1385.3 1107.4,1388.9 1107.8,1384.8 1108.3,1384.6 1108.7,1373.7 1109.2,1380.1 1109.6,1389.9 1110.1,1374.8 1110.5,1391.6 1111,1377.8 1111.4,1386.3 1111.9,1377.1 1112.3,1382.2 1112.8,1380.1 1113.2,1382.2 1113.7,1383.8 1114.1,1380.9 1114.6,1386.2 1115,1382.1 1115.5,1389.1 1115.9,1390 1116.4,1389.1 1116.8,1386.4 1117.3,1378 1117.7,1386.1 1118.2,1389.4 1118.6,1392.2 1119.1,1389.3 1119.5,1382.8 1120,1387.4 1120.4,1386.8 1120.9,1388.1 1121.3,1384.9 1121.8,1395.3 1122.2,1384.9 1122.7,1378.9 1123.1,1386.3 1123.6,1385 1124,1389.1 1124.5,1380.1 1124.9,1378.6 1125.4,1365.3 1125.8,1377.3 1126.3,1385.8 1126.7,1387 1127.2,1391.8 1127.6,1385.5 1128.1,1382.4 1128.5,1377.7 1129,1378.7 1129.4,1383.7 1129.9,1376.1 1130.3,1377.1 1130.8,1376 1131.2,1386.8 1131.7,1389.2 1132.1,1389 1132.6,1387.6 1133,1397 1133.5,1381.8 1133.9,1383.6 1134.4,1378.4 1134.8,1376.7 1135.3,1372 1135.7,1375.2 1136.2,1377.6 1136.6,1384.7 1137.1,1382.8 1137.5,1372.8 1138,1388.5 1138.4,1388.8 1138.9,1383.4 1139.3,1373.8 1139.8,1385 1140.2,1385.9 1140.7,1382.9 1141.1,1365.2 1141.6,1380.2 1142,1382.2 1142.5,1378 1142.9,1384.3 1143.4,1380.8 1143.8,1379.2 1144.3,1382.8 1144.7,1380.3 1145.2,1371.6 1145.6,1377 1146.1,1382.3 1146.5,1386.1 1147,1382.2 1147.4,1376.1 1147.9,1378.6 1148.3,1378.7 1148.8,1365.7 1149.2,1379.5 1149.7,1386.7 1150.1,1382.1 1150.6,1382.9 1151,1378.9 1151.5,1373.5 1151.9,1376.3 1152.4,1380.4 1152.8,1378.1 1153.3,1377.4 1153.7,1380.3 1154.2,1384.1 1154.6,1378.7 1155.1,1381.4 1155.5,1387.7 1156,1380 1156.4,1383.7 1156.9,1491.6 1157.3,1491.6 1157.8,1491.6 1158.2,1491.6 1158.7,1491.6 1159.1,1493.6 1159.6,1484.8 1160,1474 1160.5,1482.9 1160.9,1474.8 1161.4,1471.9 1161.8,1467.9 1162.3,1480.4 1162.8,1482.8 1163.2,1470.6 1163.7,1474.9 1164.1,1476.1 1164.6,1472.2 1165,1470.9 1165.5,1476.6 1165.9,1476.6 1166.4,1471.6 1166.8,1471.4 1167.3,1476.5 1167.7,1467.1 1168.2,1465.4 1168.6,1470.9 1169.1,1474.1 1169.5,1466.9 1170,1482.3 1170.4,1474.1 1170.9,1474.4 1171.3,1474.7 1171.8,1465.8 1172.2,1465.2 1172.7,1449.3 1173.1,1460.9 1173.6,1461.9 1174,1471.9 1174.5,1462.1 1174.9,1445 1175.4,1442.5 1175.8,1435.6 1176.3,1433.4 1176.7,1436.4 1177.2,1433.2 1177.6,1441.5 1178.1,1447.5 1178.5,1453.2 1179,1443.9 1179.4,1432.4 1179.9,1440.5 1180.3,1441.9 1180.8,1444.2 1181.2,1440.7 1181.7,1452.2 1182.1,1441.9 1182.6,1436.5 1183,1444.1 1183.5,1449 1183.9,1450.3 1184.4,1442.8 1184.8,1434.8 1185.3,1445.2 1185.7,1452.5 1186.2,1446.2 1186.6,1442.8 1187.1,1439 1187.5,1445.2 1188,1439.8 1188.4,1435.6 1188.9,1449.2 1189.3,1447.2 1189.8,1441.3 1190.2,1438.1 1190.7,1444.2 1191.1,1454.4 1191.6,1452 1192,1454.6 1192.5,1450.7 1192.9,1440.5 1193.4,1445.7 1193.8,1443.7 1194.3,1450.2 1194.7,1440.9 1195.2,1472.4 1195.6,1476.7 1196.1,1462.2 1196.5,1464.9 1197,1464.1 1197.4,1478.7 1197.9,1465.5 1198.3,1458.6 1198.8,1466.1 1199.2,1470.1 1199.7,1473.2 1200.1,1465.2 1200.6,1476.8 1201,1470.9 1201.5,1459.2 1201.9,1464.9 1202.4,1456.9 1202.8,1464.6 1203.3,1469.5 1203.7,1464.7 1204.2,1441.7 1204.6,1442.2 1205.1,1445.2 1205.5,1450.8 1206,1448.1 1206.4,1441.4 1206.9,1436.6 1207.3,1441.1 1207.8,1440.8 1208.2,1447.5 1208.7,1472.6 1209.1,1471.9 1209.6,1471.5 1210,1470.2 1210.5,1468.1 1210.9,1462.4 1211.4,1462.6 1211.8,1437.6 1212.3,1447.9 1212.7,1449.7 1213.2,1445.6 1213.6,1443.7 1214.1,1439.4 1214.5,1451.6 1215,1445.6 1215.4,1443.6 1215.9,1445.3 1216.3,1448.5 1216.8,1444.2 1217.2,1444.6 1217.7,1441.2 1218.1,1453.6 1218.6,1452.5 1219.1,1438.5 1219.5,1440.1 1220,1446.3 1220.4,1446.3 1220.9,1478.2 1221.3,1465.3 1221.8,1460.1 1222.2,1461 1222.7,1459.6 1223.1,1463.1 1223.6,1459.8 1224,1462.3 1224.5,1458.9 1224.9,1465.5 1225.4,1468.5 1225.8,1472.3 1226.3,1473.4 1226.7,1479.9 1227.2,1466.4 1227.6,1460.6 1228.1,1462 1228.5,1461.1 1229,1465 1229.4,1465.1 1229.9,1475.3 1230.3,1472.3 1230.8,1480.7 1231.2,1477.8 1231.7,1474.5 1232.1,1446.8 1232.6,1450.5 1233,1439 1233.5,1436 1233.9,1443.2 1234.4,1476.5 1234.8,1475.1 1235.3,1466.7 1235.7,1479 1236.2,1469 1236.6,1470.1 1237.1,1472.1 1237.5,1465 1238,1467.7 1238.4,1470.9 1238.9,1463.3 1239.3,1475.9 1239.8,1463.3 1240.2,1471.8 1240.7,1475.2 1241.1,1463.1 1241.6,1448.7 1242,1454.5 1242.5,1468.2 1242.9,1481.1 1243.4,1472.9 1243.8,1471 1244.3,1473.4 1244.7,1471.9 1245.2,1474.3 1245.6,1466.9 1246.1,1469 1246.5,1470.6 1247,1482.2 1247.4,1473.3 1247.9,1479.2 1248.3,1469.4 1248.8,1469.8 1249.2,1481 1249.7,1476.1 1250.1,1478.9 1250.6,1470.3 1251,1467.5 1251.5,1463 1251.9,1471.4 1252.4,1441.2 1252.8,1450 1253.3,1444.2 1253.7,1444.9 1254.2,1442.6 1254.6,1469.6 1255.1,1464.1 1255.5,1469.5 1256,1470.7 1256.4,1462.5 1256.9,1440.8 1257.3,1445.2 1257.8,1449.1 1258.2,1445.6 1258.7,1444.4 1259.1,1440.2 1259.6,1443 1260,1439.4 1260.5,1443.2 1260.9,1434.5 1261.4,1466.6 1261.8,1464.8 1262.3,1465.7 1262.7,1475.5 1263.2,1466.4 1263.6,1470.8 1264.1,1465.2 1264.5,1479.1 1265,1483.8 1265.4,1486.5 1265.9,1486.5 1266.3,1478.8 1266.8,1473.7 1267.2,1450.4 1267.7,1448.1 1268.1,1449.1 1268.6,1441.7 1269,1438.9 1269.5,1440 1269.9,1438.6 1270.4,1432.1 1270.8,1435.4 1271.3,1448.7 1271.7,1446.8 1272.2,1446.5 1272.6,1440.2 1273.1,1439.6 1273.5,1437.2 1274,1449.6 1274.4,1438.3 1274.9,1442.3 1275.4,1437.8 1275.8,1438.6 1276.3,1446.5 1276.7,1449.3 1277.2,1442.6 1277.6,1436.9 1278.1,1446 1278.5,1450.9 1279,1457.9 1279.4,1454.6 1279.9,1452.2 1280.3,1448.8 1280.8,1442.5 1281.2,1446 1281.7,1450.9 1282.1,1448.8 1282.6,1446.3 1283,1444.1 1283.5,1443.3 1283.9,1444.7 1284.4,1441.3 1284.8,1444.5 1285.3,1450 1285.7,1447.4 1286.2,1435.2 1286.6,1445 1287.1,1430.9 1287.5,1441.6 1288,1439.1 1288.4,1450.9 1288.9,1447.4 1289.3,1437.5 1289.8,1447.9 1290.2,1449.6 1290.7,1471.1 1291.1,1468.8 1291.6,1478 1292,1480.5 1292.5,1473 1292.9,1469.9 1293.4,1466.3 1293.8,1469.8 1294.3,1466.8 1294.7,1462.4 1295.2,1474 1295.6,1466.4 1296.1,1464.7 1296.5,1461.2 1297,1468.9 1297.4,1443.5 1297.9,1443.4 1298.3,1446.4 1298.8,1439.4 1299.2,1440.9 1299.7,1448.2 1300.1,1444.3 1300.6,1449.9 1301,1454.9 1301.5,1454.1 1301.9,1447.9 1302.4,1444.9 1302.8,1445 1303.3,1441.4 1303.7,1432.5 1304.2,1445.5 1304.6,1442.3 1305.1,1441.8 1305.5,1449.6 1306,1449 1306.4,1444.9 1306.9,1444.2 1307.3,1448.6 1307.8,1441.7 1308.2,1441.8 1308.7,1439.6 1309.1,1433.6 1309.6,1446.8 1310,1439.7 1310.5,1439.7 1310.9,1473.6 1311.4,1472.1 1311.8,1473.4 1312.3,1478.1 1312.7,1469.2 1313.2,1447.7 1313.6,1456.5 1314.1,1444.6 1314.5,1446.9 1315,1443.2 1315.4,1442.6 1315.9,1445.1 1316.3,1446.5 1316.8,1485.3 1317.2,1478.7 1317.7,1480 1318.1,1471.6 1318.6,1475.2 1319,1449.5 1319.5,1445.7 1319.9,1450.9 1320.4,1450.7 1320.8,1449.3 1321.3,1444 1321.7,1451.9 1322.2,1443 1322.6,1444.4 1323.1,1446.9 1323.5,1443.4 1324,1438.3 1324.4,1435.5 1324.9,1446.3 1325.3,1437.7 1325.8,1441.3 1326.2,1435.9 1326.7,1446.5 1327.1,1446 1327.6,1445.4 1328,1451.5 1328.5,1449.5 1328.9,1441.4 1329.4,1437 1329.8,1437.7 1330.3,1440 1330.7,1444.9 1331.2,1433.2 1331.7,1447.1 1332.1,1451.8 1332.6,1451.4 1333,1446.1 1333.5,1447.4 1333.9,1441.3 1334.4,1451.5 1334.8,1469.1 1335.3,1460.5 1335.7,1461.9 1336.2,1468.8 1336.6,1473.2 1337.1,1465.8 1337.5,1478 1338,1477.9 1338.4,1482.7 1338.9,1476.3 1339.3,1463 1339.8,1470 1340.2,1464.6 1340.7,1474.1 1341.1,1475.1 1341.6,1475.6 1342,1467 1342.5,1474 1342.9,1475.7 1343.4,1472.7 1343.8,1463.1 1344.3,1467.4 1344.7,1433.2 1345.2,1437.7 1345.6,1443 1346.1,1437.5 1346.5,1444.7 1347,1449.3 1347.4,1445.7 1347.9,1453.1 1348.3,1454.2 1348.8,1452.6 1349.2,1447.4 1349.7,1439.8 1350.1,1436.2 1350.6,1442.1 1351,1442.1 1351.5,1445 1351.9,1452.2 1352.4,1445.2 1352.8,1448.6 1353.3,1441.9 1353.7,1446.2 1354.2,1450.5 1354.6,1444.9 1355.1,1447.4 1355.5,1452.6 1356,1442 1356.4,1441.6 1356.9,1441.4 1357.3,1442.7 1357.8,1446.6 1358.2,1460.4 1358.7,1453.7 1359.1,1450.4 1359.6,1444.4 1360,1451.4 1360.5,1444.5 1360.9,1444.2 1361.4,1462.8 1361.8,1471.5 1362.3,1444.4 1362.7,1442.9 1363.2,1440.5 1363.6,1435.7 1364.1,1438.2 1364.5,1449.4 1365,1437.3 1365.4,1452.2 1365.9,1443.9 1366.3,1436.9 1366.8,1444.9 1367.2,1444.7 1367.7,1444.7 1368.1,1450.4 1368.6,1444.6 1369,1449.5 1369.5,1444.5 1369.9,1440.9 1370.4,1436.9 1370.8,1433.8 1371.3,1437.6 1371.7,1438.8 1372.2,1443.1 1372.6,1444 1373.1,1439.2 1373.5,1437.9 1374,1439 1374.4,1442.1 1374.9,1437.6 1375.3,1447.6 1375.8,1448.3 1376.2,1444.5 1376.7,1438.1 1377.1,1448.4 1377.6,1451.5 1378,1453.6 1378.5,1443.9 1378.9,1439.6 1379.4,1433.9 1379.8,1427.6 1380.3,1444 1380.7,1445 1381.2,1447.4 1381.6,1477.8 1382.1,1473.2 1382.5,1448.1 1383,1444.8 1383.4,1446.3 1383.9,1452.8 1384.3,1444.3 1384.8,1441.1 1385.2,1445.2 1385.7,1456.2 1386.1,1461.5 1386.6,1458.5 1387,1447.8 1387.5,1442 1388,1442.8 1388.4,1443.2 1388.9,1457.5 1389.3,1447.5 1389.8,1449.2 1390.2,1447.6 1390.7,1450.8 1391.1,1457.6 1391.6,1445.4 1392,1442.6 1392.5,1449.3 1392.9,1454.6 1393.4,1451.8 1393.8,1442.5 1394.3,1440.6 1394.7,1442.5 1395.2,1438.5 1395.6,1466.6 1396.1,1474.3 1396.5,1468.6 1397,1470.2 1397.4,1475 1397.9,1466.3 1398.3,1466.7 1398.8,1476.9 1399.2,1469.1 1399.7,1469 1400.1,1472 1400.6,1473.8 1401,1451 1401.5,1454.8 1401.9,1447 1402.4,1442.8 1402.8,1445.4 1403.3,1443.3 1403.7,1445.9 1404.2,1446.8 1404.6,1442.5 1405.1,1440.9 1405.5,1435.2 1406,1443.1 1406.4,1441.9 1406.9,1444.2 1407.3,1443 1407.8,1495.3 1408.2,1494.3 1408.7,1495.8 1409.1,1497.6 1409.6,1498.9 1410,1495.1 1410.5,1492.4 1410.9,1500.1 1411.4,1495.9 1411.8,1491.5 1412.3,1497.1 1412.7,1494.5 1413.2,1497 1413.6,1496.6 1414.1,1495.4 1414.5,1501" fill="none" stroke="#39b54a" stroke-width="1.3" stroke-linejoin="round" clip-path="url(#ck1)"/>
<path d="M824.5,1490 825,1484.3 825.4,1490.3 825.9,1500.4 826.3,1492.2 826.8,1497.9 827.2,1507.1 827.7,1493.5 828.1,1492.6 828.6,1490.9 829,1488.8 829.5,1492.1 829.9,1485.4 830.4,1489.6 830.8,1493.1 831.3,1492.1 831.7,1504.3 832.2,1492.6 832.6,1501.1 833.1,1492.3 833.5,1492.9 834,1491.8 834.4,1496.8 834.9,1483.4 835.3,1501.7 835.8,1495.7 836.2,1498.5 836.7,1503.6 837.1,1486.8 837.6,1489.3 838,1476.6 838.5,1482.7 838.9,1486.2 839.4,1486.8 839.8,1498.2 840.3,1501.7 840.7,1486.3 841.2,1485.3 841.6,1494.4 842.1,1492 842.5,1490.9 843,1484.2 843.4,1487.5 843.9,1494.7 844.3,1487.8 844.8,1493.8 845.2,1488.9 845.7,1494.4 846.1,1511.4 846.6,1487.9 847,1496.2 847.5,1487 847.9,1486.5 848.4,1493.3 848.8,1499.1 849.3,1482.3 849.7,1487.4 850.2,1482.6 850.6,1486.8 851.1,1484.4 851.5,1488 852,1498.2 852.4,1498.1 852.9,1491.2 853.3,1498.5 853.8,1495.6 854.2,1493.3 854.7,1485.4 855.1,1479.9 855.6,1500.4 856,1491.6 856.5,1480.6 856.9,1496.4 857.4,1499.4 857.8,1486.8 858.3,1489 858.7,1494 859.2,1491 859.6,1486.9 860.1,1489.5 860.5,1488.5 861,1489.2 861.4,1488.2 861.9,1489 862.3,1487.9 862.8,1491.1 863.2,1484.3 863.7,1490.8 864.1,1493.9 864.6,1500.5 865,1498.2 865.5,1492.2 865.9,1492.3 866.4,1487.7 866.8,1496.9 867.3,1496.5 867.7,1504.5 868.2,1496.6 868.6,1486.9 869.1,1486.9 869.5,1492.1 870,1488.4 870.4,1488.6 870.9,1495.6 871.3,1498.5 871.8,1498.8 872.2,1490.7 872.7,1487.5 873.1,1487.6 873.6,1491.6 874,1479.9 874.5,1488.9 874.9,1487.5 875.4,1488.9 875.8,1484.2 876.3,1499.1 876.7,1490.4 877.2,1492 877.6,1491.9 878.1,1497.6 878.5,1497.4 879,1485.7 879.4,1484.2 879.9,1497.6 880.3,1491.6 880.8,1494.1 881.3,1485.6 881.7,1486.7 882.2,1485.2 882.6,1489.7 883.1,1490.4 883.5,1494.8 884,1501.2 884.4,1497.5 884.9,1485.7 885.3,1481.4 885.8,1493.5 886.2,1497 886.7,1497.4 887.1,1497.8 887.6,1500.3 888,1498.1 888.5,1489.4 888.9,1486.4 889.4,1479.7 889.8,1488.9 890.3,1503.6 890.7,1498.5 891.2,1500 891.6,1496.1 892.1,1497.3 892.5,1487.5 893,1495.4 893.4,1492.7 893.9,1481.1 894.3,1488.5 894.8,1500.6 895.2,1488.9 895.7,1488 896.1,1487.3 896.6,1486.2 897,1495.7 897.5,1498.8 897.9,1492.9 898.4,1502.2 898.8,1499.8 899.3,1487.2 899.7,1497.9 900.2,1491.4 900.6,1485.2 901.1,1490.1 901.5,1493.9 902,1484.5 902.4,1497.7 902.9,1483.5 903.3,1494.6 903.8,1492.4 904.2,1498.5 904.7,1500.2 905.1,1488.3 905.6,1490.2 906,1488.1 906.5,1498.4 906.9,1495.8 907.4,1500.3 907.8,1494.4 908.3,1489.8 908.7,1488.1 909.2,1487.5 909.6,1494.4 910.1,1489 910.5,1493.5 911,1484.1 911.4,1490.4 911.9,1484.1 912.3,1491.6 912.8,1487.7 913.2,1489.1 913.7,1499.7 914.1,1490.1 914.6,1496.7 915,1503.9 915.5,1494.5 915.9,1485.7 916.4,1485.5 916.8,1494.9 917.3,1502.9 917.7,1511.1 918.2,1501.4 918.6,1497.7 919.1,1494.5 919.5,1485.1 920,1490.9 920.4,1498 920.9,1500.3 921.3,1500 921.8,1498.2 922.2,1491.7 922.7,1493.6 923.1,1492.7 923.6,1491.4 924,1490.4 924.5,1487.4 924.9,1483.4 925.4,1495.2 925.8,1494.5 926.3,1493.2 926.7,1493.1 927.2,1487.2 927.6,1486 928.1,1493.7 928.5,1482.2 929,1485.7 929.4,1485.7 929.9,1493.4 930.3,1487.4 930.8,1492.3 931.2,1497.5 931.7,1492.6 932.1,1498 932.6,1500.1 933,1491.4 933.5,1486.8 933.9,1494.3 934.4,1486.6 934.8,1483.1 935.3,1482.1 935.7,1486.7 936.2,1491.9 936.6,1482.4 937.1,1491.1 937.6,1488.5 938,1483.9 938.5,1478.9 938.9,1485.9 939.4,1488.1 939.8,1487.2 940.3,1488.8 940.7,1483.8 941.2,1482.6 941.6,1478.3 942.1,1487.7 942.5,1485.7 943,1493.8 943.4,1494.4 943.9,1483.6 944.3,1490.5 944.8,1502.3 945.2,1497.7 945.7,1496.3 946.1,1503.7 946.6,1493.7 947,1486.9 947.5,1493 947.9,1485.9 948.4,1502 948.8,1489.9 949.3,1490.9 949.7,1477.6 950.2,1487 950.6,1490.1 951.1,1491 951.5,1493.2 952,1494 952.4,1487.9 952.9,1488.6 953.3,1488.6 953.8,1488.7 954.2,1494.5 954.7,1480.8 955.1,1494 955.6,1486.4 956,1490.7 956.5,1484.8 956.9,1490.5 957.4,1484.4 957.8,1486.1 958.3,1482.6 958.7,1476.6 959.2,1485.4 959.6,1488.4 960.1,1504.5 960.5,1494.9 961,1486.8 961.4,1491.2 961.9,1490.7 962.3,1491.8 962.8,1502.7 963.2,1489.3 963.7,1494.7 964.1,1500.2 964.6,1487.9 965,1487.7 965.5,1486.6 965.9,1488.8 966.4,1494.2 966.8,1486.6 967.3,1494.7 967.7,1490.5 968.2,1496.7 968.6,1499.2 969.1,1488.5 969.5,1494.8 970,1482.6 970.4,1496.1 970.9,1486.1 971.3,1491.2 971.8,1486.3 972.2,1485.3 972.7,1499.9 973.1,1489.9 973.6,1492.4 974,1496.8 974.5,1486.4 974.9,1487.3 975.4,1487.3 975.8,1481.4 976.3,1482 976.7,1487.6 977.2,1494.6 977.6,1483.2 978.1,1492.3 978.5,1500.7 979,1482.4 979.4,1475.9 979.9,1495.9 980.3,1490.1 980.8,1498.9 981.2,1489.4 981.7,1493 982.1,1499.7 982.6,1487.8 983,1495 983.5,1489.6 983.9,1494.4 984.4,1481.7 984.8,1481.6 985.3,1490.6 985.7,1503.4 986.2,1492.3 986.6,1496.8 987.1,1485.5 987.5,1479.8 988,1487.4 988.4,1484.4 988.9,1496.6 989.3,1489.1 989.8,1480.5 990.2,1495.9 990.7,1488 991.1,1488.5 991.6,1485 992,1488.8 992.5,1490.7 992.9,1483.8 993.4,1488.6 993.9,1487.5 994.3,1498 994.8,1490.8 995.2,1486.9 995.7,1490.7 996.1,1491.2 996.6,1502.9 997,1500.8 997.5,1495.6 997.9,1494.3 998.4,1479.2 998.8,1482.9 999.3,1495.7 999.7,1479 1000.2,1495.8 1000.6,1499.4 1001.1,1498.8 1001.5,1493.8 1002,1476.6 1002.4,1488.3 1002.9,1487 1003.3,1498.6 1003.8,1496 1004.2,1477.3 1004.7,1479.2 1005.1,1482 1005.6,1479.3 1006,1484.1 1006.5,1485.7 1006.9,1495.9 1007.4,1501.5 1007.8,1498.1 1008.3,1495.1 1008.7,1497.1 1009.2,1488.6 1009.6,1479.3 1010.1,1487.6 1010.5,1499.4 1011,1500.9 1011.4,1487.7 1011.9,1485.2 1012.3,1487.9 1012.8,1486.2 1013.2,1482.7 1013.7,1488.2 1014.1,1488.3 1014.6,1492.2 1015,1503.3 1015.5,1494 1015.9,1492.1 1016.4,1489 1016.8,1493.8 1017.3,1489.4 1017.7,1488.3 1018.2,1492.8 1018.6,1497.7 1019.1,1497.3 1019.5,1490.9 1020,1485.8 1020.4,1478.5 1020.9,1488 1021.3,1487.2 1021.8,1482.7 1022.2,1494.7 1022.7,1488.4 1023.1,1493.1 1023.6,1494 1024,1487.4 1024.5,1491.5 1024.9,1489.2 1025.4,1497.3 1025.8,1493.4 1026.3,1497.1 1026.7,1494.8 1027.2,1474.9 1027.6,1486.1 1028.1,1491 1028.5,1493.5 1029,1496.6 1029.4,1481.7 1029.9,1492.5 1030.3,1476.9 1030.8,1488.2 1031.2,1482.6 1031.7,1487.8 1032.1,1494.1 1032.6,1493.1 1033,1483.6 1033.5,1489.9 1033.9,1502.7 1034.4,1483 1034.8,1493 1035.3,1493.7 1035.7,1482.8 1036.2,1499 1036.6,1496.6 1037.1,1488.8 1037.5,1486.5 1038,1486.2 1038.4,1495.6 1038.9,1486.7 1039.3,1492.6 1039.8,1490.4 1040.2,1496.7 1040.7,1482 1041.1,1490.7 1041.6,1491.4 1042,1494.6 1042.5,1489.7 1042.9,1499 1043.4,1494 1043.8,1493.4 1044.3,1481.6 1044.7,1490.3 1045.2,1492 1045.6,1490.4 1046.1,1484.4 1046.5,1476.3 1047,1483.8 1047.4,1485.5 1047.9,1479.1 1048.3,1486.9 1048.8,1487 1049.2,1493.4 1049.7,1492.5 1050.2,1496.2 1050.6,1478.7 1051.1,1482.2 1051.5,1483.8 1052,1495 1052.4,1491.3 1052.9,1495.3 1053.3,1496.5 1053.8,1501.1 1054.2,1498 1054.7,1476.4 1055.1,1490.3 1055.6,1486.4 1056,1483.4 1056.5,1485.6 1056.9,1484.4 1057.4,1495.2 1057.8,1482.3 1058.3,1475 1058.7,1485.8 1059.2,1493.7 1059.6,1496.9 1060.1,1501.1 1060.5,1490 1061,1485.3 1061.4,1478.4 1061.9,1495.3 1062.3,1486.8 1062.8,1485.3 1063.2,1490.8 1063.7,1496.4 1064.1,1490.7 1064.6,1476.8 1065,1494.8 1065.5,1495.8 1065.9,1495.8 1066.4,1493.3 1066.8,1484.7 1067.3,1492.1 1067.7,1505.7 1068.2,1503.4 1068.6,1502.9 1069.1,1493 1069.5,1490.7 1070,1498.2 1070.4,1488.7 1070.9,1502 1071.3,1495.6 1071.8,1484.2 1072.2,1499 1072.7,1489.7 1073.1,1484.2 1073.6,1492 1074,1490.4 1074.5,1500.4 1074.9,1491.8 1075.4,1499 1075.8,1497.1 1076.3,1490.3 1076.7,1493.4 1077.2,1498.9 1077.6,1493.8 1078.1,1493.8 1078.5,1497.2 1079,1505.7 1079.4,1497 1079.9,1487.5 1080.3,1494.2 1080.8,1495.8 1081.2,1495.8 1081.7,1490.2 1082.1,1500.7 1082.6,1489.4 1083,1477.9 1083.5,1484.4 1083.9,1489 1084.4,1487.9 1084.8,1487.3 1085.3,1492.4 1085.7,1492.5 1086.2,1493.1 1086.6,1488.6 1087.1,1478.7 1087.5,1486.8 1088,1477.2 1088.4,1492.6 1088.9,1487 1089.3,1494.6 1089.8,1491.5 1090.2,1492 1090.7,1503.5 1091.1,1496.6 1091.6,1490.4 1092,1489.2 1092.5,1500 1092.9,1503 1093.4,1491 1093.8,1497.7 1094.3,1480.3 1094.7,1486.1 1095.2,1487.7 1095.6,1491.4 1096.1,1496.3 1096.5,1491.1 1097,1492.7 1097.4,1482.2 1097.9,1487.6 1098.3,1488.6 1098.8,1483.8 1099.2,1482.8 1099.7,1501.6 1100.1,1482 1100.6,1498.1 1101,1499.8 1101.5,1495.7 1101.9,1497.7 1102.4,1481.7 1102.8,1488.2 1103.3,1497.5 1103.7,1495.5 1104.2,1497.6 1104.6,1497.5 1105.1,1490.7 1105.5,1487.7 1106,1491.2 1106.5,1499.6 1106.9,1497.8 1107.4,1487.4 1107.8,1486.7 1108.3,1491.9 1108.7,1486.7 1109.2,1501.7 1109.6,1498.8 1110.1,1493.3 1110.5,1489.9 1111,1484.2 1111.4,1488.6 1111.9,1488.6 1112.3,1489.5 1112.8,1497.4 1113.2,1494.3 1113.7,1483.1 1114.1,1484.2 1114.6,1491.1 1115,1491.1 1115.5,1480.3 1115.9,1477.9 1116.4,1475.3 1116.8,1478.3 1117.3,1488.2 1117.7,1491.5 1118.2,1501.4 1118.6,1486.1 1119.1,1481.8 1119.5,1474.2 1120,1490.9 1120.4,1480.1 1120.9,1484.2 1121.3,1488.1 1121.8,1488.4 1122.2,1497.4 1122.7,1493.3 1123.1,1497.8 1123.6,1496 1124,1491 1124.5,1493.9 1124.9,1487.2 1125.4,1494.1 1125.8,1495.3 1126.3,1495.7 1126.7,1491 1127.2,1489.2 1127.6,1483.9 1128.1,1490.6 1128.5,1494.9 1129,1490.1 1129.4,1479.1 1129.9,1481.6 1130.3,1499.7 1130.8,1492.6 1131.2,1493.7 1131.7,1492.7 1132.1,1485.9 1132.6,1488.8 1133,1490.6 1133.5,1500.6 1133.9,1494.2 1134.4,1496.3 1134.8,1490.7 1135.3,1483.7 1135.7,1493.9 1136.2,1492.9 1136.6,1487.4 1137.1,1499.8 1137.5,1497.7 1138,1501.8 1138.4,1497.8 1138.9,1493.3 1139.3,1493.5 1139.8,1482.4 1140.2,1483.1 1140.7,1487.1 1141.1,1482.4 1141.6,1476 1142,1488.5 1142.5,1491 1142.9,1488.5 1143.4,1483.2 1143.8,1501 1144.3,1494 1144.7,1474.5 1145.2,1485.4 1145.6,1476.7 1146.1,1470.6 1146.5,1479.4 1147,1472.4 1147.4,1484.6 1147.9,1499.6 1148.3,1496 1148.8,1482.6 1149.2,1470.8 1149.7,1480.5 1150.1,1497.5 1150.6,1492.3 1151,1503.4 1151.5,1493.5 1151.9,1480.8 1152.4,1493.2 1152.8,1496.6 1153.3,1495 1153.7,1493.8 1154.2,1487.5 1154.6,1487.1 1155.1,1484.4 1155.5,1494.8 1156,1483.8 1156.4,1484 1156.9,1408.6 1157.3,1408.6 1157.8,1408.6 1158.2,1408.6 1158.7,1408.6 1159.1,1413.8 1159.6,1418 1160,1412.3 1160.5,1419 1160.9,1421 1161.4,1412.2 1161.8,1424.5 1162.3,1427.3 1162.8,1433.3 1163.2,1428.8 1163.7,1416.3 1164.1,1422.6 1164.6,1411.4 1165,1421.2 1165.5,1419.4 1165.9,1427.1 1166.4,1417.9 1166.8,1406.8 1167.3,1418.4 1167.7,1430.2 1168.2,1424.2 1168.6,1417.1 1169.1,1425 1169.5,1409.5 1170,1425.7 1170.4,1418.5 1170.9,1410.9 1171.3,1415.9 1171.8,1411 1172.2,1414.7 1172.7,1421.6 1173.1,1424 1173.6,1410 1174,1428.9 1174.5,1421.7 1174.9,1447.3 1175.4,1446.4 1175.8,1437.8 1176.3,1446.3 1176.7,1453.4 1177.2,1437.7 1177.6,1432.6 1178.1,1439 1178.5,1447 1179,1450.1 1179.4,1442.5 1179.9,1439.5 1180.3,1438.3 1180.8,1436.8 1181.2,1440.7 1181.7,1437.9 1182.1,1441.2 1182.6,1439.6 1183,1443 1183.5,1440.7 1183.9,1447.9 1184.4,1445.5 1184.8,1450.8 1185.3,1441.3 1185.7,1446 1186.2,1448 1186.6,1448.3 1187.1,1449.8 1187.5,1451 1188,1441.4 1188.4,1439 1188.9,1435.7 1189.3,1444.5 1189.8,1441.5 1190.2,1454.9 1190.7,1440.6 1191.1,1448.6 1191.6,1436.3 1192,1436.2 1192.5,1427.2 1192.9,1434.7 1193.4,1444.4 1193.8,1429.1 1194.3,1430.1 1194.7,1431.3 1195.2,1406.6 1195.6,1417.1 1196.1,1435 1196.5,1426.7 1197,1426.6 1197.4,1418.7 1197.9,1423 1198.3,1418.1 1198.8,1425.7 1199.2,1415.3 1199.7,1415.4 1200.1,1424 1200.6,1413.2 1201,1408.9 1201.5,1413.5 1201.9,1422.6 1202.4,1419.3 1202.8,1419.9 1203.3,1423.6 1203.7,1422.3 1204.2,1443.5 1204.6,1451.6 1205.1,1445.4 1205.5,1450.1 1206,1444.8 1206.4,1444.4 1206.9,1437.5 1207.3,1444 1207.8,1441.9 1208.2,1451.6 1208.7,1416.6 1209.1,1406 1209.6,1417.4 1210,1416.8 1210.5,1415.5 1210.9,1420.6 1211.4,1415.2 1211.8,1443.8 1212.3,1443.4 1212.7,1443.1 1213.2,1446.4 1213.6,1452.5 1214.1,1438.8 1214.5,1440.5 1215,1446.6 1215.4,1451 1215.9,1445.8 1216.3,1449.7 1216.8,1441.2 1217.2,1441.7 1217.7,1439.5 1218.1,1434.8 1218.6,1438.8 1219.1,1437.4 1219.5,1433.3 1220,1436.4 1220.4,1455.1 1220.9,1417.5 1221.3,1418.5 1221.8,1416.8 1222.2,1409.9 1222.7,1419.2 1223.1,1417.5 1223.6,1433.7 1224,1415.3 1224.5,1419.9 1224.9,1422.5 1225.4,1423.3 1225.8,1418.1 1226.3,1432.2 1226.7,1412.6 1227.2,1417.9 1227.6,1420.9 1228.1,1412.2 1228.5,1412.9 1229,1415.5 1229.4,1425.4 1229.9,1415.4 1230.3,1417.9 1230.8,1425.6 1231.2,1423.7 1231.7,1420.2 1232.1,1446.8 1232.6,1438.2 1233,1444.7 1233.5,1437.4 1233.9,1439 1234.4,1417.3 1234.8,1426.5 1235.3,1422.3 1235.7,1417.7 1236.2,1418.1 1236.6,1422.7 1237.1,1419.5 1237.5,1423 1238,1422.2 1238.4,1413.9 1238.9,1408.5 1239.3,1406.2 1239.8,1413 1240.2,1422.5 1240.7,1423.4 1241.1,1414.8 1241.6,1418.5 1242,1410.6 1242.5,1420.3 1242.9,1415.3 1243.4,1427.8 1243.8,1425.3 1244.3,1419.2 1244.7,1418.1 1245.2,1419.3 1245.6,1427.9 1246.1,1422.6 1246.5,1423.6 1247,1426.2 1247.4,1421.4 1247.9,1426.6 1248.3,1427.1 1248.8,1409.2 1249.2,1415.4 1249.7,1411.7 1250.1,1421.8 1250.6,1424.5 1251,1430.8 1251.5,1432.7 1251.9,1433 1252.4,1442.9 1252.8,1448.6 1253.3,1449.9 1253.7,1448.7 1254.2,1439.9 1254.6,1423.3 1255.1,1418.3 1255.5,1427.2 1256,1419.6 1256.4,1421.2 1256.9,1438.7 1257.3,1448.8 1257.8,1445.5 1258.2,1443.7 1258.7,1447.5 1259.1,1440.5 1259.6,1441.7 1260,1439.1 1260.5,1445.4 1260.9,1442.3 1261.4,1430.5 1261.8,1420.1 1262.3,1429.8 1262.7,1428.5 1263.2,1423.3 1263.6,1418.8 1264.1,1420.2 1264.5,1434.2 1265,1433.6 1265.4,1430.7 1265.9,1425.4 1266.3,1431.7 1266.8,1430.4 1267.2,1443.3 1267.7,1442.7 1268.1,1439.9 1268.6,1439.9 1269,1451.6 1269.5,1452.4 1269.9,1445.8 1270.4,1442.1 1270.8,1446.8 1271.3,1438.6 1271.7,1446.6 1272.2,1448 1272.6,1445 1273.1,1442.5 1273.5,1447.3 1274,1445.4 1274.4,1450.4 1274.9,1450.4 1275.4,1436.1 1275.8,1448.7 1276.3,1435.6 1276.7,1445 1277.2,1436.2 1277.6,1444.4 1278.1,1450.7 1278.5,1446.4 1279,1444.6 1279.4,1442.4 1279.9,1449.7 1280.3,1454.9 1280.8,1448.5 1281.2,1448.2 1281.7,1450 1282.1,1446.2 1282.6,1435.8 1283,1433.4 1283.5,1438.5 1283.9,1433.4 1284.4,1428 1284.8,1429.3 1285.3,1450 1285.7,1450 1286.2,1443.3 1286.6,1437 1287.1,1449.2 1287.5,1430.9 1288,1443.6 1288.4,1449.4 1288.9,1458.3 1289.3,1441.7 1289.8,1436.2 1290.2,1435 1290.7,1418 1291.1,1418.4 1291.6,1420.1 1292,1409.7 1292.5,1413.5 1292.9,1412.5 1293.4,1429.6 1293.8,1434.7 1294.3,1418.3 1294.7,1416.8 1295.2,1416.9 1295.6,1420.9 1296.1,1419.6 1296.5,1424 1297,1418.3 1297.4,1452.5 1297.9,1445.1 1298.3,1447.6 1298.8,1449.8 1299.2,1446.4 1299.7,1445.2 1300.1,1444.3 1300.6,1432.6 1301,1447.7 1301.5,1450.5 1301.9,1445.1 1302.4,1443.6 1302.8,1440.6 1303.3,1436.3 1303.7,1438.7 1304.2,1447.3 1304.6,1429.3 1305.1,1437.5 1305.5,1441 1306,1441.9 1306.4,1448.1 1306.9,1449.3 1307.3,1444.7 1307.8,1441.8 1308.2,1439.1 1308.7,1448.5 1309.1,1440.1 1309.6,1449.1 1310,1437.9 1310.5,1424.9 1310.9,1424.8 1311.4,1419.6 1311.8,1414.5 1312.3,1422.8 1312.7,1412.8 1313.2,1450 1313.6,1449.1 1314.1,1441.1 1314.5,1432.4 1315,1443.1 1315.4,1452.4 1315.9,1442.3 1316.3,1432 1316.8,1415.2 1317.2,1424.8 1317.7,1432 1318.1,1406.9 1318.6,1416 1319,1452.2 1319.5,1457.6 1319.9,1439.1 1320.4,1433.1 1320.8,1440.6 1321.3,1445.2 1321.7,1438.6 1322.2,1436 1322.6,1439.2 1323.1,1450.2 1323.5,1443 1324,1426.8 1324.4,1445.1 1324.9,1448.6 1325.3,1449.9 1325.8,1450.4 1326.2,1434.9 1326.7,1435.6 1327.1,1447.6 1327.6,1452 1328,1446.2 1328.5,1448.7 1328.9,1442.4 1329.4,1441.4 1329.8,1452.8 1330.3,1433.3 1330.7,1445.4 1331.2,1434.1 1331.7,1439.2 1332.1,1443.8 1332.6,1457.4 1333,1451.7 1333.5,1438.2 1333.9,1436 1334.4,1446.8 1334.8,1440.6 1335.3,1425.9 1335.7,1431.8 1336.2,1426.5 1336.6,1430.6 1337.1,1416.2 1337.5,1424.2 1338,1421.9 1338.4,1423.2 1338.9,1426.8 1339.3,1418.5 1339.8,1418.6 1340.2,1418.8 1340.7,1423.7 1341.1,1419.2 1341.6,1428.5 1342,1422.1 1342.5,1423.7 1342.9,1442.6 1343.4,1437.5 1343.8,1429.5 1344.3,1410.2 1344.7,1431 1345.2,1443.5 1345.6,1435.6 1346.1,1447.2 1346.5,1436.6 1347,1443.6 1347.4,1449.2 1347.9,1455.5 1348.3,1448 1348.8,1438.1 1349.2,1442 1349.7,1420.5 1350.1,1440.6 1350.6,1434.4 1351,1434.2 1351.5,1439.6 1351.9,1443.5 1352.4,1447.7 1352.8,1439.6 1353.3,1436.7 1353.7,1442.6 1354.2,1447.7 1354.6,1453.1 1355.1,1446.8 1355.5,1455.7 1356,1452.1 1356.4,1432.9 1356.9,1446.3 1357.3,1447.4 1357.8,1438.7 1358.2,1438.9 1358.7,1443.8 1359.1,1440.6 1359.6,1443.4 1360,1443 1360.5,1448.9 1360.9,1441.5 1361.4,1420.4 1361.8,1421.2 1362.3,1440.5 1362.7,1441.8 1363.2,1445.5 1363.6,1443.5 1364.1,1447.1 1364.5,1460 1365,1453.9 1365.4,1449.2 1365.9,1445 1366.3,1441.7 1366.8,1434.4 1367.2,1431 1367.7,1429.6 1368.1,1440.9 1368.6,1435.9 1369,1455.5 1369.5,1454.7 1369.9,1436.2 1370.4,1442.3 1370.8,1444 1371.3,1441.1 1371.7,1439.4 1372.2,1444.1 1372.6,1443.9 1373.1,1452.9 1373.5,1444 1374,1437.9 1374.4,1435.9 1374.9,1439.9 1375.3,1446 1375.8,1446.4 1376.2,1449.5 1376.7,1454.4 1377.1,1443.7 1377.6,1447.9 1378,1430.5 1378.5,1437.7 1378.9,1432.7 1379.4,1450.1 1379.8,1446.3 1380.3,1438.6 1380.7,1436.6 1381.2,1438.8 1381.6,1417.4 1382.1,1425.8 1382.5,1449.9 1383,1448.4 1383.4,1454.1 1383.9,1440.1 1384.3,1449.4 1384.8,1451.7 1385.2,1447.2 1385.7,1433.8 1386.1,1438.7 1386.6,1438.5 1387,1441.1 1387.5,1432.4 1388,1436 1388.4,1450.4 1388.9,1453.1 1389.3,1445 1389.8,1442 1390.2,1446.3 1390.7,1442 1391.1,1434.4 1391.6,1443.7 1392,1434.4 1392.5,1431.5 1392.9,1458.9 1393.4,1452 1393.8,1440.9 1394.3,1443.1 1394.7,1442.9 1395.2,1437.3 1395.6,1415.2 1396.1,1424.7 1396.5,1439.3 1397,1423.8 1397.4,1416.1 1397.9,1417.2 1398.3,1418.3 1398.8,1416.3 1399.2,1417.3 1399.7,1425 1400.1,1421.4 1400.6,1418.2 1401,1446 1401.5,1443.4 1401.9,1436.1 1402.4,1428.4 1402.8,1434.1 1403.3,1427.2 1403.7,1438.7 1404.2,1442.9 1404.6,1434.4 1405.1,1441.7 1405.5,1445.3 1406,1451.1 1406.4,1445.7 1406.9,1445.8 1407.3,1452.3 1407.8,1475.2 1408.2,1482.4 1408.7,1474.3 1409.1,1462.4 1409.6,1470.9 1410,1456.8 1410.5,1466.4 1410.9,1480.9 1411.4,1464.1 1411.8,1469.1 1412.3,1465.9 1412.7,1466.4 1413.2,1473.6 1413.6,1475.1 1414.1,1472.7 1414.5,1473" fill="none" stroke="#e2232a" stroke-width="1.3" stroke-linejoin="round" clip-path="url(#ck1)"/>
<path d="M824.5,1615 825,1614.5 825.4,1616.3 825.9,1617.7 826.3,1621.4 826.8,1620.8 827.2,1627.4 827.7,1621.4 828.1,1618.5 828.6,1616.9 829,1619.5 829.5,1614.6 829.9,1617.6 830.4,1618.6 830.8,1621.5 831.3,1622.6 831.7,1627 832.2,1625.4 832.6,1623.9 833.1,1622.8 833.5,1625.3 834,1627.7 834.4,1626.9 834.9,1624.7 835.3,1619 835.8,1623.4 836.2,1620.7 836.7,1621.9 837.1,1622.5 837.6,1624.8 838,1615.2 838.5,1617.6 838.9,1619.7 839.4,1617.8 839.8,1623 840.3,1624.8 840.7,1621.8 841.2,1625.3 841.6,1623 842.1,1616.8 842.5,1623 843,1621.7 843.4,1618.5 843.9,1624.7 844.3,1621.5 844.8,1621 845.2,1626.1 845.7,1623.2 846.1,1619.4 846.6,1616.7 847,1619.7 847.5,1615.5 847.9,1617.6 848.4,1619.2 848.8,1622.9 849.3,1623.2 849.7,1620.1 850.2,1620.3 850.6,1616.2 851.1,1617.7 851.5,1619.3 852,1612.2 852.4,1618.4 852.9,1618.1 853.3,1614.5 853.8,1616.9 854.2,1616.1 854.7,1615.9 855.1,1624.2 855.6,1616.7 856,1620.3 856.5,1620.3 856.9,1615 857.4,1618.6 857.8,1619.8 858.3,1618.3 858.7,1621.9 859.2,1618.8 859.6,1619.6 860.1,1621.3 860.5,1623.7 861,1620.1 861.4,1627.5 861.9,1625.8 862.3,1625.6 862.8,1621 863.2,1612.7 863.7,1615.2 864.1,1613.9 864.6,1621.8 865,1616.9 865.5,1622.7 865.9,1623.8 866.4,1623 866.8,1626.4 867.3,1621 867.7,1617.5 868.2,1616.8 868.6,1624 869.1,1628.8 869.5,1625.9 870,1617.1 870.4,1625.9 870.9,1626.8 871.3,1618.3 871.8,1617 872.2,1615.9 872.7,1618.1 873.1,1618.5 873.6,1619.1 874,1620.9 874.5,1628.3 874.9,1625 875.4,1618.7 875.8,1623 876.3,1619.1 876.7,1620.5 877.2,1622.8 877.6,1618.1 878.1,1620.2 878.5,1625.4 879,1627.6 879.4,1620.1 879.9,1619.3 880.3,1623.4 880.8,1620 881.3,1620.9 881.7,1615.2 882.2,1620.9 882.6,1625.3 883.1,1627.4 883.5,1627 884,1625.8 884.4,1625.6 884.9,1624.9 885.3,1626.2 885.8,1620.4 886.2,1616.5 886.7,1622.6 887.1,1616.5 887.6,1615.2 888,1613.8 888.5,1619.6 888.9,1623.7 889.4,1617.6 889.8,1626.9 890.3,1624.7 890.7,1624.3 891.2,1624.3 891.6,1625.2 892.1,1623.5 892.5,1622.8 893,1620.9 893.4,1624.2 893.9,1622.7 894.3,1619.9 894.8,1620.1 895.2,1624 895.7,1624.4 896.1,1620.6 896.6,1621.5 897,1621.9 897.5,1621.8 897.9,1618.5 898.4,1618.2 898.8,1607.9 899.3,1609.8 899.7,1613.5 900.2,1614.5 900.6,1619.8 901.1,1620 901.5,1617.6 902,1614.4 902.4,1618 902.9,1621.2 903.3,1620 903.8,1621.5 904.2,1622.3 904.7,1619.7 905.1,1615.7 905.6,1620.4 906,1614.5 906.5,1617.9 906.9,1624.5 907.4,1620.7 907.8,1619.9 908.3,1618.4 908.7,1625 909.2,1620.4 909.6,1617.3 910.1,1622.9 910.5,1625.1 911,1619.4 911.4,1612.4 911.9,1611.3 912.3,1621.1 912.8,1614.9 913.2,1621.9 913.7,1621.6 914.1,1622 914.6,1616.7 915,1614.6 915.5,1618 915.9,1617.9 916.4,1622.4 916.8,1620.8 917.3,1615.6 917.7,1617.7 918.2,1621 918.6,1616.2 919.1,1619.8 919.5,1619.4 920,1618.8 920.4,1618.9 920.9,1621.5 921.3,1621.1 921.8,1621.8 922.2,1621.7 922.7,1628.6 923.1,1625.6 923.6,1624 924,1617.6 924.5,1615.2 924.9,1623.7 925.4,1626.2 925.8,1620.9 926.3,1620.4 926.7,1622.8 927.2,1624.8 927.6,1624.2 928.1,1624 928.5,1626.4 929,1621.7 929.4,1616 929.9,1619 930.3,1619 930.8,1626.8 931.2,1627 931.7,1629.2 932.1,1622.4 932.6,1618 933,1623.2 933.5,1623.6 933.9,1625.4 934.4,1624.3 934.8,1627.2 935.3,1620.9 935.7,1623.5 936.2,1625.8 936.6,1626.6 937.1,1624.6 937.6,1618.3 938,1618.7 938.5,1619.4 938.9,1622.3 939.4,1624.5 939.8,1621.4 940.3,1618 940.7,1615.6 941.2,1618.4 941.6,1623.8 942.1,1624.2 942.5,1622.4 943,1620.3 943.4,1620.1 943.9,1616.9 944.3,1616.9 944.8,1616.6 945.2,1614.7 945.7,1616.9 946.1,1614.7 946.6,1619 947,1621.4 947.5,1615.2 947.9,1618.2 948.4,1612 948.8,1623.4 949.3,1620.7 949.7,1618.7 950.2,1611.7 950.6,1612.9 951.1,1618.4 951.5,1618.5 952,1622.1 952.4,1623.4 952.9,1619.8 953.3,1619.1 953.8,1613.5 954.2,1626.6 954.7,1623.7 955.1,1619.2 955.6,1615.2 956,1617.4 956.5,1618.7 956.9,1617.7 957.4,1609 957.8,1612.5 958.3,1620.2 958.7,1622.9 959.2,1620.1 959.6,1623 960.1,1618.7 960.5,1619 961,1620.1 961.4,1619.3 961.9,1624.6 962.3,1624.8 962.8,1623.3 963.2,1621.7 963.7,1620.6 964.1,1620.1 964.6,1613 965,1622.6 965.5,1617 965.9,1617 966.4,1621.4 966.8,1620.4 967.3,1622.4 967.7,1622.2 968.2,1620.1 968.6,1618.4 969.1,1618.8 969.5,1616.1 970,1623.1 970.4,1617.2 970.9,1618.2 971.3,1622.8 971.8,1617.3 972.2,1618.3 972.7,1620.4 973.1,1620.8 973.6,1622.4 974,1626.5 974.5,1623 974.9,1620.4 975.4,1622.4 975.8,1621.9 976.3,1630 976.7,1621 977.2,1623.3 977.6,1625.7 978.1,1620.6 978.5,1616.7 979,1617.6 979.4,1616.2 979.9,1618.5 980.3,1621.2 980.8,1615.7 981.2,1626.6 981.7,1627.6 982.1,1624.4 982.6,1619.3 983,1618.7 983.5,1620.3 983.9,1620.9 984.4,1618.3 984.8,1620.5 985.3,1619.9 985.7,1619.3 986.2,1623.9 986.6,1624.9 987.1,1623.9 987.5,1621 988,1617 988.4,1621.6 988.9,1627.4 989.3,1619.8 989.8,1625 990.2,1619 990.7,1622.5 991.1,1623.8 991.6,1622.4 992,1624.6 992.5,1619.5 992.9,1617.8 993.4,1628 993.9,1624.2 994.3,1627.4 994.8,1623.2 995.2,1620 995.7,1623.1 996.1,1621.5 996.6,1621.3 997,1619.5 997.5,1620.2 997.9,1623.5 998.4,1619.8 998.8,1619.1 999.3,1626.3 999.7,1624.5 1000.2,1625.7 1000.6,1623.5 1001.1,1630.7 1001.5,1627.2 1002,1617.1 1002.4,1623.9 1002.9,1622.1 1003.3,1614.9 1003.8,1616.7 1004.2,1615.4 1004.7,1618.9 1005.1,1624.6 1005.6,1625.9 1006,1621.3 1006.5,1623.9 1006.9,1622.9 1007.4,1624.3 1007.8,1628.5 1008.3,1633.8 1008.7,1623.8 1009.2,1627 1009.6,1627.6 1010.1,1623.7 1010.5,1622.7 1011,1623 1011.4,1620.4 1011.9,1618.8 1012.3,1621.1 1012.8,1623.9 1013.2,1618.9 1013.7,1620.1 1014.1,1622.3 1014.6,1622.4 1015,1617.4 1015.5,1611.7 1015.9,1617.3 1016.4,1620.4 1016.8,1618.4 1017.3,1617.7 1017.7,1615.7 1018.2,1618.3 1018.6,1622.4 1019.1,1617.3 1019.5,1621.8 1020,1623.1 1020.4,1624.4 1020.9,1621.6 1021.3,1626 1021.8,1625.8 1022.2,1616.8 1022.7,1615.6 1023.1,1615.2 1023.6,1614.8 1024,1611.2 1024.5,1618.7 1024.9,1619.5 1025.4,1616.9 1025.8,1620.1 1026.3,1619 1026.7,1621.6 1027.2,1619.9 1027.6,1618.5 1028.1,1616.6 1028.5,1616.1 1029,1616.7 1029.4,1626.3 1029.9,1622.3 1030.3,1621.6 1030.8,1621.1 1031.2,1623.8 1031.7,1619.5 1032.1,1619.4 1032.6,1621.3 1033,1620.5 1033.5,1618.6 1033.9,1622.9 1034.4,1618.4 1034.8,1618.7 1035.3,1617.2 1035.7,1620.6 1036.2,1621.9 1036.6,1624.5 1037.1,1624.5 1037.5,1621.2 1038,1620.7 1038.4,1619.7 1038.9,1625 1039.3,1622.9 1039.8,1617.2 1040.2,1619.8 1040.7,1618.7 1041.1,1621.5 1041.6,1617.7 1042,1619.4 1042.5,1618.7 1042.9,1619.1 1043.4,1612.3 1043.8,1618.2 1044.3,1613.4 1044.7,1621.9 1045.2,1620.4 1045.6,1617.6 1046.1,1620.5 1046.5,1616.9 1047,1613.6 1047.4,1617.6 1047.9,1619.1 1048.3,1621.2 1048.8,1626 1049.2,1624.6 1049.7,1621.2 1050.2,1618.4 1050.6,1620 1051.1,1622.2 1051.5,1622.1 1052,1622.5 1052.4,1618.1 1052.9,1618.3 1053.3,1627.2 1053.8,1623.8 1054.2,1619.6 1054.7,1628.1 1055.1,1622.5 1055.6,1621.9 1056,1617.5 1056.5,1621.1 1056.9,1622 1057.4,1622.6 1057.8,1621 1058.3,1617.1 1058.7,1617.9 1059.2,1615.7 1059.6,1619.1 1060.1,1619.8 1060.5,1619.1 1061,1617.4 1061.4,1617 1061.9,1613.3 1062.3,1619.8 1062.8,1621 1063.2,1619.4 1063.7,1615.3 1064.1,1617 1064.6,1621.6 1065,1617.7 1065.5,1621 1065.9,1621.6 1066.4,1616.6 1066.8,1615 1067.3,1622.5 1067.7,1615.6 1068.2,1617.1 1068.6,1617.3 1069.1,1630 1069.5,1627.3 1070,1624.2 1070.4,1624.8 1070.9,1624.7 1071.3,1622.6 1071.8,1620.6 1072.2,1619.4 1072.7,1624.6 1073.1,1622.6 1073.6,1623.3 1074,1613.1 1074.5,1616.4 1074.9,1621.1 1075.4,1621.5 1075.8,1626.9 1076.3,1623.6 1076.7,1618.4 1077.2,1615.9 1077.6,1611.3 1078.1,1618 1078.5,1623.4 1079,1622 1079.4,1620.4 1079.9,1620.8 1080.3,1616.5 1080.8,1620 1081.2,1619.7 1081.7,1616.7 1082.1,1617.9 1082.6,1614.6 1083,1611.3 1083.5,1614.6 1083.9,1621.1 1084.4,1615.6 1084.8,1621.2 1085.3,1621.5 1085.7,1625.6 1086.2,1625.4 1086.6,1626.6 1087.1,1623.4 1087.5,1626.9 1088,1626.7 1088.4,1624.4 1088.9,1617.5 1089.3,1620.5 1089.8,1625.4 1090.2,1625.9 1090.7,1614.8 1091.1,1622.3 1091.6,1626.3 1092,1622.4 1092.5,1620.6 1092.9,1618.3 1093.4,1624.8 1093.8,1622.9 1094.3,1623.1 1094.7,1616.6 1095.2,1614.8 1095.6,1624.6 1096.1,1619 1096.5,1621.4 1097,1621.5 1097.4,1622.6 1097.9,1627.6 1098.3,1624.8 1098.8,1626.5 1099.2,1622.6 1099.7,1623.4 1100.1,1621.3 1100.6,1624.6 1101,1627.3 1101.5,1621.2 1101.9,1626.7 1102.4,1620.1 1102.8,1617.7 1103.3,1619.9 1103.7,1619.9 1104.2,1623.5 1104.6,1621.7 1105.1,1627.9 1105.5,1622.9 1106,1623.2 1106.5,1622.4 1106.9,1627.6 1107.4,1621.1 1107.8,1615.1 1108.3,1618.5 1108.7,1620.3 1109.2,1614.3 1109.6,1617.1 1110.1,1620.5 1110.5,1628 1111,1619.8 1111.4,1621.9 1111.9,1619 1112.3,1616.6 1112.8,1617.5 1113.2,1618.2 1113.7,1621.2 1114.1,1620.2 1114.6,1619.9 1115,1619.4 1115.5,1624.9 1115.9,1626.4 1116.4,1626.3 1116.8,1619.3 1117.3,1619.3 1117.7,1626.5 1118.2,1619.8 1118.6,1616 1119.1,1618.3 1119.5,1612.5 1120,1614.6 1120.4,1614.5 1120.9,1612.3 1121.3,1615 1121.8,1620.1 1122.2,1623.2 1122.7,1625 1123.1,1623.1 1123.6,1622.5 1124,1623.8 1124.5,1615.7 1124.9,1616 1125.4,1616.1 1125.8,1618.4 1126.3,1617.8 1126.7,1618.9 1127.2,1621.4 1127.6,1620.4 1128.1,1625.9 1128.5,1623.8 1129,1621.6 1129.4,1620.7 1129.9,1622.3 1130.3,1622 1130.8,1618.9 1131.2,1622 1131.7,1623.8 1132.1,1616.6 1132.6,1620.4 1133,1621.4 1133.5,1621.8 1133.9,1618.8 1134.4,1620.1 1134.8,1624 1135.3,1626.1 1135.7,1628.2 1136.2,1623.1 1136.6,1623.2 1137.1,1619.6 1137.5,1618.5 1138,1621.9 1138.4,1618.7 1138.9,1620.5 1139.3,1616.3 1139.8,1616.6 1140.2,1617.2 1140.7,1614.2 1141.1,1618.1 1141.6,1622.1 1142,1620.6 1142.5,1622.1 1142.9,1612.1 1143.4,1618.2 1143.8,1621.2 1144.3,1623.6 1144.7,1615.9 1145.2,1623.7 1145.6,1623.5 1146.1,1623 1146.5,1623.4 1147,1622.5 1147.4,1618.7 1147.9,1624.8 1148.3,1624.4 1148.8,1620.6 1149.2,1618.4 1149.7,1615.6 1150.1,1620.1 1150.6,1627.3 1151,1622.9 1151.5,1616.7 1151.9,1618.8 1152.4,1617.7 1152.8,1620.9 1153.3,1623 1153.7,1620.3 1154.2,1626.6 1154.6,1622.1 1155.1,1620.8 1155.5,1618 1156,1621.1 1156.4,1617.6 1156.9,1617.3 1157.3,1517.7 1157.8,1523.5 1158.2,1526.3 1158.7,1529.1 1159.1,1524.9 1159.6,1542.9 1160,1538.4 1160.5,1539.9 1160.9,1543.1 1161.4,1542 1161.8,1538.7 1162.3,1539.5 1162.8,1539.3 1163.2,1538.1 1163.7,1539.3 1164.1,1541 1164.6,1539.1 1165,1544.8 1165.5,1543 1165.9,1543.4 1166.4,1541 1166.8,1538.5 1167.3,1538.7 1167.7,1537.5 1168.2,1538.7 1168.6,1539.4 1169.1,1536.4 1169.5,1541 1170,1541.4 1170.4,1538.5 1170.9,1536.6 1171.3,1536.6 1171.8,1540 1172.2,1538.5 1172.7,1536.1 1173.1,1540.5 1173.6,1532.9 1174,1533.5 1174.5,1540.3 1174.9,1561.1 1175.4,1566.9 1175.8,1563.1 1176.3,1569 1176.7,1569.2 1177.2,1574.6 1177.6,1573.5 1178.1,1574.1 1178.5,1570.2 1179,1564.3 1179.4,1565.3 1179.9,1571.7 1180.3,1562.9 1180.8,1567.3 1181.2,1566.5 1181.7,1564 1182.1,1562.1 1182.6,1566.6 1183,1561.8 1183.5,1564.9 1183.9,1565.1 1184.4,1574.6 1184.8,1566.2 1185.3,1569.4 1185.7,1572.3 1186.2,1565 1186.6,1566.3 1187.1,1569.4 1187.5,1569.3 1188,1569.9 1188.4,1570.7 1188.9,1564.7 1189.3,1567.5 1189.8,1567 1190.2,1570.1 1190.7,1571.5 1191.1,1570.7 1191.6,1571.4 1192,1568.9 1192.5,1563.1 1192.9,1557.1 1193.4,1564.7 1193.8,1561.9 1194.3,1566.3 1194.7,1563.4 1195.2,1536.8 1195.6,1538.8 1196.1,1538.2 1196.5,1543.1 1197,1544.7 1197.4,1549.7 1197.9,1537.4 1198.3,1532.2 1198.8,1535.2 1199.2,1531.9 1199.7,1534.8 1200.1,1539.9 1200.6,1539.6 1201,1543.9 1201.5,1540.6 1201.9,1537.5 1202.4,1536.7 1202.8,1541.2 1203.3,1539 1203.7,1542.6 1204.2,1571.9 1204.6,1575.4 1205.1,1569.2 1205.5,1567.6 1206,1565.6 1206.4,1561 1206.9,1558.3 1207.3,1564.1 1207.8,1561.4 1208.2,1565.1 1208.7,1538.5 1209.1,1537.4 1209.6,1537.3 1210,1537.4 1210.5,1538.5 1210.9,1536.6 1211.4,1543.6 1211.8,1565.7 1212.3,1568.1 1212.7,1568.6 1213.2,1569.3 1213.6,1571.8 1214.1,1566 1214.5,1568.4 1215,1568.8 1215.4,1565.2 1215.9,1562.6 1216.3,1565.5 1216.8,1566.1 1217.2,1564.9 1217.7,1565.2 1218.1,1564.4 1218.6,1567.8 1219.1,1567.2 1219.5,1569.7 1220,1564.3 1220.4,1563.4 1220.9,1534.8 1221.3,1535.7 1221.8,1538.6 1222.2,1542.7 1222.7,1542.6 1223.1,1538.2 1223.6,1540.9 1224,1534.2 1224.5,1535.3 1224.9,1539.1 1225.4,1537.4 1225.8,1530.6 1226.3,1533.7 1226.7,1529 1227.2,1534.1 1227.6,1538.5 1228.1,1536.8 1228.5,1541.2 1229,1544.4 1229.4,1546.7 1229.9,1537.3 1230.3,1538.2 1230.8,1544.7 1231.2,1537.6 1231.7,1542.6 1232.1,1571.2 1232.6,1564.2 1233,1568.6 1233.5,1563.8 1233.9,1567.3 1234.4,1537.5 1234.8,1534.3 1235.3,1535.7 1235.7,1536.6 1236.2,1536.2 1236.6,1541.6 1237.1,1538.9 1237.5,1538 1238,1532.4 1238.4,1536.2 1238.9,1534.1 1239.3,1534.9 1239.8,1541.6 1240.2,1541.5 1240.7,1539.4 1241.1,1536.9 1241.6,1539.5 1242,1540 1242.5,1536.9 1242.9,1535.3 1243.4,1538.2 1243.8,1539.1 1244.3,1536.2 1244.7,1539.5 1245.2,1537.2 1245.6,1536 1246.1,1543.2 1246.5,1535.1 1247,1532 1247.4,1532.6 1247.9,1532 1248.3,1534.9 1248.8,1533.2 1249.2,1538.2 1249.7,1542.6 1250.1,1539.7 1250.6,1537.7 1251,1538 1251.5,1539.7 1251.9,1540.8 1252.4,1569.9 1252.8,1568.3 1253.3,1572.8 1253.7,1569.2 1254.2,1568.8 1254.6,1536.4 1255.1,1541 1255.5,1539.2 1256,1539.4 1256.4,1539.9 1256.9,1566.1 1257.3,1564.9 1257.8,1562.6 1258.2,1559.5 1258.7,1559.1 1259.1,1566.3 1259.6,1575.5 1260,1572 1260.5,1569.4 1260.9,1565.2 1261.4,1535.5 1261.8,1534.7 1262.3,1538.7 1262.7,1541.9 1263.2,1539.3 1263.6,1531.3 1264.1,1536.2 1264.5,1541.6 1265,1537.7 1265.4,1537.9 1265.9,1537.9 1266.3,1534.9 1266.8,1537 1267.2,1573.2 1267.7,1572.5 1268.1,1569.8 1268.6,1565 1269,1567.7 1269.5,1565.3 1269.9,1562.3 1270.4,1559.8 1270.8,1566 1271.3,1566.1 1271.7,1565.8 1272.2,1567 1272.6,1561.5 1273.1,1565.5 1273.5,1562.6 1274,1566.5 1274.4,1564 1274.9,1560.6 1275.4,1559.1 1275.8,1564.2 1276.3,1566.3 1276.7,1564.7 1277.2,1561.8 1277.6,1565 1278.1,1562.7 1278.5,1569.8 1279,1566.7 1279.4,1564.4 1279.9,1569.3 1280.3,1567.9 1280.8,1563.8 1281.2,1570.3 1281.7,1570 1282.1,1573.1 1282.6,1562.8 1283,1570.1 1283.5,1573.9 1283.9,1567.5 1284.4,1565.1 1284.8,1569.4 1285.3,1565.2 1285.7,1562.2 1286.2,1566.7 1286.6,1563.9 1287.1,1558.5 1287.5,1563.5 1288,1571.5 1288.4,1570.1 1288.9,1559.9 1289.3,1571.7 1289.8,1567.9 1290.2,1569.3 1290.7,1535.7 1291.1,1537.6 1291.6,1537.2 1292,1539.8 1292.5,1540.3 1292.9,1535.5 1293.4,1531.3 1293.8,1530.7 1294.3,1537 1294.7,1539.8 1295.2,1539.1 1295.6,1538 1296.1,1541.9 1296.5,1542.1 1297,1542.1 1297.4,1570.8 1297.9,1571.7 1298.3,1567.7 1298.8,1571.5 1299.2,1573 1299.7,1566.3 1300.1,1568.3 1300.6,1570.3 1301,1569.9 1301.5,1567.2 1301.9,1565.3 1302.4,1560.7 1302.8,1563.2 1303.3,1571.5 1303.7,1569.6 1304.2,1573.2 1304.6,1569.8 1305.1,1568.4 1305.5,1572.1 1306,1564.6 1306.4,1564 1306.9,1561.1 1307.3,1568.4 1307.8,1564 1308.2,1564.4 1308.7,1562.2 1309.1,1562.2 1309.6,1565.6 1310,1569.2 1310.5,1566.4 1310.9,1536.8 1311.4,1541.8 1311.8,1544.5 1312.3,1532 1312.7,1536.6 1313.2,1570.9 1313.6,1573 1314.1,1572.8 1314.5,1568.8 1315,1571.4 1315.4,1567.3 1315.9,1569.3 1316.3,1573.5 1316.8,1537 1317.2,1535 1317.7,1535.9 1318.1,1533.2 1318.6,1537 1319,1565.2 1319.5,1571.5 1319.9,1574.3 1320.4,1567.4 1320.8,1570 1321.3,1567 1321.7,1563.4 1322.2,1566.8 1322.6,1570.5 1323.1,1569.3 1323.5,1566.3 1324,1562.4 1324.4,1562.2 1324.9,1568.6 1325.3,1563.4 1325.8,1569.8 1326.2,1569.4 1326.7,1569.9 1327.1,1571.3 1327.6,1576.4 1328,1577.6 1328.5,1572.1 1328.9,1571.4 1329.4,1565 1329.8,1567 1330.3,1569.3 1330.7,1567.4 1331.2,1571.9 1331.7,1565.4 1332.1,1565.7 1332.6,1560.3 1333,1568 1333.5,1573.4 1333.9,1575.7 1334.4,1569 1334.8,1540.3 1335.3,1536.9 1335.7,1541.2 1336.2,1544.3 1336.6,1543.6 1337.1,1541.9 1337.5,1538.5 1338,1530.8 1338.4,1531.9 1338.9,1531.2 1339.3,1536.9 1339.8,1540.8 1340.2,1543.6 1340.7,1542.1 1341.1,1543.7 1341.6,1536.1 1342,1535.9 1342.5,1542.9 1342.9,1542.8 1343.4,1534.7 1343.8,1536.1 1344.3,1534.6 1344.7,1564.3 1345.2,1566.7 1345.6,1576.7 1346.1,1572.4 1346.5,1575.9 1347,1568.8 1347.4,1567.3 1347.9,1566.8 1348.3,1562.2 1348.8,1563.1 1349.2,1568.5 1349.7,1565.3 1350.1,1567.3 1350.6,1559.9 1351,1566.4 1351.5,1566 1351.9,1568.3 1352.4,1567.8 1352.8,1566.2 1353.3,1564.4 1353.7,1570.2 1354.2,1570.6 1354.6,1566.5 1355.1,1566.3 1355.5,1566.8 1356,1571.3 1356.4,1566 1356.9,1571.7 1357.3,1564.8 1357.8,1571.7 1358.2,1563.5 1358.7,1566.5 1359.1,1569.2 1359.6,1564.4 1360,1568.1 1360.5,1566 1360.9,1565.6 1361.4,1538.6 1361.8,1540.9 1362.3,1568.4 1362.7,1571.7 1363.2,1569.1 1363.6,1565 1364.1,1568.6 1364.5,1567.1 1365,1567.2 1365.4,1570.8 1365.9,1567.9 1366.3,1555.5 1366.8,1565 1367.2,1569.1 1367.7,1562.2 1368.1,1558.5 1368.6,1559.7 1369,1563.2 1369.5,1565.3 1369.9,1566.3 1370.4,1564.7 1370.8,1568.9 1371.3,1568.7 1371.7,1573.1 1372.2,1569 1372.6,1575 1373.1,1568.8 1373.5,1570.7 1374,1569.7 1374.4,1559.8 1374.9,1566.8 1375.3,1569.8 1375.8,1566.7 1376.2,1566.6 1376.7,1563.5 1377.1,1563.5 1377.6,1563.4 1378,1560.3 1378.5,1565.6 1378.9,1566.9 1379.4,1564.3 1379.8,1565.1 1380.3,1569 1380.7,1576.4 1381.2,1569.3 1381.6,1539.2 1382.1,1541.8 1382.5,1567.8 1383,1563 1383.4,1568 1383.9,1565.8 1384.3,1568.1 1384.8,1568.3 1385.2,1570.1 1385.7,1569.8 1386.1,1567 1386.6,1566.4 1387,1565 1387.5,1565 1388,1563.1 1388.4,1560.8 1388.9,1563.2 1389.3,1562.8 1389.8,1562.6 1390.2,1562.9 1390.7,1565.4 1391.1,1566.5 1391.6,1567.7 1392,1563.2 1392.5,1563.8 1392.9,1564.2 1393.4,1567.8 1393.8,1565.9 1394.3,1563.3 1394.7,1569.8 1395.2,1567.2 1395.6,1532.8 1396.1,1539.4 1396.5,1540.3 1397,1536 1397.4,1529.6 1397.9,1534.9 1398.3,1533.7 1398.8,1541.9 1399.2,1544.6 1399.7,1541.6 1400.1,1538.4 1400.6,1540.7 1401,1563.7 1401.5,1565.3 1401.9,1573 1402.4,1567.7 1402.8,1565.6 1403.3,1564.5 1403.7,1571.6 1404.2,1572.7 1404.6,1568.9 1405.1,1569.8 1405.5,1562.3 1406,1568.7 1406.4,1571.8 1406.9,1564.8 1407.3,1557.6 1407.8,1504.2 1408.2,1508.7 1408.7,1511.4 1409.1,1517.7 1409.6,1501.9 1410,1506.1 1410.5,1501.2 1410.9,1514.2 1411.4,1494.9 1411.8,1506.4 1412.3,1505.7 1412.7,1505.4 1413.2,1509.9 1413.6,1520.7 1414.1,1521.1 1414.5,1502.9" fill="none" stroke="#3747a6" stroke-width="1.3" stroke-linejoin="round" clip-path="url(#ck2)"/>
<rect x="1146.7" y="1369.8" width="267.9" height="265.3" fill="none" stroke="#231f20" stroke-width="1.4"/>
<path d="M1146.7,1502.8H1414.6" stroke="#231f20" stroke-width="1.6"/>
<path d="M1146.7,1381h-3.8 M1146.7,1436.3h-3.8 M1146.7,1491.6h-3.8 M1146.7,1535.7h-3.8 M1146.7,1579.8h-3.8 M1146.7,1623.9h-3.8 M1146.7,1635.1h-3.8" stroke="#231f20" stroke-width="1.3"/>
<path d="M1162.3,1635.1v5 M1274.9,1635.1v5 M1387.5,1635.1v5" stroke="#231f20" stroke-width="1.3"/>
<path d="M1162.3,1502.8v3 M1274.9,1502.8v3 M1387.5,1502.8v3" stroke="#231f20" stroke-width="1.3"/>
<text x="1104.2" y="1390.5">10</text>
<text x="1122.1" y="1447.2">5</text>
<text x="1122" y="1503.9">0</text>
<text x="1095.4" y="1545.9">0.8</text>
<text x="1094.9" y="1588.9">0.4</text>
<text x="1095.3" y="1633.4">0.0</text>
<text x="1144.5" y="1669.2">30</text>
<text x="1257.4" y="1669.2">40</text>
<text x="1369.7" y="1669.2">50</text>
<text x="1229.3" y="1702.5" textLength="102.8" lengthAdjust="spacingAndGlyphs" font-size="32.5">Time, s</text>
<text x="1143" y="1365.8" textLength="86.5" lengthAdjust="spacingAndGlyphs" font-size="32.5">PRE2</text>
<text x="1061.7" y="1364.5" font-weight="bold" textLength="17.6" lengthAdjust="spacingAndGlyphs" font-size="31">k</text>
<text transform="translate(1045,1454.8) rotate(-90)" x="-2.7" textLength="37.8" lengthAdjust="spacingAndGlyphs">FI,</text>
<text transform="translate(1084.2,1502.4) rotate(-90)" x="-1.3">arb. units</text>
<text transform="translate(1088.9,1612.7) rotate(-90)" x="-2.6" textLength="84.3" lengthAdjust="spacingAndGlyphs">FRET</text>
<text x="1436.2" y="1396.1" textLength="44.9" lengthAdjust="spacingAndGlyphs" fill="#ed1c24" font-size="32.5">RB</text>
<text x="1431.9" y="1423.8" textLength="50.1" lengthAdjust="spacingAndGlyphs" fill="#ed1c24" font-size="32.5">A/A</text>
<text x="1432.6" y="1452.2" textLength="49.7" lengthAdjust="spacingAndGlyphs" fill="#ed1c24" font-size="32.5">A/P</text>
<text x="1432.6" y="1481.2" textLength="62.1" lengthAdjust="spacingAndGlyphs" fill="#ed1c24" font-size="32.5">A/P*</text>
<text x="1436.2" y="1514.3" textLength="44.1" lengthAdjust="spacingAndGlyphs" font-size="32.5">RB</text>
<text x="1431.9" y="1542" textLength="50.1" lengthAdjust="spacingAndGlyphs" font-size="32.5">A/A</text>
<text x="1432.6" y="1570.4" textLength="49.7" lengthAdjust="spacingAndGlyphs" font-size="32.5">A/P</text>
<text x="1431.9" y="1599.5" textLength="62.8" lengthAdjust="spacingAndGlyphs" font-size="32.5">A/P*</text>
<path d="M1419.2,1408.2L1434.1,1383.9M1428,1411.6L1419.2,1422.4L1430.7,1442.7M1420.5,1447.4L1428.6,1470.4" stroke="#ed1c24" stroke-width="1.2" fill="none"/>
<path d="M1418.5,1518.4L1433.4,1502.2M1427.3,1529.9L1418.5,1540.7L1430,1560.3M1419.9,1567.7L1428.6,1588.6" stroke="#231f20" stroke-width="1.2" fill="none"/>
<path d="M1156.4,554.5 1161.1,552.2 1170.5,553 1174.6,551.1 1180,549.9 1184.7,550.2 1189.5,546.9 1194.2,545.6 1198.9,541.4 1203.6,540.8 1213.1,545 1222.5,546.1 1227.3,549.3 1232,548.2 1241.5,553.6 1250.9,550 1255.6,553.3 1260.4,553.2 1265.1,549.5 1269.8,550.6 1274.6,550.7 1279.3,549 1284,548.9 1288.7,547.8 1292.7,542.4 1302.9,533.6 1302.9,529.2 1307.7,530.6 1308.8,529.2 1305.6,520.5 1302.2,516.1 1303.9,511.7 1298.2,505.8 1291.1,503 1289.8,498.6 1288.7,498 1284,500 1279.3,497.8 1274.6,497.7 1269.8,493.3 1265.1,495.5 1260.4,495.8 1255.6,493.4 1250.9,492.6 1249.1,494.2 1241.5,498.3 1239,498.6 1236.3,498.6 1227.3,492.4 1222.9,494.2 1222.5,495.4 1222.5,489.9 1224.3,485.5 1222.5,481.1 1220.9,476.7 1221.2,463.6 1219.8,459.2 1219.5,450.5 1223.2,446.1 1221.6,441.7 1220.3,433 1221.1,428.6 1220.9,424.2 1216.3,415.5 1217.7,411.1 1216.4,406.7 1217.1,402.4 1210.6,398 1208.4,394.5 1208.4,392.9 1210.4,389.2 1208.4,386.7 1207.6,384.9 1206.8,380.5 1202.8,376.1 1196.2,376.1 1194.2,384.7 1192.3,389.2 1190.3,406.7 1189.5,433.4 1187.5,441.7 1189.5,446.2 1189.9,454.9 1189.6,459.2 1189.5,460.3 1184.5,468 1182.4,472.4 1182,476.7 1180.7,481.1 1180,493.9 1175.3,492.2 1170.5,492.2 1165.8,494.3 1161.1,494.5 1156.4,495.7 1146.9,496.3 1142.2,498.8 1142.2,545.8 1146.9,549.8 1152,551.1ZM1203.3,503 1203.6,500.7 1207.2,503 1203.6,504.3ZM1207.9,494.2 1208.4,493.6 1208.8,494.2 1208.4,495.3Z" fill="#3c56a6" stroke="#231f20" stroke-width="0.5" fill-rule="evenodd" clip-path="url(#cd)"/>
<path d="M1161.1,543.2 1165.8,542.3 1170.5,544.1 1180,543.6 1189.5,540.3 1191.9,538 1198.9,533.1 1203.6,532.2 1207.2,533.6 1213.1,537.3 1222.5,540.8 1232,541.3 1236.7,540.9 1241.5,542 1246.2,542.2 1250.9,541.6 1255.6,541.6 1260.4,539.9 1269.8,540.8 1279.3,537.9 1284,530.8 1288.7,530.6 1290.7,529.2 1286.4,524.9 1286.3,520.5 1281.8,511.7 1274.6,508.4 1269.8,507 1265.1,508.2 1255.6,505 1250.9,504.3 1246.2,506.8 1241.5,504.7 1232,504.7 1222.5,505.6 1217.8,506.2 1213.1,508.4 1203.6,514.4 1200.8,511.7 1198.9,508.5 1198.5,503 1203.6,483.6 1206.2,476.7 1208.4,474 1209.9,472.4 1208.4,467.9 1210.6,463.6 1209.9,459.2 1210.1,454.9 1212,441.7 1211.5,433 1210.8,428.6 1209,424.2 1208.4,420.8 1207.9,411.1 1208.3,406.7 1207,402.4 1206.4,398 1203.9,393.6 1203.6,391.8 1198.9,388.9 1196.3,393.6 1195.5,398 1195.8,402.4 1193.6,411.1 1194,419.9 1193.4,424.2 1192.2,428.6 1190.9,441.7 1191,446.1 1193.1,454.9 1193.2,463.6 1186.6,472.4 1184.7,482.3 1183.5,485.5 1184,489.9 1183.6,494.2 1182,498.6 1180,500.8 1175.3,501.1 1170.5,500.3 1156.4,501.2 1151.6,503 1144.4,507.4 1142.2,511.7 1142.2,534.7 1146.9,537.4 1151.6,541.4 1159,542.3Z" fill="#4ca0d8" stroke="#231f20" stroke-width="0.5" fill-rule="evenodd" clip-path="url(#cd)"/>
<path d="M1156.4,539.1 1170.5,538.6 1175.3,539.4 1180,539.5 1189.5,536.2 1197.4,529.2 1198.9,523.7 1202,520.5 1198.9,518 1196.8,511.7 1196.8,503 1198.2,494.2 1198.9,478.6 1199.7,476.7 1198.9,473.3 1197.9,472.4 1194.2,471.4 1192.5,472.4 1189.5,473.1 1187.2,476.7 1185.5,485.5 1185.6,498.6 1184.4,503 1180,504.8 1165.8,504.1 1156.4,505.5 1151.6,507.5 1147.4,511.7 1144.4,516.1 1143,520.5 1143.6,524.9 1147,529.2 1148.7,533.6 1153.3,538ZM1217.8,534.4 1222.5,536.7 1246.2,537.8 1255.6,536.5 1265.1,533 1269.4,529.2 1272,524.9 1271.8,520.5 1269.8,516.2 1265.1,515.4 1257.6,511.7 1255.6,510.4 1250.9,509.3 1236.7,508.2 1217.8,510.3 1213.1,513.6 1205.3,520.5 1205.8,524.9 1213.1,532 1215.9,533.6ZM1203.6,469.5 1206.4,459.2 1207.6,450.5 1208.2,441.7 1207.9,433 1206.1,424.2 1205.3,415.5 1205.1,411.1 1205.6,406.7 1203.6,400.4 1202.2,402.4 1198.9,404.8 1196.2,411.1 1196.2,424.2 1194.5,433 1194.2,439 1193.5,441.7 1193.5,446.1 1196.7,463.6 1198.9,467.7 1200.4,468ZM1198.9,398.7 1200.2,398 1198.9,397.4 1198.7,398Z" fill="#74c8b6" stroke="#231f20" stroke-width="0.5" fill-rule="evenodd" clip-path="url(#cd)"/>
<path d="M1156.4,534.5 1161.1,535.7 1175.3,536.1 1180,535.2 1189.5,532 1192.4,529.2 1196.1,520.5 1191,507.4 1194.2,503.5 1197.1,489.9 1196.6,481.1 1194.2,477.8 1189.5,477.4 1187,485.5 1188.4,507.4 1184.7,508.9 1165.8,507.4 1156.4,508.9 1152,511.7 1148.9,516.1 1147.4,520.5 1147.7,524.9 1151.6,530.5 1155.2,533.6ZM1227.3,534.4 1232,534.6 1236.7,533.6 1241.5,534.5 1246.2,533.8 1255.6,531.5 1261,529.2 1262.9,524.9 1261.6,520.5 1257.4,516.1 1255.6,515.1 1246.7,511.7 1241.5,512 1236.7,511.5 1227.3,512.5 1217.8,514.6 1215.9,516.1 1213.3,520.5 1213.7,524.9 1216.6,529.2 1222.5,532.7 1225.3,533.6ZM1198.9,458.8 1203.6,456.8 1205.7,450.5 1206.7,441.7 1206.5,437.4 1206.1,433 1203.6,427.3 1198.9,425.3 1196.1,433 1195.3,446.1 1197.5,454.9Z" fill="#c4da3f" stroke="#231f20" stroke-width="0.5" fill-rule="evenodd" clip-path="url(#cd)"/>
<path d="M1156.4,531 1161.1,532.7 1175.3,533.3 1184.7,530.8 1187.4,529.2 1191.2,524.9 1191.2,520.5 1189.5,515.9 1183.1,511.7 1180,510.6 1165.8,510.2 1161.1,510.3 1156.4,511.6 1153,516.1 1151.2,520.5 1152,524.9 1154.4,529.2ZM1222.5,529.8 1232,531.9 1246.2,531 1251.9,529.2 1256.9,524.9 1257.1,520.5 1255.6,519 1248.3,516.1 1246.2,515.2 1241.5,515.1 1236.7,514 1232,514.7 1222.5,517.7 1217.6,520.5 1218,524.9 1221.6,529.2ZM1194.2,495.5 1195.7,489.9 1195.4,485.5 1194.3,481.1 1193.6,481.1 1189.5,483.2 1188.7,485.5 1189.5,493.3 1190.4,494.2ZM1198.9,452.1 1203.6,449.7 1205,441.7 1203.6,432.1 1198.9,430.7 1198,433 1196.9,446.1 1198.4,450.5Z" fill="#f6a01c" stroke="#231f20" stroke-width="0.5" fill-rule="evenodd" clip-path="url(#cd)"/>
<path d="M1161.1,529.9 1165.8,530.8 1175.3,531 1180,530 1184.7,527.8 1187.8,524.9 1187.1,520.5 1184.2,516.1 1180,513.2 1170.5,512.8 1161.1,513.4 1157.9,516.1 1155,520.5 1155.1,524.9 1156.4,526.9 1159.5,529.2ZM1232,529.2 1236.7,528.9 1241.5,526.7 1246.2,526.4 1249.5,524.9 1248.3,520.5 1236.7,516.8 1232,518.9 1226.5,520.5 1222.5,523.1 1221.8,524.9 1222.5,525.8 1227.3,526.4 1232,529.2ZM1198.9,447.1 1200.3,446.1 1199.3,441.7 1198.9,441.4 1198.9,441.7 1198.5,446.1Z" fill="#e2262b" stroke="#231f20" stroke-width="0.5" fill-rule="evenodd" clip-path="url(#cd)"/>
<path d="M1161.1,525.1 1170.5,524.7 1175.3,526.3 1180,525.2 1180.6,524.9 1180.9,520.5 1180,519.2 1175.3,517.3 1170.5,516.5 1161.1,519.4 1160.1,520.5 1160.8,524.9Z" fill="#8e1c1e" stroke="#231f20" stroke-width="0.5" fill-rule="evenodd" clip-path="url(#cd)"/>
<path d="M1147.2,431.1H1414.4" stroke="#231f20" stroke-width="1.3" stroke-dasharray="3.2 3.2"/>
<path d="M1147.2,528.6H1324.2" stroke="#231f20" stroke-width="1.3" stroke-dasharray="3.2 3.2"/>
<path d="M1324.2,486.8h0.7v4.3h-0.7M1324.2,482.4h1.4v4.3h-1.4M1324.2,478.1h2.7v4.3h-2.7M1324.2,473.8h5.7v4.3h-5.7M1324.2,469.5h9.3v4.3h-9.3M1324.2,465.2h16.8v4.3h-16.8M1324.2,460.9h25.9v4.3h-25.9M1324.2,456.6h38.8v4.3h-38.8M1324.2,452.3h54.3v4.3h-54.3M1324.2,447.9h63.9v4.3h-63.9M1324.2,443.6h76.3v4.3h-76.3M1324.2,439.3h79.2v4.3h-79.2M1324.2,435h87.1v4.3h-87.1M1324.2,430.7h80.9v4.3h-80.9M1324.2,426.4h74.8v4.3h-74.8M1324.2,422.1h60.5v4.3h-60.5M1324.2,417.8h39.9v4.3h-39.9M1324.2,413.4h27v4.3h-27M1324.2,409.1h21.4v4.3h-21.4M1324.2,404.8h15.4v4.3h-15.4M1324.2,400.5h11.3v4.3h-11.3M1324.2,396.2h13.2v4.3h-13.2M1324.2,391.9h11.9v4.3h-11.9M1324.2,387.6h9.5v4.3h-9.5M1324.2,383.3h6v4.3h-6M1324.2,378.9h2.4v4.3h-2.4M1324.2,374.6h0.8v4.3h-0.8" fill="#fff" stroke="#231f20" stroke-width="0.7"/>
<path d="M1324.2,516.1 1324.2,514.6 1324.2,513.2 1324.2,511.7 1324.2,510.3 1324.2,508.8 1324.2,507.4 1324.2,505.9 1324.2,504.5 1324.2,503 1324.2,501.6 1324.3,500.1 1324.3,498.7 1324.3,497.2 1324.4,495.8 1324.4,494.3 1324.5,492.9 1324.6,491.4 1324.8,490 1324.9,488.5 1325.2,487.1 1325.4,485.6 1325.8,484.2 1326.3,482.7 1326.8,481.3 1327.5,479.8 1328.3,478.3 1329.3,476.9 1330.5,475.4 1331.9,474 1333.5,472.5 1335.3,471.1 1337.4,469.6 1339.8,468.2 1342.5,466.7 1345.5,465.3 1348.8,463.8 1352.3,462.4 1356.1,460.9 1360.1,459.5 1364.4,458 1368.7,456.6 1373.1,455.1 1377.6,453.7 1381.9,452.2 1386.2,450.8 1390.2,449.3 1393.9,447.9 1397.3,446.4 1400.2,445 1402.6,443.5 1404.4,442 1405.6,440.6 1406.2,439.1 1406.1,437.7 1405.3,436.2 1404,434.8 1402,433.3 1399.5,431.9 1396.5,430.4 1393,429 1389.2,427.5 1385.1,426.1 1380.8,424.6 1376.4,423.2 1372,421.7 1367.6,420.3 1363.3,418.8 1359.1,417.4 1355.1,415.9 1351.4,414.5 1347.9,413 1344.7,411.6 1341.8,410.1 1339.2,408.7 1336.9,407.2 1334.8,405.7 1333,404.3 1331.5,402.8 1330.2,401.4 1329,399.9 1328.1,398.5 1327.3,397 1326.7,395.6 1326.1,394.1 1325.7,392.7 1325.4,391.2 1325.1,389.8 1324.9,388.3 1324.7,386.9 1324.6,385.4 1324.5,384 1324.4,382.5 1324.4,381.1 1324.3,379.6 1324.3,378.2 1324.3,376.7 1324.2,375.3 1324.2,373.8 1324.2,372.4" fill="none" stroke="#231f20" stroke-width="1.1" clip-path="url(#cdh)"/>
<rect x="1147.2" y="377.8" width="267.2" height="175.2" fill="none" stroke="#231f20" stroke-width="1.4"/>
<path d="M1324.2,377.8V553" stroke="#231f20" stroke-width="1.4"/>
<path d="M1147.2,403.6h-3.8 M1147.2,428.6h-3.8 M1147.2,453.6h-3.8 M1147.2,478.6h-3.8 M1147.2,503.6h-3.8 M1147.2,528.6h-3.8 M1147.2,553h-3.8" stroke="#231f20" stroke-width="1.3"/>
<path d="M1206,553v5 M1324.2,553v5" stroke="#231f20" stroke-width="1.3"/>
<text x="1093.2" y="408.5">1.0</text>
<text x="1093.3" y="436.5">0.8</text>
<text x="1093.3" y="462.1">0.6</text>
<text x="1092.8" y="490.4">0.4</text>
<text x="1093.5" y="517.8">0.2</text>
<text x="1093.2" y="544.6">0.0</text>
<text x="1183.8" y="590">0.0</text>
<text x="1302" y="590">0.5</text>
<text x="1190.2" y="626.5" textLength="99.3" lengthAdjust="spacingAndGlyphs" font-size="32.5">Time, s</text>
<text transform="translate(1088.5,508.8) rotate(-90)" x="-2.6">FRET</text>
<text x="1063.1" y="366" font-weight="bold" font-size="31">d</text>
<text x="1213.2" y="414.7" font-style="italic" textLength="23.3" lengthAdjust="spacingAndGlyphs" font-size="32.5">N</text>
<text x="1238.6" y="414.7" textLength="84.9" lengthAdjust="spacingAndGlyphs" font-size="32.5">=1264</text>
<text x="1442.3" y="438.9" textLength="32.7" lengthAdjust="spacingAndGlyphs" font-size="32.5">IB</text>
<path d="M1149.4,1254.8 1159.6,1254.8 1160.2,1249.9 1164.1,1244.8 1164.4,1239.8 1163.6,1234.8 1168.6,1229.8 1169.9,1219.8 1169.3,1214.8 1169.4,1199.8 1170.5,1194.8 1169.6,1184.8 1170.3,1180.2 1175.5,1175.1 1180.8,1179.5 1186,1176.3 1191.2,1175.5 1196.4,1177.1 1201.1,1174.8 1197.3,1169.8 1201.6,1169 1205.9,1169.8 1206.9,1173.2 1212.1,1173.3 1217.3,1174.8 1222.5,1177.1 1233,1167.6 1237.9,1169.9 1243.4,1173.6 1248.6,1169.1 1251.2,1174.8 1253.8,1177.8 1264.3,1176 1269.5,1173.4 1270.6,1169.8 1274.7,1169.1 1276.8,1169.8 1279.9,1174.5 1285.2,1173.9 1289.9,1174.8 1290.4,1176.9 1293.6,1179.8 1295.6,1180.2 1300.8,1184.4 1303.1,1179.8 1301.4,1174.8 1306,1173.3 1311.3,1173.7 1316.2,1174.8 1314.3,1179.8 1316.5,1181.9 1318.7,1179.8 1321.7,1175.1 1326.9,1174.7 1326.7,1084.8 1321.7,1082.6 1316.5,1084.7 1313.6,1079.8 1311.3,1077.6 1303.3,1084.8 1300.8,1086.4 1295.6,1082.6 1290.4,1084.8 1285.2,1075.1 1280,1079.8 1282.3,1084.8 1274.7,1085.7 1272.3,1084.8 1269.5,1080.1 1264.3,1081.1 1259.1,1084.2 1253.8,1084.7 1248.6,1087.2 1243.4,1091.9 1242.2,1089.8 1241.8,1084.8 1242.8,1079.8 1238.2,1075.5 1235.2,1079.8 1233,1080.4 1230.5,1079.8 1227.7,1077.7 1223,1079.8 1227.7,1082.6 1228.3,1084.8 1227.7,1086.9 1224.9,1089.8 1222.5,1091.2 1221.1,1089.8 1222.1,1084.8 1217.3,1082.5 1212.1,1084.4 1206.9,1081.2 1202.9,1084.8 1201.6,1089 1196.4,1080.2 1191.2,1079.9 1187.3,1084.8 1186,1089.4 1178.4,1084.8 1182.9,1079.8 1180.8,1077.8 1175.5,1082.2 1173,1079.8 1172.7,1074.8 1170.3,1070.1 1168,1074.8 1167.9,1079.8 1165.3,1099.8 1165.5,1109.8 1165.1,1113.3 1164,1114.8 1164.3,1119.8 1162.1,1129.8 1165.1,1133.6 1165.3,1134.8 1165.1,1136.1 1162.2,1139.8 1165.1,1143 1165.8,1144.8 1165.1,1146.8 1162.3,1149.8 1161.1,1154.8 1163.6,1159.8 1160.7,1164.8 1163,1169.8 1159.9,1172.3 1154.9,1174.8 1159.9,1177.9 1160.8,1179.8 1154.7,1182.2 1149.4,1182.5 1146.9,1184.8 1144.2,1186.3 1144.2,1253.2 1149.4,1254.8ZM1148.7,1239.8 1149.4,1239.3 1150.2,1239.8 1149.4,1243.9ZM1148.3,1189.8 1149.4,1187.7 1150.6,1189.8 1149.4,1190.4ZM1305.2,1149.8 1305.1,1144.8 1306,1143.7 1311.3,1149.1 1312.4,1149.8 1311.3,1150.7 1306,1151.3ZM1232,1104.8 1233,1101.1 1238.2,1104.1 1238.9,1104.8 1238.2,1105.2 1233,1106ZM1184.7,1094.8 1186,1090.4 1188.1,1094.8 1186,1095.8ZM1231.2,1089.8 1233,1089.5 1233.7,1089.8 1233,1090.8ZM1146.6,1179.8 1144.2,1177.6 1144.2,1179.8 1144.2,1182.3ZM1238.2,1181.9 1240.4,1179.8 1233,1172.5 1230.5,1174.8 1233.3,1179.8Z" fill="#3c56a6" stroke="#231f20" stroke-width="0.5" fill-rule="evenodd" clip-path="url(#ch)"/>
<path d="M1144.3,1244.8 1144.6,1239.8 1151.3,1234.8 1154.7,1233.6 1159.9,1233.3 1163.2,1229.8 1165.5,1224.9 1163.7,1219.8 1165.9,1214.8 1167.1,1209.8 1167.6,1204.8 1166.4,1199.8 1166.7,1194.8 1165.1,1191.6 1159.9,1190.2 1154.7,1195.4 1152.5,1194.8 1144.2,1190.7 1144.2,1245.2ZM1159.9,1246 1160.9,1244.8 1162.1,1239.8 1159.9,1235.9 1154.7,1239.8 1158.1,1244.8ZM1159.9,1188.3 1165.1,1188.5 1166.8,1184.8 1165.3,1179.8 1167.8,1174.8 1170.3,1173.3 1174.1,1169.8 1175.5,1167.1 1180.8,1172.3 1183.6,1169.8 1185.6,1164.8 1180.8,1164.1 1176.3,1159.8 1180.8,1157.7 1186,1156.9 1187.7,1159.8 1191.2,1162.6 1196.4,1163.2 1201.6,1165.9 1206.9,1166.3 1212.1,1167.7 1214.5,1164.8 1217.3,1163.3 1222.5,1165.3 1227.7,1160.5 1229.2,1159.8 1233,1156.6 1233.9,1159.8 1241.3,1164.8 1243.4,1169.2 1248.5,1164.8 1243.4,1159.1 1241.7,1154.8 1243.4,1149.8 1243.7,1144.8 1239.3,1139.8 1243.4,1139.3 1245.2,1139.8 1248.6,1142.6 1253.8,1142.3 1257.5,1144.8 1264.3,1153.4 1269.5,1148.6 1272.4,1144.8 1269.5,1142 1264.3,1144 1261.3,1139.8 1262.1,1134.8 1264.3,1134.3 1269.5,1138.7 1274.7,1138.9 1279.9,1145.2 1285.2,1142 1286.6,1144.8 1290.4,1147.4 1292.6,1144.8 1290.4,1142.1 1286.5,1139.8 1290.4,1137.5 1306,1139 1311.3,1136.9 1320.8,1139.8 1321.7,1141.5 1322.6,1139.8 1326.9,1137.5 1326.9,1106.4 1324,1104.8 1326.9,1103.3 1326.9,1095.9 1321.7,1099.6 1318.3,1104.8 1316.5,1105.7 1311.3,1102.9 1306,1102 1304.1,1104.8 1309.3,1109.8 1306,1111 1301.8,1109.8 1300.8,1108.7 1295.6,1105.5 1292.7,1104.8 1290.4,1103 1285.2,1104.1 1282.2,1099.8 1280.6,1094.8 1279.9,1094.5 1274.7,1098.1 1269.5,1096.9 1264.3,1098.9 1264,1099.8 1259.1,1101.5 1254.4,1104.8 1254.6,1109.8 1253.8,1110.1 1248.6,1106.4 1244.1,1104.8 1248.6,1103.2 1252.8,1099.8 1253.8,1096.3 1264.3,1093.9 1267,1089.8 1264.3,1087.4 1261,1089.8 1259.1,1094.8 1255.7,1089.8 1253.8,1088.7 1252.2,1089.8 1246.6,1094.8 1243.4,1099.2 1239.8,1099.8 1243.1,1104.8 1233.7,1109.8 1233,1112.1 1232.4,1109.8 1228.2,1104.8 1227.7,1094.7 1227.4,1094.8 1227.2,1099.8 1222.5,1101 1217.3,1101 1212.1,1102.6 1209.8,1104.8 1206.9,1110.2 1201.6,1106.2 1197.5,1104.8 1200.4,1099.8 1196.4,1097.7 1191.2,1099.3 1186,1099.7 1180.8,1096.3 1175.5,1102.9 1174.7,1099.8 1175.5,1095.4 1176.7,1094.8 1178.5,1089.8 1175.5,1089.6 1170.3,1090.8 1167.9,1094.8 1166.4,1099.8 1167.2,1109.8 1166.5,1114.8 1167.3,1119.8 1166.1,1124.8 1165.8,1129.8 1166.6,1134.8 1165.9,1139.8 1168.9,1144.8 1165.4,1154.8 1168.7,1159.8 1163.5,1164.8 1167.1,1169.8 1165.1,1172.7 1162.6,1174.8 1164.9,1179.8 1158.1,1184.8ZM1189.4,1154.8 1184.3,1149.8 1186,1146.8 1191.2,1148.1 1196.4,1147.7 1200.6,1144.8 1201.6,1143.5 1203.2,1144.8 1205.3,1149.8 1203.6,1154.8 1201.6,1158 1196.4,1154.3 1191.2,1155.7ZM1220.2,1154.8 1217.3,1150.9 1212.1,1150.9 1208.7,1149.8 1210.4,1139.8 1212.1,1138.6 1222.5,1138.1 1227.7,1142.7 1229.9,1139.8 1233,1138.8 1237.2,1139.8 1235.3,1144.8 1243.3,1149.8 1238.2,1151.5 1233,1154 1227.7,1149.2 1225.4,1154.8 1222.5,1158.2ZM1172.9,1144.8 1175.1,1139.8 1175.5,1139.5 1176.2,1139.8 1177.6,1144.8 1175.5,1146.8ZM1189.5,1139.8 1191.2,1139.5 1191.7,1139.8 1191.2,1140.3ZM1205.9,1134.8 1206.9,1134.5 1207.7,1134.8 1206.9,1135.9ZM1243.2,1119.8 1243.4,1119.5 1243.5,1119.8 1243.4,1120ZM1225.4,1114.8 1227.7,1113.3 1231.7,1114.8 1227.7,1117ZM1293.1,1114.8 1295.6,1114 1296.1,1114.8 1295.6,1115.3ZM1178.1,1109.8 1179,1104.8 1186,1100.1 1190.4,1104.8 1180.8,1110.8ZM1278.4,1109.8 1279.9,1107.8 1283.9,1109.8 1279.9,1112.6ZM1191.2,1171.7 1193.1,1169.8 1191.2,1167.8 1188.5,1169.8ZM1253.8,1170.9 1256.2,1169.8 1253.8,1168.3 1252.9,1169.8ZM1285.2,1170.7 1286.8,1169.8 1285.7,1164.9 1288.1,1159.8 1285.2,1157.1 1282.1,1159.8 1284.1,1164.8 1283.6,1169.8ZM1311.3,1169.9 1316.5,1166.2 1321.7,1170.1 1326.9,1168.4 1326.9,1161.1 1321.7,1160.8 1316.5,1163.5 1311.3,1164.4 1306,1161.7 1300.8,1162 1297.8,1164.8 1300.8,1166.7 1306,1168.8 1311.2,1169.8ZM1264.3,1165.4 1269.5,1167 1277.7,1164.8 1272.7,1159.8 1269.5,1157.9 1267.5,1159.8 1263.9,1164.8ZM1253.8,1161.6 1255.6,1159.8 1253.8,1157 1251.9,1159.8ZM1295.6,1160.6 1296.4,1159.8 1297.1,1154.8 1301.8,1149.8 1300.8,1145.1 1293.6,1149.8 1293.7,1154.8 1294.7,1159.8ZM1248.6,1156.7 1251.6,1154.8 1248.6,1153.1 1246.6,1154.8ZM1316.5,1157.6 1318,1154.8 1321.7,1152.3 1323.3,1154.8 1326.9,1158.8 1326.9,1146.2 1321.7,1146.1 1317.3,1144.8 1311.3,1143.8 1310.4,1144.8 1311.3,1145.7 1316.5,1145.6 1317.8,1149.8 1316.5,1152 1311.5,1154.8ZM1274.7,1149.9 1274.7,1149.9 1274.7,1149.8 1274.7,1149.8ZM1206.9,1101.6 1208.8,1099.8 1206.9,1098 1203.7,1099.8ZM1295.6,1100.9 1296.4,1099.8 1298.6,1094.8 1295.6,1093.5 1292.8,1094.8 1294.7,1099.8ZM1201.6,1097.7 1203.4,1094.8 1201.6,1093.7 1200.4,1094.8ZM1212.1,1097.6 1217.3,1095.9 1218.2,1094.8 1217.3,1094 1212.1,1092.3 1209.2,1094.8ZM1274.7,1092.5 1276.3,1089.8 1274.7,1089 1273.5,1089.8ZM1233,1086.9 1236.9,1084.8 1233,1082.8 1230.8,1084.8Z" fill="#4ca0d8" stroke="#231f20" stroke-width="0.5" fill-rule="evenodd" clip-path="url(#ch)"/>
<path d="M1159.9,1240.9 1160.2,1239.8 1159.9,1239.3 1159.1,1239.8ZM1147.9,1234.8 1149.4,1231.2 1154.7,1232.3 1159.9,1229.4 1163.8,1224.8 1161.6,1219.8 1164.5,1214.8 1165.8,1204.8 1165.1,1202.5 1162,1199.8 1164,1194.8 1159.9,1191.8 1157,1194.8 1154.7,1196.6 1149.4,1195.7 1144.2,1193 1144.2,1237.7ZM1170.3,1171.1 1171.7,1169.8 1170.3,1164.9 1169.2,1169.8ZM1306,1165.5 1307,1164.8 1306,1164.3 1304.5,1164.8ZM1321.7,1166 1326.9,1166.3 1326.9,1164.8 1326.9,1163.3 1321.7,1163.9 1320.4,1164.8ZM1191.2,1160.4 1196.4,1161.5 1200.1,1159.8 1196.4,1157.2 1191.2,1159.1 1190.5,1159.8ZM1212.1,1162.9 1219.4,1159.8 1217.3,1154 1212.1,1154.7 1206.9,1152.7 1205.6,1154.8 1206.9,1158.1 1208.5,1159.8ZM1238.2,1160.5 1239.3,1159.8 1238.8,1154.8 1238.2,1154.2 1237.1,1154.8 1237.3,1159.8ZM1326.9,1156.9 1326.9,1154.8 1326.9,1149.8 1326.9,1148.3 1322.5,1149.8 1325,1154.8ZM1170.3,1151.8 1174.2,1149.8 1170.3,1147.8 1169.6,1149.8ZM1191.2,1145.5 1195,1144.8 1191.2,1144 1190,1144.8ZM1170.3,1144.2 1175.5,1138.2 1178.5,1139.8 1180.8,1144.6 1183.8,1139.8 1186,1137.9 1191.2,1136.2 1192.8,1134.8 1196.4,1133.8 1200.1,1134.8 1201.6,1137.3 1202.8,1134.8 1206.9,1133.4 1210.2,1134.8 1212.1,1136.4 1217.3,1136.1 1222.5,1133.5 1227.7,1131.9 1229.7,1134.8 1233,1137 1253.8,1139.7 1259.1,1133.6 1264.3,1133.1 1269.5,1136.8 1274.7,1135.5 1279.9,1139.5 1285.2,1138.5 1290.4,1134.3 1300.8,1132.9 1302.6,1134.8 1306,1136.7 1311.3,1134.6 1321.7,1138.3 1326.9,1134.5 1326.9,1115.1 1325.2,1114.8 1326.9,1113 1326.9,1109 1324.5,1109.8 1319.6,1114.8 1316.5,1115.5 1311.3,1115.4 1306,1112.3 1300.8,1111.3 1295.6,1108 1290.4,1106.4 1285.2,1111.5 1279.9,1115.3 1269.5,1115.1 1268.6,1114.8 1269.5,1114.3 1274.7,1114.2 1276.6,1109.8 1279.9,1105.4 1281.1,1104.8 1279.9,1103.2 1269.5,1105.9 1264.3,1105.7 1259.1,1103.2 1256.8,1104.8 1259.4,1109.8 1259.1,1113.1 1253.8,1112 1248.6,1109 1243.4,1107.1 1237,1109.8 1235,1114.8 1227.7,1119.4 1218.3,1109.8 1217.3,1107.1 1212.1,1107.7 1210.8,1109.8 1206.9,1112.7 1201.6,1108.4 1196.4,1107.5 1190.8,1109.8 1186,1115.1 1175.5,1114.2 1173.5,1109.8 1174.4,1104.8 1173.7,1099.8 1171.8,1094.8 1170.3,1093.8 1167.3,1099.8 1168.7,1109.8 1167.8,1114.8 1169.2,1119.8 1167.1,1124.8 1166.9,1129.8 1167.6,1134.8 1167.1,1139.8ZM1180,1134.8 1180.8,1133.8 1182.3,1134.8 1180.8,1136.4ZM1240.1,1119.8 1242.3,1114.8 1243.4,1113.8 1247,1114.8 1245.5,1119.8 1243.4,1123ZM1194.7,1114.8 1196.4,1112.7 1199.2,1114.8 1196.4,1116.1ZM1288.8,1114.8 1290.4,1113.6 1295.6,1111.6 1297.7,1114.8 1295.6,1116.6 1290.4,1117.6ZM1196.4,1143.7 1198.6,1139.8 1196.4,1138.7 1195.4,1139.8ZM1206.9,1141.4 1207.5,1139.8 1206.9,1139.1 1204.9,1139.8ZM1227.7,1111.5 1230,1109.8 1227.7,1107.2 1223.8,1109.8ZM1316.5,1111.5 1318.8,1109.8 1316.5,1109 1314.6,1109.8ZM1248.6,1100.5 1249.4,1099.8 1248.6,1098.4 1247.6,1099.8ZM1326.9,1100.5 1326.9,1099.8 1326.9,1099.1 1325.8,1099.8ZM1264.3,1090.2 1264.5,1089.8 1264.3,1089.6 1264,1089.8ZM1233,1084.9 1233.1,1084.8 1233,1084.8 1232.9,1084.8Z" fill="#74c8b6" stroke="#231f20" stroke-width="0.5" fill-rule="evenodd" clip-path="url(#ch)"/>
<path d="M1154.7,1230.1 1155.2,1229.9 1154.7,1229.2 1153.9,1229.8ZM1149.4,1225.4 1154.7,1222.4 1159.9,1226.6 1161.4,1224.8 1158.1,1219.8 1159.9,1219.1 1163.3,1214.8 1162.9,1209.8 1163.3,1204.8 1159.9,1201.7 1154.7,1198.7 1144.2,1198.5 1144.2,1226.7ZM1159.9,1195.5 1160.3,1194.8 1159.9,1194.5 1159.5,1194.8ZM1170.3,1141.6 1177.4,1134.8 1175.4,1129.8 1175.5,1124.8 1170.3,1121.8 1168.7,1124.8 1169.1,1139.8ZM1243.4,1136.2 1246.3,1134.8 1248.6,1130.8 1253.8,1133.6 1259.1,1127.4 1260.7,1129.8 1264.3,1131.2 1269.5,1128.2 1274.7,1132.5 1278.3,1129.8 1279.9,1127.3 1283,1134.8 1285.2,1135.7 1290.4,1131 1300.8,1127.6 1306,1132.2 1316.5,1133.3 1321.7,1135.6 1326.9,1132.4 1326.9,1116.9 1321.7,1120.6 1321.1,1119.8 1316.5,1117.2 1311.3,1119 1306,1114.4 1300.8,1114.1 1295.6,1118.6 1293.1,1119.8 1290.4,1127.8 1288.5,1124.8 1283.8,1119.8 1279.9,1117.7 1274.7,1116.9 1269.5,1117.6 1266.8,1119.8 1264.3,1123.1 1259.1,1122.6 1253.8,1124 1248.6,1128.5 1243.4,1127.3 1235.2,1119.8 1233,1118.6 1231.1,1119.8 1233.6,1124.8 1232.1,1129.8 1233,1131.5 1239.8,1134.8ZM1180.8,1130.2 1186,1128.8 1196.4,1132.1 1201.6,1132.3 1206.9,1131.6 1212.1,1130 1217.3,1133.6 1221.8,1129.8 1226.1,1124.8 1224.6,1119.8 1217.3,1114.5 1216.5,1114.8 1210.5,1124.8 1206.9,1126.9 1205.1,1124.8 1206.9,1122 1210.3,1119.8 1206.9,1117.1 1201.6,1118.8 1196.4,1119.5 1191.2,1116.1 1180.8,1117.8 1176.5,1119.8 1175.6,1124.8 1176.7,1129.8ZM1215.4,1124.8 1217.3,1124.2 1218.2,1124.8 1217.3,1125.2ZM1170.3,1116 1171.2,1114.8 1170.3,1112.7 1169.9,1114.8ZM1264.3,1113.3 1268.7,1109.8 1264.3,1107.8 1261.9,1109.8ZM1290.4,1110.4 1291.6,1109.8 1290.4,1109.4 1289.8,1109.8ZM1170.3,1105.1 1170.4,1104.9 1172.1,1099.8 1170.3,1096.9 1168.7,1099.8 1170.3,1104.8Z" fill="#c4da3f" stroke="#231f20" stroke-width="0.5" fill-rule="evenodd" clip-path="url(#ch)"/>
<path d="M1149.4,1221.8 1159.9,1217.5 1162,1214.8 1160.7,1209.8 1160.9,1204.8 1159.9,1203.9 1154.7,1201.5 1151.9,1204.8 1151.8,1209.8 1149.4,1214.1 1144.3,1209.8 1145.5,1204.8 1144.2,1203.8 1144.2,1223.4ZM1170.3,1131 1170.8,1129.8 1170.5,1124.8 1170.3,1124.7 1170.2,1124.8 1170.1,1129.8ZM1196.4,1130.4 1199.5,1129.8 1196.4,1128.6 1194.9,1129.8ZM1206.9,1129.9 1207,1129.8 1206.9,1129.8 1206.3,1129.8ZM1217.3,1131.8 1219.6,1129.8 1217.3,1127.5 1214.6,1129.8ZM1238.2,1130.4 1240,1129.8 1238.2,1128.3 1237.3,1129.8ZM1274.7,1130 1274.9,1129.8 1274.7,1128.7 1274.6,1129.8ZM1285.2,1132.3 1287.8,1129.8 1285.2,1125.4 1283.5,1129.8ZM1311.3,1130.8 1316.2,1129.8 1316.1,1124.8 1318.2,1119.8 1316.5,1118.9 1314.2,1119.8 1311.3,1121.5 1306,1122.7 1302,1124.8 1308.7,1129.8ZM1326.9,1130.3 1326.9,1118.6 1325,1119.8 1321.7,1124.1 1318.2,1124.8 1321.7,1126.4 1325.4,1129.8ZM1180.8,1127.1 1186,1126.8 1189.4,1124.8 1189.2,1119.8 1186,1119 1182.7,1119.8 1180.8,1121.2 1178.5,1124.8ZM1201.6,1127.9 1202.6,1124.8 1201.6,1123.3 1200.2,1124.8ZM1269.5,1125.8 1273.2,1124.8 1279.3,1119.8 1274.7,1118.6 1270,1119.8 1267.2,1124.8ZM1295.6,1126.4 1299.5,1124.8 1295.6,1121.7 1294,1124.8ZM1217.3,1120.3 1218.6,1119.8 1217.3,1119.2 1216.8,1119.8ZM1170.3,1100.5 1170.5,1099.8 1170.3,1099.5 1170.1,1099.9Z" fill="#f1e51d" stroke="#231f20" stroke-width="0.5" fill-rule="evenodd" clip-path="url(#ch)"/>
<path d="M1149.4,1219.9 1154.7,1218.9 1159.9,1216.6 1161.3,1214.8 1159.9,1210.6 1158.4,1209.8 1157.9,1204.8 1154.7,1203.9 1153.9,1204.8 1153.2,1209.8 1150.2,1214.8 1149.4,1219.8 1144.2,1215.5 1144.2,1222.3ZM1217.3,1130.7 1218.4,1129.8 1217.3,1128.8 1216.1,1129.8ZM1285.2,1130.2 1285.5,1129.8 1285.2,1129.2 1284.9,1129.8ZM1180.8,1125.3 1186,1125.7 1187.4,1124.8 1186,1120.9 1180.8,1124.1 1180.3,1124.8ZM1295.6,1125 1296,1124.8 1295.6,1124.5 1295.4,1124.8ZM1306,1125.6 1311.3,1129.4 1314.3,1124.8 1311.3,1122.7 1306,1124.3 1305,1124.8ZM1274.7,1120.5 1275.4,1119.8 1274.7,1119.7 1274,1119.8ZM1316.5,1119.9 1316.5,1119.8 1316.5,1119.8 1316.4,1119.8ZM1326.9,1121.5 1326.9,1119.8 1326.9,1119.7 1326.6,1119.8Z" fill="#f6a01c" stroke="#231f20" stroke-width="0.5" fill-rule="evenodd" clip-path="url(#ch)"/>
<path d="M1147.3,1219.8 1144.2,1217.3 1144.2,1219.8 1144.2,1221.3ZM1154.7,1218 1159.9,1215.8 1160.7,1214.8 1159.9,1212.6 1155,1209.8 1154.7,1209.2 1151.3,1214.8ZM1311.3,1126.9 1312.6,1124.8 1311.3,1123.9 1308.3,1124.8Z" fill="#e2262b" stroke="#231f20" stroke-width="0.5" fill-rule="evenodd" clip-path="url(#ch)"/>
<path d="M1154.7,1216.5 1158.9,1214.8 1154.7,1212.1 1152.9,1214.8Z" fill="#8e1c1e" stroke="#231f20" stroke-width="0.5" fill-rule="evenodd" clip-path="url(#ch)"/>
<path d="M1148.8,1100.3H1323.6" stroke="#231f20" stroke-width="1.3" stroke-dasharray="3.2 3.2"/>
<path d="M1148.8,1126.1H1323.6" stroke="#231f20" stroke-width="1.3" stroke-dasharray="3.2 3.2"/>
<path d="M1148.8,1166.3H1323.6" stroke="#231f20" stroke-width="1.3" stroke-dasharray="3.2 3.2"/>
<path d="M1148.8,1224.1H1323.6" stroke="#231f20" stroke-width="1.3" stroke-dasharray="3.2 3.2"/>
<path d="M1323.6,1188.8h0.9v3.6h-0.9M1323.6,1185.2h2.4v3.6h-2.4M1323.6,1181.5h5.9v3.6h-5.9M1323.6,1177.9h11v3.6h-11M1323.6,1174.3h16.9v3.6h-16.9M1323.6,1170.7h27.5v3.6h-27.5M1323.6,1167h33.7v3.6h-33.7M1323.6,1163.4h40.2v3.6h-40.2M1323.6,1159.8h35v3.6h-35M1323.6,1156.2h29.6v3.6h-29.6M1323.6,1152.5h19.6v3.6h-19.6M1323.6,1148.9h13.4v3.6h-13.4M1323.6,1145.3h6.1v3.6h-6.1M1323.6,1141.7h5.3v3.6h-5.3M1323.6,1138h11.9v3.6h-11.9M1323.6,1134.4h27.8v3.6h-27.8M1323.6,1130.8h59.7v3.6h-59.7M1323.6,1127.2h68.4v3.6h-68.4M1323.6,1123.5h70.7v3.6h-70.7M1323.6,1119.9h39.8v3.6h-39.8M1323.6,1116.3h22v3.6h-22M1323.6,1112.7h18.3v3.6h-18.3M1323.6,1109h20.1v3.6h-20.1M1323.6,1105.4h19.1v3.6h-19.1M1323.6,1101.8h15.4v3.6h-15.4M1323.6,1098.2h9.9v3.6h-9.9M1323.6,1094.5h5.3v3.6h-5.3M1323.6,1090.9h2.1v3.6h-2.1M1323.6,1087.3h0.7v3.6h-0.7" fill="#fff" stroke="#231f20" stroke-width="0.7"/>
<path d="M1323.6,1236.1 1323.6,1234.4 1323.6,1232.7 1323.6,1231 1323.6,1229.3 1323.6,1227.6 1323.6,1225.9 1323.6,1224.2 1323.6,1222.5 1323.6,1220.8 1323.6,1219.1 1323.6,1217.3 1323.6,1215.6 1323.6,1213.9 1323.6,1212.2 1323.6,1210.5 1323.6,1208.8 1323.6,1207.1 1323.6,1205.4 1323.6,1203.7 1323.6,1202 1323.6,1200.3 1323.6,1198.6 1323.6,1196.9 1323.6,1195.2 1323.6,1193.5 1323.6,1191.8 1323.6,1190.1 1323.6,1188.4 1323.6,1186.7 1323.6,1185 1323.6,1183.3 1323.6,1181.6 1323.6,1179.8 1323.6,1178.1 1323.6,1176.4 1323.6,1174.7 1323.6,1173 1323.6,1171.3 1323.6,1169.6 1323.6,1167.9 1323.6,1166.2 1323.6,1164.5 1323.6,1162.8 1323.6,1161.1 1323.6,1159.4 1323.6,1157.7 1323.6,1156 1323.6,1154.3 1323.6,1152.6 1323.6,1150.9 1323.7,1149.2 1323.9,1147.5 1324.3,1145.8 1325.4,1144.1 1327.5,1142.3 1331.5,1140.6 1338,1138.9 1347.6,1137.2 1360.1,1135.5 1374.2,1133.8 1387.7,1132.1 1397.6,1130.4 1401.6,1128.7 1398.5,1127 1389.3,1125.3 1376.1,1123.6 1361.9,1121.9 1349.1,1120.2 1339.1,1118.5 1332.2,1116.8 1327.9,1115.1 1325.6,1113.4 1324.4,1111.7 1323.9,1110 1323.7,1108.3 1323.6,1106.6 1323.6,1104.8 1323.6,1103.1 1323.6,1101.4 1323.6,1099.7 1323.6,1098 1323.6,1096.3 1323.6,1094.6 1323.6,1092.9 1323.6,1091.2 1323.6,1089.5 1323.6,1087.8 1323.6,1086.1 1323.6,1084.4 1323.6,1082.7 1323.6,1081 1323.6,1079.3 1323.6,1077.6 1323.6,1075.9 1323.6,1074.2 1323.6,1072.5 1323.6,1070.8 1323.6,1069.1 1323.6,1067.3" fill="none" stroke="#231f20" stroke-width="0.9" clip-path="url(#chh)"/>
<path d="M1323.6,1236.1 1323.6,1234.4 1323.6,1232.7 1323.6,1231 1323.6,1229.3 1323.6,1227.6 1323.6,1225.9 1323.6,1224.2 1323.6,1222.5 1323.6,1220.8 1323.6,1219.1 1323.6,1217.3 1323.6,1215.6 1323.6,1213.9 1323.6,1212.2 1323.6,1210.5 1323.6,1208.8 1323.6,1207.1 1323.6,1205.4 1323.6,1203.7 1323.6,1202 1323.6,1200.3 1323.7,1198.6 1323.7,1196.9 1323.8,1195.2 1324,1193.5 1324.2,1191.8 1324.6,1190.1 1325.2,1188.4 1326.1,1186.7 1327.4,1185 1329.1,1183.3 1331.4,1181.6 1334.2,1179.8 1337.5,1178.1 1341.3,1176.4 1345.4,1174.7 1349.6,1173 1353.5,1171.3 1357,1169.6 1359.6,1167.9 1361.2,1166.2 1361.6,1164.5 1360.7,1162.8 1358.7,1161.1 1355.7,1159.4 1352,1157.7 1347.9,1156 1343.7,1154.3 1339.7,1152.6 1336.1,1150.9 1333,1149.2 1330.4,1147.5 1328.4,1145.8 1326.8,1144.1 1325.7,1142.3 1325,1140.6 1324.4,1138.9 1324.1,1137.2 1323.9,1135.5 1323.8,1133.8 1323.7,1132.1 1323.6,1130.4 1323.6,1128.7 1323.6,1127 1323.6,1125.3 1323.6,1123.6 1323.6,1121.9 1323.6,1120.2 1323.6,1118.5 1323.6,1116.8 1323.6,1115.1 1323.6,1113.4 1323.6,1111.7 1323.6,1110 1323.6,1108.3 1323.6,1106.6 1323.6,1104.8 1323.6,1103.1 1323.6,1101.4 1323.6,1099.7 1323.6,1098 1323.6,1096.3 1323.6,1094.6 1323.6,1092.9 1323.6,1091.2 1323.6,1089.5 1323.6,1087.8 1323.6,1086.1 1323.6,1084.4 1323.6,1082.7 1323.6,1081 1323.6,1079.3 1323.6,1077.6 1323.6,1075.9 1323.6,1074.2 1323.6,1072.5 1323.6,1070.8 1323.6,1069.1 1323.6,1067.3" fill="none" stroke="#231f20" stroke-width="0.9" clip-path="url(#chh)"/>
<path d="M1323.6,1236.1 1323.6,1234.4 1323.6,1232.7 1323.6,1231 1323.6,1229.3 1323.6,1227.6 1323.6,1225.9 1323.6,1224.2 1323.6,1222.5 1323.6,1220.8 1323.6,1219.1 1323.6,1217.3 1323.6,1215.6 1323.6,1213.9 1323.6,1212.2 1323.6,1210.5 1323.6,1208.8 1323.6,1207.1 1323.6,1205.4 1323.6,1203.7 1323.6,1202 1323.6,1200.3 1323.6,1198.6 1323.6,1196.9 1323.6,1195.2 1323.6,1193.5 1323.6,1191.8 1323.6,1190.1 1323.6,1188.4 1323.6,1186.7 1323.6,1185 1323.6,1183.3 1323.6,1181.6 1323.6,1179.8 1323.6,1178.1 1323.6,1176.4 1323.6,1174.7 1323.6,1173 1323.6,1171.3 1323.6,1169.6 1323.6,1167.9 1323.6,1166.2 1323.6,1164.5 1323.6,1162.8 1323.6,1161.1 1323.6,1159.4 1323.6,1157.7 1323.6,1156 1323.6,1154.3 1323.6,1152.6 1323.6,1150.9 1323.6,1149.2 1323.6,1147.5 1323.6,1145.8 1323.6,1144.1 1323.6,1142.3 1323.6,1140.6 1323.6,1138.9 1323.6,1137.2 1323.6,1135.5 1323.7,1133.8 1323.7,1132.1 1323.9,1130.4 1324.1,1128.7 1324.6,1127 1325.3,1125.3 1326.3,1123.6 1327.8,1121.9 1329.7,1120.2 1332,1118.5 1334.6,1116.8 1337.4,1115.1 1339.9,1113.4 1342,1111.7 1343.3,1110 1343.6,1108.3 1342.9,1106.6 1341.2,1104.8 1339,1103.1 1336.3,1101.4 1333.5,1099.7 1331,1098 1328.8,1096.3 1327.1,1094.6 1325.8,1092.9 1325,1091.2 1324.4,1089.5 1324,1087.8 1323.8,1086.1 1323.7,1084.4 1323.7,1082.7 1323.6,1081 1323.6,1079.3 1323.6,1077.6 1323.6,1075.9 1323.6,1074.2 1323.6,1072.5 1323.6,1070.8 1323.6,1069.1 1323.6,1067.3" fill="none" stroke="#231f20" stroke-width="0.9" clip-path="url(#chh)"/>
<path d="M1323.6,1236.1 1323.6,1234.4 1323.6,1232.7 1323.6,1231 1323.6,1229.3 1323.6,1227.6 1323.6,1225.9 1323.6,1224.2 1323.6,1222.5 1323.6,1220.8 1323.6,1219.1 1323.6,1217.3 1323.6,1215.6 1323.6,1213.9 1323.6,1212.2 1323.6,1210.5 1323.6,1208.8 1323.6,1207.1 1323.6,1205.4 1323.6,1203.7 1323.6,1202 1323.6,1200.3 1323.7,1198.6 1323.7,1196.9 1323.8,1195.2 1324,1193.5 1324.2,1191.8 1324.6,1190.1 1325.2,1188.4 1326.1,1186.7 1327.4,1185 1329.1,1183.3 1331.4,1181.6 1334.2,1179.8 1337.5,1178.1 1341.3,1176.4 1345.4,1174.7 1349.6,1173 1353.5,1171.3 1357,1169.6 1359.6,1167.9 1361.2,1166.2 1361.6,1164.5 1360.7,1162.8 1358.7,1161.1 1355.7,1159.4 1352,1157.7 1347.9,1156 1343.7,1154.3 1339.7,1152.6 1336.1,1150.9 1333.1,1149.2 1330.7,1147.5 1329.1,1145.8 1328.6,1144.1 1329.7,1142.3 1332.8,1140.6 1338.8,1138.9 1348.1,1137.2 1360.4,1135.5 1374.5,1133.8 1387.9,1132.1 1398,1130.4 1402.2,1128.7 1399.5,1127 1391,1125.3 1378.9,1123.6 1366.1,1121.9 1355.2,1120.2 1347.5,1118.5 1343.2,1116.8 1341.7,1115.1 1341.9,1113.4 1342.8,1111.7 1343.6,1110 1343.7,1108.3 1342.9,1106.6 1341.3,1104.8 1339,1103.1 1336.3,1101.4 1333.5,1099.7 1331,1098 1328.8,1096.3 1327.1,1094.6 1325.8,1092.9 1325,1091.2 1324.4,1089.5 1324,1087.8 1323.8,1086.1 1323.7,1084.4 1323.7,1082.7 1323.6,1081 1323.6,1079.3 1323.6,1077.6 1323.6,1075.9 1323.6,1074.2 1323.6,1072.5 1323.6,1070.8 1323.6,1069.1 1323.6,1067.3" fill="none" stroke="#231f20" stroke-width="1.1" clip-path="url(#chh)"/>
<rect x="1146.8" y="1072.6" width="267.4" height="176.7" fill="none" stroke="#231f20" stroke-width="1.4"/>
<path d="M1323.6,1072.6V1249.3" stroke="#231f20" stroke-width="1.4"/>
<path d="M1146.8,1098.6h-3.8 M1146.8,1123.6h-3.8 M1146.8,1148.6h-3.8 M1146.8,1173.6h-3.8 M1146.8,1198.6h-3.8 M1146.8,1223.6h-3.8 M1146.8,1249.3h-3.8" stroke="#231f20" stroke-width="1.3"/>
<path d="M1172.4,1249.3v5 M1224.6,1249.3v5 M1276.8,1249.3v5" stroke="#231f20" stroke-width="1.3"/>
<text x="1090.9" y="1102.2">1.0</text>
<text x="1091" y="1127.4">0.8</text>
<text x="1091" y="1156.2">0.6</text>
<text x="1090.5" y="1181.3">0.4</text>
<text x="1091.2" y="1208.3">0.2</text>
<text x="1090.9" y="1238.2">0.0</text>
<text x="1150.2" y="1279.5">0.0</text>
<text x="1202.4" y="1279.5">0.5</text>
<text x="1254" y="1279.5">1.0</text>
<text x="1193" y="1311.5" textLength="100.7" lengthAdjust="spacingAndGlyphs" font-size="32.5">Time, s</text>
<text transform="translate(1086.8,1200.5) rotate(-90)" x="-2.6">FRET</text>
<text x="1060.3" y="1068" font-weight="bold" textLength="21.4" lengthAdjust="spacingAndGlyphs" font-size="31">h</text>
<text x="1215.8" y="1214.8" font-style="italic" font-size="32.5">N</text>
<text x="1238.7" y="1214.8" textLength="69.8" lengthAdjust="spacingAndGlyphs" font-size="32.5">=124</text>
<text x="1436.4" y="1103.2" textLength="44.9" lengthAdjust="spacingAndGlyphs" font-size="32.5">RB</text>
<text x="1431.3" y="1129.6" textLength="51" lengthAdjust="spacingAndGlyphs" font-size="32.5">A/A</text>
<text x="1431.7" y="1158.5" textLength="51.9" lengthAdjust="spacingAndGlyphs" font-size="32.5">A/P</text>
<text x="1431.3" y="1207.7" textLength="63.1" lengthAdjust="spacingAndGlyphs" font-size="32.5">A/P*</text>
<path d="M1421,1102.8L1433.8,1090.8M1427.8,1117.2L1418.2,1128.4L1429.8,1148.5M1421.4,1170.5L1433.8,1179.7" stroke="#231f20" stroke-width="1.2" fill="none"/>
<path d="M1149.4,1934.7 1154.7,1930.8 1159.9,1934.2 1163.4,1930.8 1158.1,1925.9 1169.2,1910.9 1168,1905.9 1168.9,1891 1167.9,1886 1169.7,1881 1169.3,1861.1 1170.1,1856.1 1170.3,1847.8 1175.5,1847.9 1179.6,1846.2 1180.8,1845.3 1183.2,1841.2 1186,1839.6 1188.8,1841.2 1191.2,1845 1195.5,1841.2 1196.4,1838.6 1197.2,1841.2 1201.6,1845.3 1206.9,1848.2 1210.8,1846.2 1211.1,1841.2 1212.1,1839.8 1214.6,1841.2 1217.3,1845 1219.7,1841.2 1222.5,1838.9 1225.4,1841.2 1227.7,1845 1233,1845.7 1238.2,1842.7 1248.6,1849.1 1253.8,1843.6 1259.1,1843.2 1264.3,1839.7 1266,1841.2 1262.3,1846.2 1264.3,1849.6 1269.5,1848.1 1271.5,1846.2 1272.9,1841.2 1274.7,1839 1276,1841.2 1279.9,1844.8 1286.1,1846.2 1290.4,1849.7 1294.6,1846.2 1295.6,1842.7 1296.4,1846.2 1300.8,1848.3 1306,1849.1 1310.9,1846.2 1316.5,1840 1317,1841.2 1321.7,1843.6 1326.9,1841.2 1326.9,1776.6 1321.7,1772.6 1311.3,1772.4 1306,1776 1303.9,1771.5 1300.8,1768.6 1293.2,1776.5 1290.4,1777.8 1285.1,1776.5 1288.9,1771.5 1285.2,1769.6 1279.9,1768.5 1274.7,1771.5 1264.3,1767.9 1259.1,1768.4 1253.8,1767.7 1249.8,1771.5 1248.6,1774.2 1243.4,1771.9 1238.2,1767.9 1233,1771.5 1227.7,1776.5 1219.4,1771.5 1219.1,1766.5 1217.3,1764.8 1213.7,1766.5 1215.1,1771.5 1212.1,1773.3 1206.9,1772.6 1201.6,1773.3 1199.6,1771.5 1196.4,1767 1191.2,1764.8 1180.8,1769.6 1178.5,1771.5 1175.5,1772.5 1173.7,1771.5 1165.1,1763.7 1162.2,1766.5 1165.2,1771.5 1162,1776.5 1161.8,1781.4 1162.6,1786.4 1160.7,1791.4 1161.1,1801.4 1160.1,1816.3 1160.6,1826.3 1159.9,1860.5 1157.6,1856.1 1154.7,1854.4 1151,1856.1 1154.7,1860.3 1158,1861.1 1149.4,1862.4 1146.5,1861.1 1144.2,1859.2 1144.2,1930.5 1144.9,1930.8ZM1171.1,1841.2 1175.5,1840.5 1178.1,1841.2 1175.5,1844.1ZM1251.3,1776.5 1253.8,1775.5 1256.5,1776.5 1253.8,1778ZM1261.7,1776.5 1264.3,1774 1265.4,1776.5 1264.3,1777.3Z" fill="#3c56a6" stroke="#231f20" stroke-width="0.5" fill-rule="evenodd" clip-path="url(#cl)"/>
<path d="M1149.4,1926.8 1150.8,1925.9 1149.4,1922.4 1148,1925.9ZM1149.4,1920.5 1151.9,1915.9 1154.7,1913.6 1158.8,1915.9 1159.9,1917.1 1165.8,1910.9 1164.4,1905.9 1164.4,1896 1165,1891 1163.5,1886 1167.5,1881 1167.8,1871.1 1167.5,1866.1 1166.1,1861.1 1169,1856.1 1168.8,1846.2 1167.9,1841.2 1169.4,1836.2 1169.7,1831.2 1170.3,1830.3 1172.2,1836.2 1175.5,1837.7 1180.8,1838.3 1183.8,1836.2 1184.6,1831.2 1186,1828.5 1196.4,1824.5 1201.6,1824.4 1204.9,1826.3 1206.9,1828.2 1208.5,1831.2 1213.7,1836.2 1217.3,1838.7 1222.5,1833.4 1227.7,1830.2 1228.4,1831.2 1233,1834.5 1243.4,1838.8 1245.2,1836.2 1243.4,1831.6 1238.2,1835.1 1236.9,1831.2 1238.2,1828.9 1244.2,1831.2 1248.6,1832.1 1253.8,1831.2 1252.1,1836.2 1253.8,1838.1 1256.7,1836.2 1259.1,1833.5 1264.3,1833.5 1269.5,1838.7 1271.6,1836.2 1269.1,1831.2 1274.7,1830.1 1275.8,1831.2 1277.5,1836.2 1279.9,1840.1 1285.2,1839.1 1289.8,1836.2 1290.4,1835 1295.6,1833.4 1300.8,1833.6 1306,1834.7 1310.9,1831.2 1311.3,1826.5 1316.5,1826.4 1318,1831.2 1318.1,1836.2 1321.7,1839.9 1326.9,1837.4 1326.9,1788.9 1323.5,1786.4 1321.7,1784.2 1316.5,1780.5 1315.4,1781.4 1314.5,1786.4 1311.3,1788.5 1306,1790.7 1305.8,1791.4 1300.8,1795.5 1295.6,1796.5 1295.1,1796.4 1296.8,1791.4 1295.6,1788 1290.4,1790.8 1287.5,1786.4 1279.9,1778.7 1274.9,1781.4 1273.2,1786.4 1269.5,1787.8 1264.3,1787.3 1261.5,1786.4 1259.1,1784.3 1253.8,1788.1 1243.4,1786.8 1242.9,1786.4 1243.4,1785.8 1248.6,1785.2 1250.2,1781.4 1248.6,1780.4 1243.4,1780.3 1241.1,1781.4 1238.2,1783.9 1237.1,1781.4 1240.3,1776.5 1238.2,1772.9 1235.3,1776.5 1233,1777.7 1222.5,1788.4 1217.3,1788.2 1209.7,1781.4 1206.9,1779.5 1196.4,1783.3 1191.2,1778.7 1186.6,1781.4 1188.7,1786.4 1186,1788.2 1180.8,1782 1177,1781.4 1176,1776.5 1175.5,1776.1 1167,1781.4 1170.2,1786.4 1165.1,1788.8 1163.2,1791.4 1163.4,1796.4 1164.6,1801.4 1162.3,1806.3 1162.4,1811.3 1161.2,1816.3 1161.4,1821.3 1162.9,1826.3 1162.4,1831.2 1162.7,1841.2 1161.7,1846.2 1161.1,1856.1 1163.8,1861.1 1159.9,1866.4 1154.7,1867.3 1149.4,1871.2 1144.2,1872 1144.2,1916ZM1149.4,1881 1149.4,1880.7 1149.5,1881 1149.4,1881.1ZM1157.6,1876.1 1159.9,1873.9 1161.4,1876.1 1159.9,1877.4ZM1247,1826.3 1248.6,1825.7 1251,1826.3 1248.6,1829.1ZM1288.5,1826.3 1290.4,1825.2 1291.6,1826.3 1290.4,1829.7ZM1169.7,1821.3 1170.3,1820 1171.9,1821.3 1170.3,1822.9ZM1265.7,1821.3 1269.5,1820.7 1270,1821.3 1269.5,1823.8ZM1205.5,1786.4 1206.9,1783.8 1209.4,1786.4 1206.9,1788.1ZM1279.9,1786.4 1279.9,1786.4 1279.9,1786.4 1279.9,1786.4ZM1206.9,1841.8 1207.2,1841.2 1206.9,1840.1 1206.2,1841.2ZM1300.8,1841.8 1301.5,1841.2 1300.8,1840.5 1300.3,1841.2ZM1191.2,1837 1191.8,1836.2 1191.2,1833.1 1189.8,1836.2ZM1264.3,1782.4 1269.5,1782.8 1274.3,1781.4 1269.5,1778.4 1264.3,1781 1263.4,1781.4ZM1311.3,1778.2 1313.1,1776.5 1311.3,1775.4 1309.8,1776.5ZM1253.8,1771.7 1254.3,1771.5 1253.8,1771.3 1253.6,1771.5Z" fill="#4ca0d8" stroke="#231f20" stroke-width="0.5" fill-rule="evenodd" clip-path="url(#cl)"/>
<path d="M1149.1,1910.9 1154.7,1911.4 1159.9,1914.7 1163.9,1910.9 1162.6,1896 1163.6,1891 1161.3,1886 1165.7,1881 1166.3,1871.1 1165.7,1866.1 1165.1,1864.2 1163.8,1866.1 1161.2,1871.1 1164.1,1876.1 1159.9,1879.8 1154.7,1876.7 1151.5,1881 1149.4,1882 1146.6,1881 1144.2,1878.1 1144.2,1913.4ZM1154.7,1874.2 1157.7,1871.1 1154.7,1870.1 1153.2,1871.1ZM1165.1,1860.4 1168.2,1856.1 1167.5,1846.2 1165.9,1841.2 1166.9,1836.2 1167,1831.2 1170,1826.3 1168.4,1821.3 1170.3,1817.4 1180.8,1825.5 1186,1821.2 1191.2,1823.1 1196.4,1820.2 1201.6,1820.5 1206.9,1818.3 1208.5,1821.3 1212.1,1824.7 1215.2,1821.3 1217.3,1820.1 1221.5,1821.3 1227.7,1826.7 1229.9,1826.3 1233,1821.1 1238.2,1825.1 1240.9,1821.3 1243.4,1819.9 1248.6,1823.6 1253.8,1819.7 1259.1,1818.6 1264.3,1819.9 1269.5,1819.4 1271.1,1821.3 1273.6,1826.3 1274.7,1826.8 1285.2,1820.3 1290.4,1823.4 1294.1,1821.3 1298.1,1816.3 1300.8,1815.2 1302,1816.3 1300.8,1820.7 1295.6,1823.2 1293.9,1826.3 1295.6,1828.9 1299.6,1826.3 1300.8,1822.8 1316.5,1824.6 1321.7,1820.9 1326.9,1820 1326.9,1811.3 1326.9,1791.2 1321.7,1791.8 1319.9,1791.4 1316.5,1789.1 1311.3,1790.5 1306,1793.8 1303.1,1796.4 1300.8,1797.3 1295.6,1797.3 1291.1,1796.4 1288,1791.4 1285.2,1788.3 1279.9,1792.2 1276.1,1791.4 1274.7,1790.5 1264.3,1788.8 1253.8,1790.4 1251.7,1791.4 1250.2,1796.4 1248.6,1797.5 1243.4,1792.7 1238.2,1790.7 1233,1795.3 1229.7,1791.4 1230.6,1786.4 1227.7,1785 1222.5,1791.1 1217.3,1792.7 1212.1,1788.6 1201.6,1793.5 1196.4,1792.7 1191.2,1793.4 1186,1797.1 1180.7,1796.4 1175.5,1792.5 1170.3,1791.9 1165.3,1796.4 1166,1801.4 1163.8,1806.3 1163.9,1811.3 1162.1,1816.3 1162.5,1821.3 1164.8,1826.3 1164,1831.2 1164.4,1841.2 1162.9,1846.2 1162,1856.1ZM1274.2,1816.3 1274.7,1815.8 1275.8,1816.3 1274.7,1816.6ZM1260.8,1796.4 1264.3,1795.2 1265.5,1796.4 1264.3,1796.9ZM1321.7,1838.4 1325.3,1836.2 1326.9,1832.1 1326.9,1830.4 1321.7,1829 1320.1,1831.2 1319.6,1836.2ZM1175.5,1834.6 1180.8,1832.3 1181.1,1831.2 1180.8,1829.7 1175.5,1829 1173.6,1831.2ZM1233,1832.8 1234.9,1831.2 1233,1827 1230.7,1831.2ZM1279.9,1833.8 1281.3,1831.2 1279.9,1829.8 1278.9,1831.2ZM1259.1,1829.1 1264.3,1830 1268.2,1826.3 1264.3,1822.8 1259.1,1823.3 1256.1,1826.3ZM1175.5,1788.6 1178.4,1786.4 1175.5,1785 1174.1,1786.4ZM1201.6,1789.2 1203.2,1786.4 1201.6,1784.4 1198,1786.4ZM1233,1783.1 1233.9,1781.4 1233,1780.6 1232.2,1781.4Z" fill="#74c8b6" stroke="#231f20" stroke-width="0.5" fill-rule="evenodd" clip-path="url(#cl)"/>
<path d="M1159.9,1913.1 1162.2,1910.9 1162.4,1905.9 1160.8,1896 1162.1,1891 1159.9,1887 1158.5,1886 1157.5,1881 1154.7,1879.4 1153.5,1881 1149.4,1883 1144.2,1881.5 1144.2,1910.7 1149.4,1909 1154.7,1909.1 1156.5,1910.9ZM1165.1,1859.2 1167.3,1856.1 1167.2,1851.2 1165.1,1843.2 1163,1851.2 1162.9,1856.1ZM1321.7,1836.8 1322.7,1836.2 1321.7,1832.9 1321.1,1836.2ZM1264.3,1828 1266.1,1826.3 1264.3,1824.7 1259.9,1826.3ZM1165.1,1824.6 1169.3,1816.3 1170.3,1815.6 1180.8,1815.1 1182.1,1816.3 1179.8,1821.3 1180.8,1822 1186,1819.3 1191.2,1820.7 1196.4,1816 1201.6,1817.6 1206.9,1814.7 1208.7,1816.3 1212.1,1821.8 1217.3,1818.5 1222.5,1816.9 1225.5,1821.3 1227.7,1823.3 1233,1817.7 1238.2,1819.7 1243.4,1818.2 1248.6,1821.5 1253.8,1817.7 1259.1,1815.8 1264.3,1818.2 1269.5,1818 1272.1,1816.3 1274.7,1813.6 1290.4,1821.5 1293.1,1816.3 1300.8,1813.6 1303.6,1816.3 1306,1820.2 1316.5,1822.9 1326.5,1816.3 1326.9,1811.3 1326.9,1795.9 1321.7,1794.8 1316.5,1792.5 1311.3,1793 1305.9,1796.4 1300.8,1798.3 1290.4,1798 1285.5,1796.4 1285.2,1791 1279.9,1793.9 1274.7,1795.6 1269.5,1791.8 1267.7,1796.4 1264.3,1797.8 1259.1,1797.7 1253.8,1796.6 1246.4,1801.4 1243.4,1802 1241.4,1801.4 1244.8,1796.4 1243.4,1795.1 1238.2,1795 1233,1798.9 1228.3,1796.4 1227.7,1795.5 1222.5,1795.7 1212.1,1798.3 1208.9,1796.4 1206.9,1794.3 1201.6,1797 1196.4,1794.2 1191.2,1795.6 1186,1798.6 1180.8,1797.6 1177.9,1796.4 1175.5,1794.6 1170.3,1793 1166.5,1796.4 1167,1801.4 1165.7,1806.3 1165.4,1811.3 1163,1816.3 1163.5,1821.3ZM1268.9,1811.3 1269.5,1810.4 1271,1811.3 1269.5,1812.6ZM1289.1,1811.3 1290.4,1810.5 1291.3,1811.3 1290.4,1814.5ZM1310.7,1801.4 1311.3,1799.8 1311.8,1801.4 1311.3,1802ZM1274.7,1824.9 1279.8,1821.3 1274.7,1818.1 1272.2,1821.3ZM1264.3,1793.1 1269.1,1791.4 1264.3,1790.2 1261.5,1791.4Z" fill="#c4da3f" stroke="#231f20" stroke-width="0.5" fill-rule="evenodd" clip-path="url(#cl)"/>
<path d="M1159.9,1907 1159.9,1905.2 1157.8,1901 1157.8,1896 1159,1891 1154.7,1887.3 1149.4,1885.2 1147.3,1886 1144.2,1887.3 1144.2,1898.9 1145.3,1901 1149.4,1905.1 1154.7,1904.5 1158.7,1905.9ZM1165.1,1856.5 1165.4,1856.1 1165.2,1851.2 1165.1,1850.9 1165,1851.2 1164.8,1856.1ZM1274.7,1821.3 1274.7,1821.3 1274.7,1821.3 1274.7,1821.3ZM1165.1,1816.9 1165.3,1816.3 1165.1,1816.1 1165,1816.3ZM1191.2,1817.3 1192.3,1816.3 1189.1,1811.3 1187.7,1806.3 1186,1803.3 1183.9,1801.4 1175.5,1799.3 1172.5,1796.4 1170.3,1795.4 1169.2,1796.4 1169.5,1801.4 1170.3,1803.9 1172.7,1806.3 1170.3,1808.2 1168.5,1811.3 1170.3,1812.9 1175,1811.3 1175.5,1810.6 1180.8,1809.1 1182.3,1811.3 1188.6,1816.3ZM1321.7,1817.3 1323.1,1816.3 1321.7,1813.8 1320,1816.3ZM1196.4,1811.7 1201.6,1814.1 1205.4,1811.3 1206.9,1809.3 1212.1,1807.4 1222.5,1810.1 1230.4,1811.3 1238.2,1814.9 1243.4,1810.5 1248.9,1811.3 1253.8,1813.3 1264.3,1813.5 1269.5,1805.2 1270.2,1806.3 1279.9,1813.8 1290.4,1807.9 1295.6,1812.4 1300.8,1809.9 1306,1811.2 1311.3,1809.2 1316.5,1811.9 1317.6,1811.3 1321.7,1806.8 1326.9,1807.3 1326.9,1800.3 1321.7,1799.6 1316.5,1795.8 1315.1,1796.4 1314.2,1801.4 1311.3,1804.9 1306,1799 1300.8,1800.7 1295.6,1799.9 1291.5,1801.4 1290.4,1802.8 1285.2,1803.7 1280.6,1801.4 1279.9,1800.2 1274.7,1801.5 1269.5,1799.1 1264.3,1799.9 1253.8,1803.6 1248.6,1802.9 1243.4,1804 1238.2,1803.1 1233,1803.3 1227.7,1799.5 1222.5,1798.7 1215.9,1801.4 1212.1,1804.9 1201.6,1803.5 1200.3,1801.4 1196.4,1798 1188.8,1801.4 1191.2,1802.4 1195.1,1806.3 1195.4,1811.3Z" fill="#f1e51d" stroke="#231f20" stroke-width="0.5" fill-rule="evenodd" clip-path="url(#cl)"/>
<path d="M1149.4,1903.2 1154.7,1902.4 1155.9,1901 1156.2,1896 1157.5,1891 1154.7,1888.6 1149.4,1886.7 1144.2,1888.7 1144.2,1895.6 1149.4,1895.6 1150.3,1896 1147.2,1901ZM1170.3,1811.5 1170.7,1811.3 1170.3,1811.1 1170.2,1811.3ZM1201.6,1812.6 1203.3,1811.3 1201.6,1808.1 1199.1,1811.3ZM1238.2,1813.9 1241.6,1811.3 1243.4,1808.6 1248.6,1809.6 1253.6,1806.3 1248.6,1804 1243.4,1805 1233,1804.8 1227.9,1801.4 1222.5,1800.2 1219.8,1801.4 1223.6,1806.3 1227.7,1808.7 1233,1809.3 1233.9,1811.3ZM1259.1,1812.1 1262.6,1811.3 1264.8,1806.3 1269.5,1801.4 1263.3,1801.4 1259.1,1804.9 1254.6,1806.3 1255.2,1811.3ZM1279.9,1812.4 1282.2,1811.3 1285.2,1807.6 1290.4,1806.4 1295.6,1810 1300.8,1807.9 1306,1809.3 1310.8,1806.3 1306.8,1801.4 1306,1800.6 1303.3,1801.4 1300.8,1803.3 1298.3,1801.4 1295.6,1800.9 1294.2,1801.4 1290.4,1806.2 1285.2,1805.6 1279.9,1803.2 1274.7,1804.1 1272.6,1806.3 1278.4,1811.3ZM1217.3,1806.4 1217.4,1806.3 1217.3,1806.3 1217.2,1806.3ZM1316.5,1810.2 1320.3,1806.3 1320.4,1801.4 1316.5,1798.9 1315.6,1801.4 1311.5,1806.3ZM1196.4,1803.1 1197.3,1801.4 1196.4,1800.6 1194.8,1801.4Z" fill="#f6a01c" stroke="#231f20" stroke-width="0.5" fill-rule="evenodd" clip-path="url(#cl)"/>
<path d="M1149.4,1901.3 1151.3,1901 1149.4,1900.3 1149.1,1901ZM1154.7,1896.3 1156,1891 1154.7,1889.9 1149.4,1888.6 1144.2,1890.1 1144.2,1892.8 1149.4,1893.6 1154.6,1896ZM1238.2,1813 1240.4,1811.3 1238.2,1807.2 1235.4,1811.3ZM1227.7,1806.9 1232.4,1806.3 1227.7,1805.2 1226.9,1806.3ZM1243.4,1806.7 1248.6,1808 1251.2,1806.3 1248.6,1805.2 1243.4,1806.1 1241.7,1806.3ZM1279.9,1809.7 1281.8,1806.3 1279.9,1805.5 1275.9,1806.3ZM1295.6,1806.6 1296.8,1806.3 1295.6,1805.7 1295.2,1806.3ZM1306,1807.4 1307.8,1806.3 1306,1803.6 1302.3,1806.3ZM1316.5,1808.7 1318.9,1806.3 1316.5,1802.2 1313.4,1806.3Z" fill="#e2262b" stroke="#231f20" stroke-width="0.5" fill-rule="evenodd" clip-path="url(#cl)"/>
<path d="M1149.4,1891.6 1153.4,1891 1149.4,1890.4 1146.8,1891ZM1238.2,1812.1 1239.2,1811.3 1238.2,1809.4 1236.9,1811.3ZM1248.6,1806.5 1248.8,1806.3 1248.6,1806.2 1248,1806.3ZM1316.5,1807.4 1317.5,1806.3 1316.5,1804.6 1315.2,1806.3Z" fill="#8e1c1e" stroke="#231f20" stroke-width="0.5" fill-rule="evenodd" clip-path="url(#cl)"/>
<path d="M1148.8,1783.9H1323.6" stroke="#231f20" stroke-width="1.3" stroke-dasharray="3.2 3.2"/>
<path d="M1148.8,1807H1323.6" stroke="#231f20" stroke-width="1.3" stroke-dasharray="3.2 3.2"/>
<path d="M1148.8,1834H1323.6" stroke="#231f20" stroke-width="1.3" stroke-dasharray="3.2 3.2"/>
<path d="M1148.8,1905.2H1323.6" stroke="#231f20" stroke-width="1.3" stroke-dasharray="3.2 3.2"/>
<path d="M1323.6,1852h1.4v3.6h-1.4M1323.6,1848.4h3.7v3.6h-3.7M1323.6,1844.8h7.5v3.6h-7.5M1323.6,1841.1h13.8v3.6h-13.8M1323.6,1837.5h21.9v3.6h-21.9M1323.6,1833.9h24v3.6h-24M1323.6,1830.3h25.8v3.6h-25.8M1323.6,1826.7h26.3v3.6h-26.3M1323.6,1823.1h20.2v3.6h-20.2M1323.6,1819.5h24.7v3.6h-24.7M1323.6,1815.9h34.2v3.6h-34.2M1323.6,1812.3h57.4v3.6h-57.4M1323.6,1808.6h84.7v3.6h-84.7M1323.6,1805h86.6v3.6h-86.6M1323.6,1801.4h56.7v3.6h-56.7M1323.6,1797.8h31.2v3.6h-31.2M1323.6,1794.2h16.9v3.6h-16.9M1323.6,1790.6h15.3v3.6h-15.3M1323.6,1787h15.9v3.6h-15.9M1323.6,1783.4h14.2v3.6h-14.2M1323.6,1779.8h11.2v3.6h-11.2M1323.6,1776.2h7.2v3.6h-7.2M1323.6,1772.5h3.3v3.6h-3.3M1323.6,1768.9h1v3.6h-1" fill="#c9cacb" stroke="#231f20" stroke-width="0.7"/>
<path d="M1323.6,1917.2 1323.6,1915.5 1323.6,1913.8 1323.6,1912.1 1323.6,1910.4 1323.6,1908.7 1323.6,1907 1323.6,1905.3 1323.6,1903.6 1323.6,1901.9 1323.6,1900.2 1323.6,1898.5 1323.6,1896.8 1323.6,1895.1 1323.6,1893.4 1323.6,1891.7 1323.6,1890 1323.6,1888.3 1323.6,1886.6 1323.6,1884.9 1323.6,1883.2 1323.6,1881.5 1323.6,1879.8 1323.6,1878.1 1323.6,1876.4 1323.6,1874.7 1323.6,1873 1323.6,1871.3 1323.6,1869.6 1323.6,1867.9 1323.6,1866.2 1323.6,1864.5 1323.6,1862.8 1323.6,1861.1 1323.6,1859.4 1323.6,1857.7 1323.6,1856 1323.6,1854.3 1323.6,1852.6 1323.6,1850.9 1323.6,1849.2 1323.6,1847.5 1323.6,1845.8 1323.6,1844.1 1323.6,1842.5 1323.6,1840.8 1323.6,1839.1 1323.6,1837.4 1323.6,1835.7 1323.6,1834 1323.7,1832.3 1323.8,1830.6 1324.1,1828.9 1324.7,1827.2 1325.9,1825.5 1328.2,1823.8 1332.1,1822.1 1338.3,1820.4 1347.1,1818.7 1358.4,1817 1371.5,1815.3 1384.9,1813.6 1396.3,1811.9 1403.7,1810.2 1405.5,1808.5 1401.3,1806.8 1392.1,1805.1 1379.6,1803.4 1366.2,1801.7 1353.6,1800 1343.2,1798.3 1335.5,1796.6 1330.3,1794.9 1327.1,1793.2 1325.3,1791.5 1324.4,1789.8 1323.9,1788.1 1323.7,1786.4 1323.6,1784.7 1323.6,1783 1323.6,1781.3 1323.6,1779.6 1323.6,1777.9 1323.6,1776.2 1323.6,1774.5 1323.6,1772.8 1323.6,1771.1 1323.6,1769.4 1323.6,1767.8 1323.6,1766.1 1323.6,1764.4 1323.6,1762.7 1323.6,1761 1323.6,1759.3 1323.6,1757.6 1323.6,1755.9 1323.6,1754.2 1323.6,1752.5 1323.6,1750.8 1323.6,1749.1" fill="none" stroke="#231f20" stroke-width="0.9" clip-path="url(#clh)"/>
<path d="M1323.6,1917.2 1323.6,1915.5 1323.6,1913.8 1323.6,1912.1 1323.6,1910.4 1323.6,1908.7 1323.6,1907 1323.6,1905.3 1323.6,1903.6 1323.6,1901.9 1323.6,1900.2 1323.6,1898.5 1323.6,1896.8 1323.6,1895.1 1323.6,1893.4 1323.6,1891.7 1323.6,1890 1323.6,1888.3 1323.6,1886.6 1323.6,1884.9 1323.6,1883.2 1323.6,1881.5 1323.6,1879.8 1323.6,1878.1 1323.6,1876.4 1323.6,1874.7 1323.6,1873 1323.6,1871.3 1323.6,1869.6 1323.6,1867.9 1323.6,1866.2 1323.6,1864.5 1323.7,1862.8 1323.7,1861.1 1323.8,1859.4 1324,1857.7 1324.3,1856 1324.8,1854.3 1325.5,1852.6 1326.6,1850.9 1328,1849.2 1329.9,1847.5 1332.3,1845.8 1335,1844.1 1338.2,1842.5 1341.5,1840.8 1344.7,1839.1 1347.6,1837.4 1349.8,1835.7 1351.2,1834 1351.6,1832.3 1350.9,1830.6 1349.3,1828.9 1346.8,1827.2 1343.8,1825.5 1340.6,1823.8 1337.3,1822.1 1334.3,1820.4 1331.6,1818.7 1329.4,1817 1327.6,1815.3 1326.3,1813.6 1325.3,1811.9 1324.7,1810.2 1324.2,1808.5 1324,1806.8 1323.8,1805.1 1323.7,1803.4 1323.7,1801.7 1323.6,1800 1323.6,1798.3 1323.6,1796.6 1323.6,1794.9 1323.6,1793.2 1323.6,1791.5 1323.6,1789.8 1323.6,1788.1 1323.6,1786.4 1323.6,1784.7 1323.6,1783 1323.6,1781.3 1323.6,1779.6 1323.6,1777.9 1323.6,1776.2 1323.6,1774.5 1323.6,1772.8 1323.6,1771.1 1323.6,1769.4 1323.6,1767.8 1323.6,1766.1 1323.6,1764.4 1323.6,1762.7 1323.6,1761 1323.6,1759.3 1323.6,1757.6 1323.6,1755.9 1323.6,1754.2 1323.6,1752.5 1323.6,1750.8 1323.6,1749.1" fill="none" stroke="#231f20" stroke-width="0.9" clip-path="url(#clh)"/>
<path d="M1323.6,1917.2 1323.6,1915.5 1323.6,1913.8 1323.6,1912.1 1323.6,1910.4 1323.6,1908.7 1323.6,1907 1323.6,1905.3 1323.6,1903.6 1323.6,1901.9 1323.6,1900.2 1323.6,1898.5 1323.6,1896.8 1323.6,1895.1 1323.6,1893.4 1323.6,1891.7 1323.6,1890 1323.6,1888.3 1323.6,1886.6 1323.6,1884.9 1323.6,1883.2 1323.6,1881.5 1323.6,1879.8 1323.6,1878.1 1323.6,1876.4 1323.6,1874.7 1323.6,1873 1323.6,1871.3 1323.6,1869.6 1323.6,1867.9 1323.6,1866.2 1323.6,1864.5 1323.6,1862.8 1323.6,1861.1 1323.6,1859.4 1323.6,1857.7 1323.6,1856 1323.6,1854.3 1323.6,1852.6 1323.6,1850.9 1323.6,1849.2 1323.6,1847.5 1323.6,1845.8 1323.6,1844.1 1323.6,1842.5 1323.6,1840.8 1323.6,1839.1 1323.6,1837.4 1323.6,1835.7 1323.6,1834 1323.6,1832.3 1323.6,1830.6 1323.6,1828.9 1323.6,1827.2 1323.6,1825.5 1323.6,1823.8 1323.6,1822.1 1323.6,1820.4 1323.6,1818.7 1323.6,1817 1323.6,1815.3 1323.6,1813.6 1323.7,1811.9 1323.8,1810.2 1323.9,1808.5 1324.2,1806.8 1324.7,1805.1 1325.3,1803.4 1326.3,1801.7 1327.7,1800 1329.4,1798.3 1331.4,1796.6 1333.6,1794.9 1335.7,1793.2 1337.6,1791.5 1339,1789.8 1339.6,1788.1 1339.4,1786.4 1338.4,1784.7 1336.8,1783 1334.8,1781.3 1332.6,1779.6 1330.4,1777.9 1328.6,1776.2 1327,1774.5 1325.8,1772.8 1325,1771.1 1324.4,1769.4 1324.1,1767.8 1323.8,1766.1 1323.7,1764.4 1323.7,1762.7 1323.6,1761 1323.6,1759.3 1323.6,1757.6 1323.6,1755.9 1323.6,1754.2 1323.6,1752.5 1323.6,1750.8 1323.6,1749.1" fill="none" stroke="#231f20" stroke-width="0.9" clip-path="url(#clh)"/>
<path d="M1323.6,1917.2 1323.6,1915.5 1323.6,1913.8 1323.6,1912.1 1323.6,1910.4 1323.6,1908.7 1323.6,1907 1323.6,1905.3 1323.6,1903.6 1323.6,1901.9 1323.6,1900.2 1323.6,1898.5 1323.6,1896.8 1323.6,1895.1 1323.6,1893.4 1323.6,1891.7 1323.6,1890 1323.6,1888.3 1323.6,1886.6 1323.6,1884.9 1323.6,1883.2 1323.6,1881.5 1323.6,1879.8 1323.6,1878.1 1323.6,1876.4 1323.6,1874.7 1323.6,1873 1323.6,1871.3 1323.6,1869.6 1323.6,1867.9 1323.6,1866.2 1323.6,1864.5 1323.7,1862.8 1323.7,1861.1 1323.8,1859.4 1324,1857.7 1324.3,1856 1324.8,1854.3 1325.5,1852.6 1326.6,1850.9 1328,1849.2 1329.9,1847.5 1332.3,1845.8 1335,1844.1 1338.2,1842.5 1341.5,1840.8 1344.7,1839.1 1347.6,1837.4 1349.8,1835.7 1351.2,1834 1351.7,1832.3 1351.1,1830.6 1349.7,1828.9 1347.9,1827.2 1346.2,1825.5 1345.2,1823.8 1345.8,1822.1 1349,1820.4 1355.1,1818.7 1364.2,1817 1375.5,1815.3 1387.6,1813.6 1398.1,1811.9 1404.9,1810.2 1406.4,1808.5 1402.3,1806.8 1393.3,1805.1 1381.5,1803.4 1368.9,1801.7 1357.7,1800 1349,1798.3 1343.3,1796.6 1340.3,1794.9 1339.3,1793.2 1339.3,1791.5 1339.7,1789.8 1339.9,1788.1 1339.5,1786.4 1338.5,1784.7 1336.8,1783 1334.8,1781.3 1332.6,1779.6 1330.4,1777.9 1328.6,1776.2 1327,1774.5 1325.8,1772.8 1325,1771.1 1324.4,1769.4 1324.1,1767.8 1323.8,1766.1 1323.7,1764.4 1323.7,1762.7 1323.6,1761 1323.6,1759.3 1323.6,1757.6 1323.6,1755.9 1323.6,1754.2 1323.6,1752.5 1323.6,1750.8 1323.6,1749.1" fill="none" stroke="#231f20" stroke-width="1.1" clip-path="url(#clh)"/>
<rect x="1146.8" y="1754.8" width="267.4" height="176.5" fill="none" stroke="#231f20" stroke-width="1.4"/>
<path d="M1323.6,1754.8V1931.3" stroke="#231f20" stroke-width="1.4"/>
<path d="M1146.8,1780.2h-3.8 M1146.8,1805.1h-3.8 M1146.8,1830h-3.8 M1146.8,1854.9h-3.8 M1146.8,1879.8h-3.8 M1146.8,1904.7h-3.8 M1146.8,1931.3h-3.8" stroke="#231f20" stroke-width="1.3"/>
<path d="M1172.4,1931.3v5 M1224.6,1931.3v5 M1276.8,1931.3v5" stroke="#231f20" stroke-width="1.3"/>
<text x="1093.2" y="1791.4">1.0</text>
<text x="1093.3" y="1816.2">0.8</text>
<text x="1093.3" y="1841.4">0.6</text>
<text x="1092.8" y="1866.9">0.4</text>
<text x="1093.5" y="1893.9">0.2</text>
<text x="1093.2" y="1921.1">0.0</text>
<text x="1150.2" y="1961.5">0.0</text>
<text x="1202.4" y="1961.5">0.5</text>
<text x="1254" y="1961.5">1.0</text>
<text x="1186.9" y="1993.7" textLength="103.9" lengthAdjust="spacingAndGlyphs" font-size="32.5">Time, s</text>
<text transform="translate(1088.5,1882.6) rotate(-90)" x="-2.6">FRET</text>
<text x="1062.1" y="1739.6" font-weight="bold" font-size="31">l</text>
<text x="1219.5" y="1887.5" font-style="italic" font-size="32.5">N</text>
<text x="1242.4" y="1887.5" textLength="54.6" lengthAdjust="spacingAndGlyphs" font-size="32.5">=89</text>
<text x="1436.4" y="1779.2" textLength="44.9" lengthAdjust="spacingAndGlyphs" font-size="32.5">RB</text>
<text x="1431.3" y="1809.2" textLength="50.6" lengthAdjust="spacingAndGlyphs" font-size="32.5">A/A</text>
<text x="1431.7" y="1834.1" textLength="51.9" lengthAdjust="spacingAndGlyphs" font-size="32.5">A/P</text>
<text x="1431.3" y="1870.5" textLength="63.1" lengthAdjust="spacingAndGlyphs" font-size="32.5">A/P*</text>
<path d="M1418.2,1782.4L1433.8,1764.4M1427.8,1796L1418.2,1807.6L1429.8,1827.7M1420.2,1834.1L1432.6,1843.7" stroke="#231f20" stroke-width="1.2" fill="none"/>
</svg></body></html>
